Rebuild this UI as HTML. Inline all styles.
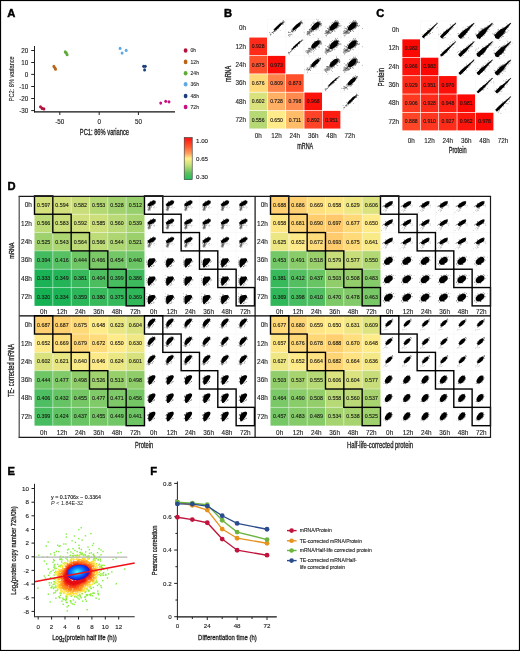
<!DOCTYPE html><html><head><meta charset="utf-8"><style>html,body{margin:0;padding:0;background:#fff;width:520px;height:651px;overflow:hidden}svg{display:block;will-change:transform;opacity:0.999;font-family:"Liberation Sans",sans-serif}.ti{stroke:#222;stroke-width:0.3px}.pl{stroke:#000;stroke-width:0.45px}.tk{stroke:#222;stroke-width:0.12px}</style></head><body><svg width="520" height="651" viewBox="0 0 520 651" font-family="'Liberation Sans', sans-serif">
<defs><g id="dTL0"><ellipse cx="5.00" cy="12.60" rx="1.10" ry="2.80" transform="rotate(18 5.00 12.60)" fill="#000" opacity="0.45"/><g fill="#000" opacity="0.5"><circle cx="4.16" cy="11.75" r="0.40"/><circle cx="6.05" cy="13.22" r="0.40"/><circle cx="4.93" cy="11.53" r="0.40"/><circle cx="3.12" cy="13.32" r="0.40"/><circle cx="7.12" cy="11.24" r="0.40"/><circle cx="4.26" cy="13.30" r="0.40"/><circle cx="3.47" cy="14.12" r="0.40"/><circle cx="5.47" cy="12.43" r="0.40"/><circle cx="5.87" cy="14.53" r="0.40"/><circle cx="6.91" cy="11.63" r="0.40"/><circle cx="4.76" cy="12.72" r="0.40"/><circle cx="5.06" cy="12.31" r="0.40"/><circle cx="3.81" cy="13.03" r="0.40"/><circle cx="4.78" cy="13.53" r="0.40"/><circle cx="3.51" cy="11.41" r="0.40"/><circle cx="5.11" cy="11.43" r="0.40"/></g><g fill="#000" opacity="0.4"><circle cx="8.77" cy="11.64" r="0.35"/><circle cx="10.17" cy="11.21" r="0.35"/><circle cx="11.66" cy="11.54" r="0.35"/><circle cx="10.17" cy="12.58" r="0.35"/><circle cx="9.91" cy="10.74" r="0.35"/><circle cx="8.85" cy="11.18" r="0.35"/></g><ellipse cx="7.20" cy="7.60" rx="4.40" ry="2.00" transform="rotate(-28 7.20 7.60)" fill="#000" opacity="1"/><g fill="#000" opacity="0.8"><circle cx="8.00" cy="9.68" r="0.40"/><circle cx="9.09" cy="4.30" r="0.40"/><circle cx="9.62" cy="8.42" r="0.40"/><circle cx="8.89" cy="9.17" r="0.40"/><circle cx="5.68" cy="5.82" r="0.40"/><circle cx="9.28" cy="9.06" r="0.40"/><circle cx="6.97" cy="10.58" r="0.40"/><circle cx="3.07" cy="8.16" r="0.40"/><circle cx="11.22" cy="5.67" r="0.40"/><circle cx="9.40" cy="4.63" r="0.40"/><circle cx="7.81" cy="4.92" r="0.40"/><circle cx="5.80" cy="5.37" r="0.40"/><circle cx="10.72" cy="4.99" r="0.40"/><circle cx="8.93" cy="4.60" r="0.40"/><circle cx="3.38" cy="9.82" r="0.40"/><circle cx="3.37" cy="10.83" r="0.40"/><circle cx="5.09" cy="10.67" r="0.40"/><circle cx="10.94" cy="7.24" r="0.40"/></g></g><g id="dTL1"><g fill="#000" opacity="0.45"><circle cx="10.16" cy="14.91" r="0.40"/><circle cx="2.39" cy="6.18" r="0.40"/><circle cx="6.19" cy="14.29" r="0.40"/><circle cx="6.06" cy="7.62" r="0.40"/><circle cx="5.01" cy="16.31" r="0.40"/><circle cx="2.36" cy="15.14" r="0.40"/><circle cx="8.07" cy="13.44" r="0.40"/><circle cx="8.80" cy="10.36" r="0.40"/><circle cx="6.15" cy="17.41" r="0.40"/><circle cx="5.34" cy="10.74" r="0.40"/><circle cx="2.30" cy="10.60" r="0.40"/><circle cx="8.72" cy="15.75" r="0.40"/><circle cx="8.45" cy="13.90" r="0.40"/><circle cx="8.26" cy="13.01" r="0.40"/></g><path d="M3.3 10 C3.5 8.5 5.6 7.6 8 7.4 C10.2 7.2 11.3 8 10.9 9.4 C10.4 11.2 8.5 13 6.9 14.4 C6 15.4 5.2 16.7 4.3 16.6 C3.5 16.4 3.1 13 3.3 10 Z" fill="#000"/><g fill="#000" opacity="0.8"><circle cx="11.42" cy="10.13" r="0.40"/><circle cx="8.82" cy="14.61" r="0.40"/><circle cx="11.76" cy="10.76" r="0.40"/><circle cx="4.88" cy="7.45" r="0.40"/><circle cx="9.36" cy="7.74" r="0.40"/><circle cx="4.50" cy="14.60" r="0.40"/><circle cx="5.54" cy="7.25" r="0.40"/><circle cx="7.20" cy="15.60" r="0.40"/><circle cx="9.56" cy="7.52" r="0.40"/><circle cx="7.39" cy="15.86" r="0.40"/><circle cx="10.53" cy="9.19" r="0.40"/><circle cx="2.73" cy="12.31" r="0.40"/><circle cx="2.52" cy="13.44" r="0.40"/><circle cx="3.83" cy="14.56" r="0.40"/><circle cx="2.30" cy="9.19" r="0.40"/><circle cx="3.00" cy="13.64" r="0.40"/><circle cx="9.66" cy="7.67" r="0.40"/><circle cx="10.38" cy="9.84" r="0.40"/><circle cx="10.80" cy="11.70" r="0.40"/><circle cx="10.55" cy="9.58" r="0.40"/><circle cx="5.11" cy="7.39" r="0.40"/><circle cx="2.14" cy="11.34" r="0.40"/></g></g><g id="dBL0"><ellipse cx="4.60" cy="11.00" rx="1.30" ry="2.20" transform="rotate(15 4.60 11.00)" fill="#000" opacity="0.35"/><g fill="#000" opacity="0.45"><circle cx="3.48" cy="10.76" r="0.40"/><circle cx="3.90" cy="10.50" r="0.40"/><circle cx="3.52" cy="10.30" r="0.40"/><circle cx="2.83" cy="11.47" r="0.40"/><circle cx="4.86" cy="11.96" r="0.40"/><circle cx="4.10" cy="11.07" r="0.40"/><circle cx="5.98" cy="10.96" r="0.40"/><circle cx="8.24" cy="11.15" r="0.40"/><circle cx="1.88" cy="11.67" r="0.40"/><circle cx="6.80" cy="11.33" r="0.40"/><circle cx="4.71" cy="12.21" r="0.40"/><circle cx="5.53" cy="10.53" r="0.40"/></g><path d="M3.6 7.4 C4 5.4 6.8 3.4 9.2 3 C10.8 2.8 11.2 3.8 10.4 5.4 C9.4 7.2 7.6 8.8 6.2 10 C5.4 10.7 4.6 11.2 4.1 10.8 C3.5 10.2 3.4 8.6 3.6 7.4 Z" fill="#000"/><g fill="#000" opacity="0.8"><circle cx="3.21" cy="9.24" r="0.40"/><circle cx="8.24" cy="10.26" r="0.40"/><circle cx="5.55" cy="4.19" r="0.40"/><circle cx="11.30" cy="5.71" r="0.40"/><circle cx="11.04" cy="3.91" r="0.40"/><circle cx="8.95" cy="9.03" r="0.40"/><circle cx="3.48" cy="9.52" r="0.40"/><circle cx="10.06" cy="2.53" r="0.40"/><circle cx="5.37" cy="10.06" r="0.40"/><circle cx="6.63" cy="3.77" r="0.40"/><circle cx="8.15" cy="2.84" r="0.40"/><circle cx="2.75" cy="8.66" r="0.40"/><circle cx="9.62" cy="3.41" r="0.40"/><circle cx="8.39" cy="2.65" r="0.40"/></g></g><g id="dBL1"><g fill="#000" opacity="0.45"><circle cx="7.08" cy="14.48" r="0.40"/><circle cx="4.79" cy="12.49" r="0.40"/><circle cx="2.80" cy="11.20" r="0.40"/><circle cx="2.96" cy="11.36" r="0.40"/><circle cx="5.43" cy="12.98" r="0.40"/><circle cx="4.84" cy="8.85" r="0.40"/><circle cx="3.68" cy="6.93" r="0.40"/><circle cx="9.44" cy="6.34" r="0.40"/><circle cx="5.77" cy="12.91" r="0.40"/><circle cx="5.30" cy="7.61" r="0.40"/></g><path d="M4 7.8 C4.4 5.8 7.2 4.4 9.6 4.5 C11.1 4.6 11.4 5.8 10.6 7.4 C9.6 9.6 8 11.4 6.8 12.9 C6 13.9 5 14.4 4.4 13.8 C3.6 12.8 3.6 9.8 4 7.8 Z" fill="#000"/><g fill="#000" opacity="0.8"><circle cx="5.56" cy="5.26" r="0.40"/><circle cx="3.07" cy="8.30" r="0.40"/><circle cx="4.08" cy="11.07" r="0.40"/><circle cx="9.35" cy="11.50" r="0.40"/><circle cx="6.95" cy="12.22" r="0.40"/><circle cx="6.75" cy="12.58" r="0.40"/><circle cx="10.15" cy="10.97" r="0.40"/><circle cx="3.62" cy="6.94" r="0.40"/><circle cx="8.36" cy="12.30" r="0.40"/><circle cx="3.60" cy="7.62" r="0.40"/><circle cx="4.38" cy="10.97" r="0.40"/><circle cx="3.41" cy="10.86" r="0.40"/><circle cx="10.21" cy="10.77" r="0.40"/><circle cx="3.74" cy="11.25" r="0.40"/><circle cx="5.07" cy="5.33" r="0.40"/><circle cx="9.49" cy="4.66" r="0.40"/><circle cx="8.22" cy="4.82" r="0.40"/><circle cx="3.65" cy="7.56" r="0.40"/></g></g><g id="dTR0"><g fill="#000" opacity="0.4"><circle cx="6.44" cy="12.24" r="0.40"/><circle cx="5.09" cy="10.15" r="0.40"/><circle cx="4.69" cy="15.87" r="0.40"/><circle cx="6.98" cy="11.78" r="0.40"/><circle cx="4.09" cy="13.17" r="0.40"/><circle cx="1.28" cy="16.29" r="0.40"/><circle cx="5.71" cy="14.45" r="0.40"/><circle cx="6.15" cy="13.06" r="0.40"/><circle cx="5.09" cy="14.95" r="0.40"/><circle cx="5.79" cy="12.81" r="0.40"/><circle cx="3.16" cy="14.59" r="0.40"/><circle cx="5.32" cy="11.85" r="0.40"/><circle cx="6.28" cy="14.62" r="0.40"/><circle cx="5.37" cy="13.76" r="0.40"/></g><g fill="#000" opacity="0.35"><circle cx="13.38" cy="10.85" r="0.35"/><circle cx="11.84" cy="9.11" r="0.35"/><circle cx="12.98" cy="11.19" r="0.35"/><circle cx="13.03" cy="8.90" r="0.35"/><circle cx="11.87" cy="9.78" r="0.35"/><circle cx="13.56" cy="9.82" r="0.35"/></g><ellipse cx="8.10" cy="8.60" rx="4.70" ry="2.00" transform="rotate(-32 8.10 8.60)" fill="#000" opacity="1"/><g fill="#000" opacity="0.8"><circle cx="11.76" cy="5.68" r="0.40"/><circle cx="12.20" cy="6.02" r="0.40"/><circle cx="11.16" cy="9.26" r="0.40"/><circle cx="6.47" cy="11.91" r="0.40"/><circle cx="10.61" cy="5.44" r="0.40"/><circle cx="7.05" cy="12.36" r="0.40"/><circle cx="3.31" cy="9.85" r="0.40"/><circle cx="11.50" cy="5.27" r="0.40"/><circle cx="5.31" cy="7.26" r="0.40"/><circle cx="3.72" cy="9.94" r="0.40"/><circle cx="7.54" cy="11.42" r="0.40"/><circle cx="2.82" cy="10.35" r="0.40"/><circle cx="11.61" cy="5.45" r="0.40"/><circle cx="2.18" cy="10.91" r="0.40"/><circle cx="5.58" cy="7.70" r="0.40"/><circle cx="11.98" cy="5.49" r="0.40"/></g></g><g id="dTR1"><g fill="#000" opacity="0.4"><circle cx="15.38" cy="6.23" r="0.40"/><circle cx="9.11" cy="9.11" r="0.40"/><circle cx="5.01" cy="8.05" r="0.40"/><circle cx="6.24" cy="9.66" r="0.40"/><circle cx="9.31" cy="13.44" r="0.40"/><circle cx="8.68" cy="13.68" r="0.40"/><circle cx="9.42" cy="10.22" r="0.40"/><circle cx="7.12" cy="6.56" r="0.40"/><circle cx="2.48" cy="9.56" r="0.40"/><circle cx="7.26" cy="10.91" r="0.40"/><circle cx="8.94" cy="5.56" r="0.40"/><circle cx="5.41" cy="6.03" r="0.40"/><circle cx="11.17" cy="9.41" r="0.40"/><circle cx="8.20" cy="6.75" r="0.40"/><circle cx="3.51" cy="7.81" r="0.40"/><circle cx="7.43" cy="11.32" r="0.40"/></g><ellipse cx="7.90" cy="10.00" rx="4.80" ry="3.10" transform="rotate(-38 7.90 10.00)" fill="#000" opacity="1"/><g fill="#000" opacity="0.8"><circle cx="4.99" cy="8.22" r="0.40"/><circle cx="12.02" cy="6.73" r="0.40"/><circle cx="11.11" cy="11.32" r="0.40"/><circle cx="6.06" cy="7.24" r="0.40"/><circle cx="11.94" cy="10.29" r="0.40"/><circle cx="5.96" cy="6.52" r="0.40"/><circle cx="4.05" cy="14.93" r="0.40"/><circle cx="13.63" cy="9.18" r="0.40"/><circle cx="2.81" cy="13.44" r="0.40"/><circle cx="4.78" cy="13.89" r="0.40"/><circle cx="8.46" cy="13.53" r="0.40"/><circle cx="6.21" cy="7.31" r="0.40"/><circle cx="8.45" cy="6.01" r="0.40"/><circle cx="8.47" cy="13.75" r="0.40"/><circle cx="2.69" cy="12.78" r="0.40"/><circle cx="11.10" cy="5.20" r="0.40"/><circle cx="8.13" cy="13.61" r="0.40"/><circle cx="12.27" cy="8.93" r="0.40"/><circle cx="3.97" cy="9.34" r="0.40"/><circle cx="12.75" cy="5.95" r="0.40"/></g></g><g id="dBR0"><g fill="#000" opacity="0.4"><circle cx="3.36" cy="14.52" r="0.40"/><circle cx="5.38" cy="11.91" r="0.40"/><circle cx="5.98" cy="11.37" r="0.40"/><circle cx="7.39" cy="13.38" r="0.40"/><circle cx="4.97" cy="13.62" r="0.40"/><circle cx="3.82" cy="13.33" r="0.40"/><circle cx="6.08" cy="13.89" r="0.40"/><circle cx="5.59" cy="11.35" r="0.40"/><circle cx="5.39" cy="10.98" r="0.40"/><circle cx="5.29" cy="11.92" r="0.40"/></g><ellipse cx="8.30" cy="7.60" rx="4.20" ry="1.80" transform="rotate(-45 8.30 7.60)" fill="#000" opacity="1"/><g fill="#000" opacity="0.8"><circle cx="6.93" cy="6.33" r="0.40"/><circle cx="4.79" cy="9.43" r="0.40"/><circle cx="11.69" cy="5.14" r="0.40"/><circle cx="12.46" cy="4.30" r="0.40"/><circle cx="5.32" cy="7.66" r="0.40"/><circle cx="10.79" cy="4.38" r="0.40"/><circle cx="11.99" cy="3.64" r="0.40"/><circle cx="7.63" cy="5.33" r="0.40"/><circle cx="12.12" cy="3.14" r="0.40"/><circle cx="10.20" cy="8.40" r="0.40"/><circle cx="12.10" cy="6.17" r="0.40"/><circle cx="11.32" cy="3.76" r="0.40"/></g></g><g id="dBR1"><g fill="#000" opacity="0.4"><circle cx="3.15" cy="12.53" r="0.40"/><circle cx="6.79" cy="11.31" r="0.40"/><circle cx="9.50" cy="10.68" r="0.40"/><circle cx="6.20" cy="14.20" r="0.40"/><circle cx="5.73" cy="11.45" r="0.40"/><circle cx="6.82" cy="10.27" r="0.40"/><circle cx="10.23" cy="10.46" r="0.40"/><circle cx="5.23" cy="12.86" r="0.40"/><circle cx="5.76" cy="9.42" r="0.40"/><circle cx="4.21" cy="10.99" r="0.40"/></g><ellipse cx="7.90" cy="8.90" rx="4.40" ry="2.60" transform="rotate(-52 7.90 8.90)" fill="#000" opacity="1"/><g fill="#000" opacity="0.8"><circle cx="11.85" cy="7.05" r="0.40"/><circle cx="11.46" cy="8.81" r="0.40"/><circle cx="11.85" cy="7.54" r="0.40"/><circle cx="10.62" cy="9.70" r="0.40"/><circle cx="7.04" cy="12.80" r="0.40"/><circle cx="11.06" cy="9.07" r="0.40"/><circle cx="10.94" cy="5.75" r="0.40"/><circle cx="10.60" cy="5.01" r="0.40"/><circle cx="8.79" cy="12.01" r="0.40"/><circle cx="8.98" cy="5.11" r="0.40"/><circle cx="4.84" cy="12.63" r="0.40"/><circle cx="10.00" cy="11.44" r="0.40"/><circle cx="10.33" cy="10.16" r="0.40"/><circle cx="11.02" cy="5.29" r="0.40"/><circle cx="6.07" cy="6.66" r="0.40"/><circle cx="4.65" cy="12.47" r="0.40"/></g></g><g id="th1"><g fill="#000" opacity="0.75"><circle cx="13.2" cy="4.9" r="0.42"/><circle cx="8.0" cy="10.3" r="0.42"/><circle cx="15.6" cy="3.5" r="0.42"/><circle cx="15.9" cy="2.9" r="0.42"/><circle cx="3.7" cy="15.8" r="0.42"/><circle cx="5.2" cy="14.3" r="0.42"/><circle cx="4.5" cy="14.8" r="0.42"/><circle cx="8.5" cy="11.8" r="0.42"/><circle cx="10.6" cy="7.3" r="0.42"/><circle cx="9.5" cy="10.0" r="0.42"/><circle cx="10.1" cy="9.9" r="0.42"/><circle cx="11.4" cy="8.7" r="0.42"/><circle cx="15.4" cy="3.6" r="0.42"/><circle cx="12.8" cy="5.3" r="0.42"/><circle cx="10.1" cy="7.8" r="0.42"/><circle cx="15.6" cy="4.5" r="0.42"/><circle cx="6.7" cy="12.5" r="0.42"/><circle cx="13.6" cy="6.0" r="0.42"/><circle cx="11.7" cy="8.8" r="0.42"/><circle cx="9.7" cy="8.9" r="0.42"/><circle cx="9.6" cy="10.0" r="0.42"/><circle cx="9.6" cy="9.7" r="0.42"/><circle cx="6.1" cy="13.1" r="0.42"/><circle cx="7.4" cy="11.0" r="0.42"/><circle cx="7.2" cy="11.9" r="0.42"/><circle cx="13.2" cy="6.5" r="0.42"/><circle cx="16.7" cy="2.9" r="0.42"/><circle cx="13.7" cy="6.5" r="0.42"/><circle cx="7.5" cy="10.8" r="0.42"/><circle cx="2.6" cy="15.2" r="0.42"/><circle cx="9.2" cy="9.4" r="0.42"/><circle cx="14.1" cy="4.3" r="0.42"/><circle cx="6.1" cy="11.5" r="0.42"/><circle cx="13.3" cy="6.1" r="0.42"/><circle cx="14.1" cy="5.2" r="0.42"/><circle cx="3.2" cy="15.1" r="0.42"/><circle cx="10.4" cy="8.3" r="0.42"/><circle cx="11.3" cy="8.0" r="0.42"/><circle cx="14.5" cy="5.0" r="0.42"/><circle cx="13.2" cy="5.6" r="0.42"/><circle cx="14.4" cy="4.7" r="0.42"/><circle cx="15.2" cy="4.2" r="0.42"/><circle cx="16.6" cy="2.8" r="0.42"/><circle cx="11.3" cy="9.3" r="0.42"/><circle cx="6.3" cy="12.8" r="0.42"/><circle cx="5.2" cy="14.3" r="0.42"/><circle cx="13.6" cy="6.6" r="0.42"/><circle cx="9.2" cy="8.7" r="0.42"/><circle cx="3.1" cy="15.0" r="0.42"/><circle cx="3.9" cy="15.1" r="0.42"/><circle cx="11.8" cy="8.5" r="0.42"/><circle cx="8.2" cy="9.9" r="0.42"/><circle cx="10.0" cy="8.6" r="0.42"/><circle cx="7.2" cy="11.6" r="0.42"/><circle cx="10.1" cy="9.0" r="0.42"/><circle cx="6.6" cy="11.1" r="0.42"/><circle cx="10.7" cy="7.8" r="0.42"/><circle cx="7.7" cy="11.0" r="0.42"/><circle cx="11.1" cy="7.9" r="0.42"/><circle cx="8.0" cy="10.4" r="0.42"/><circle cx="10.5" cy="8.5" r="0.42"/><circle cx="9.3" cy="10.2" r="0.42"/><circle cx="8.3" cy="9.3" r="0.42"/><circle cx="12.0" cy="6.8" r="0.42"/><circle cx="7.0" cy="12.0" r="0.42"/><circle cx="11.2" cy="7.8" r="0.42"/><circle cx="13.8" cy="4.2" r="0.42"/><circle cx="13.1" cy="6.5" r="0.42"/><circle cx="9.8" cy="8.3" r="0.42"/><circle cx="11.1" cy="8.0" r="0.42"/><circle cx="15.9" cy="3.5" r="0.42"/><circle cx="10.8" cy="7.1" r="0.42"/><circle cx="15.5" cy="4.4" r="0.42"/><circle cx="7.4" cy="11.6" r="0.42"/><circle cx="3.1" cy="16.5" r="0.42"/><circle cx="14.6" cy="4.4" r="0.42"/><circle cx="5.8" cy="13.4" r="0.42"/><circle cx="17.2" cy="2.9" r="0.42"/><circle cx="8.6" cy="10.5" r="0.42"/><circle cx="12.3" cy="6.7" r="0.42"/><circle cx="3.5" cy="17.1" r=".35"/><circle cx="5.5" cy="12.1" r=".35"/><circle cx="12.9" cy="5.4" r=".35"/><circle cx="7.8" cy="9.0" r=".35"/></g><ellipse cx="10.40" cy="8.20" rx="6.20" ry="0.75" transform="rotate(-43.798166935547876 10.40 8.20)" fill="#000" opacity="1"/></g><g id="th2"><g fill="#000" opacity="0.75"><circle cx="6.3" cy="12.8" r="0.42"/><circle cx="13.3" cy="5.5" r="0.42"/><circle cx="3.7" cy="15.2" r="0.42"/><circle cx="15.2" cy="5.1" r="0.42"/><circle cx="2.4" cy="13.4" r="0.42"/><circle cx="12.7" cy="5.7" r="0.42"/><circle cx="11.5" cy="6.9" r="0.42"/><circle cx="12.1" cy="6.2" r="0.42"/><circle cx="15.3" cy="4.3" r="0.42"/><circle cx="7.1" cy="12.5" r="0.42"/><circle cx="13.0" cy="6.6" r="0.42"/><circle cx="14.0" cy="4.5" r="0.42"/><circle cx="10.2" cy="8.2" r="0.42"/><circle cx="13.7" cy="5.7" r="0.42"/><circle cx="2.9" cy="15.6" r="0.42"/><circle cx="7.7" cy="12.6" r="0.42"/><circle cx="12.8" cy="5.8" r="0.42"/><circle cx="9.6" cy="8.9" r="0.42"/><circle cx="6.2" cy="14.4" r="0.42"/><circle cx="12.2" cy="5.3" r="0.42"/><circle cx="13.0" cy="5.5" r="0.42"/><circle cx="14.4" cy="5.0" r="0.42"/><circle cx="14.4" cy="4.1" r="0.42"/><circle cx="15.0" cy="5.1" r="0.42"/><circle cx="11.6" cy="7.5" r="0.42"/><circle cx="15.4" cy="4.2" r="0.42"/><circle cx="7.6" cy="11.6" r="0.42"/><circle cx="13.6" cy="5.4" r="0.42"/><circle cx="12.2" cy="5.1" r="0.42"/><circle cx="11.8" cy="7.9" r="0.42"/><circle cx="11.3" cy="7.5" r="0.42"/><circle cx="10.7" cy="9.9" r="0.42"/><circle cx="7.5" cy="12.6" r="0.42"/><circle cx="14.8" cy="4.8" r="0.42"/><circle cx="5.2" cy="13.6" r="0.42"/><circle cx="12.7" cy="6.8" r="0.42"/><circle cx="14.2" cy="5.0" r="0.42"/><circle cx="14.4" cy="5.6" r="0.42"/><circle cx="12.4" cy="6.4" r="0.42"/><circle cx="16.1" cy="5.1" r="0.42"/><circle cx="12.8" cy="6.2" r="0.42"/><circle cx="15.6" cy="3.5" r="0.42"/><circle cx="6.1" cy="10.4" r="0.42"/><circle cx="16.7" cy="2.6" r="0.42"/><circle cx="9.0" cy="9.7" r="0.42"/><circle cx="7.8" cy="11.1" r="0.42"/><circle cx="15.3" cy="4.2" r="0.42"/><circle cx="13.2" cy="4.0" r="0.42"/><circle cx="11.5" cy="9.0" r="0.42"/><circle cx="5.9" cy="13.2" r="0.42"/><circle cx="15.4" cy="3.1" r="0.42"/><circle cx="5.5" cy="13.5" r="0.42"/><circle cx="15.5" cy="3.5" r="0.42"/><circle cx="12.5" cy="5.7" r="0.42"/><circle cx="16.0" cy="1.8" r="0.42"/><circle cx="13.9" cy="4.9" r="0.42"/><circle cx="13.9" cy="5.1" r="0.42"/><circle cx="9.9" cy="8.2" r="0.42"/><circle cx="9.5" cy="10.2" r="0.42"/><circle cx="8.4" cy="10.4" r="0.42"/><circle cx="10.8" cy="8.4" r="0.42"/><circle cx="4.6" cy="13.5" r="0.42"/><circle cx="12.0" cy="7.0" r="0.42"/><circle cx="9.5" cy="9.6" r="0.42"/><circle cx="7.8" cy="10.9" r="0.42"/><circle cx="15.9" cy="3.2" r="0.42"/><circle cx="7.4" cy="11.4" r="0.42"/><circle cx="9.5" cy="11.4" r="0.42"/><circle cx="9.3" cy="10.2" r="0.42"/><circle cx="12.9" cy="5.1" r="0.42"/><circle cx="12.2" cy="7.5" r="0.42"/><circle cx="8.5" cy="10.8" r="0.42"/><circle cx="9.1" cy="9.3" r="0.42"/><circle cx="9.4" cy="9.9" r="0.42"/><circle cx="15.6" cy="4.8" r="0.42"/><circle cx="8.7" cy="8.3" r="0.42"/><circle cx="8.5" cy="9.6" r="0.42"/><circle cx="11.0" cy="9.2" r="0.42"/><circle cx="16.4" cy="3.4" r="0.42"/><circle cx="8.7" cy="11.0" r="0.42"/><circle cx="10.2" cy="8.7" r="0.42"/><circle cx="3.6" cy="15.5" r="0.42"/><circle cx="15.2" cy="3.4" r="0.42"/><circle cx="15.2" cy="3.7" r="0.42"/><circle cx="15.3" cy="4.6" r="0.42"/><circle cx="15.7" cy="3.3" r="0.42"/><circle cx="16.2" cy="3.2" r="0.42"/><circle cx="9.8" cy="8.3" r="0.42"/><circle cx="15.7" cy="2.5" r="0.42"/><circle cx="9.2" cy="8.3" r="0.42"/><circle cx="7.5" cy="9.8" r="0.42"/><circle cx="9.4" cy="10.1" r="0.42"/><circle cx="12.7" cy="5.3" r="0.42"/><circle cx="17.4" cy="3.3" r="0.42"/><circle cx="5.9" cy="12.4" r="0.42"/><circle cx="14.7" cy="3.2" r="0.42"/><circle cx="11.2" cy="6.9" r="0.42"/><circle cx="10.6" cy="8.1" r="0.42"/><circle cx="11.7" cy="5.8" r="0.42"/><circle cx="7.7" cy="10.8" r="0.42"/><circle cx="15.7" cy="1.9" r=".35"/><circle cx="3.5" cy="14.9" r=".35"/><circle cx="5.1" cy="13.8" r=".35"/><circle cx="3.0" cy="16.8" r=".35"/><circle cx="9.6" cy="8.5" r=".35"/><circle cx="12.9" cy="11.4" r=".35"/></g><ellipse cx="10.80" cy="7.80" rx="5.60" ry="1.15" transform="rotate(-43.798166935547876 10.80 7.80)" fill="#000" opacity="1"/></g><g id="th3"><g fill="#000" opacity="0.75"><circle cx="8.9" cy="8.9" r="0.42"/><circle cx="15.5" cy="1.9" r="0.42"/><circle cx="9.1" cy="9.1" r="0.42"/><circle cx="14.9" cy="4.5" r="0.42"/><circle cx="6.9" cy="10.3" r="0.42"/><circle cx="15.4" cy="3.6" r="0.42"/><circle cx="5.8" cy="12.7" r="0.42"/><circle cx="11.5" cy="7.0" r="0.42"/><circle cx="7.1" cy="12.4" r="0.42"/><circle cx="5.2" cy="15.2" r="0.42"/><circle cx="13.2" cy="7.0" r="0.42"/><circle cx="8.3" cy="12.4" r="0.42"/><circle cx="3.7" cy="17.3" r="0.42"/><circle cx="8.9" cy="8.5" r="0.42"/><circle cx="14.3" cy="3.3" r="0.42"/><circle cx="11.2" cy="8.8" r="0.42"/><circle cx="13.8" cy="6.1" r="0.42"/><circle cx="8.5" cy="8.6" r="0.42"/><circle cx="6.5" cy="9.4" r="0.42"/><circle cx="13.4" cy="5.5" r="0.42"/><circle cx="5.8" cy="12.7" r="0.42"/><circle cx="12.8" cy="6.3" r="0.42"/><circle cx="13.8" cy="5.0" r="0.42"/><circle cx="11.8" cy="9.0" r="0.42"/><circle cx="11.2" cy="7.3" r="0.42"/><circle cx="9.9" cy="8.1" r="0.42"/><circle cx="12.0" cy="7.6" r="0.42"/><circle cx="16.9" cy="4.9" r="0.42"/><circle cx="10.0" cy="8.9" r="0.42"/><circle cx="13.1" cy="7.3" r="0.42"/><circle cx="10.3" cy="8.2" r="0.42"/><circle cx="11.9" cy="5.8" r="0.42"/><circle cx="12.8" cy="5.8" r="0.42"/><circle cx="12.1" cy="6.8" r="0.42"/><circle cx="11.9" cy="7.4" r="0.42"/><circle cx="14.6" cy="5.3" r="0.42"/><circle cx="15.2" cy="3.1" r="0.42"/><circle cx="11.2" cy="8.5" r="0.42"/><circle cx="6.6" cy="11.7" r="0.42"/><circle cx="7.2" cy="13.5" r="0.42"/><circle cx="12.3" cy="6.5" r="0.42"/><circle cx="16.1" cy="3.3" r="0.42"/><circle cx="9.0" cy="9.5" r="0.42"/><circle cx="13.5" cy="5.2" r="0.42"/><circle cx="13.0" cy="5.0" r="0.42"/><circle cx="13.4" cy="3.9" r="0.42"/><circle cx="14.0" cy="3.7" r="0.42"/><circle cx="14.7" cy="5.3" r="0.42"/><circle cx="16.1" cy="3.2" r="0.42"/><circle cx="15.5" cy="3.9" r="0.42"/><circle cx="9.0" cy="9.4" r="0.42"/><circle cx="12.5" cy="5.2" r="0.42"/><circle cx="15.1" cy="3.8" r="0.42"/><circle cx="13.9" cy="4.5" r="0.42"/><circle cx="10.5" cy="9.6" r="0.42"/><circle cx="11.5" cy="8.0" r="0.42"/><circle cx="7.6" cy="11.1" r="0.42"/><circle cx="13.7" cy="6.4" r="0.42"/><circle cx="11.2" cy="5.9" r="0.42"/><circle cx="9.7" cy="11.7" r="0.42"/><circle cx="14.0" cy="4.6" r="0.42"/><circle cx="13.6" cy="7.5" r="0.42"/><circle cx="6.0" cy="11.7" r="0.42"/><circle cx="7.1" cy="12.5" r="0.42"/><circle cx="13.1" cy="5.0" r="0.42"/><circle cx="10.6" cy="8.0" r="0.42"/><circle cx="14.4" cy="6.8" r="0.42"/><circle cx="9.8" cy="9.5" r="0.42"/><circle cx="6.2" cy="12.3" r="0.42"/><circle cx="15.1" cy="3.5" r="0.42"/><circle cx="14.9" cy="4.0" r="0.42"/><circle cx="11.1" cy="8.8" r="0.42"/><circle cx="10.4" cy="10.8" r="0.42"/><circle cx="15.5" cy="3.9" r="0.42"/><circle cx="13.2" cy="7.1" r="0.42"/><circle cx="7.3" cy="10.8" r="0.42"/><circle cx="12.1" cy="7.8" r="0.42"/><circle cx="9.1" cy="10.3" r="0.42"/><circle cx="2.9" cy="13.1" r="0.42"/><circle cx="3.6" cy="13.8" r="0.42"/><circle cx="5.5" cy="11.0" r="0.42"/><circle cx="6.9" cy="12.5" r="0.42"/><circle cx="14.3" cy="3.9" r="0.42"/><circle cx="15.4" cy="4.1" r="0.42"/><circle cx="14.8" cy="2.5" r="0.42"/><circle cx="11.6" cy="8.4" r="0.42"/><circle cx="7.8" cy="10.2" r="0.42"/><circle cx="7.7" cy="11.2" r="0.42"/><circle cx="7.9" cy="10.0" r="0.42"/><circle cx="10.2" cy="7.7" r="0.42"/><circle cx="9.9" cy="11.4" r="0.42"/><circle cx="4.9" cy="13.7" r="0.42"/><circle cx="8.7" cy="8.6" r="0.42"/><circle cx="3.5" cy="15.8" r="0.42"/><circle cx="2.9" cy="16.1" r="0.42"/><circle cx="16.3" cy="4.1" r="0.42"/><circle cx="14.1" cy="4.4" r="0.42"/><circle cx="12.3" cy="8.4" r="0.42"/><circle cx="4.7" cy="16.1" r="0.42"/><circle cx="6.4" cy="11.9" r="0.42"/><circle cx="9.2" cy="10.0" r="0.42"/><circle cx="10.1" cy="9.7" r="0.42"/><circle cx="14.8" cy="3.0" r="0.42"/><circle cx="15.4" cy="5.0" r="0.42"/><circle cx="8.5" cy="8.4" r="0.42"/><circle cx="10.5" cy="9.7" r="0.42"/><circle cx="14.0" cy="5.3" r="0.42"/><circle cx="6.0" cy="15.2" r="0.42"/><circle cx="11.6" cy="7.5" r="0.42"/><circle cx="13.8" cy="5.9" r="0.42"/><circle cx="6.4" cy="13.0" r="0.42"/><circle cx="16.1" cy="2.3" r="0.42"/><circle cx="9.8" cy="11.9" r="0.42"/><circle cx="12.5" cy="6.2" r="0.42"/><circle cx="10.0" cy="9.6" r="0.42"/><circle cx="7.5" cy="11.3" r="0.42"/><circle cx="12.9" cy="7.1" r="0.42"/><circle cx="2.9" cy="13.8" r="0.42"/><circle cx="11.3" cy="8.0" r="0.42"/><circle cx="16.8" cy="3.7" r="0.42"/><circle cx="4.0" cy="16.1" r=".35"/><circle cx="7.4" cy="11.7" r=".35"/><circle cx="6.4" cy="16.0" r=".35"/><circle cx="12.9" cy="5.3" r=".35"/><circle cx="12.1" cy="6.7" r=".35"/><circle cx="2.6" cy="16.5" r=".35"/><circle cx="3.3" cy="13.3" r=".35"/><circle cx="14.3" cy="7.1" r=".35"/></g><ellipse cx="11.00" cy="7.60" rx="5.40" ry="1.55" transform="rotate(-43.798166935547876 11.00 7.60)" fill="#000" opacity="1"/></g><g id="th4"><g fill="#000" opacity="0.75"><circle cx="15.2" cy="6.1" r="0.42"/><circle cx="7.9" cy="10.8" r="0.42"/><circle cx="5.7" cy="13.7" r="0.42"/><circle cx="16.4" cy="3.1" r="0.42"/><circle cx="14.1" cy="5.0" r="0.42"/><circle cx="13.2" cy="6.3" r="0.42"/><circle cx="11.7" cy="8.3" r="0.42"/><circle cx="13.3" cy="4.0" r="0.42"/><circle cx="14.6" cy="4.8" r="0.42"/><circle cx="15.7" cy="3.1" r="0.42"/><circle cx="14.0" cy="3.6" r="0.42"/><circle cx="13.7" cy="7.7" r="0.42"/><circle cx="15.3" cy="4.8" r="0.42"/><circle cx="11.1" cy="6.1" r="0.42"/><circle cx="7.3" cy="10.8" r="0.42"/><circle cx="10.9" cy="11.9" r="0.42"/><circle cx="11.8" cy="6.8" r="0.42"/><circle cx="16.3" cy="4.2" r="0.42"/><circle cx="6.6" cy="15.1" r="0.42"/><circle cx="13.7" cy="7.0" r="0.42"/><circle cx="8.1" cy="10.5" r="0.42"/><circle cx="11.3" cy="9.2" r="0.42"/><circle cx="11.9" cy="3.9" r="0.42"/><circle cx="5.0" cy="13.8" r="0.42"/><circle cx="10.9" cy="8.3" r="0.42"/><circle cx="7.7" cy="12.0" r="0.42"/><circle cx="7.1" cy="10.8" r="0.42"/><circle cx="9.9" cy="10.9" r="0.42"/><circle cx="13.6" cy="6.2" r="0.42"/><circle cx="9.1" cy="10.8" r="0.42"/><circle cx="5.9" cy="14.2" r="0.42"/><circle cx="13.0" cy="4.9" r="0.42"/><circle cx="14.3" cy="5.9" r="0.42"/><circle cx="4.3" cy="14.6" r="0.42"/><circle cx="14.2" cy="5.9" r="0.42"/><circle cx="9.6" cy="8.3" r="0.42"/><circle cx="14.0" cy="5.9" r="0.42"/><circle cx="14.1" cy="4.7" r="0.42"/><circle cx="9.0" cy="10.4" r="0.42"/><circle cx="4.1" cy="14.5" r="0.42"/><circle cx="13.4" cy="7.0" r="0.42"/><circle cx="3.0" cy="14.3" r="0.42"/><circle cx="11.2" cy="5.7" r="0.42"/><circle cx="9.7" cy="10.1" r="0.42"/><circle cx="13.0" cy="2.9" r="0.42"/><circle cx="10.8" cy="7.6" r="0.42"/><circle cx="16.1" cy="3.0" r="0.42"/><circle cx="16.4" cy="2.5" r="0.42"/><circle cx="9.0" cy="9.7" r="0.42"/><circle cx="9.5" cy="9.8" r="0.42"/><circle cx="11.2" cy="6.9" r="0.42"/><circle cx="9.3" cy="12.0" r="0.42"/><circle cx="13.1" cy="6.6" r="0.42"/><circle cx="15.9" cy="3.3" r="0.42"/><circle cx="8.2" cy="9.2" r="0.42"/><circle cx="7.5" cy="11.1" r="0.42"/><circle cx="13.9" cy="6.1" r="0.42"/><circle cx="11.9" cy="7.1" r="0.42"/><circle cx="12.4" cy="5.6" r="0.42"/><circle cx="12.7" cy="5.1" r="0.42"/><circle cx="14.1" cy="3.0" r="0.42"/><circle cx="9.2" cy="11.1" r="0.42"/><circle cx="10.3" cy="8.7" r="0.42"/><circle cx="11.8" cy="7.0" r="0.42"/><circle cx="10.8" cy="10.6" r="0.42"/><circle cx="14.1" cy="6.8" r="0.42"/><circle cx="15.2" cy="4.7" r="0.42"/><circle cx="16.0" cy="3.4" r="0.42"/><circle cx="12.1" cy="10.5" r="0.42"/><circle cx="3.8" cy="13.1" r="0.42"/><circle cx="2.2" cy="14.3" r="0.42"/><circle cx="13.5" cy="6.7" r="0.42"/><circle cx="9.9" cy="9.0" r="0.42"/><circle cx="5.6" cy="13.6" r="0.42"/><circle cx="6.0" cy="10.7" r="0.42"/><circle cx="12.8" cy="7.8" r="0.42"/><circle cx="11.2" cy="7.9" r="0.42"/><circle cx="14.1" cy="5.5" r="0.42"/><circle cx="8.9" cy="9.8" r="0.42"/><circle cx="7.1" cy="12.9" r="0.42"/><circle cx="11.3" cy="10.4" r="0.42"/><circle cx="9.8" cy="8.7" r="0.42"/><circle cx="11.7" cy="6.5" r="0.42"/><circle cx="3.7" cy="12.5" r="0.42"/><circle cx="10.4" cy="7.9" r="0.42"/><circle cx="4.3" cy="13.8" r="0.42"/><circle cx="13.1" cy="7.6" r="0.42"/><circle cx="9.6" cy="8.1" r="0.42"/><circle cx="13.1" cy="5.5" r="0.42"/><circle cx="6.8" cy="9.7" r="0.42"/><circle cx="13.1" cy="6.0" r="0.42"/><circle cx="7.9" cy="8.6" r="0.42"/><circle cx="8.5" cy="9.7" r="0.42"/><circle cx="14.3" cy="4.9" r="0.42"/><circle cx="12.9" cy="7.2" r="0.42"/><circle cx="11.2" cy="8.7" r="0.42"/><circle cx="11.6" cy="7.2" r="0.42"/><circle cx="12.1" cy="7.5" r="0.42"/><circle cx="13.4" cy="6.5" r="0.42"/><circle cx="9.4" cy="8.5" r="0.42"/><circle cx="14.3" cy="5.9" r="0.42"/><circle cx="10.2" cy="9.1" r="0.42"/><circle cx="13.6" cy="5.4" r="0.42"/><circle cx="12.8" cy="6.2" r="0.42"/><circle cx="8.6" cy="10.2" r="0.42"/><circle cx="16.3" cy="3.0" r="0.42"/><circle cx="6.4" cy="10.9" r="0.42"/><circle cx="11.0" cy="6.5" r="0.42"/><circle cx="10.3" cy="11.1" r="0.42"/><circle cx="6.5" cy="9.3" r="0.42"/><circle cx="11.3" cy="5.5" r="0.42"/><circle cx="9.1" cy="10.5" r="0.42"/><circle cx="12.1" cy="6.9" r="0.42"/><circle cx="12.3" cy="7.1" r="0.42"/><circle cx="9.3" cy="8.8" r="0.42"/><circle cx="12.7" cy="5.1" r="0.42"/><circle cx="4.5" cy="14.0" r="0.42"/><circle cx="5.2" cy="13.4" r="0.42"/><circle cx="15.8" cy="4.9" r="0.42"/><circle cx="9.6" cy="9.3" r="0.42"/><circle cx="10.4" cy="8.4" r="0.42"/><circle cx="16.6" cy="2.7" r="0.42"/><circle cx="7.5" cy="11.2" r="0.42"/><circle cx="13.7" cy="5.8" r="0.42"/><circle cx="3.0" cy="12.5" r="0.42"/><circle cx="8.7" cy="10.8" r="0.42"/><circle cx="15.4" cy="3.4" r="0.42"/><circle cx="14.6" cy="1.9" r="0.42"/><circle cx="9.1" cy="11.3" r="0.42"/><circle cx="10.3" cy="9.0" r="0.42"/><circle cx="11.1" cy="9.3" r="0.42"/><circle cx="11.9" cy="7.9" r="0.42"/><circle cx="9.5" cy="12.3" r="0.42"/><circle cx="13.5" cy="4.1" r="0.42"/><circle cx="6.5" cy="12.0" r="0.42"/><circle cx="9.7" cy="10.1" r="0.42"/><circle cx="13.5" cy="5.0" r="0.42"/><circle cx="3.1" cy="14.2" r="0.42"/><circle cx="5.9" cy="13.2" r="0.42"/><circle cx="10.2" cy="8.8" r="0.42"/><circle cx="5.0" cy="12.1" r=".35"/><circle cx="15.6" cy="4.0" r=".35"/><circle cx="5.3" cy="13.1" r=".35"/><circle cx="6.4" cy="14.9" r=".35"/><circle cx="3.6" cy="15.4" r=".35"/><circle cx="6.0" cy="11.5" r=".35"/><circle cx="0.9" cy="14.3" r=".35"/><circle cx="15.0" cy="3.0" r=".35"/><circle cx="3.4" cy="16.8" r=".35"/><circle cx="7.2" cy="11.1" r=".35"/></g><ellipse cx="11.20" cy="7.40" rx="5.20" ry="1.95" transform="rotate(-43.798166935547876 11.20 7.40)" fill="#000" opacity="1"/></g><g id="th5"><g fill="#000" opacity="0.75"><circle cx="14.9" cy="4.4" r="0.42"/><circle cx="11.9" cy="7.2" r="0.42"/><circle cx="10.3" cy="8.5" r="0.42"/><circle cx="15.7" cy="2.3" r="0.42"/><circle cx="15.6" cy="4.2" r="0.42"/><circle cx="2.6" cy="11.3" r="0.42"/><circle cx="8.7" cy="12.1" r="0.42"/><circle cx="11.9" cy="5.1" r="0.42"/><circle cx="16.3" cy="4.8" r="0.42"/><circle cx="13.1" cy="6.1" r="0.42"/><circle cx="14.7" cy="6.1" r="0.42"/><circle cx="3.5" cy="13.4" r="0.42"/><circle cx="15.3" cy="7.7" r="0.42"/><circle cx="7.4" cy="12.8" r="0.42"/><circle cx="10.9" cy="6.8" r="0.42"/><circle cx="15.0" cy="2.6" r="0.42"/><circle cx="15.3" cy="6.0" r="0.42"/><circle cx="14.6" cy="5.8" r="0.42"/><circle cx="16.7" cy="3.8" r="0.42"/><circle cx="7.9" cy="8.6" r="0.42"/><circle cx="12.4" cy="7.7" r="0.42"/><circle cx="7.5" cy="10.6" r="0.42"/><circle cx="17.0" cy="4.0" r="0.42"/><circle cx="15.5" cy="3.6" r="0.42"/><circle cx="12.4" cy="6.9" r="0.42"/><circle cx="13.2" cy="7.6" r="0.42"/><circle cx="14.5" cy="3.5" r="0.42"/><circle cx="10.3" cy="6.5" r="0.42"/><circle cx="10.5" cy="7.0" r="0.42"/><circle cx="15.0" cy="3.5" r="0.42"/><circle cx="10.7" cy="6.9" r="0.42"/><circle cx="13.9" cy="5.1" r="0.42"/><circle cx="6.0" cy="13.1" r="0.42"/><circle cx="10.4" cy="5.3" r="0.42"/><circle cx="14.0" cy="2.8" r="0.42"/><circle cx="13.5" cy="5.3" r="0.42"/><circle cx="3.6" cy="12.1" r="0.42"/><circle cx="12.0" cy="7.0" r="0.42"/><circle cx="10.3" cy="8.7" r="0.42"/><circle cx="9.9" cy="6.7" r="0.42"/><circle cx="8.5" cy="14.4" r="0.42"/><circle cx="5.6" cy="12.8" r="0.42"/><circle cx="11.8" cy="8.7" r="0.42"/><circle cx="12.5" cy="4.3" r="0.42"/><circle cx="4.5" cy="14.7" r="0.42"/><circle cx="10.3" cy="8.7" r="0.42"/><circle cx="13.9" cy="3.3" r="0.42"/><circle cx="16.0" cy="3.7" r="0.42"/><circle cx="12.1" cy="5.3" r="0.42"/><circle cx="7.1" cy="9.2" r="0.42"/><circle cx="12.0" cy="5.3" r="0.42"/><circle cx="12.7" cy="8.2" r="0.42"/><circle cx="14.3" cy="3.9" r="0.42"/><circle cx="15.9" cy="5.6" r="0.42"/><circle cx="13.9" cy="5.2" r="0.42"/><circle cx="5.3" cy="10.2" r="0.42"/><circle cx="11.4" cy="9.1" r="0.42"/><circle cx="12.0" cy="5.5" r="0.42"/><circle cx="4.6" cy="9.4" r="0.42"/><circle cx="11.3" cy="9.0" r="0.42"/><circle cx="8.6" cy="11.3" r="0.42"/><circle cx="10.3" cy="7.8" r="0.42"/><circle cx="8.0" cy="15.1" r="0.42"/><circle cx="13.4" cy="4.4" r="0.42"/><circle cx="11.1" cy="9.0" r="0.42"/><circle cx="13.9" cy="4.8" r="0.42"/><circle cx="15.3" cy="5.8" r="0.42"/><circle cx="10.5" cy="10.2" r="0.42"/><circle cx="16.5" cy="3.3" r="0.42"/><circle cx="11.7" cy="8.0" r="0.42"/><circle cx="15.1" cy="2.6" r="0.42"/><circle cx="14.3" cy="5.1" r="0.42"/><circle cx="11.6" cy="5.4" r="0.42"/><circle cx="7.9" cy="10.8" r="0.42"/><circle cx="14.6" cy="2.3" r="0.42"/><circle cx="2.8" cy="12.9" r="0.42"/><circle cx="6.4" cy="9.1" r="0.42"/><circle cx="8.7" cy="9.2" r="0.42"/><circle cx="15.2" cy="4.7" r="0.42"/><circle cx="14.2" cy="9.6" r="0.42"/><circle cx="14.5" cy="3.7" r="0.42"/><circle cx="8.5" cy="7.9" r="0.42"/><circle cx="16.0" cy="5.1" r="0.42"/><circle cx="4.4" cy="13.3" r="0.42"/><circle cx="8.2" cy="8.8" r="0.42"/><circle cx="14.5" cy="5.2" r="0.42"/><circle cx="15.4" cy="6.8" r="0.42"/><circle cx="16.3" cy="3.6" r="0.42"/><circle cx="7.0" cy="14.0" r="0.42"/><circle cx="11.1" cy="7.0" r="0.42"/><circle cx="13.0" cy="5.9" r="0.42"/><circle cx="11.1" cy="7.9" r="0.42"/><circle cx="13.8" cy="5.2" r="0.42"/><circle cx="9.1" cy="10.8" r="0.42"/><circle cx="3.9" cy="13.8" r="0.42"/><circle cx="7.8" cy="12.7" r="0.42"/><circle cx="14.9" cy="4.4" r="0.42"/><circle cx="12.6" cy="6.2" r="0.42"/><circle cx="11.4" cy="7.5" r="0.42"/><circle cx="16.5" cy="4.2" r="0.42"/><circle cx="10.5" cy="8.8" r="0.42"/><circle cx="9.7" cy="8.4" r="0.42"/><circle cx="15.2" cy="5.3" r="0.42"/><circle cx="7.3" cy="7.5" r="0.42"/><circle cx="6.7" cy="11.1" r="0.42"/><circle cx="5.3" cy="14.4" r="0.42"/><circle cx="8.5" cy="11.0" r="0.42"/><circle cx="16.6" cy="4.7" r="0.42"/><circle cx="13.6" cy="4.6" r="0.42"/><circle cx="7.7" cy="8.8" r="0.42"/><circle cx="15.5" cy="6.6" r="0.42"/><circle cx="11.6" cy="6.8" r="0.42"/><circle cx="9.5" cy="8.2" r="0.42"/><circle cx="11.9" cy="8.4" r="0.42"/><circle cx="14.6" cy="5.8" r="0.42"/><circle cx="12.3" cy="6.9" r="0.42"/><circle cx="11.5" cy="9.1" r="0.42"/><circle cx="15.2" cy="3.1" r="0.42"/><circle cx="11.6" cy="7.1" r="0.42"/><circle cx="14.2" cy="3.1" r="0.42"/><circle cx="13.3" cy="4.8" r="0.42"/><circle cx="11.0" cy="6.1" r="0.42"/><circle cx="12.3" cy="8.3" r="0.42"/><circle cx="8.9" cy="8.1" r="0.42"/><circle cx="4.2" cy="13.3" r="0.42"/><circle cx="9.1" cy="9.1" r="0.42"/><circle cx="8.5" cy="10.0" r="0.42"/><circle cx="10.4" cy="5.3" r="0.42"/><circle cx="9.2" cy="9.8" r="0.42"/><circle cx="9.1" cy="10.1" r="0.42"/><circle cx="4.8" cy="17.1" r="0.42"/><circle cx="9.1" cy="7.6" r="0.42"/><circle cx="13.9" cy="4.9" r="0.42"/><circle cx="8.9" cy="6.5" r="0.42"/><circle cx="13.8" cy="5.0" r="0.42"/><circle cx="12.1" cy="6.7" r="0.42"/><circle cx="12.8" cy="7.2" r="0.42"/><circle cx="9.5" cy="10.4" r="0.42"/><circle cx="12.9" cy="7.0" r="0.42"/><circle cx="10.3" cy="10.3" r="0.42"/><circle cx="7.7" cy="10.3" r="0.42"/><circle cx="10.4" cy="7.2" r="0.42"/><circle cx="6.8" cy="9.5" r="0.42"/><circle cx="12.0" cy="7.9" r="0.42"/><circle cx="13.5" cy="4.2" r="0.42"/><circle cx="11.0" cy="8.9" r="0.42"/><circle cx="9.5" cy="5.7" r="0.42"/><circle cx="15.2" cy="4.2" r="0.42"/><circle cx="15.1" cy="1.2" r="0.42"/><circle cx="17.0" cy="5.9" r="0.42"/><circle cx="11.8" cy="6.8" r="0.42"/><circle cx="7.0" cy="12.0" r="0.42"/><circle cx="8.6" cy="11.1" r="0.42"/><circle cx="14.1" cy="4.2" r="0.42"/><circle cx="10.3" cy="12.7" r="0.42"/><circle cx="6.4" cy="12.0" r="0.42"/><circle cx="14.2" cy="7.4" r="0.42"/><circle cx="8.6" cy="10.3" r="0.42"/><circle cx="11.6" cy="8.3" r="0.42"/><circle cx="16.6" cy="4.6" r="0.42"/><circle cx="9.0" cy="10.7" r=".35"/><circle cx="14.0" cy="2.6" r=".35"/><circle cx="5.3" cy="8.8" r=".35"/><circle cx="4.2" cy="10.5" r=".35"/><circle cx="3.9" cy="15.1" r=".35"/><circle cx="4.9" cy="13.3" r=".35"/><circle cx="5.0" cy="15.0" r=".35"/><circle cx="17.9" cy="6.2" r=".35"/><circle cx="2.7" cy="14.9" r=".35"/><circle cx="7.1" cy="11.7" r=".35"/><circle cx="4.7" cy="15.9" r=".35"/><circle cx="5.3" cy="11.0" r=".35"/></g><ellipse cx="11.30" cy="7.30" rx="5.20" ry="2.25" transform="rotate(-43.798166935547876 11.30 7.30)" fill="#000" opacity="1"/></g><g id="blobA"><g fill="#000" opacity="0.75"><circle cx="14.0" cy="5.9" r="0.42"/><circle cx="12.9" cy="9.4" r="0.42"/><circle cx="7.8" cy="12.8" r="0.42"/><circle cx="15.4" cy="6.9" r="0.42"/><circle cx="14.0" cy="9.6" r="0.42"/><circle cx="13.1" cy="6.2" r="0.42"/><circle cx="7.4" cy="12.9" r="0.42"/><circle cx="10.2" cy="9.0" r="0.42"/><circle cx="12.1" cy="10.2" r="0.42"/><circle cx="8.1" cy="10.0" r="0.42"/><circle cx="17.5" cy="4.7" r="0.42"/><circle cx="10.9" cy="10.0" r="0.42"/><circle cx="13.9" cy="3.1" r="0.42"/><circle cx="10.3" cy="8.5" r="0.42"/><circle cx="15.6" cy="2.7" r="0.42"/><circle cx="8.8" cy="7.5" r="0.42"/><circle cx="16.0" cy="3.1" r="0.42"/><circle cx="14.3" cy="8.9" r="0.42"/><circle cx="9.2" cy="7.3" r="0.42"/><circle cx="12.8" cy="8.7" r="0.42"/><circle cx="17.7" cy="5.3" r="0.42"/><circle cx="9.0" cy="8.9" r="0.42"/><circle cx="14.8" cy="4.4" r="0.42"/><circle cx="6.2" cy="16.5" r="0.42"/><circle cx="12.5" cy="9.3" r="0.42"/><circle cx="16.8" cy="6.5" r="0.42"/><circle cx="12.5" cy="8.2" r="0.42"/><circle cx="11.1" cy="8.3" r="0.42"/><circle cx="13.9" cy="6.1" r="0.42"/><circle cx="11.2" cy="7.4" r="0.42"/><circle cx="6.2" cy="9.3" r="0.42"/><circle cx="13.6" cy="5.4" r="0.42"/><circle cx="14.2" cy="7.9" r="0.42"/><circle cx="15.8" cy="4.5" r="0.42"/><circle cx="11.9" cy="5.9" r="0.42"/><circle cx="10.5" cy="9.7" r="0.42"/><circle cx="13.4" cy="7.9" r="0.42"/><circle cx="5.3" cy="11.1" r="0.42"/><circle cx="9.4" cy="10.0" r="0.42"/><circle cx="14.1" cy="3.8" r="0.42"/><circle cx="9.9" cy="8.1" r="0.42"/><circle cx="4.5" cy="12.7" r="0.42"/><circle cx="11.8" cy="8.8" r="0.42"/><circle cx="17.7" cy="6.9" r="0.42"/><circle cx="13.5" cy="7.6" r="0.42"/><circle cx="7.7" cy="11.9" r="0.42"/><circle cx="17.0" cy="4.8" r="0.42"/><circle cx="16.4" cy="5.9" r="0.42"/><circle cx="11.7" cy="5.2" r="0.42"/><circle cx="15.5" cy="4.7" r="0.42"/><circle cx="9.8" cy="12.3" r="0.42"/><circle cx="10.9" cy="8.9" r="0.42"/><circle cx="8.1" cy="8.3" r="0.42"/><circle cx="10.4" cy="7.9" r="0.42"/><circle cx="14.0" cy="6.5" r="0.42"/><circle cx="13.9" cy="10.3" r="0.42"/><circle cx="10.0" cy="8.0" r="0.42"/><circle cx="4.3" cy="14.2" r="0.42"/><circle cx="9.7" cy="9.6" r="0.42"/><circle cx="14.0" cy="3.2" r="0.42"/><circle cx="14.6" cy="5.1" r="0.42"/><circle cx="7.1" cy="13.7" r="0.42"/><circle cx="12.1" cy="5.5" r="0.42"/><circle cx="11.7" cy="9.1" r="0.42"/><circle cx="13.6" cy="5.0" r="0.42"/><circle cx="16.1" cy="2.9" r="0.42"/><circle cx="16.7" cy="4.7" r="0.42"/><circle cx="11.1" cy="8.2" r="0.42"/><circle cx="13.8" cy="8.6" r="0.42"/><circle cx="8.4" cy="8.1" r="0.42"/><circle cx="13.5" cy="6.2" r="0.42"/><circle cx="13.7" cy="7.7" r="0.42"/><circle cx="16.1" cy="5.6" r="0.42"/><circle cx="15.3" cy="5.3" r="0.42"/><circle cx="5.8" cy="10.5" r="0.42"/><circle cx="9.1" cy="7.9" r="0.42"/><circle cx="12.4" cy="7.9" r="0.42"/><circle cx="10.4" cy="7.7" r="0.42"/><circle cx="9.6" cy="8.9" r="0.42"/><circle cx="12.9" cy="7.2" r="0.42"/><circle cx="13.7" cy="2.1" r="0.42"/><circle cx="9.9" cy="7.5" r="0.42"/><circle cx="12.3" cy="8.1" r="0.42"/><circle cx="13.7" cy="5.7" r="0.42"/><circle cx="5.8" cy="10.3" r="0.42"/><circle cx="16.7" cy="5.6" r="0.42"/><circle cx="7.8" cy="11.4" r="0.42"/><circle cx="15.5" cy="4.6" r="0.42"/><circle cx="7.3" cy="5.5" r="0.42"/><circle cx="12.0" cy="11.9" r="0.42"/><circle cx="9.5" cy="11.9" r="0.42"/><circle cx="15.6" cy="5.6" r="0.42"/><circle cx="12.4" cy="7.4" r="0.42"/><circle cx="14.5" cy="7.3" r="0.42"/><circle cx="16.0" cy="3.7" r="0.42"/><circle cx="10.8" cy="8.0" r="0.42"/><circle cx="9.9" cy="5.0" r="0.42"/><circle cx="10.1" cy="9.5" r="0.42"/><circle cx="7.2" cy="9.7" r="0.42"/><circle cx="15.7" cy="5.5" r="0.42"/><circle cx="15.3" cy="4.4" r="0.42"/><circle cx="14.0" cy="7.7" r="0.42"/><circle cx="5.5" cy="16.1" r="0.42"/><circle cx="13.5" cy="6.2" r="0.42"/><circle cx="14.0" cy="4.6" r="0.42"/><circle cx="12.6" cy="6.5" r="0.42"/><circle cx="10.6" cy="7.2" r="0.42"/><circle cx="11.8" cy="7.9" r="0.42"/><circle cx="9.9" cy="3.1" r="0.42"/><circle cx="16.6" cy="4.4" r="0.42"/><circle cx="12.3" cy="5.9" r="0.42"/><circle cx="15.0" cy="5.3" r="0.42"/><circle cx="10.9" cy="7.4" r="0.42"/><circle cx="14.7" cy="7.1" r="0.42"/><circle cx="11.1" cy="8.9" r="0.42"/><circle cx="3.2" cy="14.7" r="0.42"/><circle cx="10.6" cy="9.1" r="0.42"/><circle cx="15.4" cy="3.6" r="0.42"/><circle cx="13.8" cy="5.1" r="0.42"/><circle cx="12.4" cy="6.3" r="0.42"/><circle cx="12.1" cy="4.6" r="0.42"/><circle cx="10.9" cy="5.6" r="0.42"/><circle cx="14.2" cy="8.0" r="0.42"/><circle cx="9.1" cy="9.4" r="0.42"/><circle cx="12.5" cy="4.4" r="0.42"/><circle cx="11.8" cy="10.4" r="0.42"/><circle cx="14.2" cy="5.7" r="0.42"/><circle cx="14.2" cy="3.9" r="0.42"/><circle cx="9.9" cy="11.0" r="0.42"/><circle cx="15.4" cy="4.4" r="0.42"/><circle cx="9.5" cy="10.9" r="0.42"/><circle cx="9.2" cy="8.6" r="0.42"/><circle cx="7.0" cy="6.9" r="0.42"/><circle cx="10.8" cy="10.7" r="0.42"/><circle cx="16.4" cy="5.3" r="0.42"/><circle cx="9.5" cy="9.6" r="0.42"/><circle cx="14.8" cy="5.3" r="0.42"/><circle cx="12.1" cy="8.2" r="0.42"/><circle cx="12.8" cy="10.6" r="0.42"/><circle cx="14.3" cy="8.9" r="0.42"/><circle cx="5.4" cy="12.4" r="0.42"/><circle cx="12.2" cy="8.7" r="0.42"/><circle cx="9.1" cy="9.3" r="0.42"/><circle cx="8.4" cy="10.3" r="0.42"/><circle cx="14.0" cy="8.0" r="0.42"/><circle cx="3.6" cy="12.5" r="0.42"/><circle cx="11.8" cy="8.0" r="0.42"/><circle cx="16.0" cy="7.9" r="0.42"/><circle cx="15.7" cy="3.9" r="0.42"/><circle cx="12.2" cy="4.5" r="0.42"/><circle cx="10.5" cy="8.6" r="0.42"/><circle cx="11.4" cy="6.2" r="0.42"/><circle cx="10.3" cy="9.6" r="0.42"/><circle cx="14.3" cy="3.7" r="0.42"/><circle cx="8.9" cy="4.1" r="0.42"/><circle cx="8.7" cy="9.9" r="0.42"/><circle cx="14.7" cy="6.3" r="0.42"/><circle cx="9.7" cy="10.2" r="0.42"/><circle cx="12.0" cy="7.3" r="0.42"/><circle cx="9.2" cy="10.2" r="0.42"/><circle cx="13.9" cy="2.5" r="0.42"/><circle cx="9.8" cy="9.0" r="0.42"/><circle cx="12.2" cy="5.6" r="0.42"/><circle cx="14.8" cy="2.3" r="0.42"/><circle cx="15.7" cy="5.2" r="0.42"/><circle cx="7.6" cy="9.8" r="0.42"/><circle cx="14.4" cy="3.6" r="0.42"/><circle cx="12.5" cy="4.5" r="0.42"/><circle cx="12.3" cy="4.2" r="0.42"/><circle cx="11.0" cy="8.7" r="0.42"/><circle cx="10.9" cy="8.8" r=".35"/><circle cx="11.7" cy="8.1" r=".35"/><circle cx="13.7" cy="6.9" r=".35"/><circle cx="15.1" cy="11.7" r=".35"/><circle cx="10.1" cy="4.3" r=".35"/><circle cx="4.3" cy="15.0" r=".35"/><circle cx="11.2" cy="4.2" r=".35"/><circle cx="3.3" cy="12.8" r=".35"/><circle cx="12.8" cy="0.3" r=".35"/><circle cx="3.9" cy="16.7" r=".35"/><circle cx="5.4" cy="14.0" r=".35"/><circle cx="9.1" cy="15.6" r=".35"/><circle cx="14.6" cy="1.1" r=".35"/><circle cx="0.1" cy="13.4" r=".35"/></g><ellipse cx="11.40" cy="7.40" rx="5.20" ry="2.40" transform="rotate(-43.339717631017194 11.40 7.40)" fill="#000" opacity="1"/><g fill="#000" opacity="0.5"><circle cx="4.0" cy="12.4" r="0.45"/><circle cx="4.1" cy="15.2" r="0.45"/><circle cx="4.9" cy="13.8" r="0.45"/><circle cx="5.4" cy="15.0" r="0.45"/><circle cx="7.0" cy="9.9" r="0.45"/><circle cx="4.3" cy="14.0" r="0.45"/><circle cx="6.5" cy="12.7" r="0.45"/><circle cx="6.5" cy="12.9" r="0.45"/><circle cx="6.3" cy="11.1" r="0.45"/><circle cx="3.9" cy="13.8" r="0.45"/><circle cx="5.4" cy="13.7" r="0.45"/><circle cx="5.9" cy="13.7" r="0.45"/><circle cx="8.3" cy="11.3" r="0.45"/><circle cx="3.5" cy="15.2" r="0.45"/><circle cx="3.3" cy="13.4" r="0.45"/><circle cx="2.4" cy="15.3" r="0.45"/><circle cx="5.7" cy="14.2" r="0.45"/><circle cx="3.2" cy="13.6" r="0.45"/><circle cx="4.2" cy="13.7" r="0.45"/><circle cx="5.2" cy="14.5" r="0.45"/><circle cx="8.5" cy="12.4" r="0.45"/><circle cx="8.3" cy="10.0" r="0.45"/><circle cx="6.4" cy="12.2" r="0.45"/><circle cx="7.6" cy="12.7" r="0.45"/><circle cx="6.8" cy="12.5" r="0.45"/><circle cx="6.4" cy="11.0" r="0.45"/><circle cx="5.5" cy="13.8" r="0.45"/><circle cx="3.3" cy="15.2" r="0.45"/><circle cx="8.7" cy="10.7" r="0.45"/><circle cx="3.2" cy="14.6" r="0.45"/><circle cx="5.8" cy="14.4" r="0.45"/><circle cx="3.4" cy="15.7" r="0.45"/><circle cx="6.6" cy="12.6" r="0.45"/><circle cx="6.8" cy="10.5" r="0.45"/><circle cx="4.0" cy="15.3" r="0.45"/><circle cx="4.5" cy="14.8" r="0.45"/><circle cx="5.1" cy="15.4" r="0.45"/><circle cx="6.9" cy="12.8" r="0.45"/><circle cx="6.1" cy="11.8" r="0.45"/><circle cx="5.2" cy="10.7" r="0.45"/><circle cx="5.3" cy="13.6" r="0.45"/><circle cx="6.4" cy="10.3" r="0.45"/><circle cx="7.3" cy="10.1" r="0.45"/><circle cx="7.1" cy="11.8" r="0.45"/><circle cx="7.3" cy="11.1" r="0.45"/><circle cx="5.9" cy="11.9" r="0.45"/><circle cx="4.5" cy="13.7" r="0.45"/><circle cx="5.6" cy="13.2" r="0.45"/><circle cx="5.5" cy="13.6" r="0.45"/><circle cx="6.4" cy="11.7" r="0.45"/><circle cx="6.1" cy="12.1" r="0.45"/><circle cx="6.3" cy="14.5" r="0.45"/><circle cx="4.0" cy="14.1" r="0.45"/><circle cx="4.9" cy="12.7" r="0.45"/><circle cx="5.8" cy="14.0" r="0.45"/></g></g><g id="blobB"><g fill="#000" opacity="0.75"><circle cx="15.0" cy="4.3" r="0.42"/><circle cx="15.2" cy="4.1" r="0.42"/><circle cx="8.9" cy="13.7" r="0.42"/><circle cx="12.0" cy="3.6" r="0.42"/><circle cx="15.1" cy="3.1" r="0.42"/><circle cx="6.6" cy="12.3" r="0.42"/><circle cx="10.8" cy="7.3" r="0.42"/><circle cx="13.7" cy="6.4" r="0.42"/><circle cx="11.5" cy="7.8" r="0.42"/><circle cx="3.5" cy="11.3" r="0.42"/><circle cx="10.0" cy="9.5" r="0.42"/><circle cx="13.1" cy="1.5" r="0.42"/><circle cx="9.2" cy="9.9" r="0.42"/><circle cx="13.3" cy="3.1" r="0.42"/><circle cx="5.6" cy="12.9" r="0.42"/><circle cx="15.6" cy="5.5" r="0.42"/><circle cx="6.4" cy="13.9" r="0.42"/><circle cx="14.3" cy="8.2" r="0.42"/><circle cx="13.6" cy="5.3" r="0.42"/><circle cx="13.9" cy="7.1" r="0.42"/><circle cx="9.8" cy="8.0" r="0.42"/><circle cx="14.4" cy="3.0" r="0.42"/><circle cx="10.9" cy="9.4" r="0.42"/><circle cx="11.0" cy="6.6" r="0.42"/><circle cx="16.5" cy="4.3" r="0.42"/><circle cx="6.7" cy="8.5" r="0.42"/><circle cx="6.2" cy="13.2" r="0.42"/><circle cx="12.1" cy="11.7" r="0.42"/><circle cx="9.4" cy="10.1" r="0.42"/><circle cx="11.5" cy="7.0" r="0.42"/><circle cx="14.5" cy="7.2" r="0.42"/><circle cx="10.5" cy="8.8" r="0.42"/><circle cx="8.9" cy="9.9" r="0.42"/><circle cx="15.6" cy="7.5" r="0.42"/><circle cx="12.0" cy="4.3" r="0.42"/><circle cx="16.6" cy="6.0" r="0.42"/><circle cx="14.1" cy="5.9" r="0.42"/><circle cx="10.9" cy="7.1" r="0.42"/><circle cx="12.6" cy="12.6" r="0.42"/><circle cx="7.4" cy="10.6" r="0.42"/><circle cx="8.7" cy="4.2" r="0.42"/><circle cx="14.6" cy="9.2" r="0.42"/><circle cx="5.5" cy="9.3" r="0.42"/><circle cx="7.5" cy="13.7" r="0.42"/><circle cx="15.9" cy="3.0" r="0.42"/><circle cx="13.3" cy="6.0" r="0.42"/><circle cx="10.6" cy="9.6" r="0.42"/><circle cx="5.2" cy="13.5" r="0.42"/><circle cx="11.1" cy="6.1" r="0.42"/><circle cx="11.9" cy="6.4" r="0.42"/><circle cx="14.9" cy="1.5" r="0.42"/><circle cx="6.1" cy="12.6" r="0.42"/><circle cx="11.9" cy="2.9" r="0.42"/><circle cx="11.1" cy="10.1" r="0.42"/><circle cx="12.3" cy="3.2" r="0.42"/><circle cx="11.0" cy="4.1" r="0.42"/><circle cx="11.7" cy="9.7" r="0.42"/><circle cx="13.2" cy="8.0" r="0.42"/><circle cx="13.9" cy="5.3" r="0.42"/><circle cx="11.1" cy="5.6" r="0.42"/><circle cx="8.9" cy="11.8" r="0.42"/><circle cx="14.8" cy="8.6" r="0.42"/><circle cx="13.7" cy="2.7" r="0.42"/><circle cx="15.5" cy="6.8" r="0.42"/><circle cx="11.6" cy="5.7" r="0.42"/><circle cx="9.4" cy="6.8" r="0.42"/><circle cx="9.6" cy="12.4" r="0.42"/><circle cx="16.3" cy="4.3" r="0.42"/><circle cx="14.2" cy="3.3" r="0.42"/><circle cx="12.1" cy="5.2" r="0.42"/><circle cx="12.1" cy="4.9" r="0.42"/><circle cx="9.7" cy="6.8" r="0.42"/><circle cx="17.8" cy="7.3" r="0.42"/><circle cx="13.9" cy="7.4" r="0.42"/><circle cx="12.3" cy="4.7" r="0.42"/><circle cx="14.4" cy="2.1" r="0.42"/><circle cx="18.4" cy="6.3" r="0.42"/><circle cx="13.9" cy="5.5" r="0.42"/><circle cx="12.8" cy="9.7" r="0.42"/><circle cx="14.5" cy="5.1" r="0.42"/><circle cx="16.0" cy="7.9" r="0.42"/><circle cx="10.7" cy="9.9" r="0.42"/><circle cx="10.1" cy="11.2" r="0.42"/><circle cx="12.4" cy="6.2" r="0.42"/><circle cx="14.9" cy="7.8" r="0.42"/><circle cx="7.0" cy="7.5" r="0.42"/><circle cx="11.6" cy="7.6" r="0.42"/><circle cx="4.2" cy="12.1" r="0.42"/><circle cx="13.3" cy="4.0" r="0.42"/><circle cx="15.3" cy="3.1" r="0.42"/><circle cx="13.9" cy="6.8" r="0.42"/><circle cx="15.7" cy="4.3" r="0.42"/><circle cx="13.1" cy="6.0" r="0.42"/><circle cx="9.8" cy="11.6" r="0.42"/><circle cx="9.5" cy="8.7" r="0.42"/><circle cx="10.5" cy="9.9" r="0.42"/><circle cx="7.6" cy="14.2" r="0.42"/><circle cx="16.5" cy="4.9" r="0.42"/><circle cx="11.9" cy="4.6" r="0.42"/><circle cx="10.0" cy="6.4" r="0.42"/><circle cx="16.0" cy="3.4" r="0.42"/><circle cx="14.1" cy="8.3" r="0.42"/><circle cx="13.1" cy="4.1" r="0.42"/><circle cx="11.0" cy="7.5" r="0.42"/><circle cx="14.2" cy="7.6" r="0.42"/><circle cx="7.5" cy="13.4" r="0.42"/><circle cx="6.1" cy="9.5" r="0.42"/><circle cx="7.8" cy="14.5" r="0.42"/><circle cx="17.1" cy="7.1" r="0.42"/><circle cx="15.1" cy="8.0" r="0.42"/><circle cx="11.8" cy="9.4" r="0.42"/><circle cx="13.1" cy="1.9" r="0.42"/><circle cx="16.5" cy="6.8" r="0.42"/><circle cx="18.8" cy="7.0" r="0.42"/><circle cx="16.5" cy="6.6" r="0.42"/><circle cx="12.8" cy="6.3" r="0.42"/><circle cx="16.1" cy="3.9" r="0.42"/><circle cx="3.9" cy="13.2" r="0.42"/><circle cx="10.8" cy="7.7" r="0.42"/><circle cx="8.5" cy="14.2" r="0.42"/><circle cx="13.2" cy="6.9" r="0.42"/><circle cx="10.2" cy="12.5" r="0.42"/><circle cx="6.8" cy="7.9" r="0.42"/><circle cx="7.6" cy="12.7" r="0.42"/><circle cx="8.2" cy="11.1" r="0.42"/><circle cx="14.5" cy="4.5" r="0.42"/><circle cx="14.4" cy="8.7" r="0.42"/><circle cx="14.3" cy="4.1" r="0.42"/><circle cx="13.8" cy="6.0" r="0.42"/><circle cx="14.8" cy="5.2" r="0.42"/><circle cx="13.5" cy="6.6" r="0.42"/><circle cx="15.4" cy="6.8" r="0.42"/><circle cx="11.3" cy="5.6" r="0.42"/><circle cx="11.6" cy="7.3" r="0.42"/><circle cx="13.5" cy="9.2" r="0.42"/><circle cx="6.7" cy="12.0" r="0.42"/><circle cx="8.8" cy="11.2" r="0.42"/><circle cx="12.6" cy="4.1" r="0.42"/><circle cx="9.9" cy="12.7" r="0.42"/><circle cx="11.2" cy="5.1" r="0.42"/><circle cx="14.6" cy="6.6" r="0.42"/><circle cx="10.9" cy="7.8" r="0.42"/><circle cx="15.3" cy="5.8" r="0.42"/><circle cx="13.0" cy="5.6" r="0.42"/><circle cx="16.4" cy="6.0" r="0.42"/><circle cx="14.4" cy="5.9" r="0.42"/><circle cx="10.0" cy="12.8" r="0.42"/><circle cx="14.6" cy="10.0" r="0.42"/><circle cx="16.4" cy="6.4" r="0.42"/><circle cx="10.4" cy="9.4" r="0.42"/><circle cx="14.5" cy="5.1" r="0.42"/><circle cx="10.0" cy="6.9" r="0.42"/><circle cx="10.9" cy="9.4" r="0.42"/><circle cx="8.6" cy="9.1" r="0.42"/><circle cx="4.3" cy="11.6" r="0.42"/><circle cx="13.1" cy="6.2" r="0.42"/><circle cx="9.5" cy="9.5" r="0.42"/><circle cx="10.7" cy="10.5" r="0.42"/><circle cx="12.5" cy="10.4" r="0.42"/><circle cx="11.2" cy="4.8" r="0.42"/><circle cx="9.7" cy="5.7" r="0.42"/><circle cx="10.2" cy="9.2" r="0.42"/><circle cx="16.0" cy="6.5" r="0.42"/><circle cx="9.7" cy="9.5" r="0.42"/><circle cx="5.4" cy="13.3" r="0.42"/><circle cx="16.8" cy="4.5" r="0.42"/><circle cx="14.5" cy="5.1" r="0.42"/><circle cx="14.8" cy="3.6" r="0.42"/><circle cx="11.3" cy="6.6" r="0.42"/><circle cx="14.5" cy="4.2" r="0.42"/><circle cx="11.0" cy="9.0" r="0.42"/><circle cx="9.1" cy="6.6" r="0.42"/><circle cx="8.9" cy="8.6" r="0.42"/><circle cx="13.6" cy="8.9" r="0.42"/><circle cx="8.7" cy="9.1" r="0.42"/><circle cx="7.4" cy="8.6" r="0.42"/><circle cx="10.2" cy="3.4" r="0.42"/><circle cx="14.9" cy="4.7" r="0.42"/><circle cx="15.6" cy="4.2" r="0.42"/><circle cx="9.6" cy="8.2" r="0.42"/><circle cx="12.7" cy="2.9" r="0.42"/><circle cx="10.0" cy="8.7" r="0.42"/><circle cx="14.0" cy="6.1" r="0.42"/><circle cx="13.2" cy="6.5" r="0.42"/><circle cx="11.6" cy="9.1" r="0.42"/><circle cx="11.2" cy="8.9" r="0.42"/><circle cx="14.2" cy="4.6" r="0.42"/><circle cx="7.2" cy="10.8" r="0.42"/><circle cx="11.2" cy="10.9" r="0.42"/><circle cx="14.1" cy="3.5" r="0.42"/><circle cx="3.0" cy="12.3" r=".35"/><circle cx="15.5" cy="6.4" r=".35"/><circle cx="15.7" cy="8.5" r=".35"/><circle cx="4.1" cy="17.2" r=".35"/><circle cx="6.3" cy="10.5" r=".35"/><circle cx="13.8" cy="10.1" r=".35"/><circle cx="21.8" cy="9.6" r=".35"/><circle cx="5.1" cy="9.8" r=".35"/><circle cx="10.6" cy="7.6" r=".35"/><circle cx="6.5" cy="14.8" r=".35"/><circle cx="12.5" cy="8.8" r=".35"/><circle cx="11.5" cy="11.8" r=".35"/><circle cx="7.5" cy="6.6" r=".35"/><circle cx="5.0" cy="13.9" r=".35"/><circle cx="5.1" cy="9.3" r=".35"/><circle cx="3.5" cy="8.1" r=".35"/></g><ellipse cx="11.40" cy="7.50" rx="5.40" ry="2.70" transform="rotate(-43.339717631017194 11.40 7.50)" fill="#000" opacity="1"/><g fill="#000" opacity="0.5"><circle cx="8.8" cy="13.2" r="0.45"/><circle cx="2.4" cy="14.7" r="0.45"/><circle cx="4.3" cy="13.7" r="0.45"/><circle cx="8.4" cy="10.7" r="0.45"/><circle cx="2.7" cy="15.0" r="0.45"/><circle cx="6.2" cy="12.7" r="0.45"/><circle cx="4.1" cy="15.0" r="0.45"/><circle cx="4.6" cy="12.3" r="0.45"/><circle cx="7.4" cy="11.7" r="0.45"/><circle cx="6.2" cy="12.9" r="0.45"/><circle cx="3.3" cy="14.7" r="0.45"/><circle cx="5.3" cy="15.4" r="0.45"/><circle cx="5.8" cy="12.6" r="0.45"/><circle cx="5.1" cy="14.7" r="0.45"/><circle cx="9.4" cy="10.9" r="0.45"/><circle cx="3.1" cy="12.8" r="0.45"/><circle cx="3.6" cy="14.6" r="0.45"/><circle cx="4.0" cy="13.9" r="0.45"/><circle cx="6.7" cy="11.4" r="0.45"/><circle cx="3.0" cy="15.0" r="0.45"/><circle cx="6.6" cy="13.3" r="0.45"/><circle cx="4.6" cy="13.3" r="0.45"/><circle cx="4.8" cy="12.8" r="0.45"/><circle cx="10.4" cy="10.5" r="0.45"/><circle cx="8.8" cy="10.5" r="0.45"/><circle cx="6.9" cy="11.6" r="0.45"/><circle cx="8.3" cy="10.6" r="0.45"/><circle cx="5.1" cy="15.1" r="0.45"/><circle cx="4.1" cy="14.3" r="0.45"/><circle cx="5.4" cy="12.4" r="0.45"/><circle cx="5.3" cy="15.0" r="0.45"/><circle cx="3.3" cy="16.3" r="0.45"/><circle cx="6.3" cy="14.3" r="0.45"/><circle cx="6.3" cy="11.6" r="0.45"/><circle cx="6.6" cy="12.8" r="0.45"/><circle cx="5.2" cy="13.8" r="0.45"/><circle cx="6.7" cy="14.5" r="0.45"/><circle cx="5.4" cy="11.9" r="0.45"/><circle cx="3.7" cy="14.1" r="0.45"/><circle cx="2.9" cy="13.8" r="0.45"/><circle cx="4.3" cy="16.4" r="0.45"/><circle cx="5.8" cy="14.9" r="0.45"/><circle cx="7.1" cy="11.7" r="0.45"/><circle cx="4.6" cy="12.3" r="0.45"/><circle cx="8.9" cy="9.5" r="0.45"/><circle cx="6.6" cy="10.5" r="0.45"/><circle cx="6.1" cy="10.4" r="0.45"/><circle cx="4.2" cy="16.3" r="0.45"/><circle cx="5.4" cy="14.7" r="0.45"/><circle cx="4.2" cy="13.6" r="0.45"/><circle cx="6.6" cy="13.2" r="0.45"/><circle cx="4.9" cy="13.3" r="0.45"/><circle cx="4.4" cy="14.5" r="0.45"/><circle cx="6.2" cy="11.8" r="0.45"/><circle cx="5.7" cy="13.3" r="0.45"/></g></g><g id="blobC"><g fill="#000" opacity="0.75"><circle cx="14.1" cy="7.6" r="0.42"/><circle cx="14.9" cy="3.7" r="0.42"/><circle cx="14.3" cy="5.3" r="0.42"/><circle cx="14.1" cy="6.4" r="0.42"/><circle cx="8.2" cy="9.7" r="0.42"/><circle cx="14.2" cy="5.9" r="0.42"/><circle cx="9.6" cy="11.8" r="0.42"/><circle cx="14.2" cy="6.0" r="0.42"/><circle cx="11.8" cy="5.8" r="0.42"/><circle cx="13.3" cy="4.0" r="0.42"/><circle cx="15.1" cy="6.5" r="0.42"/><circle cx="14.0" cy="7.6" r="0.42"/><circle cx="9.0" cy="10.8" r="0.42"/><circle cx="16.6" cy="6.6" r="0.42"/><circle cx="15.0" cy="4.6" r="0.42"/><circle cx="15.3" cy="6.7" r="0.42"/><circle cx="13.4" cy="8.7" r="0.42"/><circle cx="8.4" cy="9.5" r="0.42"/><circle cx="11.9" cy="9.5" r="0.42"/><circle cx="10.5" cy="6.1" r="0.42"/><circle cx="15.5" cy="5.5" r="0.42"/><circle cx="11.7" cy="8.2" r="0.42"/><circle cx="14.0" cy="9.1" r="0.42"/><circle cx="11.5" cy="9.1" r="0.42"/><circle cx="13.3" cy="6.6" r="0.42"/><circle cx="2.6" cy="13.4" r="0.42"/><circle cx="14.4" cy="4.4" r="0.42"/><circle cx="14.4" cy="7.2" r="0.42"/><circle cx="13.6" cy="4.4" r="0.42"/><circle cx="13.3" cy="4.6" r="0.42"/><circle cx="11.6" cy="5.7" r="0.42"/><circle cx="11.8" cy="9.8" r="0.42"/><circle cx="13.1" cy="8.5" r="0.42"/><circle cx="11.9" cy="4.7" r="0.42"/><circle cx="12.2" cy="6.0" r="0.42"/><circle cx="13.6" cy="7.0" r="0.42"/><circle cx="14.9" cy="6.0" r="0.42"/><circle cx="8.4" cy="7.4" r="0.42"/><circle cx="10.6" cy="4.3" r="0.42"/><circle cx="14.8" cy="4.5" r="0.42"/><circle cx="4.5" cy="11.5" r="0.42"/><circle cx="15.4" cy="4.5" r="0.42"/><circle cx="12.8" cy="5.4" r="0.42"/><circle cx="16.6" cy="4.6" r="0.42"/><circle cx="4.2" cy="10.9" r="0.42"/><circle cx="12.0" cy="6.7" r="0.42"/><circle cx="15.8" cy="5.6" r="0.42"/><circle cx="7.6" cy="13.6" r="0.42"/><circle cx="16.0" cy="4.0" r="0.42"/><circle cx="15.7" cy="3.8" r="0.42"/><circle cx="15.1" cy="4.8" r="0.42"/><circle cx="12.2" cy="6.7" r="0.42"/><circle cx="16.8" cy="4.6" r="0.42"/><circle cx="9.8" cy="11.0" r="0.42"/><circle cx="13.5" cy="5.5" r="0.42"/><circle cx="13.8" cy="3.9" r="0.42"/><circle cx="9.5" cy="8.7" r="0.42"/><circle cx="9.8" cy="10.5" r="0.42"/><circle cx="7.5" cy="9.9" r="0.42"/><circle cx="13.1" cy="5.1" r="0.42"/><circle cx="11.7" cy="8.0" r="0.42"/><circle cx="10.1" cy="8.1" r="0.42"/><circle cx="11.0" cy="4.9" r="0.42"/><circle cx="11.8" cy="4.7" r="0.42"/><circle cx="6.5" cy="11.9" r="0.42"/><circle cx="12.4" cy="7.5" r="0.42"/><circle cx="16.6" cy="5.6" r="0.42"/><circle cx="17.5" cy="6.0" r="0.42"/><circle cx="13.1" cy="7.2" r="0.42"/><circle cx="14.5" cy="3.4" r="0.42"/><circle cx="11.9" cy="6.4" r="0.42"/><circle cx="10.6" cy="11.4" r="0.42"/><circle cx="12.5" cy="5.8" r="0.42"/><circle cx="13.9" cy="3.4" r="0.42"/><circle cx="13.0" cy="7.2" r="0.42"/><circle cx="14.1" cy="7.4" r="0.42"/><circle cx="9.6" cy="12.2" r="0.42"/><circle cx="8.8" cy="8.7" r="0.42"/><circle cx="17.6" cy="5.6" r="0.42"/><circle cx="9.8" cy="7.4" r="0.42"/><circle cx="14.7" cy="5.6" r="0.42"/><circle cx="9.1" cy="7.8" r="0.42"/><circle cx="9.2" cy="14.5" r="0.42"/><circle cx="12.0" cy="9.5" r="0.42"/><circle cx="12.6" cy="7.4" r="0.42"/><circle cx="5.8" cy="14.0" r="0.42"/><circle cx="14.1" cy="1.3" r="0.42"/><circle cx="14.1" cy="2.1" r="0.42"/><circle cx="13.8" cy="7.2" r="0.42"/><circle cx="9.8" cy="9.3" r="0.42"/><circle cx="15.5" cy="4.5" r="0.42"/><circle cx="14.8" cy="3.0" r="0.42"/><circle cx="9.0" cy="9.9" r="0.42"/><circle cx="15.8" cy="6.1" r="0.42"/><circle cx="15.1" cy="7.8" r="0.42"/><circle cx="16.9" cy="7.0" r="0.42"/><circle cx="13.7" cy="5.1" r="0.42"/><circle cx="11.2" cy="10.5" r="0.42"/><circle cx="10.5" cy="8.0" r="0.42"/><circle cx="13.6" cy="6.2" r="0.42"/><circle cx="10.2" cy="13.1" r="0.42"/><circle cx="15.9" cy="4.7" r="0.42"/><circle cx="8.0" cy="9.2" r="0.42"/><circle cx="16.0" cy="3.5" r="0.42"/><circle cx="8.2" cy="12.1" r="0.42"/><circle cx="12.9" cy="5.0" r="0.42"/><circle cx="11.5" cy="5.8" r="0.42"/><circle cx="12.5" cy="7.3" r="0.42"/><circle cx="10.9" cy="5.7" r="0.42"/><circle cx="13.9" cy="3.8" r="0.42"/><circle cx="11.2" cy="11.1" r="0.42"/><circle cx="10.5" cy="7.1" r="0.42"/><circle cx="14.8" cy="3.6" r="0.42"/><circle cx="12.6" cy="6.9" r="0.42"/><circle cx="6.9" cy="12.4" r="0.42"/><circle cx="14.7" cy="9.9" r="0.42"/><circle cx="12.7" cy="5.8" r="0.42"/><circle cx="16.3" cy="4.0" r="0.42"/><circle cx="8.8" cy="9.8" r="0.42"/><circle cx="14.5" cy="4.8" r="0.42"/><circle cx="9.5" cy="11.8" r="0.42"/><circle cx="14.7" cy="6.5" r="0.42"/><circle cx="12.8" cy="8.4" r="0.42"/><circle cx="15.6" cy="3.0" r="0.42"/><circle cx="15.2" cy="3.8" r="0.42"/><circle cx="13.9" cy="4.7" r="0.42"/><circle cx="8.3" cy="7.0" r="0.42"/><circle cx="13.7" cy="6.4" r="0.42"/><circle cx="12.1" cy="6.5" r="0.42"/><circle cx="17.1" cy="6.8" r="0.42"/><circle cx="11.0" cy="8.8" r="0.42"/><circle cx="9.3" cy="9.3" r="0.42"/><circle cx="9.0" cy="5.8" r="0.42"/><circle cx="12.3" cy="8.0" r="0.42"/><circle cx="10.2" cy="7.7" r="0.42"/><circle cx="5.5" cy="11.5" r="0.42"/><circle cx="12.9" cy="7.3" r="0.42"/><circle cx="12.7" cy="6.7" r="0.42"/><circle cx="16.5" cy="4.8" r="0.42"/><circle cx="3.1" cy="14.7" r="0.42"/><circle cx="10.1" cy="6.0" r="0.42"/><circle cx="13.1" cy="4.6" r="0.42"/><circle cx="15.3" cy="5.8" r="0.42"/><circle cx="15.9" cy="5.8" r="0.42"/><circle cx="15.5" cy="9.8" r="0.42"/><circle cx="10.1" cy="10.1" r="0.42"/><circle cx="15.9" cy="4.2" r="0.42"/><circle cx="11.9" cy="12.1" r="0.42"/><circle cx="8.1" cy="8.7" r="0.42"/><circle cx="12.0" cy="6.9" r="0.42"/><circle cx="16.9" cy="3.9" r="0.42"/><circle cx="15.2" cy="6.0" r="0.42"/><circle cx="11.9" cy="4.9" r="0.42"/><circle cx="11.0" cy="9.0" r="0.42"/><circle cx="11.7" cy="4.8" r="0.42"/><circle cx="16.8" cy="5.1" r="0.42"/><circle cx="10.2" cy="7.4" r="0.42"/><circle cx="11.6" cy="10.9" r="0.42"/><circle cx="9.4" cy="9.1" r="0.42"/><circle cx="9.9" cy="11.1" r="0.42"/><circle cx="5.5" cy="18.8" r=".35"/><circle cx="4.5" cy="16.6" r=".35"/><circle cx="4.9" cy="11.1" r=".35"/><circle cx="5.4" cy="10.9" r=".35"/><circle cx="7.5" cy="12.6" r=".35"/><circle cx="6.8" cy="11.2" r=".35"/><circle cx="9.9" cy="15.9" r=".35"/><circle cx="12.2" cy="10.3" r=".35"/><circle cx="8.5" cy="12.9" r=".35"/><circle cx="12.0" cy="6.8" r=".35"/><circle cx="5.8" cy="11.1" r=".35"/><circle cx="9.0" cy="11.4" r=".35"/></g><ellipse cx="11.40" cy="7.30" rx="5.20" ry="2.30" transform="rotate(-43.76359239714386 11.40 7.30)" fill="#000" opacity="1"/><g fill="#000" opacity="0.5"><circle cx="4.8" cy="15.3" r="0.45"/><circle cx="6.9" cy="13.9" r="0.45"/><circle cx="3.7" cy="15.4" r="0.45"/><circle cx="6.9" cy="11.3" r="0.45"/><circle cx="5.3" cy="12.7" r="0.45"/><circle cx="4.6" cy="15.2" r="0.45"/><circle cx="9.5" cy="9.7" r="0.45"/><circle cx="6.8" cy="13.3" r="0.45"/><circle cx="4.5" cy="12.5" r="0.45"/><circle cx="4.4" cy="14.3" r="0.45"/><circle cx="3.7" cy="15.9" r="0.45"/><circle cx="1.8" cy="13.8" r="0.45"/><circle cx="7.0" cy="12.0" r="0.45"/><circle cx="4.7" cy="14.0" r="0.45"/><circle cx="7.3" cy="15.0" r="0.45"/><circle cx="6.2" cy="10.8" r="0.45"/><circle cx="4.5" cy="16.9" r="0.45"/><circle cx="5.6" cy="11.9" r="0.45"/><circle cx="8.7" cy="11.0" r="0.45"/><circle cx="4.5" cy="14.5" r="0.45"/><circle cx="6.0" cy="15.3" r="0.45"/><circle cx="5.4" cy="12.9" r="0.45"/><circle cx="4.4" cy="13.9" r="0.45"/><circle cx="5.6" cy="14.3" r="0.45"/><circle cx="4.8" cy="12.9" r="0.45"/><circle cx="3.5" cy="13.6" r="0.45"/><circle cx="4.5" cy="13.1" r="0.45"/><circle cx="2.3" cy="15.1" r="0.45"/><circle cx="4.9" cy="14.7" r="0.45"/><circle cx="7.0" cy="10.8" r="0.45"/><circle cx="3.4" cy="13.7" r="0.45"/><circle cx="4.7" cy="13.5" r="0.45"/><circle cx="4.6" cy="14.9" r="0.45"/><circle cx="7.4" cy="11.1" r="0.45"/><circle cx="4.5" cy="13.7" r="0.45"/><circle cx="4.9" cy="13.7" r="0.45"/><circle cx="5.3" cy="11.4" r="0.45"/><circle cx="5.2" cy="13.6" r="0.45"/><circle cx="6.3" cy="14.4" r="0.45"/><circle cx="5.6" cy="13.3" r="0.45"/><circle cx="7.7" cy="11.9" r="0.45"/><circle cx="5.0" cy="14.4" r="0.45"/><circle cx="5.5" cy="12.8" r="0.45"/><circle cx="5.2" cy="13.4" r="0.45"/><circle cx="4.9" cy="13.4" r="0.45"/><circle cx="3.4" cy="13.7" r="0.45"/><circle cx="3.6" cy="15.3" r="0.45"/><circle cx="3.2" cy="14.1" r="0.45"/><circle cx="6.0" cy="12.0" r="0.45"/><circle cx="3.8" cy="13.0" r="0.45"/><circle cx="6.5" cy="12.6" r="0.45"/><circle cx="3.2" cy="15.9" r="0.45"/><circle cx="5.9" cy="13.2" r="0.45"/><circle cx="3.5" cy="15.8" r="0.45"/><circle cx="1.8" cy="14.6" r="0.45"/></g></g><g id="c01"><g fill="#000" opacity="0.6"><circle cx="9.9" cy="9.6" r=".42"/><circle cx="9.5" cy="10.9" r=".42"/><circle cx="5.9" cy="12.0" r=".42"/><circle cx="8.1" cy="12.6" r=".42"/><circle cx="12.0" cy="6.6" r=".42"/><circle cx="6.9" cy="10.1" r=".42"/><circle cx="4.0" cy="18.1" r=".42"/><circle cx="3.3" cy="16.2" r=".42"/><circle cx="8.5" cy="7.7" r=".42"/><circle cx="5.1" cy="14.0" r=".42"/><circle cx="3.3" cy="17.0" r=".42"/><circle cx="1.7" cy="14.0" r=".42"/><circle cx="6.2" cy="12.6" r=".42"/><circle cx="11.2" cy="8.5" r=".42"/><circle cx="10.6" cy="9.8" r=".42"/><circle cx="3.0" cy="15.0" r=".42"/><circle cx="9.4" cy="8.1" r=".42"/><circle cx="8.3" cy="10.3" r=".42"/><circle cx="7.1" cy="13.3" r=".42"/><circle cx="6.4" cy="13.9" r=".42"/><circle cx="10.0" cy="10.7" r=".42"/><circle cx="5.7" cy="15.1" r=".42"/><circle cx="12.0" cy="11.9" r=".42"/><circle cx="10.7" cy="10.0" r=".42"/><circle cx="10.2" cy="12.8" r=".42"/><circle cx="3.3" cy="15.3" r=".42"/><circle cx="8.7" cy="12.9" r=".42"/><circle cx="5.3" cy="14.9" r=".42"/><circle cx="13.5" cy="6.4" r=".42"/><circle cx="7.3" cy="15.0" r=".42"/><circle cx="9.7" cy="9.2" r=".42"/><circle cx="4.1" cy="15.2" r=".42"/><circle cx="6.9" cy="10.4" r=".42"/><circle cx="9.0" cy="13.6" r=".42"/><circle cx="7.8" cy="9.8" r=".42"/><circle cx="11.9" cy="8.7" r=".42"/><circle cx="9.7" cy="12.6" r=".42"/><circle cx="13.9" cy="4.5" r=".42"/><circle cx="13.1" cy="7.5" r=".42"/><circle cx="9.5" cy="11.3" r=".42"/><circle cx="16.1" cy="7.4" r=".35"/><circle cx="16.1" cy="1.9" r=".35"/><circle cx="17.1" cy="6.8" r=".35"/><circle cx="4.4" cy="16.2" r=".35"/><circle cx="10.1" cy="5.1" r=".35"/></g><polygon points="3.11,17.54 17.44,2.65 16.96,2.15 1.49,15.86" fill="#000"/><circle cx="2.90" cy="16.13" r="0.70"/><ellipse cx="6.77" cy="12.41" rx="5.00" ry="1.11" transform="rotate(-43.82285511401794 6.77 12.41)" fill="#000" opacity="1"/><g fill="#000" opacity="0.7"><circle cx="10.24" cy="10.37" r="0.40"/><circle cx="3.82" cy="16.60" r="0.40"/><circle cx="6.93" cy="13.81" r="0.40"/><circle cx="8.42" cy="12.43" r="0.40"/><circle cx="8.70" cy="12.13" r="0.40"/><circle cx="9.00" cy="11.83" r="0.40"/><circle cx="9.89" cy="8.70" r="0.40"/><circle cx="5.83" cy="14.75" r="0.40"/><circle cx="11.01" cy="8.21" r="0.40"/><circle cx="4.43" cy="12.99" r="0.40"/><circle cx="3.23" cy="14.25" r="0.40"/><circle cx="7.53" cy="10.12" r="0.40"/></g></g><g id="c02"><g fill="#000" opacity="0.6"><circle cx="6.4" cy="11.3" r=".42"/><circle cx="15.0" cy="3.8" r=".42"/><circle cx="5.3" cy="12.8" r=".42"/><circle cx="4.2" cy="16.0" r=".42"/><circle cx="11.4" cy="9.3" r=".42"/><circle cx="13.3" cy="7.7" r=".42"/><circle cx="5.7" cy="11.6" r=".42"/><circle cx="5.0" cy="15.0" r=".42"/><circle cx="8.3" cy="12.2" r=".42"/><circle cx="7.5" cy="9.4" r=".42"/><circle cx="5.6" cy="11.7" r=".42"/><circle cx="12.4" cy="5.8" r=".42"/><circle cx="6.4" cy="13.2" r=".42"/><circle cx="7.3" cy="13.9" r=".42"/><circle cx="11.2" cy="7.0" r=".42"/><circle cx="13.9" cy="6.1" r=".42"/><circle cx="9.8" cy="10.7" r=".42"/><circle cx="5.2" cy="10.5" r=".42"/><circle cx="4.6" cy="17.6" r=".42"/><circle cx="0.2" cy="13.5" r=".42"/><circle cx="8.4" cy="9.6" r=".42"/><circle cx="14.1" cy="4.3" r=".42"/><circle cx="6.1" cy="17.1" r=".42"/><circle cx="7.7" cy="8.6" r=".42"/><circle cx="3.9" cy="17.5" r=".42"/><circle cx="11.4" cy="7.2" r=".42"/><circle cx="12.8" cy="8.4" r=".42"/><circle cx="5.4" cy="11.5" r=".42"/><circle cx="13.7" cy="6.1" r=".42"/><circle cx="6.8" cy="16.9" r=".42"/><circle cx="12.5" cy="6.0" r=".42"/><circle cx="4.6" cy="16.7" r=".42"/><circle cx="13.6" cy="7.4" r=".42"/><circle cx="9.3" cy="10.7" r=".42"/><circle cx="3.9" cy="13.2" r=".42"/><circle cx="1.6" cy="12.9" r=".42"/><circle cx="13.9" cy="4.6" r=".42"/><circle cx="12.1" cy="5.0" r=".42"/><circle cx="9.3" cy="7.6" r=".42"/><circle cx="3.9" cy="17.7" r=".42"/><circle cx="2.7" cy="13.6" r=".42"/><circle cx="7.9" cy="13.1" r=".42"/><circle cx="9.4" cy="10.8" r=".42"/><circle cx="12.5" cy="5.5" r=".42"/><circle cx="3.0" cy="16.1" r=".42"/><circle cx="9.8" cy="9.1" r=".42"/><circle cx="11.6" cy="8.7" r=".42"/><circle cx="7.7" cy="10.7" r=".42"/><circle cx="4.6" cy="14.6" r=".42"/><circle cx="9.4" cy="12.9" r=".42"/><circle cx="5.1" cy="12.8" r=".42"/><circle cx="16.7" cy="2.1" r=".35"/><circle cx="15.7" cy="3.8" r=".35"/><circle cx="11.5" cy="3.8" r=".35"/><circle cx="16.8" cy="3.5" r=".35"/><circle cx="14.7" cy="6.9" r=".35"/><circle cx="11.4" cy="13.7" r=".35"/></g><polygon points="3.32,17.76 17.44,2.65 16.96,2.15 1.28,15.64" fill="#000"/><circle cx="2.90" cy="16.13" r="0.88"/><ellipse cx="6.77" cy="12.41" rx="5.00" ry="1.40" transform="rotate(-43.82285511401794 6.77 12.41)" fill="#000" opacity="1"/><g fill="#000" opacity="0.7"><circle cx="7.12" cy="14.40" r="0.40"/><circle cx="10.44" cy="10.10" r="0.40"/><circle cx="2.34" cy="16.63" r="0.40"/><circle cx="2.84" cy="15.94" r="0.40"/><circle cx="6.72" cy="10.32" r="0.40"/><circle cx="7.91" cy="9.60" r="0.40"/><circle cx="10.16" cy="11.32" r="0.40"/><circle cx="2.14" cy="16.13" r="0.40"/><circle cx="2.71" cy="16.09" r="0.40"/><circle cx="6.30" cy="10.86" r="0.40"/><circle cx="5.23" cy="11.83" r="0.40"/><circle cx="5.13" cy="11.94" r="0.40"/><circle cx="10.96" cy="8.24" r="0.40"/><circle cx="3.11" cy="16.70" r="0.40"/></g></g><g id="c03"><g fill="#000" opacity="0.6"><circle cx="13.5" cy="5.3" r=".42"/><circle cx="12.3" cy="6.6" r=".42"/><circle cx="9.8" cy="10.4" r=".42"/><circle cx="13.0" cy="8.0" r=".42"/><circle cx="10.0" cy="5.5" r=".42"/><circle cx="11.4" cy="6.0" r=".42"/><circle cx="1.0" cy="13.3" r=".42"/><circle cx="9.8" cy="8.9" r=".42"/><circle cx="5.4" cy="16.6" r=".42"/><circle cx="8.1" cy="12.7" r=".42"/><circle cx="8.5" cy="7.5" r=".42"/><circle cx="8.5" cy="12.1" r=".42"/><circle cx="10.9" cy="6.2" r=".42"/><circle cx="8.0" cy="9.7" r=".42"/><circle cx="5.9" cy="7.2" r=".42"/><circle cx="9.0" cy="8.9" r=".42"/><circle cx="11.1" cy="7.8" r=".42"/><circle cx="2.3" cy="15.8" r=".42"/><circle cx="5.5" cy="12.8" r=".42"/><circle cx="8.8" cy="12.1" r=".42"/><circle cx="4.4" cy="15.0" r=".42"/><circle cx="9.9" cy="9.3" r=".42"/><circle cx="16.0" cy="3.9" r=".42"/><circle cx="12.9" cy="4.7" r=".42"/><circle cx="3.9" cy="12.4" r=".42"/><circle cx="3.5" cy="13.9" r=".42"/><circle cx="13.0" cy="6.0" r=".42"/><circle cx="13.1" cy="5.2" r=".42"/><circle cx="11.5" cy="7.1" r=".42"/><circle cx="12.6" cy="8.7" r=".42"/><circle cx="12.5" cy="9.0" r=".42"/><circle cx="7.7" cy="14.0" r=".42"/><circle cx="7.7" cy="12.9" r=".42"/><circle cx="8.4" cy="11.1" r=".42"/><circle cx="7.9" cy="10.9" r=".42"/><circle cx="2.5" cy="15.8" r=".42"/><circle cx="3.0" cy="17.1" r=".42"/><circle cx="11.8" cy="6.3" r=".42"/><circle cx="7.1" cy="10.9" r=".42"/><circle cx="4.4" cy="11.4" r=".42"/><circle cx="9.8" cy="9.2" r=".42"/><circle cx="15.9" cy="5.9" r=".42"/><circle cx="10.2" cy="9.7" r=".42"/><circle cx="6.0" cy="13.6" r=".42"/><circle cx="6.7" cy="17.1" r=".42"/><circle cx="2.8" cy="16.0" r=".42"/><circle cx="10.2" cy="11.3" r=".42"/><circle cx="10.2" cy="9.5" r=".42"/><circle cx="14.1" cy="6.1" r=".42"/><circle cx="3.7" cy="13.4" r=".42"/><circle cx="6.3" cy="10.8" r=".42"/><circle cx="8.5" cy="12.0" r=".42"/><circle cx="6.3" cy="15.5" r=".42"/><circle cx="11.4" cy="17.2" r=".42"/><circle cx="10.4" cy="6.2" r=".42"/><circle cx="9.1" cy="11.8" r=".42"/><circle cx="7.0" cy="16.6" r=".42"/><circle cx="8.0" cy="11.9" r=".42"/><circle cx="14.6" cy="3.6" r=".42"/><circle cx="1.9" cy="12.9" r=".42"/><circle cx="5.3" cy="17.4" r=".42"/><circle cx="6.4" cy="12.3" r=".42"/><circle cx="4.8" cy="12.3" r=".42"/><circle cx="1.1" cy="12.7" r=".42"/><circle cx="11.4" cy="10.0" r=".42"/><circle cx="12.5" cy="7.5" r=".42"/><circle cx="15.7" cy="3.4" r=".42"/><circle cx="14.7" cy="3.7" r=".42"/><circle cx="12.0" cy="9.5" r=".42"/><circle cx="5.3" cy="13.2" r=".42"/><circle cx="11.6" cy="9.1" r=".42"/><circle cx="6.4" cy="10.6" r=".42"/><circle cx="3.5" cy="12.6" r=".42"/><circle cx="12.5" cy="5.9" r=".42"/><circle cx="6.1" cy="15.4" r=".42"/><circle cx="7.1" cy="11.6" r=".42"/><circle cx="4.1" cy="14.8" r=".42"/><circle cx="7.2" cy="11.5" r=".35"/><circle cx="10.4" cy="10.0" r=".35"/><circle cx="5.1" cy="11.1" r=".35"/><circle cx="7.8" cy="8.4" r=".35"/><circle cx="3.4" cy="14.9" r=".35"/><circle cx="15.1" cy="5.0" r=".35"/><circle cx="6.5" cy="14.6" r=".35"/><circle cx="18.6" cy="4.9" r=".35"/><circle cx="11.8" cy="9.6" r=".35"/><circle cx="5.9" cy="13.7" r=".35"/></g><polygon points="3.81,18.27 17.44,2.65 16.96,2.15 0.79,15.13" fill="#000"/><circle cx="2.90" cy="16.13" r="1.31"/><ellipse cx="6.77" cy="12.41" rx="5.00" ry="2.07" transform="rotate(-43.82285511401794 6.77 12.41)" fill="#000" opacity="1"/><g fill="#000" opacity="0.7"><circle cx="10.20" cy="7.68" r="0.40"/><circle cx="8.57" cy="14.16" r="0.40"/><circle cx="3.23" cy="16.14" r="0.40"/><circle cx="11.49" cy="9.47" r="0.40"/><circle cx="4.31" cy="16.23" r="0.40"/><circle cx="6.91" cy="9.53" r="0.40"/><circle cx="9.44" cy="8.12" r="0.40"/><circle cx="2.18" cy="16.20" r="0.40"/><circle cx="3.63" cy="17.01" r="0.40"/><circle cx="7.67" cy="14.77" r="0.40"/><circle cx="4.79" cy="17.73" r="0.40"/><circle cx="9.51" cy="8.54" r="0.40"/><circle cx="5.67" cy="9.57" r="0.40"/><circle cx="10.51" cy="8.41" r="0.40"/><circle cx="8.61" cy="8.61" r="0.40"/><circle cx="9.03" cy="13.58" r="0.40"/><circle cx="3.37" cy="16.64" r="0.40"/><circle cx="6.22" cy="15.87" r="0.40"/><circle cx="10.50" cy="11.82" r="0.40"/><circle cx="10.57" cy="7.69" r="0.40"/></g></g><g id="c04"><g fill="#000" opacity="0.6"><circle cx="11.4" cy="10.4" r=".42"/><circle cx="8.9" cy="13.1" r=".42"/><circle cx="10.0" cy="7.7" r=".42"/><circle cx="8.9" cy="9.9" r=".42"/><circle cx="15.0" cy="5.8" r=".42"/><circle cx="9.7" cy="8.7" r=".42"/><circle cx="16.6" cy="4.1" r=".42"/><circle cx="4.4" cy="15.5" r=".42"/><circle cx="1.0" cy="13.8" r=".42"/><circle cx="7.0" cy="11.2" r=".42"/><circle cx="13.1" cy="5.9" r=".42"/><circle cx="13.2" cy="6.0" r=".42"/><circle cx="5.6" cy="7.6" r=".42"/><circle cx="15.8" cy="2.5" r=".42"/><circle cx="7.4" cy="13.6" r=".42"/><circle cx="6.1" cy="14.2" r=".42"/><circle cx="13.9" cy="9.2" r=".42"/><circle cx="10.0" cy="11.6" r=".42"/><circle cx="11.6" cy="8.2" r=".42"/><circle cx="8.4" cy="7.6" r=".42"/><circle cx="11.5" cy="6.0" r=".42"/><circle cx="3.2" cy="14.5" r=".42"/><circle cx="17.3" cy="3.9" r=".42"/><circle cx="7.5" cy="15.5" r=".42"/><circle cx="9.1" cy="14.3" r=".42"/><circle cx="8.6" cy="10.0" r=".42"/><circle cx="5.9" cy="13.7" r=".42"/><circle cx="5.0" cy="16.5" r=".42"/><circle cx="11.7" cy="8.0" r=".42"/><circle cx="4.3" cy="15.9" r=".42"/><circle cx="9.5" cy="7.5" r=".42"/><circle cx="7.4" cy="7.9" r=".42"/><circle cx="7.3" cy="9.2" r=".42"/><circle cx="-0.0" cy="13.4" r=".42"/><circle cx="16.1" cy="5.1" r=".42"/><circle cx="11.9" cy="6.6" r=".42"/><circle cx="7.7" cy="12.2" r=".42"/><circle cx="4.8" cy="17.5" r=".42"/><circle cx="15.7" cy="4.3" r=".42"/><circle cx="5.5" cy="13.6" r=".42"/><circle cx="2.8" cy="15.8" r=".42"/><circle cx="10.7" cy="7.2" r=".42"/><circle cx="3.7" cy="14.0" r=".42"/><circle cx="7.5" cy="11.7" r=".42"/><circle cx="7.8" cy="14.8" r=".42"/><circle cx="6.1" cy="11.1" r=".42"/><circle cx="3.6" cy="15.4" r=".42"/><circle cx="3.4" cy="10.8" r=".42"/><circle cx="3.7" cy="14.5" r=".42"/><circle cx="6.1" cy="15.2" r=".42"/><circle cx="8.9" cy="7.9" r=".42"/><circle cx="9.2" cy="6.8" r=".42"/><circle cx="8.2" cy="13.3" r=".42"/><circle cx="2.4" cy="15.8" r=".42"/><circle cx="10.5" cy="9.3" r=".42"/><circle cx="10.2" cy="9.9" r=".42"/><circle cx="17.9" cy="3.8" r=".42"/><circle cx="6.5" cy="7.5" r=".42"/><circle cx="10.6" cy="12.2" r=".42"/><circle cx="9.0" cy="14.9" r=".42"/><circle cx="9.8" cy="9.1" r=".42"/><circle cx="12.4" cy="11.0" r=".42"/><circle cx="4.2" cy="13.0" r=".42"/><circle cx="10.1" cy="11.0" r=".42"/><circle cx="4.3" cy="12.6" r=".42"/><circle cx="10.9" cy="9.9" r=".42"/><circle cx="5.7" cy="8.6" r=".42"/><circle cx="10.0" cy="7.8" r=".42"/><circle cx="7.0" cy="8.5" r=".42"/><circle cx="9.9" cy="6.6" r=".42"/><circle cx="5.7" cy="11.3" r=".42"/><circle cx="3.4" cy="12.1" r=".42"/><circle cx="5.6" cy="15.1" r=".42"/><circle cx="10.2" cy="6.9" r=".42"/><circle cx="13.4" cy="8.8" r=".42"/><circle cx="13.6" cy="5.4" r=".42"/><circle cx="5.9" cy="9.9" r=".42"/><circle cx="4.8" cy="14.6" r=".42"/><circle cx="13.0" cy="7.1" r=".42"/><circle cx="8.4" cy="13.1" r=".42"/><circle cx="6.6" cy="8.9" r=".42"/><circle cx="7.0" cy="11.0" r=".42"/><circle cx="9.6" cy="8.7" r=".42"/><circle cx="12.7" cy="5.8" r=".42"/><circle cx="3.5" cy="10.0" r=".42"/><circle cx="4.0" cy="10.9" r=".42"/><circle cx="14.4" cy="6.4" r=".42"/><circle cx="7.0" cy="10.9" r=".42"/><circle cx="0.6" cy="13.2" r=".42"/><circle cx="8.8" cy="12.8" r=".42"/><circle cx="9.6" cy="7.5" r=".42"/><circle cx="9.6" cy="7.6" r=".42"/><circle cx="10.2" cy="9.4" r=".42"/><circle cx="17.4" cy="5.3" r=".35"/><circle cx="12.9" cy="4.7" r=".35"/><circle cx="12.1" cy="4.7" r=".35"/><circle cx="3.1" cy="13.1" r=".35"/><circle cx="8.9" cy="11.0" r=".35"/><circle cx="15.1" cy="5.7" r=".35"/><circle cx="11.8" cy="9.7" r=".35"/><circle cx="8.1" cy="13.9" r=".35"/><circle cx="1.4" cy="15.7" r=".35"/><circle cx="6.2" cy="12.4" r=".35"/><circle cx="3.8" cy="18.3" r=".35"/><circle cx="14.1" cy="1.2" r=".35"/></g><polygon points="4.11,18.59 17.44,2.65 16.96,2.15 0.49,14.81" fill="#000"/><circle cx="2.90" cy="16.13" r="1.57"/><ellipse cx="6.77" cy="12.41" rx="5.00" ry="2.48" transform="rotate(-43.82285511401794 6.77 12.41)" fill="#000" opacity="1"/><g fill="#000" opacity="0.7"><circle cx="6.95" cy="8.89" r="0.40"/><circle cx="1.75" cy="17.41" r="0.40"/><circle cx="4.76" cy="16.57" r="0.40"/><circle cx="9.84" cy="12.92" r="0.40"/><circle cx="4.32" cy="16.44" r="0.40"/><circle cx="3.91" cy="17.34" r="0.40"/><circle cx="5.20" cy="16.27" r="0.40"/><circle cx="4.02" cy="11.26" r="0.40"/><circle cx="9.11" cy="7.81" r="0.40"/><circle cx="7.01" cy="16.18" r="0.40"/><circle cx="5.27" cy="10.36" r="0.40"/><circle cx="4.22" cy="17.19" r="0.40"/><circle cx="8.02" cy="8.70" r="0.40"/><circle cx="11.04" cy="10.50" r="0.40"/><circle cx="3.61" cy="16.32" r="0.40"/><circle cx="10.07" cy="8.07" r="0.40"/><circle cx="9.61" cy="8.39" r="0.40"/><circle cx="3.00" cy="13.55" r="0.40"/><circle cx="10.23" cy="7.74" r="0.40"/><circle cx="4.47" cy="10.57" r="0.40"/><circle cx="2.16" cy="17.33" r="0.40"/><circle cx="10.75" cy="10.79" r="0.40"/><circle cx="3.66" cy="12.20" r="0.40"/></g></g><g id="c05"><g fill="#000" opacity="0.6"><circle cx="13.5" cy="5.4" r=".42"/><circle cx="11.3" cy="9.2" r=".42"/><circle cx="4.4" cy="8.6" r=".42"/><circle cx="5.3" cy="15.7" r=".42"/><circle cx="9.9" cy="15.8" r=".42"/><circle cx="4.4" cy="8.9" r=".42"/><circle cx="12.1" cy="11.7" r=".42"/><circle cx="4.8" cy="13.0" r=".42"/><circle cx="4.6" cy="13.9" r=".42"/><circle cx="10.5" cy="8.6" r=".42"/><circle cx="12.3" cy="6.4" r=".42"/><circle cx="12.7" cy="7.1" r=".42"/><circle cx="4.2" cy="16.2" r=".42"/><circle cx="8.3" cy="15.4" r=".42"/><circle cx="12.0" cy="7.6" r=".42"/><circle cx="0.0" cy="13.6" r=".42"/><circle cx="13.5" cy="7.0" r=".42"/><circle cx="11.1" cy="11.8" r=".42"/><circle cx="3.5" cy="16.5" r=".42"/><circle cx="12.0" cy="7.1" r=".42"/><circle cx="10.8" cy="8.0" r=".42"/><circle cx="7.4" cy="11.9" r=".42"/><circle cx="3.0" cy="15.9" r=".42"/><circle cx="1.2" cy="13.5" r=".42"/><circle cx="9.6" cy="8.7" r=".42"/><circle cx="15.0" cy="4.3" r=".42"/><circle cx="11.1" cy="7.8" r=".42"/><circle cx="5.5" cy="17.9" r=".42"/><circle cx="6.9" cy="13.2" r=".42"/><circle cx="11.2" cy="11.0" r=".42"/><circle cx="0.8" cy="13.7" r=".42"/><circle cx="7.1" cy="12.5" r=".42"/><circle cx="14.5" cy="7.0" r=".42"/><circle cx="10.6" cy="9.0" r=".42"/><circle cx="4.7" cy="9.5" r=".42"/><circle cx="3.2" cy="13.4" r=".42"/><circle cx="8.4" cy="12.7" r=".42"/><circle cx="8.3" cy="8.5" r=".42"/><circle cx="9.5" cy="7.5" r=".42"/><circle cx="7.8" cy="12.2" r=".42"/><circle cx="9.8" cy="10.3" r=".42"/><circle cx="2.8" cy="13.0" r=".42"/><circle cx="7.6" cy="13.8" r=".42"/><circle cx="10.0" cy="6.6" r=".42"/><circle cx="11.2" cy="8.9" r=".42"/><circle cx="9.5" cy="10.6" r=".42"/><circle cx="13.4" cy="8.8" r=".42"/><circle cx="13.6" cy="3.8" r=".42"/><circle cx="10.9" cy="10.1" r=".42"/><circle cx="11.2" cy="8.4" r=".42"/><circle cx="8.3" cy="9.6" r=".42"/><circle cx="-1.0" cy="13.1" r=".42"/><circle cx="11.3" cy="8.9" r=".42"/><circle cx="11.9" cy="8.9" r=".42"/><circle cx="10.0" cy="10.1" r=".42"/><circle cx="4.5" cy="18.2" r=".42"/><circle cx="14.2" cy="5.3" r=".42"/><circle cx="4.5" cy="16.7" r=".42"/><circle cx="9.3" cy="10.9" r=".42"/><circle cx="4.2" cy="10.7" r=".42"/><circle cx="8.3" cy="11.9" r=".42"/><circle cx="12.2" cy="11.4" r=".42"/><circle cx="11.0" cy="7.9" r=".42"/><circle cx="4.0" cy="11.8" r=".42"/><circle cx="8.3" cy="11.4" r=".42"/><circle cx="7.9" cy="15.0" r=".42"/><circle cx="8.8" cy="7.0" r=".42"/><circle cx="7.6" cy="16.5" r=".42"/><circle cx="5.7" cy="13.7" r=".42"/><circle cx="5.3" cy="12.2" r=".42"/><circle cx="12.4" cy="5.3" r=".42"/><circle cx="6.8" cy="14.4" r=".42"/><circle cx="16.6" cy="2.9" r=".42"/><circle cx="6.9" cy="9.9" r=".42"/><circle cx="10.4" cy="12.9" r=".42"/><circle cx="15.1" cy="10.1" r=".42"/><circle cx="10.2" cy="10.4" r=".42"/><circle cx="9.1" cy="10.9" r=".42"/><circle cx="8.5" cy="15.3" r=".42"/><circle cx="6.4" cy="15.8" r=".42"/><circle cx="16.0" cy="2.8" r=".42"/><circle cx="11.1" cy="10.7" r=".42"/><circle cx="9.7" cy="12.2" r=".42"/><circle cx="5.0" cy="17.5" r=".42"/><circle cx="13.4" cy="11.3" r=".42"/><circle cx="11.3" cy="6.8" r=".42"/><circle cx="4.0" cy="13.2" r=".42"/><circle cx="11.8" cy="10.4" r=".42"/><circle cx="6.1" cy="19.9" r=".42"/><circle cx="13.2" cy="6.6" r=".42"/><circle cx="8.2" cy="11.8" r=".42"/><circle cx="5.6" cy="14.3" r=".42"/><circle cx="6.0" cy="17.2" r=".42"/><circle cx="5.9" cy="15.5" r=".42"/><circle cx="1.6" cy="11.9" r=".42"/><circle cx="9.5" cy="12.4" r=".42"/><circle cx="11.4" cy="11.3" r=".42"/><circle cx="7.2" cy="11.9" r=".42"/><circle cx="5.7" cy="10.9" r=".42"/><circle cx="14.5" cy="6.0" r=".42"/><circle cx="10.5" cy="8.0" r=".42"/><circle cx="8.5" cy="10.7" r=".42"/><circle cx="12.7" cy="6.5" r=".42"/><circle cx="11.5" cy="11.3" r=".42"/><circle cx="6.4" cy="9.6" r=".42"/><circle cx="9.2" cy="15.6" r=".42"/><circle cx="12.7" cy="6.0" r=".35"/><circle cx="2.1" cy="15.8" r=".35"/><circle cx="3.3" cy="16.6" r=".35"/><circle cx="5.5" cy="12.8" r=".35"/><circle cx="15.6" cy="4.2" r=".35"/><circle cx="6.1" cy="17.4" r=".35"/><circle cx="0.6" cy="13.7" r=".35"/><circle cx="3.7" cy="15.8" r=".35"/><circle cx="13.0" cy="3.0" r=".35"/><circle cx="6.1" cy="11.1" r=".35"/><circle cx="0.9" cy="12.8" r=".35"/><circle cx="8.2" cy="11.4" r=".35"/><circle cx="7.1" cy="11.2" r=".35"/><circle cx="2.8" cy="15.5" r=".35"/></g><polygon points="4.35,18.83 17.44,2.65 16.96,2.15 0.25,14.57" fill="#000"/><circle cx="2.90" cy="16.13" r="1.77"/><ellipse cx="6.77" cy="12.41" rx="5.00" ry="2.81" transform="rotate(-43.82285511401794 6.77 12.41)" fill="#000" opacity="1"/><g fill="#000" opacity="0.7"><circle cx="2.99" cy="16.55" r="0.40"/><circle cx="3.15" cy="11.39" r="0.40"/><circle cx="8.60" cy="8.41" r="0.40"/><circle cx="9.61" cy="13.92" r="0.40"/><circle cx="2.81" cy="17.69" r="0.40"/><circle cx="3.65" cy="10.41" r="0.40"/><circle cx="3.37" cy="16.50" r="0.40"/><circle cx="2.30" cy="14.12" r="0.40"/><circle cx="9.30" cy="8.01" r="0.40"/><circle cx="6.29" cy="16.65" r="0.40"/><circle cx="2.74" cy="13.80" r="0.40"/><circle cx="3.20" cy="12.12" r="0.40"/><circle cx="7.46" cy="16.26" r="0.40"/><circle cx="1.39" cy="15.06" r="0.40"/><circle cx="8.87" cy="8.32" r="0.40"/><circle cx="8.94" cy="14.45" r="0.40"/><circle cx="3.16" cy="12.50" r="0.40"/><circle cx="6.59" cy="9.07" r="0.40"/><circle cx="2.34" cy="12.89" r="0.40"/><circle cx="10.50" cy="12.55" r="0.40"/><circle cx="2.07" cy="15.52" r="0.40"/><circle cx="10.00" cy="7.63" r="0.40"/><circle cx="9.49" cy="13.69" r="0.40"/><circle cx="8.25" cy="7.61" r="0.40"/><circle cx="10.88" cy="12.51" r="0.40"/><circle cx="10.83" cy="12.37" r="0.40"/></g></g><g id="c12"><g fill="#000" opacity="0.6"><circle cx="8.4" cy="13.1" r=".42"/><circle cx="4.1" cy="13.2" r=".42"/><circle cx="11.4" cy="8.8" r=".42"/><circle cx="6.8" cy="11.9" r=".42"/><circle cx="5.2" cy="15.9" r=".42"/><circle cx="2.4" cy="15.2" r=".42"/><circle cx="1.8" cy="16.0" r=".42"/><circle cx="7.5" cy="11.5" r=".42"/><circle cx="5.4" cy="14.6" r=".42"/><circle cx="15.3" cy="5.3" r=".42"/><circle cx="8.7" cy="8.8" r=".42"/><circle cx="14.2" cy="5.4" r=".42"/><circle cx="10.9" cy="6.4" r=".42"/><circle cx="7.0" cy="12.1" r=".42"/><circle cx="3.5" cy="15.9" r=".42"/><circle cx="8.3" cy="12.4" r=".42"/><circle cx="5.4" cy="13.0" r=".42"/><circle cx="10.9" cy="7.4" r=".42"/><circle cx="14.3" cy="3.9" r=".42"/><circle cx="11.3" cy="7.7" r=".42"/><circle cx="12.9" cy="5.2" r=".42"/><circle cx="10.3" cy="10.0" r=".42"/><circle cx="14.5" cy="4.7" r=".42"/><circle cx="12.3" cy="5.8" r=".42"/><circle cx="4.1" cy="14.6" r=".42"/><circle cx="9.3" cy="8.7" r=".42"/><circle cx="6.9" cy="12.5" r=".42"/><circle cx="3.4" cy="14.8" r=".42"/><circle cx="14.4" cy="8.3" r=".42"/><circle cx="2.8" cy="15.7" r=".42"/><circle cx="2.9" cy="16.8" r=".42"/><circle cx="4.8" cy="16.0" r=".42"/><circle cx="10.7" cy="9.1" r=".42"/><circle cx="2.8" cy="16.5" r=".42"/><circle cx="6.1" cy="13.4" r=".42"/><circle cx="5.5" cy="11.0" r=".42"/><circle cx="14.0" cy="4.4" r=".42"/><circle cx="5.0" cy="12.9" r=".42"/><circle cx="15.8" cy="1.8" r=".42"/><circle cx="7.0" cy="14.6" r=".42"/><circle cx="14.2" cy="2.6" r=".35"/><circle cx="10.7" cy="11.4" r=".35"/><circle cx="11.5" cy="3.3" r=".35"/><circle cx="2.7" cy="12.6" r=".35"/><circle cx="10.1" cy="5.5" r=".35"/></g><polygon points="3.10,17.53 17.44,2.65 16.96,2.15 1.50,15.87" fill="#000"/><circle cx="2.90" cy="16.13" r="0.69"/><ellipse cx="6.77" cy="12.41" rx="5.00" ry="1.09" transform="rotate(-43.82285511401794 6.77 12.41)" fill="#000" opacity="1"/><g fill="#000" opacity="0.7"><circle cx="10.05" cy="8.50" r="0.40"/><circle cx="2.04" cy="16.48" r="0.40"/><circle cx="10.87" cy="8.23" r="0.40"/><circle cx="10.52" cy="9.58" r="0.40"/><circle cx="2.29" cy="17.72" r="0.40"/><circle cx="7.54" cy="13.37" r="0.40"/><circle cx="7.46" cy="10.26" r="0.40"/><circle cx="3.61" cy="16.48" r="0.40"/><circle cx="7.56" cy="13.57" r="0.40"/><circle cx="4.23" cy="13.32" r="0.40"/><circle cx="5.46" cy="14.97" r="0.40"/><circle cx="9.65" cy="8.92" r="0.40"/></g></g><g id="c13"><g fill="#000" opacity="0.6"><circle cx="4.8" cy="18.1" r=".42"/><circle cx="4.9" cy="11.2" r=".42"/><circle cx="8.0" cy="11.1" r=".42"/><circle cx="4.6" cy="13.8" r=".42"/><circle cx="13.6" cy="5.7" r=".42"/><circle cx="4.1" cy="16.6" r=".42"/><circle cx="7.7" cy="12.3" r=".42"/><circle cx="14.6" cy="5.2" r=".42"/><circle cx="15.0" cy="7.2" r=".42"/><circle cx="14.5" cy="7.1" r=".42"/><circle cx="10.7" cy="6.8" r=".42"/><circle cx="9.1" cy="13.1" r=".42"/><circle cx="12.3" cy="7.0" r=".42"/><circle cx="4.6" cy="14.0" r=".42"/><circle cx="9.0" cy="12.0" r=".42"/><circle cx="5.1" cy="13.3" r=".42"/><circle cx="6.9" cy="10.5" r=".42"/><circle cx="11.3" cy="8.1" r=".42"/><circle cx="4.5" cy="12.5" r=".42"/><circle cx="5.1" cy="14.7" r=".42"/><circle cx="2.3" cy="15.8" r=".42"/><circle cx="6.1" cy="16.2" r=".42"/><circle cx="13.1" cy="4.1" r=".42"/><circle cx="11.8" cy="9.3" r=".42"/><circle cx="14.1" cy="6.6" r=".42"/><circle cx="6.8" cy="13.7" r=".42"/><circle cx="9.0" cy="11.3" r=".42"/><circle cx="10.0" cy="11.3" r=".42"/><circle cx="4.5" cy="16.4" r=".42"/><circle cx="3.5" cy="16.7" r=".42"/><circle cx="11.8" cy="9.6" r=".42"/><circle cx="12.0" cy="9.0" r=".42"/><circle cx="2.9" cy="13.8" r=".42"/><circle cx="9.2" cy="10.9" r=".42"/><circle cx="11.9" cy="5.4" r=".42"/><circle cx="11.6" cy="12.0" r=".42"/><circle cx="9.0" cy="8.1" r=".42"/><circle cx="9.8" cy="9.4" r=".42"/><circle cx="17.1" cy="2.8" r=".42"/><circle cx="6.1" cy="16.6" r=".42"/><circle cx="11.8" cy="11.6" r=".42"/><circle cx="1.5" cy="12.4" r=".42"/><circle cx="2.1" cy="16.3" r=".42"/><circle cx="15.7" cy="2.2" r=".42"/><circle cx="13.9" cy="8.0" r=".42"/><circle cx="15.5" cy="4.9" r=".42"/><circle cx="3.3" cy="11.6" r=".42"/><circle cx="7.1" cy="10.4" r=".42"/><circle cx="4.1" cy="13.2" r=".42"/><circle cx="9.3" cy="7.4" r=".42"/><circle cx="3.2" cy="12.3" r=".42"/><circle cx="15.4" cy="4.5" r=".42"/><circle cx="15.0" cy="5.6" r=".42"/><circle cx="12.8" cy="7.1" r=".42"/><circle cx="13.5" cy="6.8" r=".42"/><circle cx="13.0" cy="6.7" r=".42"/><circle cx="7.1" cy="12.6" r=".42"/><circle cx="4.9" cy="16.8" r=".42"/><circle cx="11.1" cy="6.4" r=".42"/><circle cx="3.1" cy="16.3" r=".42"/><circle cx="8.7" cy="12.0" r=".42"/><circle cx="8.1" cy="9.9" r=".42"/><circle cx="7.8" cy="12.9" r=".35"/><circle cx="0.5" cy="13.7" r=".35"/><circle cx="11.3" cy="7.8" r=".35"/><circle cx="14.7" cy="5.5" r=".35"/><circle cx="9.4" cy="12.5" r=".35"/><circle cx="7.2" cy="12.5" r=".35"/><circle cx="7.0" cy="14.0" r=".35"/><circle cx="15.3" cy="7.3" r=".35"/></g><polygon points="3.52,17.97 17.44,2.65 16.96,2.15 1.08,15.43" fill="#000"/><circle cx="2.90" cy="16.13" r="1.05"/><ellipse cx="6.77" cy="12.41" rx="5.00" ry="1.67" transform="rotate(-43.82285511401794 6.77 12.41)" fill="#000" opacity="1"/><g fill="#000" opacity="0.7"><circle cx="2.45" cy="16.30" r="0.40"/><circle cx="2.18" cy="14.36" r="0.40"/><circle cx="2.83" cy="14.86" r="0.40"/><circle cx="6.61" cy="10.27" r="0.40"/><circle cx="8.52" cy="13.02" r="0.40"/><circle cx="5.16" cy="11.28" r="0.40"/><circle cx="9.84" cy="8.59" r="0.40"/><circle cx="10.60" cy="10.66" r="0.40"/><circle cx="7.09" cy="14.45" r="0.40"/><circle cx="2.34" cy="16.51" r="0.40"/><circle cx="10.56" cy="10.45" r="0.40"/><circle cx="3.79" cy="12.27" r="0.40"/><circle cx="10.88" cy="9.93" r="0.40"/><circle cx="4.56" cy="16.29" r="0.40"/><circle cx="6.92" cy="9.93" r="0.40"/><circle cx="4.51" cy="16.40" r="0.40"/></g></g><g id="c14"><g fill="#000" opacity="0.6"><circle cx="4.1" cy="13.8" r=".42"/><circle cx="3.4" cy="14.4" r=".42"/><circle cx="7.1" cy="12.2" r=".42"/><circle cx="-0.1" cy="11.1" r=".42"/><circle cx="3.2" cy="14.6" r=".42"/><circle cx="6.9" cy="14.2" r=".42"/><circle cx="9.6" cy="10.9" r=".42"/><circle cx="12.6" cy="8.0" r=".42"/><circle cx="10.3" cy="9.1" r=".42"/><circle cx="7.1" cy="9.9" r=".42"/><circle cx="12.8" cy="8.3" r=".42"/><circle cx="10.6" cy="8.9" r=".42"/><circle cx="16.4" cy="6.8" r=".42"/><circle cx="13.1" cy="6.4" r=".42"/><circle cx="6.3" cy="13.9" r=".42"/><circle cx="16.3" cy="5.6" r=".42"/><circle cx="13.0" cy="4.5" r=".42"/><circle cx="8.0" cy="9.0" r=".42"/><circle cx="13.6" cy="5.9" r=".42"/><circle cx="6.5" cy="12.7" r=".42"/><circle cx="11.1" cy="8.1" r=".42"/><circle cx="3.2" cy="9.0" r=".42"/><circle cx="4.2" cy="15.0" r=".42"/><circle cx="2.0" cy="12.7" r=".42"/><circle cx="14.0" cy="4.7" r=".42"/><circle cx="7.8" cy="14.2" r=".42"/><circle cx="6.2" cy="13.3" r=".42"/><circle cx="15.3" cy="6.8" r=".42"/><circle cx="14.6" cy="6.6" r=".42"/><circle cx="11.9" cy="7.6" r=".42"/><circle cx="6.5" cy="14.6" r=".42"/><circle cx="12.2" cy="6.8" r=".42"/><circle cx="11.0" cy="7.7" r=".42"/><circle cx="3.6" cy="14.1" r=".42"/><circle cx="4.3" cy="16.0" r=".42"/><circle cx="10.2" cy="8.7" r=".42"/><circle cx="16.5" cy="2.2" r=".42"/><circle cx="7.4" cy="9.6" r=".42"/><circle cx="15.4" cy="3.1" r=".42"/><circle cx="9.6" cy="6.8" r=".42"/><circle cx="10.1" cy="9.7" r=".42"/><circle cx="10.0" cy="10.6" r=".42"/><circle cx="4.6" cy="17.5" r=".42"/><circle cx="5.0" cy="13.6" r=".42"/><circle cx="7.4" cy="15.5" r=".42"/><circle cx="16.8" cy="4.8" r=".42"/><circle cx="10.3" cy="9.3" r=".42"/><circle cx="9.3" cy="13.6" r=".42"/><circle cx="8.4" cy="15.3" r=".42"/><circle cx="7.4" cy="13.7" r=".42"/><circle cx="6.7" cy="12.5" r=".42"/><circle cx="9.5" cy="8.8" r=".42"/><circle cx="3.0" cy="12.3" r=".42"/><circle cx="10.5" cy="10.4" r=".42"/><circle cx="11.2" cy="8.9" r=".42"/><circle cx="7.4" cy="10.7" r=".42"/><circle cx="11.2" cy="6.2" r=".42"/><circle cx="2.6" cy="13.8" r=".42"/><circle cx="3.8" cy="14.5" r=".42"/><circle cx="5.7" cy="13.0" r=".42"/><circle cx="2.4" cy="15.9" r=".42"/><circle cx="5.8" cy="13.1" r=".42"/><circle cx="2.5" cy="16.2" r=".42"/><circle cx="4.1" cy="16.6" r=".42"/><circle cx="12.8" cy="6.2" r=".42"/><circle cx="8.7" cy="12.5" r=".42"/><circle cx="8.3" cy="10.6" r=".42"/><circle cx="1.5" cy="10.0" r=".42"/><circle cx="2.6" cy="14.3" r=".42"/><circle cx="4.8" cy="11.6" r=".42"/><circle cx="5.8" cy="11.1" r=".42"/><circle cx="5.9" cy="13.6" r=".42"/><circle cx="12.6" cy="6.3" r=".42"/><circle cx="10.8" cy="7.2" r=".42"/><circle cx="7.3" cy="14.5" r=".42"/><circle cx="11.5" cy="8.1" r=".42"/><circle cx="10.2" cy="7.7" r=".42"/><circle cx="9.1" cy="11.8" r=".42"/><circle cx="6.2" cy="15.5" r=".35"/><circle cx="13.8" cy="4.9" r=".35"/><circle cx="16.1" cy="3.5" r=".35"/><circle cx="8.1" cy="15.1" r=".35"/><circle cx="2.0" cy="13.8" r=".35"/><circle cx="7.1" cy="7.7" r=".35"/><circle cx="14.2" cy="4.5" r=".35"/><circle cx="12.4" cy="8.6" r=".35"/><circle cx="4.2" cy="15.4" r=".35"/><circle cx="17.7" cy="2.9" r=".35"/></g><polygon points="3.82,18.28 17.44,2.65 16.96,2.15 0.78,15.12" fill="#000"/><circle cx="2.90" cy="16.13" r="1.32"/><ellipse cx="6.77" cy="12.41" rx="5.00" ry="2.09" transform="rotate(-43.82285511401794 6.77 12.41)" fill="#000" opacity="1"/><g fill="#000" opacity="0.7"><circle cx="11.20" cy="9.90" r="0.40"/><circle cx="9.35" cy="8.32" r="0.40"/><circle cx="1.56" cy="14.70" r="0.40"/><circle cx="7.41" cy="14.78" r="0.40"/><circle cx="7.91" cy="8.40" r="0.40"/><circle cx="10.44" cy="8.25" r="0.40"/><circle cx="6.65" cy="9.12" r="0.40"/><circle cx="11.31" cy="8.58" r="0.40"/><circle cx="3.64" cy="16.90" r="0.40"/><circle cx="3.07" cy="17.04" r="0.40"/><circle cx="8.88" cy="13.57" r="0.40"/><circle cx="11.00" cy="10.57" r="0.40"/><circle cx="9.91" cy="8.14" r="0.40"/><circle cx="10.08" cy="12.33" r="0.40"/><circle cx="6.46" cy="15.53" r="0.40"/><circle cx="6.16" cy="15.62" r="0.40"/><circle cx="5.40" cy="15.95" r="0.40"/><circle cx="11.89" cy="7.72" r="0.40"/><circle cx="10.27" cy="11.27" r="0.40"/><circle cx="8.05" cy="14.12" r="0.40"/></g></g><g id="c15"><g fill="#000" opacity="0.6"><circle cx="9.1" cy="7.4" r=".42"/><circle cx="5.9" cy="13.6" r=".42"/><circle cx="8.9" cy="9.7" r=".42"/><circle cx="7.5" cy="8.8" r=".42"/><circle cx="8.2" cy="12.9" r=".42"/><circle cx="14.3" cy="7.9" r=".42"/><circle cx="10.6" cy="6.2" r=".42"/><circle cx="5.2" cy="13.0" r=".42"/><circle cx="9.3" cy="10.4" r=".42"/><circle cx="10.7" cy="9.3" r=".42"/><circle cx="7.8" cy="8.5" r=".42"/><circle cx="5.2" cy="13.7" r=".42"/><circle cx="9.4" cy="13.1" r=".42"/><circle cx="14.3" cy="6.7" r=".42"/><circle cx="12.8" cy="7.3" r=".42"/><circle cx="8.6" cy="8.1" r=".42"/><circle cx="15.2" cy="5.6" r=".42"/><circle cx="11.2" cy="5.0" r=".42"/><circle cx="5.1" cy="18.1" r=".42"/><circle cx="13.8" cy="6.8" r=".42"/><circle cx="6.7" cy="10.9" r=".42"/><circle cx="14.2" cy="6.8" r=".42"/><circle cx="6.1" cy="17.3" r=".42"/><circle cx="3.9" cy="13.5" r=".42"/><circle cx="7.2" cy="13.7" r=".42"/><circle cx="0.3" cy="14.0" r=".42"/><circle cx="14.0" cy="4.0" r=".42"/><circle cx="4.8" cy="12.1" r=".42"/><circle cx="8.7" cy="11.0" r=".42"/><circle cx="4.9" cy="14.2" r=".42"/><circle cx="8.4" cy="14.4" r=".42"/><circle cx="11.7" cy="7.6" r=".42"/><circle cx="9.8" cy="10.4" r=".42"/><circle cx="5.8" cy="7.4" r=".42"/><circle cx="11.9" cy="6.9" r=".42"/><circle cx="12.2" cy="7.0" r=".42"/><circle cx="10.6" cy="7.4" r=".42"/><circle cx="7.1" cy="10.1" r=".42"/><circle cx="15.1" cy="6.0" r=".42"/><circle cx="3.8" cy="12.8" r=".42"/><circle cx="5.0" cy="17.0" r=".42"/><circle cx="11.5" cy="11.3" r=".42"/><circle cx="6.6" cy="11.4" r=".42"/><circle cx="5.6" cy="13.2" r=".42"/><circle cx="2.6" cy="12.3" r=".42"/><circle cx="9.5" cy="6.6" r=".42"/><circle cx="8.8" cy="7.7" r=".42"/><circle cx="13.5" cy="2.6" r=".42"/><circle cx="3.5" cy="11.1" r=".42"/><circle cx="5.2" cy="13.8" r=".42"/><circle cx="9.6" cy="7.8" r=".42"/><circle cx="7.7" cy="12.5" r=".42"/><circle cx="5.8" cy="19.3" r=".42"/><circle cx="1.3" cy="14.9" r=".42"/><circle cx="9.6" cy="10.1" r=".42"/><circle cx="9.8" cy="13.3" r=".42"/><circle cx="6.6" cy="14.9" r=".42"/><circle cx="6.9" cy="8.1" r=".42"/><circle cx="5.9" cy="15.7" r=".42"/><circle cx="10.4" cy="14.2" r=".42"/><circle cx="5.1" cy="14.6" r=".42"/><circle cx="4.6" cy="8.6" r=".42"/><circle cx="10.8" cy="6.3" r=".42"/><circle cx="9.1" cy="7.8" r=".42"/><circle cx="9.5" cy="11.3" r=".42"/><circle cx="4.0" cy="13.2" r=".42"/><circle cx="5.7" cy="12.2" r=".42"/><circle cx="9.2" cy="13.7" r=".42"/><circle cx="16.4" cy="5.2" r=".42"/><circle cx="7.4" cy="14.0" r=".42"/><circle cx="9.3" cy="6.5" r=".42"/><circle cx="5.1" cy="12.6" r=".42"/><circle cx="10.1" cy="14.1" r=".42"/><circle cx="9.1" cy="12.4" r=".42"/><circle cx="0.7" cy="13.9" r=".42"/><circle cx="12.1" cy="10.7" r=".42"/><circle cx="8.2" cy="7.5" r=".42"/><circle cx="6.9" cy="11.3" r=".42"/><circle cx="8.0" cy="15.1" r=".42"/><circle cx="7.4" cy="15.0" r=".42"/><circle cx="3.4" cy="13.9" r=".42"/><circle cx="6.1" cy="9.7" r=".42"/><circle cx="12.3" cy="8.8" r=".42"/><circle cx="7.2" cy="9.6" r=".42"/><circle cx="9.4" cy="7.4" r=".42"/><circle cx="9.0" cy="8.7" r=".42"/><circle cx="8.7" cy="12.9" r=".42"/><circle cx="0.4" cy="11.3" r=".42"/><circle cx="10.5" cy="7.6" r=".42"/><circle cx="7.0" cy="15.2" r=".42"/><circle cx="6.5" cy="12.0" r=".42"/><circle cx="10.3" cy="16.7" r=".35"/><circle cx="18.4" cy="4.0" r=".35"/><circle cx="9.4" cy="13.7" r=".35"/><circle cx="13.3" cy="1.5" r=".35"/><circle cx="15.5" cy="5.0" r=".35"/><circle cx="9.9" cy="8.6" r=".35"/><circle cx="12.3" cy="7.9" r=".35"/><circle cx="14.1" cy="4.7" r=".35"/><circle cx="2.2" cy="8.2" r=".35"/><circle cx="15.2" cy="2.5" r=".35"/><circle cx="9.6" cy="12.6" r=".35"/><circle cx="2.4" cy="14.3" r=".35"/></g><polygon points="4.06,18.53 17.44,2.65 16.96,2.15 0.54,14.87" fill="#000"/><circle cx="2.90" cy="16.13" r="1.52"/><ellipse cx="6.77" cy="12.41" rx="5.00" ry="2.41" transform="rotate(-43.82285511401794 6.77 12.41)" fill="#000" opacity="1"/><g fill="#000" opacity="0.7"><circle cx="2.60" cy="16.17" r="0.40"/><circle cx="9.55" cy="8.20" r="0.40"/><circle cx="4.63" cy="11.11" r="0.40"/><circle cx="7.27" cy="8.49" r="0.40"/><circle cx="4.60" cy="10.93" r="0.40"/><circle cx="3.72" cy="16.42" r="0.40"/><circle cx="10.54" cy="8.08" r="0.40"/><circle cx="2.84" cy="13.62" r="0.40"/><circle cx="10.86" cy="11.47" r="0.40"/><circle cx="2.63" cy="17.15" r="0.40"/><circle cx="4.76" cy="16.98" r="0.40"/><circle cx="3.72" cy="16.37" r="0.40"/><circle cx="11.42" cy="9.88" r="0.40"/><circle cx="7.79" cy="15.09" r="0.40"/><circle cx="9.78" cy="7.92" r="0.40"/><circle cx="7.98" cy="8.29" r="0.40"/><circle cx="4.41" cy="17.25" r="0.40"/><circle cx="5.16" cy="16.29" r="0.40"/><circle cx="3.03" cy="17.14" r="0.40"/><circle cx="10.69" cy="8.94" r="0.40"/><circle cx="7.70" cy="8.49" r="0.40"/><circle cx="3.07" cy="16.31" r="0.40"/></g></g><g id="c23"><g fill="#000" opacity="0.6"><circle cx="7.5" cy="12.3" r=".42"/><circle cx="6.8" cy="11.5" r=".42"/><circle cx="11.7" cy="8.2" r=".42"/><circle cx="11.8" cy="7.2" r=".42"/><circle cx="5.0" cy="12.1" r=".42"/><circle cx="6.6" cy="15.6" r=".42"/><circle cx="4.0" cy="13.9" r=".42"/><circle cx="9.7" cy="7.6" r=".42"/><circle cx="4.3" cy="14.1" r=".42"/><circle cx="11.9" cy="6.7" r=".42"/><circle cx="12.5" cy="6.7" r=".42"/><circle cx="6.5" cy="12.4" r=".42"/><circle cx="11.1" cy="10.0" r=".42"/><circle cx="5.9" cy="13.2" r=".42"/><circle cx="7.4" cy="13.4" r=".42"/><circle cx="12.8" cy="7.2" r=".42"/><circle cx="3.8" cy="15.0" r=".42"/><circle cx="13.8" cy="7.2" r=".42"/><circle cx="6.2" cy="13.0" r=".42"/><circle cx="13.0" cy="7.0" r=".42"/><circle cx="6.0" cy="12.6" r=".42"/><circle cx="5.5" cy="14.1" r=".42"/><circle cx="10.0" cy="9.4" r=".42"/><circle cx="8.5" cy="10.4" r=".42"/><circle cx="9.4" cy="9.2" r=".42"/><circle cx="10.9" cy="9.6" r=".42"/><circle cx="8.4" cy="12.2" r=".42"/><circle cx="6.9" cy="13.1" r=".42"/><circle cx="4.3" cy="12.8" r=".42"/><circle cx="9.4" cy="10.0" r=".42"/><circle cx="9.7" cy="13.0" r=".42"/><circle cx="8.2" cy="12.2" r=".42"/><circle cx="15.1" cy="5.6" r=".42"/><circle cx="12.3" cy="7.6" r=".42"/><circle cx="11.8" cy="8.2" r=".42"/><circle cx="5.9" cy="11.7" r=".42"/><circle cx="8.1" cy="9.9" r=".42"/><circle cx="16.1" cy="3.1" r=".42"/><circle cx="16.7" cy="4.3" r=".42"/><circle cx="12.4" cy="9.4" r=".42"/><circle cx="5.5" cy="11.8" r=".42"/><circle cx="10.2" cy="8.0" r=".42"/><circle cx="12.6" cy="5.7" r=".42"/><circle cx="10.2" cy="8.7" r=".42"/><circle cx="12.2" cy="7.3" r=".42"/><circle cx="9.2" cy="8.3" r=".42"/><circle cx="15.5" cy="3.8" r=".42"/><circle cx="9.6" cy="6.6" r=".42"/><circle cx="12.0" cy="7.6" r=".42"/><circle cx="13.2" cy="8.3" r=".35"/><circle cx="7.4" cy="9.0" r=".35"/><circle cx="16.4" cy="2.0" r=".35"/><circle cx="10.5" cy="10.4" r=".35"/><circle cx="13.4" cy="6.5" r=".35"/><circle cx="17.1" cy="4.9" r=".35"/></g><polygon points="3.27,17.71 17.44,2.65 16.96,2.15 1.33,15.69" fill="#000"/><circle cx="2.90" cy="16.13" r="0.84"/><ellipse cx="6.77" cy="12.41" rx="5.00" ry="1.33" transform="rotate(-43.82285511401794 6.77 12.41)" fill="#000" opacity="1"/><g fill="#000" opacity="0.7"><circle cx="2.92" cy="15.87" r="0.40"/><circle cx="7.01" cy="9.91" r="0.40"/><circle cx="3.48" cy="13.90" r="0.40"/><circle cx="5.63" cy="15.10" r="0.40"/><circle cx="10.61" cy="8.42" r="0.40"/><circle cx="3.76" cy="13.39" r="0.40"/><circle cx="10.54" cy="10.04" r="0.40"/><circle cx="9.00" cy="12.48" r="0.40"/><circle cx="4.59" cy="16.47" r="0.40"/><circle cx="4.53" cy="16.20" r="0.40"/><circle cx="11.01" cy="8.71" r="0.40"/><circle cx="5.22" cy="15.96" r="0.40"/><circle cx="5.05" cy="11.91" r="0.40"/></g></g><g id="c24"><g fill="#000" opacity="0.6"><circle cx="6.1" cy="14.4" r=".42"/><circle cx="3.1" cy="16.3" r=".42"/><circle cx="7.2" cy="13.4" r=".42"/><circle cx="10.3" cy="7.8" r=".42"/><circle cx="8.3" cy="11.3" r=".42"/><circle cx="6.2" cy="10.1" r=".42"/><circle cx="9.0" cy="9.9" r=".42"/><circle cx="13.3" cy="3.4" r=".42"/><circle cx="4.0" cy="14.1" r=".42"/><circle cx="6.4" cy="10.5" r=".42"/><circle cx="12.9" cy="7.9" r=".42"/><circle cx="3.8" cy="15.5" r=".42"/><circle cx="12.9" cy="5.9" r=".42"/><circle cx="8.7" cy="11.2" r=".42"/><circle cx="12.9" cy="7.7" r=".42"/><circle cx="12.6" cy="5.5" r=".42"/><circle cx="4.1" cy="14.8" r=".42"/><circle cx="11.7" cy="9.6" r=".42"/><circle cx="5.3" cy="13.3" r=".42"/><circle cx="5.8" cy="14.2" r=".42"/><circle cx="10.7" cy="9.2" r=".42"/><circle cx="8.1" cy="8.3" r=".42"/><circle cx="5.0" cy="16.3" r=".42"/><circle cx="10.0" cy="9.3" r=".42"/><circle cx="12.5" cy="6.5" r=".42"/><circle cx="6.8" cy="12.8" r=".42"/><circle cx="10.5" cy="8.4" r=".42"/><circle cx="11.0" cy="7.7" r=".42"/><circle cx="3.9" cy="16.5" r=".42"/><circle cx="5.4" cy="14.4" r=".42"/><circle cx="14.1" cy="3.8" r=".42"/><circle cx="8.8" cy="10.8" r=".42"/><circle cx="7.3" cy="14.3" r=".42"/><circle cx="12.2" cy="8.0" r=".42"/><circle cx="9.8" cy="14.1" r=".42"/><circle cx="10.5" cy="12.1" r=".42"/><circle cx="9.7" cy="10.0" r=".42"/><circle cx="7.6" cy="12.6" r=".42"/><circle cx="6.2" cy="14.1" r=".42"/><circle cx="11.5" cy="9.1" r=".42"/><circle cx="4.3" cy="16.8" r=".42"/><circle cx="9.6" cy="10.2" r=".42"/><circle cx="11.9" cy="5.8" r=".42"/><circle cx="2.5" cy="16.6" r=".42"/><circle cx="2.5" cy="11.3" r=".42"/><circle cx="15.2" cy="5.1" r=".42"/><circle cx="0.6" cy="13.3" r=".42"/><circle cx="9.7" cy="7.7" r=".42"/><circle cx="12.3" cy="5.7" r=".42"/><circle cx="6.9" cy="13.9" r=".42"/><circle cx="4.3" cy="15.1" r=".42"/><circle cx="14.2" cy="8.6" r=".42"/><circle cx="7.9" cy="10.5" r=".42"/><circle cx="11.5" cy="6.6" r=".42"/><circle cx="11.6" cy="7.9" r=".42"/><circle cx="13.4" cy="4.8" r=".42"/><circle cx="4.7" cy="12.5" r=".42"/><circle cx="9.0" cy="9.7" r=".42"/><circle cx="12.6" cy="7.2" r=".42"/><circle cx="6.0" cy="9.6" r=".42"/><circle cx="7.2" cy="14.0" r=".42"/><circle cx="15.9" cy="5.0" r=".42"/><circle cx="12.0" cy="8.5" r=".42"/><circle cx="7.3" cy="10.8" r=".42"/><circle cx="4.1" cy="16.7" r=".35"/><circle cx="7.6" cy="7.7" r=".35"/><circle cx="9.7" cy="5.8" r=".35"/><circle cx="10.0" cy="9.6" r=".35"/><circle cx="7.1" cy="11.5" r=".35"/><circle cx="16.7" cy="3.4" r=".35"/><circle cx="8.6" cy="11.3" r=".35"/><circle cx="6.0" cy="14.0" r=".35"/></g><polygon points="3.56,18.01 17.44,2.65 16.96,2.15 1.04,15.39" fill="#000"/><circle cx="2.90" cy="16.13" r="1.09"/><ellipse cx="6.77" cy="12.41" rx="5.00" ry="1.72" transform="rotate(-43.82285511401794 6.77 12.41)" fill="#000" opacity="1"/><g fill="#000" opacity="0.7"><circle cx="6.42" cy="14.96" r="0.40"/><circle cx="7.13" cy="14.57" r="0.40"/><circle cx="4.47" cy="16.33" r="0.40"/><circle cx="2.74" cy="14.82" r="0.40"/><circle cx="10.86" cy="10.08" r="0.40"/><circle cx="2.04" cy="15.98" r="0.40"/><circle cx="4.57" cy="11.71" r="0.40"/><circle cx="9.18" cy="12.54" r="0.40"/><circle cx="8.73" cy="13.13" r="0.40"/><circle cx="3.59" cy="16.21" r="0.40"/><circle cx="3.02" cy="14.68" r="0.40"/><circle cx="7.21" cy="9.23" r="0.40"/><circle cx="4.74" cy="11.09" r="0.40"/><circle cx="3.11" cy="15.97" r="0.40"/><circle cx="3.67" cy="16.41" r="0.40"/><circle cx="10.76" cy="9.60" r="0.40"/><circle cx="10.59" cy="10.10" r="0.40"/></g></g><g id="c25"><g fill="#000" opacity="0.6"><circle cx="12.1" cy="10.4" r=".42"/><circle cx="3.4" cy="15.8" r=".42"/><circle cx="9.4" cy="11.6" r=".42"/><circle cx="10.1" cy="8.5" r=".42"/><circle cx="14.7" cy="7.4" r=".42"/><circle cx="10.6" cy="10.0" r=".42"/><circle cx="7.8" cy="12.8" r=".42"/><circle cx="6.5" cy="10.5" r=".42"/><circle cx="7.9" cy="10.4" r=".42"/><circle cx="10.3" cy="7.0" r=".42"/><circle cx="6.4" cy="13.8" r=".42"/><circle cx="10.5" cy="10.6" r=".42"/><circle cx="16.3" cy="4.2" r=".42"/><circle cx="9.4" cy="13.5" r=".42"/><circle cx="11.2" cy="11.5" r=".42"/><circle cx="4.8" cy="12.6" r=".42"/><circle cx="15.3" cy="5.9" r=".42"/><circle cx="13.4" cy="5.8" r=".42"/><circle cx="5.6" cy="17.0" r=".42"/><circle cx="11.7" cy="11.4" r=".42"/><circle cx="9.8" cy="9.8" r=".42"/><circle cx="5.3" cy="13.4" r=".42"/><circle cx="1.2" cy="13.3" r=".42"/><circle cx="14.2" cy="4.1" r=".42"/><circle cx="3.1" cy="14.2" r=".42"/><circle cx="14.3" cy="5.7" r=".42"/><circle cx="11.3" cy="7.4" r=".42"/><circle cx="6.6" cy="11.7" r=".42"/><circle cx="4.7" cy="15.0" r=".42"/><circle cx="7.8" cy="14.8" r=".42"/><circle cx="7.2" cy="9.6" r=".42"/><circle cx="8.9" cy="16.3" r=".42"/><circle cx="8.9" cy="9.0" r=".42"/><circle cx="4.3" cy="17.7" r=".42"/><circle cx="9.8" cy="7.5" r=".42"/><circle cx="13.2" cy="9.1" r=".42"/><circle cx="4.1" cy="14.9" r=".42"/><circle cx="6.4" cy="14.5" r=".42"/><circle cx="8.3" cy="12.2" r=".42"/><circle cx="3.1" cy="16.1" r=".42"/><circle cx="4.1" cy="15.6" r=".42"/><circle cx="3.6" cy="15.8" r=".42"/><circle cx="7.4" cy="10.3" r=".42"/><circle cx="9.6" cy="8.7" r=".42"/><circle cx="3.4" cy="15.8" r=".42"/><circle cx="0.6" cy="13.4" r=".42"/><circle cx="8.6" cy="9.9" r=".42"/><circle cx="5.6" cy="17.4" r=".42"/><circle cx="11.3" cy="14.1" r=".42"/><circle cx="4.7" cy="13.3" r=".42"/><circle cx="10.1" cy="9.9" r=".42"/><circle cx="2.8" cy="15.7" r=".42"/><circle cx="4.8" cy="12.3" r=".42"/><circle cx="9.8" cy="12.0" r=".42"/><circle cx="11.1" cy="12.6" r=".42"/><circle cx="15.3" cy="3.6" r=".42"/><circle cx="7.3" cy="12.7" r=".42"/><circle cx="14.9" cy="3.5" r=".42"/><circle cx="12.4" cy="6.3" r=".42"/><circle cx="7.2" cy="10.8" r=".42"/><circle cx="8.2" cy="12.7" r=".42"/><circle cx="16.0" cy="3.0" r=".42"/><circle cx="6.2" cy="13.0" r=".42"/><circle cx="10.6" cy="8.8" r=".42"/><circle cx="9.2" cy="14.3" r=".42"/><circle cx="6.4" cy="7.7" r=".42"/><circle cx="6.2" cy="8.8" r=".42"/><circle cx="7.0" cy="10.4" r=".42"/><circle cx="5.1" cy="14.8" r=".42"/><circle cx="4.8" cy="14.5" r=".42"/><circle cx="4.9" cy="10.2" r=".42"/><circle cx="13.5" cy="5.5" r=".42"/><circle cx="7.7" cy="8.5" r=".42"/><circle cx="4.0" cy="13.9" r=".42"/><circle cx="3.7" cy="11.1" r=".42"/><circle cx="11.8" cy="9.4" r=".42"/><circle cx="5.9" cy="17.5" r=".42"/><circle cx="10.2" cy="11.6" r=".42"/><circle cx="8.1" cy="13.3" r=".42"/><circle cx="10.1" cy="6.8" r=".35"/><circle cx="13.9" cy="3.8" r=".35"/><circle cx="5.3" cy="9.8" r=".35"/><circle cx="8.9" cy="6.9" r=".35"/><circle cx="10.7" cy="5.6" r=".35"/><circle cx="2.3" cy="13.1" r=".35"/><circle cx="16.8" cy="5.6" r=".35"/><circle cx="5.0" cy="13.5" r=".35"/><circle cx="3.1" cy="17.4" r=".35"/><circle cx="5.7" cy="14.2" r=".35"/></g><polygon points="3.83,18.30 17.44,2.65 16.96,2.15 0.77,15.10" fill="#000"/><circle cx="2.90" cy="16.13" r="1.33"/><ellipse cx="6.77" cy="12.41" rx="5.00" ry="2.10" transform="rotate(-43.82285511401794 6.77 12.41)" fill="#000" opacity="1"/><g fill="#000" opacity="0.7"><circle cx="3.71" cy="17.36" r="0.40"/><circle cx="9.22" cy="7.95" r="0.40"/><circle cx="6.89" cy="15.74" r="0.40"/><circle cx="7.60" cy="8.19" r="0.40"/><circle cx="11.09" cy="8.79" r="0.40"/><circle cx="6.47" cy="9.87" r="0.40"/><circle cx="10.25" cy="12.04" r="0.40"/><circle cx="3.86" cy="12.27" r="0.40"/><circle cx="5.55" cy="10.13" r="0.40"/><circle cx="8.68" cy="7.91" r="0.40"/><circle cx="2.03" cy="14.35" r="0.40"/><circle cx="2.93" cy="13.95" r="0.40"/><circle cx="6.26" cy="9.18" r="0.40"/><circle cx="9.20" cy="7.67" r="0.40"/><circle cx="9.51" cy="12.70" r="0.40"/><circle cx="2.21" cy="14.63" r="0.40"/><circle cx="6.50" cy="9.56" r="0.40"/><circle cx="8.85" cy="7.98" r="0.40"/><circle cx="10.49" cy="11.54" r="0.40"/><circle cx="5.55" cy="15.98" r="0.40"/></g></g><g id="c34"><g fill="#000" opacity="0.6"><circle cx="7.7" cy="14.5" r=".42"/><circle cx="4.4" cy="15.2" r=".42"/><circle cx="14.4" cy="3.1" r=".42"/><circle cx="9.4" cy="9.6" r=".42"/><circle cx="15.7" cy="6.3" r=".42"/><circle cx="13.4" cy="4.7" r=".42"/><circle cx="8.7" cy="13.2" r=".42"/><circle cx="14.3" cy="4.6" r=".42"/><circle cx="10.9" cy="9.6" r=".42"/><circle cx="9.3" cy="10.9" r=".42"/><circle cx="8.1" cy="11.8" r=".42"/><circle cx="6.1" cy="14.7" r=".42"/><circle cx="11.8" cy="8.5" r=".42"/><circle cx="3.5" cy="15.0" r=".42"/><circle cx="2.5" cy="16.8" r=".42"/><circle cx="7.7" cy="9.7" r=".42"/><circle cx="2.4" cy="15.8" r=".42"/><circle cx="5.1" cy="15.3" r=".42"/><circle cx="8.1" cy="10.1" r=".42"/><circle cx="8.4" cy="11.3" r=".42"/><circle cx="6.3" cy="14.0" r=".42"/><circle cx="16.8" cy="2.9" r=".42"/><circle cx="13.5" cy="7.4" r=".42"/><circle cx="2.3" cy="16.6" r=".42"/><circle cx="3.8" cy="14.1" r=".42"/><circle cx="3.6" cy="13.7" r=".42"/><circle cx="8.3" cy="10.9" r=".42"/><circle cx="12.2" cy="8.6" r=".42"/><circle cx="1.3" cy="15.4" r=".42"/><circle cx="7.3" cy="12.4" r=".42"/><circle cx="11.7" cy="8.1" r=".42"/><circle cx="14.9" cy="5.1" r=".42"/><circle cx="3.1" cy="15.6" r=".42"/><circle cx="7.9" cy="10.0" r=".42"/><circle cx="16.1" cy="2.5" r=".42"/><circle cx="7.7" cy="13.6" r=".42"/><circle cx="3.0" cy="15.6" r=".42"/><circle cx="10.6" cy="10.1" r=".42"/><circle cx="7.2" cy="12.3" r=".42"/><circle cx="10.1" cy="10.8" r=".42"/><circle cx="7.0" cy="12.1" r=".42"/><circle cx="18.5" cy="7.2" r=".35"/><circle cx="18.4" cy="6.1" r=".35"/><circle cx="12.3" cy="13.0" r=".35"/><circle cx="10.9" cy="6.0" r=".35"/><circle cx="9.5" cy="10.1" r=".35"/></g><polygon points="3.12,17.56 17.44,2.65 16.96,2.15 1.48,15.84" fill="#000"/><circle cx="2.90" cy="16.13" r="0.71"/><ellipse cx="6.77" cy="12.41" rx="5.00" ry="1.13" transform="rotate(-43.82285511401794 6.77 12.41)" fill="#000" opacity="1"/><g fill="#000" opacity="0.7"><circle cx="1.96" cy="16.80" r="0.40"/><circle cx="9.20" cy="11.57" r="0.40"/><circle cx="4.60" cy="12.80" r="0.40"/><circle cx="3.13" cy="15.32" r="0.40"/><circle cx="4.30" cy="13.12" r="0.40"/><circle cx="7.17" cy="13.75" r="0.40"/><circle cx="5.30" cy="15.12" r="0.40"/><circle cx="9.64" cy="11.56" r="0.40"/><circle cx="5.47" cy="11.98" r="0.40"/><circle cx="5.83" cy="11.59" r="0.40"/><circle cx="7.55" cy="13.44" r="0.40"/><circle cx="7.11" cy="13.69" r="0.40"/></g></g><g id="c35"><g fill="#000" opacity="0.6"><circle cx="10.0" cy="9.7" r=".42"/><circle cx="9.4" cy="9.1" r=".42"/><circle cx="9.8" cy="10.8" r=".42"/><circle cx="5.6" cy="12.8" r=".42"/><circle cx="7.7" cy="12.0" r=".42"/><circle cx="11.1" cy="11.7" r=".42"/><circle cx="4.5" cy="14.9" r=".42"/><circle cx="4.9" cy="13.0" r=".42"/><circle cx="8.4" cy="10.5" r=".42"/><circle cx="11.4" cy="5.3" r=".42"/><circle cx="13.5" cy="5.4" r=".42"/><circle cx="4.8" cy="15.2" r=".42"/><circle cx="9.1" cy="12.0" r=".42"/><circle cx="8.4" cy="10.0" r=".42"/><circle cx="7.2" cy="12.0" r=".42"/><circle cx="2.6" cy="13.4" r=".42"/><circle cx="13.3" cy="6.5" r=".42"/><circle cx="12.5" cy="9.2" r=".42"/><circle cx="5.0" cy="14.4" r=".42"/><circle cx="10.0" cy="5.1" r=".42"/><circle cx="7.0" cy="11.4" r=".42"/><circle cx="10.0" cy="11.8" r=".42"/><circle cx="6.1" cy="13.7" r=".42"/><circle cx="3.3" cy="15.2" r=".42"/><circle cx="12.1" cy="7.7" r=".42"/><circle cx="6.5" cy="13.9" r=".42"/><circle cx="6.5" cy="11.2" r=".42"/><circle cx="3.0" cy="15.5" r=".42"/><circle cx="5.8" cy="11.5" r=".42"/><circle cx="9.0" cy="11.3" r=".42"/><circle cx="1.3" cy="15.5" r=".42"/><circle cx="10.1" cy="9.9" r=".42"/><circle cx="13.8" cy="8.4" r=".42"/><circle cx="6.3" cy="11.4" r=".42"/><circle cx="13.7" cy="6.4" r=".42"/><circle cx="2.8" cy="13.1" r=".42"/><circle cx="10.7" cy="10.7" r=".42"/><circle cx="10.1" cy="9.0" r=".42"/><circle cx="14.1" cy="6.3" r=".42"/><circle cx="7.9" cy="10.2" r=".42"/><circle cx="12.2" cy="6.0" r=".42"/><circle cx="5.5" cy="12.9" r=".42"/><circle cx="14.6" cy="3.8" r=".42"/><circle cx="13.5" cy="6.9" r=".42"/><circle cx="9.3" cy="11.4" r=".42"/><circle cx="6.1" cy="18.4" r=".42"/><circle cx="9.3" cy="10.7" r=".42"/><circle cx="6.7" cy="15.2" r=".42"/><circle cx="13.1" cy="7.8" r=".42"/><circle cx="7.5" cy="15.6" r=".42"/><circle cx="12.6" cy="6.0" r=".42"/><circle cx="7.0" cy="10.4" r=".42"/><circle cx="6.9" cy="13.8" r=".42"/><circle cx="4.6" cy="16.8" r=".42"/><circle cx="8.3" cy="15.4" r=".35"/><circle cx="13.1" cy="3.8" r=".35"/><circle cx="12.9" cy="4.0" r=".35"/><circle cx="0.9" cy="14.5" r=".35"/><circle cx="5.5" cy="13.0" r=".35"/><circle cx="7.2" cy="11.4" r=".35"/><circle cx="7.3" cy="9.5" r=".35"/></g><polygon points="3.37,17.82 17.44,2.65 16.96,2.15 1.23,15.58" fill="#000"/><circle cx="2.90" cy="16.13" r="0.93"/><ellipse cx="6.77" cy="12.41" rx="5.00" ry="1.47" transform="rotate(-43.82285511401794 6.77 12.41)" fill="#000" opacity="1"/><g fill="#000" opacity="0.7"><circle cx="2.81" cy="15.11" r="0.40"/><circle cx="2.61" cy="16.62" r="0.40"/><circle cx="5.49" cy="15.44" r="0.40"/><circle cx="10.73" cy="9.93" r="0.40"/><circle cx="10.25" cy="11.47" r="0.40"/><circle cx="2.54" cy="15.93" r="0.40"/><circle cx="10.52" cy="9.31" r="0.40"/><circle cx="6.24" cy="14.95" r="0.40"/><circle cx="5.81" cy="15.44" r="0.40"/><circle cx="7.42" cy="9.72" r="0.40"/><circle cx="7.05" cy="10.09" r="0.40"/><circle cx="9.98" cy="8.56" r="0.40"/><circle cx="11.50" cy="7.95" r="0.40"/><circle cx="8.11" cy="13.40" r="0.40"/><circle cx="5.77" cy="10.81" r="0.40"/></g></g><g id="c45"><g fill="#000" opacity="0.6"><circle cx="4.5" cy="18.5" r=".42"/><circle cx="12.1" cy="6.0" r=".42"/><circle cx="3.4" cy="15.3" r=".42"/><circle cx="5.9" cy="15.1" r=".42"/><circle cx="3.9" cy="13.6" r=".42"/><circle cx="9.4" cy="9.5" r=".42"/><circle cx="9.6" cy="11.3" r=".42"/><circle cx="9.1" cy="8.8" r=".42"/><circle cx="5.2" cy="12.2" r=".42"/><circle cx="9.4" cy="8.0" r=".42"/><circle cx="14.1" cy="9.8" r=".42"/><circle cx="5.7" cy="15.0" r=".42"/><circle cx="12.8" cy="9.4" r=".42"/><circle cx="6.0" cy="13.6" r=".42"/><circle cx="12.9" cy="5.8" r=".42"/><circle cx="10.6" cy="7.9" r=".42"/><circle cx="12.5" cy="6.0" r=".42"/><circle cx="11.2" cy="7.7" r=".42"/><circle cx="4.9" cy="13.4" r=".42"/><circle cx="5.2" cy="17.1" r=".42"/><circle cx="15.7" cy="7.1" r=".42"/><circle cx="8.0" cy="12.6" r=".42"/><circle cx="9.3" cy="10.4" r=".42"/><circle cx="3.9" cy="14.7" r=".42"/><circle cx="11.8" cy="8.7" r=".42"/><circle cx="5.2" cy="16.8" r=".42"/><circle cx="7.8" cy="9.4" r=".42"/><circle cx="10.9" cy="9.0" r=".42"/><circle cx="4.5" cy="13.5" r=".42"/><circle cx="6.3" cy="13.8" r=".42"/><circle cx="7.2" cy="19.4" r=".42"/><circle cx="7.6" cy="12.3" r=".42"/><circle cx="9.3" cy="10.7" r=".42"/><circle cx="5.7" cy="14.7" r=".42"/><circle cx="7.6" cy="12.3" r=".42"/><circle cx="7.4" cy="10.2" r=".42"/><circle cx="16.1" cy="2.9" r=".42"/><circle cx="12.1" cy="9.0" r=".42"/><circle cx="10.1" cy="8.8" r=".42"/><circle cx="10.0" cy="12.7" r=".42"/><circle cx="12.3" cy="7.4" r=".42"/><circle cx="15.5" cy="5.4" r=".42"/><circle cx="9.0" cy="7.6" r=".42"/><circle cx="14.4" cy="9.8" r=".35"/><circle cx="11.6" cy="8.2" r=".35"/><circle cx="11.5" cy="15.2" r=".35"/><circle cx="9.6" cy="9.3" r=".35"/><circle cx="5.8" cy="16.1" r=".35"/></g><polygon points="3.16,17.60 17.44,2.65 16.96,2.15 1.44,15.80" fill="#000"/><circle cx="2.90" cy="16.13" r="0.75"/><ellipse cx="6.77" cy="12.41" rx="5.00" ry="1.18" transform="rotate(-43.82285511401794 6.77 12.41)" fill="#000" opacity="1"/><g fill="#000" opacity="0.7"><circle cx="10.50" cy="8.58" r="0.40"/><circle cx="10.39" cy="8.62" r="0.40"/><circle cx="7.15" cy="10.05" r="0.40"/><circle cx="2.80" cy="14.73" r="0.40"/><circle cx="10.52" cy="9.08" r="0.40"/><circle cx="8.90" cy="8.81" r="0.40"/><circle cx="7.94" cy="13.40" r="0.40"/><circle cx="6.55" cy="14.26" r="0.40"/><circle cx="2.53" cy="15.95" r="0.40"/><circle cx="5.98" cy="11.48" r="0.40"/><circle cx="5.73" cy="15.16" r="0.40"/><circle cx="10.45" cy="7.72" r="0.40"/></g></g></defs>
<rect x="0" y="0" width="520" height="651" fill="#fff"/>
<text x="7.2" y="16.6" font-size="11.2" text-anchor="start" fill="#000" font-weight="bold" class="pl">A</text>
<text x="223.9" y="16.6" font-size="11.2" text-anchor="start" fill="#000" font-weight="bold" class="pl">B</text>
<text x="376.3" y="17" font-size="11.2" text-anchor="start" fill="#000" font-weight="bold" class="pl">C</text>
<text x="7.6" y="190" font-size="11.2" text-anchor="start" fill="#000" font-weight="bold" class="pl">D</text>
<text x="7.4" y="474.6" font-size="11.2" text-anchor="start" fill="#000" font-weight="bold" class="pl">E</text>
<text x="150.3" y="474.6" font-size="11.2" text-anchor="start" fill="#000" font-weight="bold" class="pl">F</text>
<g stroke="#222" stroke-width="1" fill="none">
<line x1="34.5" y1="46" x2="34.5" y2="112.4"/>
<line x1="34" y1="111.85" x2="175" y2="111.85" stroke="#111" stroke-width="1.3"/>
<line x1="31.2" y1="50.5" x2="34.5" y2="50.5"/>
<line x1="31.2" y1="62.5" x2="34.5" y2="62.5"/>
<line x1="31.2" y1="74.4" x2="34.5" y2="74.4"/>
<line x1="31.2" y1="86.5" x2="34.5" y2="86.5"/>
<line x1="31.2" y1="98.5" x2="34.5" y2="98.5"/>
<line x1="31.2" y1="110.6" x2="34.5" y2="110.6"/>
<line x1="59.8" y1="112" x2="59.8" y2="115"/>
<line x1="99.2" y1="112" x2="99.2" y2="115"/>
<line x1="138.4" y1="112" x2="138.4" y2="115"/>
</g>
<text x="28.3" y="52.7" font-size="6.3" text-anchor="end" fill="#222" font-weight="normal" class="tk">20</text>
<text x="28.3" y="64.7" font-size="6.3" text-anchor="end" fill="#222" font-weight="normal" class="tk">10</text>
<text x="28.3" y="76.6" font-size="6.3" text-anchor="end" fill="#222" font-weight="normal" class="tk">0</text>
<text x="28.3" y="88.7" font-size="6.3" text-anchor="end" fill="#222" font-weight="normal" class="tk">-10</text>
<text x="28.3" y="100.7" font-size="6.3" text-anchor="end" fill="#222" font-weight="normal" class="tk">-20</text>
<text x="28.3" y="112.8" font-size="6.3" text-anchor="end" fill="#222" font-weight="normal" class="tk">-30</text>
<text x="59.8" y="123.6" font-size="6.3" text-anchor="middle" fill="#222" font-weight="normal" class="tk">-50</text>
<text x="99.2" y="123.6" font-size="6.3" text-anchor="middle" fill="#222" font-weight="normal" class="tk">0</text>
<text x="138.4" y="123.6" font-size="6.3" text-anchor="middle" fill="#222" font-weight="normal" class="tk">50</text>
<text x="79.8" y="135" font-size="8.5" text-anchor="start" fill="#222" font-weight="normal" textLength="49.2" lengthAdjust="spacingAndGlyphs" class="ti">PC1: 86% variance</text>
<text transform="translate(14.2 78.75) rotate(-90)" x="0" y="0" font-size="7.8" text-anchor="middle" fill="#222" textLength="44.9" lengthAdjust="spacingAndGlyphs" class="tk">PC2: 8% variance</text>
<ellipse cx="40.5" cy="106.8" rx="1.45" ry="1.65" fill="#b5123b"/>
<ellipse cx="42.1" cy="108.4" rx="1.45" ry="1.65" fill="#b5123b"/>
<ellipse cx="43.9" cy="108.9" rx="1.45" ry="1.65" fill="#b5123b"/>
<ellipse cx="53.9" cy="66.5" rx="1.45" ry="1.65" fill="#b8651b"/>
<ellipse cx="55.0" cy="68.1" rx="1.45" ry="1.65" fill="#b8651b"/>
<ellipse cx="55.5" cy="69.2" rx="1.45" ry="1.65" fill="#b8651b"/>
<ellipse cx="65.2" cy="52.0" rx="1.45" ry="1.65" fill="#5faa38"/>
<ellipse cx="66.3" cy="53.0" rx="1.45" ry="1.65" fill="#5faa38"/>
<ellipse cx="67.1" cy="54.7" rx="1.45" ry="1.65" fill="#5faa38"/>
<ellipse cx="120.1" cy="48.4" rx="1.45" ry="1.65" fill="#5ea8e4"/>
<ellipse cx="122.1" cy="53.1" rx="1.45" ry="1.65" fill="#5ea8e4"/>
<ellipse cx="126.2" cy="50.4" rx="1.45" ry="1.65" fill="#5ea8e4"/>
<ellipse cx="143.6" cy="66.3" rx="1.45" ry="1.65" fill="#1d3e7c"/>
<ellipse cx="145.3" cy="66.3" rx="1.45" ry="1.65" fill="#1d3e7c"/>
<ellipse cx="144.6" cy="69.9" rx="1.45" ry="1.65" fill="#1d3e7c"/>
<ellipse cx="160.7" cy="103.1" rx="1.45" ry="1.65" fill="#c8117f"/>
<ellipse cx="165.7" cy="101.3" rx="1.45" ry="1.65" fill="#c8117f"/>
<ellipse cx="169.0" cy="101.8" rx="1.45" ry="1.65" fill="#c8117f"/>
<ellipse cx="185.6" cy="50.5" rx="1.9" ry="2.3" fill="#b5123b"/>
<text x="190.6" y="52.2" font-size="5" text-anchor="start" fill="#333" font-weight="normal" class="tk">0h</text>
<ellipse cx="185.6" cy="61.9" rx="1.9" ry="2.3" fill="#b8651b"/>
<text x="190.6" y="63.6" font-size="5" text-anchor="start" fill="#333" font-weight="normal" class="tk">12h</text>
<ellipse cx="185.6" cy="73.2" rx="1.9" ry="2.3" fill="#5faa38"/>
<text x="190.6" y="74.9" font-size="5" text-anchor="start" fill="#333" font-weight="normal" class="tk">24h</text>
<ellipse cx="185.6" cy="84.3" rx="1.9" ry="2.3" fill="#5ea8e4"/>
<text x="190.6" y="86" font-size="5" text-anchor="start" fill="#333" font-weight="normal" class="tk">36h</text>
<ellipse cx="185.6" cy="96.0" rx="1.9" ry="2.3" fill="#1d3e7c"/>
<text x="190.6" y="97.7" font-size="5" text-anchor="start" fill="#333" font-weight="normal" class="tk">48h</text>
<ellipse cx="185.6" cy="107.0" rx="1.9" ry="2.3" fill="#c8117f"/>
<text x="190.6" y="108.7" font-size="5" text-anchor="start" fill="#333" font-weight="normal" class="tk">72h</text>
<defs><linearGradient id="cbar" x1="0" y1="0" x2="0" y2="1"><stop offset="0" stop-color="#ff1010"/><stop offset="0.22" stop-color="#ff5a30"/><stop offset="0.38" stop-color="#ffa060"/><stop offset="0.5" stop-color="#fff08a"/><stop offset="0.65" stop-color="#c8e07a"/><stop offset="0.85" stop-color="#5cbf5e"/><stop offset="1" stop-color="#1ec25a"/></linearGradient></defs>
<rect x="184.2" y="137.6" width="8" height="42" fill="url(#cbar)" stroke="#333" stroke-width="0.6"/>
<text x="196" y="142.8" font-size="6.2" text-anchor="start" fill="#222" font-weight="normal" class="tk">1.00</text>
<text x="196" y="161" font-size="6.2" text-anchor="start" fill="#222" font-weight="normal" class="tk">0.65</text>
<text x="196" y="178.8" font-size="6.2" text-anchor="start" fill="#222" font-weight="normal" class="tk">0.30</text>
<rect x="267.64" y="19.16" width="17.74" height="17.74" fill="none" stroke="#f5f5f5" stroke-width="0.5"/>
<use href="#th2" transform="translate(267.34 18.86)"/>
<rect x="285.98" y="19.16" width="17.74" height="17.74" fill="none" stroke="#f5f5f5" stroke-width="0.5"/>
<use href="#th3" transform="translate(285.68 18.86)"/>
<rect x="304.32" y="19.16" width="17.74" height="17.74" fill="none" stroke="#f5f5f5" stroke-width="0.5"/>
<use href="#blobA" transform="translate(304.02 18.86)"/>
<rect x="322.66" y="19.16" width="17.74" height="17.74" fill="none" stroke="#f5f5f5" stroke-width="0.5"/>
<use href="#blobB" transform="translate(322.36 18.86)"/>
<rect x="341.00" y="19.16" width="17.74" height="17.74" fill="none" stroke="#f5f5f5" stroke-width="0.5"/>
<use href="#blobB" transform="translate(340.70 18.86)"/>
<rect x="249.35" y="37.55" width="17.64" height="17.64" fill="#ff2b1a"/>
<text x="258.17" y="48.17" font-size="5.1" text-anchor="middle" fill="#1a1010" font-weight="normal" class="tk">0.928</text>
<rect x="285.98" y="37.50" width="17.74" height="17.74" fill="none" stroke="#f5f5f5" stroke-width="0.5"/>
<use href="#th1" transform="translate(285.68 37.20)"/>
<rect x="304.32" y="37.50" width="17.74" height="17.74" fill="none" stroke="#f5f5f5" stroke-width="0.5"/>
<use href="#blobC" transform="translate(304.02 37.20)"/>
<rect x="322.66" y="37.50" width="17.74" height="17.74" fill="none" stroke="#f5f5f5" stroke-width="0.5"/>
<use href="#blobB" transform="translate(322.36 37.20)"/>
<rect x="341.00" y="37.50" width="17.74" height="17.74" fill="none" stroke="#f5f5f5" stroke-width="0.5"/>
<use href="#blobB" transform="translate(340.70 37.20)"/>
<rect x="249.35" y="55.89" width="17.64" height="17.64" fill="#ff4f2b"/>
<text x="258.17" y="66.51" font-size="5.1" text-anchor="middle" fill="#1a1010" font-weight="normal" class="tk">0.875</text>
<rect x="267.69" y="55.89" width="17.64" height="17.64" fill="#fc0e08"/>
<text x="276.51" y="66.51" font-size="5.1" text-anchor="middle" fill="#1a1010" font-weight="normal" class="tk">0.973</text>
<rect x="304.32" y="55.84" width="17.74" height="17.74" fill="none" stroke="#f5f5f5" stroke-width="0.5"/>
<use href="#th4" transform="translate(304.02 55.54)"/>
<rect x="322.66" y="55.84" width="17.74" height="17.74" fill="none" stroke="#f5f5f5" stroke-width="0.5"/>
<use href="#blobC" transform="translate(322.36 55.54)"/>
<rect x="341.00" y="55.84" width="17.74" height="17.74" fill="none" stroke="#f5f5f5" stroke-width="0.5"/>
<use href="#blobB" transform="translate(340.70 55.54)"/>
<rect x="249.35" y="74.23" width="17.64" height="17.64" fill="#ffd978"/>
<text x="258.17" y="84.85" font-size="5.1" text-anchor="middle" fill="#1a1010" font-weight="normal" class="tk">0.676</text>
<rect x="267.69" y="74.23" width="17.64" height="17.64" fill="#ff824a"/>
<text x="276.51" y="84.85" font-size="5.1" text-anchor="middle" fill="#1a1010" font-weight="normal" class="tk">0.809</text>
<rect x="286.03" y="74.23" width="17.64" height="17.64" fill="#ff502c"/>
<text x="294.85" y="84.85" font-size="5.1" text-anchor="middle" fill="#1a1010" font-weight="normal" class="tk">0.873</text>
<rect x="322.66" y="74.18" width="17.74" height="17.74" fill="none" stroke="#f5f5f5" stroke-width="0.5"/>
<use href="#th1" transform="translate(322.36 73.88)"/>
<rect x="341.00" y="74.18" width="17.74" height="17.74" fill="none" stroke="#f5f5f5" stroke-width="0.5"/>
<use href="#th4" transform="translate(340.70 73.88)"/>
<rect x="249.35" y="92.57" width="17.64" height="17.64" fill="#d9e27d"/>
<text x="258.17" y="103.19" font-size="5.1" text-anchor="middle" fill="#1a1010" font-weight="normal" class="tk">0.602</text>
<rect x="267.69" y="92.57" width="17.64" height="17.64" fill="#ffb064"/>
<text x="276.51" y="103.19" font-size="5.1" text-anchor="middle" fill="#1a1010" font-weight="normal" class="tk">0.728</text>
<rect x="286.03" y="92.57" width="17.64" height="17.64" fill="#ff8a4f"/>
<text x="294.85" y="103.19" font-size="5.1" text-anchor="middle" fill="#1a1010" font-weight="normal" class="tk">0.798</text>
<rect x="304.37" y="92.57" width="17.64" height="17.64" fill="#fd120a"/>
<text x="313.19" y="103.19" font-size="5.1" text-anchor="middle" fill="#1a1010" font-weight="normal" class="tk">0.968</text>
<rect x="341.00" y="92.52" width="17.74" height="17.74" fill="none" stroke="#f5f5f5" stroke-width="0.5"/>
<use href="#th2" transform="translate(340.70 92.22)"/>
<rect x="249.35" y="110.91" width="17.64" height="17.64" fill="#b6d975"/>
<text x="258.17" y="121.53" font-size="5.1" text-anchor="middle" fill="#1a1010" font-weight="normal" class="tk">0.556</text>
<rect x="267.69" y="110.91" width="17.64" height="17.64" fill="#ffeb8a"/>
<text x="276.51" y="121.53" font-size="5.1" text-anchor="middle" fill="#1a1010" font-weight="normal" class="tk">0.650</text>
<rect x="286.03" y="110.91" width="17.64" height="17.64" fill="#ffbd69"/>
<text x="294.85" y="121.53" font-size="5.1" text-anchor="middle" fill="#1a1010" font-weight="normal" class="tk">0.711</text>
<rect x="304.37" y="110.91" width="17.64" height="17.64" fill="#ff4326"/>
<text x="313.19" y="121.53" font-size="5.1" text-anchor="middle" fill="#1a1010" font-weight="normal" class="tk">0.892</text>
<rect x="322.71" y="110.91" width="17.64" height="17.64" fill="#fe1d11"/>
<text x="331.53" y="121.53" font-size="5.1" text-anchor="middle" fill="#1a1010" font-weight="normal" class="tk">0.951</text>
<text x="245.9" y="30.23" font-size="6.3" text-anchor="end" fill="#222" font-weight="normal" class="tk">0h</text>
<text x="258.17" y="137.9" font-size="6.3" text-anchor="middle" fill="#222" font-weight="normal" class="tk">0h</text>
<text x="245.9" y="48.57" font-size="6.3" text-anchor="end" fill="#222" font-weight="normal" class="tk">12h</text>
<text x="276.51" y="137.9" font-size="6.3" text-anchor="middle" fill="#222" font-weight="normal" class="tk">12h</text>
<text x="245.9" y="66.91" font-size="6.3" text-anchor="end" fill="#222" font-weight="normal" class="tk">24h</text>
<text x="294.85" y="137.9" font-size="6.3" text-anchor="middle" fill="#222" font-weight="normal" class="tk">24h</text>
<text x="245.9" y="85.25" font-size="6.3" text-anchor="end" fill="#222" font-weight="normal" class="tk">36h</text>
<text x="313.19" y="137.9" font-size="6.3" text-anchor="middle" fill="#222" font-weight="normal" class="tk">36h</text>
<text x="245.9" y="103.59" font-size="6.3" text-anchor="end" fill="#222" font-weight="normal" class="tk">48h</text>
<text x="331.53" y="137.9" font-size="6.3" text-anchor="middle" fill="#222" font-weight="normal" class="tk">48h</text>
<text x="245.9" y="121.93" font-size="6.3" text-anchor="end" fill="#222" font-weight="normal" class="tk">72h</text>
<text x="349.87" y="137.9" font-size="6.3" text-anchor="middle" fill="#222" font-weight="normal" class="tk">72h</text>
<text x="297.2" y="148.9" font-size="8.7" text-anchor="start" fill="#222" font-weight="normal" textLength="16" lengthAdjust="spacingAndGlyphs" class="ti">mRNA</text>
<text transform="translate(230.5 73.85) rotate(-90)" x="0" y="0" font-size="8.8" text-anchor="middle" fill="#222" textLength="16.1" lengthAdjust="spacingAndGlyphs" class="ti">mRNA</text>
<rect x="420.65" y="20.95" width="17.75" height="17.75" fill="none" stroke="#f5f5f5" stroke-width="0.5"/>
<use href="#c01" transform="translate(420.35 20.65)"/>
<rect x="439.00" y="20.95" width="17.75" height="17.75" fill="none" stroke="#f5f5f5" stroke-width="0.5"/>
<use href="#c02" transform="translate(438.70 20.65)"/>
<rect x="457.35" y="20.95" width="17.75" height="17.75" fill="none" stroke="#f5f5f5" stroke-width="0.5"/>
<use href="#c03" transform="translate(457.05 20.65)"/>
<rect x="475.70" y="20.95" width="17.75" height="17.75" fill="none" stroke="#f5f5f5" stroke-width="0.5"/>
<use href="#c04" transform="translate(475.40 20.65)"/>
<rect x="494.05" y="20.95" width="17.75" height="17.75" fill="none" stroke="#f5f5f5" stroke-width="0.5"/>
<use href="#c05" transform="translate(493.75 20.65)"/>
<rect x="402.35" y="39.35" width="17.65" height="17.65" fill="#fc0904"/>
<text x="411.18" y="49.97" font-size="5.1" text-anchor="middle" fill="#1a1010" font-weight="normal" class="tk">0.982</text>
<rect x="439.00" y="39.30" width="17.75" height="17.75" fill="none" stroke="#f5f5f5" stroke-width="0.5"/>
<use href="#c12" transform="translate(438.70 39.00)"/>
<rect x="457.35" y="39.30" width="17.75" height="17.75" fill="none" stroke="#f5f5f5" stroke-width="0.5"/>
<use href="#c13" transform="translate(457.05 39.00)"/>
<rect x="475.70" y="39.30" width="17.75" height="17.75" fill="none" stroke="#f5f5f5" stroke-width="0.5"/>
<use href="#c14" transform="translate(475.40 39.00)"/>
<rect x="494.05" y="39.30" width="17.75" height="17.75" fill="none" stroke="#f5f5f5" stroke-width="0.5"/>
<use href="#c15" transform="translate(493.75 39.00)"/>
<rect x="402.35" y="57.70" width="17.65" height="17.65" fill="#fd130b"/>
<text x="411.18" y="68.33" font-size="5.1" text-anchor="middle" fill="#1a1010" font-weight="normal" class="tk">0.966</text>
<rect x="420.70" y="57.70" width="17.65" height="17.65" fill="#fc0804"/>
<text x="429.53" y="68.33" font-size="5.1" text-anchor="middle" fill="#1a1010" font-weight="normal" class="tk">0.983</text>
<rect x="457.35" y="57.65" width="17.75" height="17.75" fill="none" stroke="#f5f5f5" stroke-width="0.5"/>
<use href="#c23" transform="translate(457.05 57.35)"/>
<rect x="475.70" y="57.65" width="17.75" height="17.75" fill="none" stroke="#f5f5f5" stroke-width="0.5"/>
<use href="#c24" transform="translate(475.40 57.35)"/>
<rect x="494.05" y="57.65" width="17.75" height="17.75" fill="none" stroke="#f5f5f5" stroke-width="0.5"/>
<use href="#c25" transform="translate(493.75 57.35)"/>
<rect x="402.35" y="76.05" width="17.65" height="17.65" fill="#ff2b19"/>
<text x="411.18" y="86.67" font-size="5.1" text-anchor="middle" fill="#1a1010" font-weight="normal" class="tk">0.929</text>
<rect x="420.70" y="76.05" width="17.65" height="17.65" fill="#fe1d11"/>
<text x="429.53" y="86.67" font-size="5.1" text-anchor="middle" fill="#1a1010" font-weight="normal" class="tk">0.951</text>
<rect x="439.05" y="76.05" width="17.65" height="17.65" fill="#fd1009"/>
<text x="447.88" y="86.67" font-size="5.1" text-anchor="middle" fill="#1a1010" font-weight="normal" class="tk">0.970</text>
<rect x="475.70" y="76.00" width="17.75" height="17.75" fill="none" stroke="#f5f5f5" stroke-width="0.5"/>
<use href="#c34" transform="translate(475.40 75.70)"/>
<rect x="494.05" y="76.00" width="17.75" height="17.75" fill="none" stroke="#f5f5f5" stroke-width="0.5"/>
<use href="#c35" transform="translate(493.75 75.70)"/>
<rect x="402.35" y="94.40" width="17.65" height="17.65" fill="#ff3a21"/>
<text x="411.18" y="105.03" font-size="5.1" text-anchor="middle" fill="#1a1010" font-weight="normal" class="tk">0.906</text>
<rect x="420.70" y="94.40" width="17.65" height="17.65" fill="#ff2b1a"/>
<text x="429.53" y="105.03" font-size="5.1" text-anchor="middle" fill="#1a1010" font-weight="normal" class="tk">0.928</text>
<rect x="439.05" y="94.40" width="17.65" height="17.65" fill="#fe1e12"/>
<text x="447.88" y="105.03" font-size="5.1" text-anchor="middle" fill="#1a1010" font-weight="normal" class="tk">0.948</text>
<rect x="457.40" y="94.40" width="17.65" height="17.65" fill="#fc0a05"/>
<text x="466.23" y="105.03" font-size="5.1" text-anchor="middle" fill="#1a1010" font-weight="normal" class="tk">0.981</text>
<rect x="494.05" y="94.35" width="17.75" height="17.75" fill="none" stroke="#f5f5f5" stroke-width="0.5"/>
<use href="#c45" transform="translate(493.75 94.05)"/>
<rect x="402.35" y="112.75" width="17.65" height="17.65" fill="#ff4627"/>
<text x="411.18" y="123.38" font-size="5.1" text-anchor="middle" fill="#1a1010" font-weight="normal" class="tk">0.888</text>
<rect x="420.70" y="112.75" width="17.65" height="17.65" fill="#ff3720"/>
<text x="429.53" y="123.38" font-size="5.1" text-anchor="middle" fill="#1a1010" font-weight="normal" class="tk">0.910</text>
<rect x="439.05" y="112.75" width="17.65" height="17.65" fill="#ff2c1a"/>
<text x="447.88" y="123.38" font-size="5.1" text-anchor="middle" fill="#1a1010" font-weight="normal" class="tk">0.927</text>
<rect x="457.40" y="112.75" width="17.65" height="17.65" fill="#fd160c"/>
<text x="466.23" y="123.38" font-size="5.1" text-anchor="middle" fill="#1a1010" font-weight="normal" class="tk">0.962</text>
<rect x="475.75" y="112.75" width="17.65" height="17.65" fill="#fc0b06"/>
<text x="484.57" y="123.38" font-size="5.1" text-anchor="middle" fill="#1a1010" font-weight="normal" class="tk">0.978</text>
<text x="399" y="32.02" font-size="6.3" text-anchor="end" fill="#222" font-weight="normal" class="tk">0h</text>
<text x="411.18" y="142.5" font-size="6.3" text-anchor="middle" fill="#222" font-weight="normal" class="tk">0h</text>
<text x="399" y="50.38" font-size="6.3" text-anchor="end" fill="#222" font-weight="normal" class="tk">12h</text>
<text x="429.53" y="142.5" font-size="6.3" text-anchor="middle" fill="#222" font-weight="normal" class="tk">12h</text>
<text x="399" y="68.73" font-size="6.3" text-anchor="end" fill="#222" font-weight="normal" class="tk">24h</text>
<text x="447.88" y="142.5" font-size="6.3" text-anchor="middle" fill="#222" font-weight="normal" class="tk">24h</text>
<text x="399" y="87.08" font-size="6.3" text-anchor="end" fill="#222" font-weight="normal" class="tk">36h</text>
<text x="466.23" y="142.5" font-size="6.3" text-anchor="middle" fill="#222" font-weight="normal" class="tk">36h</text>
<text x="399" y="105.43" font-size="6.3" text-anchor="end" fill="#222" font-weight="normal" class="tk">48h</text>
<text x="484.57" y="142.5" font-size="6.3" text-anchor="middle" fill="#222" font-weight="normal" class="tk">48h</text>
<text x="399" y="123.78" font-size="6.3" text-anchor="end" fill="#222" font-weight="normal" class="tk">72h</text>
<text x="502.93" y="142.5" font-size="6.3" text-anchor="middle" fill="#222" font-weight="normal" class="tk">72h</text>
<text x="448.7" y="152.9" font-size="8.7" text-anchor="start" fill="#222" font-weight="normal" textLength="18" lengthAdjust="spacingAndGlyphs" class="ti">Protein</text>
<text transform="translate(384 77.1) rotate(-90)" x="0" y="0" font-size="9" text-anchor="middle" fill="#222" textLength="18.2" lengthAdjust="spacingAndGlyphs" class="ti">Protein</text>
<rect x="34.50" y="195.90" width="18.33" height="18.33" fill="#d5e17c"/>
<rect x="52.83" y="195.90" width="18.33" height="18.33" fill="#d2e17c"/>
<rect x="71.16" y="195.90" width="18.33" height="18.33" fill="#c9de7a"/>
<rect x="89.49" y="195.90" width="18.33" height="18.33" fill="#b4d874"/>
<rect x="107.82" y="195.90" width="18.33" height="18.33" fill="#a1d26e"/>
<rect x="126.15" y="195.90" width="18.33" height="18.33" fill="#96cf6b"/>
<rect x="34.50" y="214.23" width="18.33" height="18.33" fill="#bddb77"/>
<rect x="52.83" y="214.23" width="18.33" height="18.33" fill="#cadf7a"/>
<rect x="71.16" y="214.23" width="18.33" height="18.33" fill="#d1e07c"/>
<rect x="89.49" y="214.23" width="18.33" height="18.33" fill="#ccdf7a"/>
<rect x="107.82" y="214.23" width="18.33" height="18.33" fill="#b9da76"/>
<rect x="126.15" y="214.23" width="18.33" height="18.33" fill="#a9d571"/>
<rect x="34.50" y="232.56" width="18.33" height="18.33" fill="#9fd16d"/>
<rect x="52.83" y="232.56" width="18.33" height="18.33" fill="#acd672"/>
<rect x="71.16" y="232.56" width="18.33" height="18.33" fill="#bcdb77"/>
<rect x="89.49" y="232.56" width="18.33" height="18.33" fill="#bddb77"/>
<rect x="107.82" y="232.56" width="18.33" height="18.33" fill="#add672"/>
<rect x="126.15" y="232.56" width="18.33" height="18.33" fill="#9cd06c"/>
<rect x="34.50" y="250.89" width="18.33" height="18.33" fill="#43bc5f"/>
<rect x="52.83" y="250.89" width="18.33" height="18.33" fill="#56c062"/>
<rect x="71.16" y="250.89" width="18.33" height="18.33" fill="#6ec665"/>
<rect x="89.49" y="250.89" width="18.33" height="18.33" fill="#7bc867"/>
<rect x="107.82" y="250.89" width="18.33" height="18.33" fill="#74c766"/>
<rect x="126.15" y="250.89" width="18.33" height="18.33" fill="#6cc564"/>
<rect x="34.50" y="269.22" width="18.33" height="18.33" fill="#19b255"/>
<rect x="52.83" y="269.22" width="18.33" height="18.33" fill="#23b457"/>
<rect x="71.16" y="269.22" width="18.33" height="18.33" fill="#38b95c"/>
<rect x="89.49" y="269.22" width="18.33" height="18.33" fill="#4cbe60"/>
<rect x="107.82" y="269.22" width="18.33" height="18.33" fill="#47bd60"/>
<rect x="126.15" y="269.22" width="18.33" height="18.33" fill="#3cba5d"/>
<rect x="34.50" y="287.55" width="18.33" height="18.33" fill="#15b153"/>
<rect x="52.83" y="287.55" width="18.33" height="18.33" fill="#1ab255"/>
<rect x="71.16" y="287.55" width="18.33" height="18.33" fill="#2ab659"/>
<rect x="89.49" y="287.55" width="18.33" height="18.33" fill="#37b95c"/>
<rect x="107.82" y="287.55" width="18.33" height="18.33" fill="#34b85b"/>
<rect x="126.15" y="287.55" width="18.33" height="18.33" fill="#30b75a"/>
<g stroke="#ffffff" stroke-opacity="0.55" stroke-width="0.7"><line x1="52.83" y1="195.90" x2="52.83" y2="305.88"/><line x1="34.50" y1="214.23" x2="144.48" y2="214.23"/><line x1="71.16" y1="195.90" x2="71.16" y2="305.88"/><line x1="34.50" y1="232.56" x2="144.48" y2="232.56"/><line x1="89.49" y1="195.90" x2="89.49" y2="305.88"/><line x1="34.50" y1="250.89" x2="144.48" y2="250.89"/><line x1="107.82" y1="195.90" x2="107.82" y2="305.88"/><line x1="34.50" y1="269.22" x2="144.48" y2="269.22"/><line x1="126.15" y1="195.90" x2="126.15" y2="305.88"/><line x1="34.50" y1="287.55" x2="144.48" y2="287.55"/></g>
<text x="43.66" y="206.97" font-size="5.3" text-anchor="middle" fill="#1a1a10" font-weight="normal" class="tk">0.597</text>
<text x="61.99" y="206.97" font-size="5.3" text-anchor="middle" fill="#1a1a10" font-weight="normal" class="tk">0.594</text>
<text x="80.32" y="206.97" font-size="5.3" text-anchor="middle" fill="#1a1a10" font-weight="normal" class="tk">0.582</text>
<text x="98.66" y="206.97" font-size="5.3" text-anchor="middle" fill="#1a1a10" font-weight="normal" class="tk">0.553</text>
<text x="116.98" y="206.97" font-size="5.3" text-anchor="middle" fill="#1a1a10" font-weight="normal" class="tk">0.528</text>
<text x="135.31" y="206.97" font-size="5.3" text-anchor="middle" fill="#1a1a10" font-weight="normal" class="tk">0.512</text>
<text x="43.66" y="225.3" font-size="5.3" text-anchor="middle" fill="#1a1a10" font-weight="normal" class="tk">0.566</text>
<text x="61.99" y="225.3" font-size="5.3" text-anchor="middle" fill="#1a1a10" font-weight="normal" class="tk">0.583</text>
<text x="80.32" y="225.3" font-size="5.3" text-anchor="middle" fill="#1a1a10" font-weight="normal" class="tk">0.592</text>
<text x="98.66" y="225.3" font-size="5.3" text-anchor="middle" fill="#1a1a10" font-weight="normal" class="tk">0.585</text>
<text x="116.98" y="225.3" font-size="5.3" text-anchor="middle" fill="#1a1a10" font-weight="normal" class="tk">0.560</text>
<text x="135.31" y="225.3" font-size="5.3" text-anchor="middle" fill="#1a1a10" font-weight="normal" class="tk">0.539</text>
<text x="43.66" y="243.62" font-size="5.3" text-anchor="middle" fill="#1a1a10" font-weight="normal" class="tk">0.525</text>
<text x="61.99" y="243.62" font-size="5.3" text-anchor="middle" fill="#1a1a10" font-weight="normal" class="tk">0.543</text>
<text x="80.32" y="243.62" font-size="5.3" text-anchor="middle" fill="#1a1a10" font-weight="normal" class="tk">0.564</text>
<text x="98.66" y="243.62" font-size="5.3" text-anchor="middle" fill="#1a1a10" font-weight="normal" class="tk">0.566</text>
<text x="116.98" y="243.62" font-size="5.3" text-anchor="middle" fill="#1a1a10" font-weight="normal" class="tk">0.544</text>
<text x="135.31" y="243.62" font-size="5.3" text-anchor="middle" fill="#1a1a10" font-weight="normal" class="tk">0.521</text>
<text x="43.66" y="261.95" font-size="5.3" text-anchor="middle" fill="#1a1a10" font-weight="normal" class="tk">0.394</text>
<text x="61.99" y="261.95" font-size="5.3" text-anchor="middle" fill="#1a1a10" font-weight="normal" class="tk">0.416</text>
<text x="80.32" y="261.95" font-size="5.3" text-anchor="middle" fill="#1a1a10" font-weight="normal" class="tk">0.444</text>
<text x="98.66" y="261.95" font-size="5.3" text-anchor="middle" fill="#1a1a10" font-weight="normal" class="tk">0.466</text>
<text x="116.98" y="261.95" font-size="5.3" text-anchor="middle" fill="#1a1a10" font-weight="normal" class="tk">0.454</text>
<text x="135.31" y="261.95" font-size="5.3" text-anchor="middle" fill="#1a1a10" font-weight="normal" class="tk">0.440</text>
<text x="43.66" y="280.29" font-size="5.3" text-anchor="middle" fill="#1a1a10" font-weight="normal" class="tk">0.333</text>
<text x="61.99" y="280.29" font-size="5.3" text-anchor="middle" fill="#1a1a10" font-weight="normal" class="tk">0.349</text>
<text x="80.32" y="280.29" font-size="5.3" text-anchor="middle" fill="#1a1a10" font-weight="normal" class="tk">0.381</text>
<text x="98.66" y="280.29" font-size="5.3" text-anchor="middle" fill="#1a1a10" font-weight="normal" class="tk">0.404</text>
<text x="116.98" y="280.29" font-size="5.3" text-anchor="middle" fill="#1a1a10" font-weight="normal" class="tk">0.399</text>
<text x="135.31" y="280.29" font-size="5.3" text-anchor="middle" fill="#1a1a10" font-weight="normal" class="tk">0.386</text>
<text x="43.66" y="298.62" font-size="5.3" text-anchor="middle" fill="#1a1a10" font-weight="normal" class="tk">0.320</text>
<text x="61.99" y="298.62" font-size="5.3" text-anchor="middle" fill="#1a1a10" font-weight="normal" class="tk">0.334</text>
<text x="80.32" y="298.62" font-size="5.3" text-anchor="middle" fill="#1a1a10" font-weight="normal" class="tk">0.359</text>
<text x="98.66" y="298.62" font-size="5.3" text-anchor="middle" fill="#1a1a10" font-weight="normal" class="tk">0.380</text>
<text x="116.98" y="298.62" font-size="5.3" text-anchor="middle" fill="#1a1a10" font-weight="normal" class="tk">0.375</text>
<text x="135.31" y="298.62" font-size="5.3" text-anchor="middle" fill="#1a1a10" font-weight="normal" class="tk">0.369</text>
<g stroke="#f2f2f2" stroke-width="0.5"><line x1="162.81" y1="195.90" x2="162.81" y2="305.88"/><line x1="144.48" y1="214.23" x2="254.46" y2="214.23"/><line x1="181.14" y1="195.90" x2="181.14" y2="305.88"/><line x1="144.48" y1="232.56" x2="254.46" y2="232.56"/><line x1="199.47" y1="195.90" x2="199.47" y2="305.88"/><line x1="144.48" y1="250.89" x2="254.46" y2="250.89"/><line x1="217.80" y1="195.90" x2="217.80" y2="305.88"/><line x1="144.48" y1="269.22" x2="254.46" y2="269.22"/><line x1="236.13" y1="195.90" x2="236.13" y2="305.88"/><line x1="144.48" y1="287.55" x2="254.46" y2="287.55"/></g>
<use href="#dTL0" transform="translate(144.48 195.90)"/>
<use href="#dTL0" transform="translate(162.81 195.90)"/>
<use href="#dTL0" transform="translate(181.14 195.90)"/>
<use href="#dTL0" transform="translate(199.47 195.90)"/>
<use href="#dTL0" transform="translate(217.80 195.90)"/>
<use href="#dTL0" transform="translate(236.13 195.90)"/>
<use href="#dTL0" transform="translate(144.48 214.23)"/>
<use href="#dTL0" transform="translate(162.81 214.23)"/>
<use href="#dTL0" transform="translate(181.14 214.23)"/>
<use href="#dTL0" transform="translate(199.47 214.23)"/>
<use href="#dTL0" transform="translate(217.80 214.23)"/>
<use href="#dTL0" transform="translate(236.13 214.23)"/>
<use href="#dTL0" transform="translate(144.48 232.56)"/>
<use href="#dTL0" transform="translate(162.81 232.56)"/>
<use href="#dTL0" transform="translate(181.14 232.56)"/>
<use href="#dTL0" transform="translate(199.47 232.56)"/>
<use href="#dTL0" transform="translate(217.80 232.56)"/>
<use href="#dTL0" transform="translate(236.13 232.56)"/>
<use href="#dTL1" transform="translate(144.48 250.89)"/>
<use href="#dTL1" transform="translate(162.81 250.89)"/>
<use href="#dTL1" transform="translate(181.14 250.89)"/>
<use href="#dTL1" transform="translate(199.47 250.89)"/>
<use href="#dTL1" transform="translate(217.80 250.89)"/>
<use href="#dTL1" transform="translate(236.13 250.89)"/>
<use href="#dTL1" transform="translate(144.48 269.22)"/>
<use href="#dTL1" transform="translate(162.81 269.22)"/>
<use href="#dTL1" transform="translate(181.14 269.22)"/>
<use href="#dTL1" transform="translate(199.47 269.22)"/>
<use href="#dTL1" transform="translate(217.80 269.22)"/>
<use href="#dTL1" transform="translate(236.13 269.22)"/>
<use href="#dTL1" transform="translate(144.48 287.55)"/>
<use href="#dTL1" transform="translate(162.81 287.55)"/>
<use href="#dTL1" transform="translate(181.14 287.55)"/>
<use href="#dTL1" transform="translate(199.47 287.55)"/>
<use href="#dTL1" transform="translate(217.80 287.55)"/>
<use href="#dTL1" transform="translate(236.13 287.55)"/>
<g fill="none" stroke="#000" stroke-width="1.4"><rect x="34.50" y="195.90" width="18.33" height="18.33"/><rect x="52.83" y="214.23" width="18.33" height="18.33"/><rect x="71.16" y="232.56" width="18.33" height="18.33"/><rect x="89.49" y="250.89" width="18.33" height="18.33"/><rect x="107.82" y="269.22" width="18.33" height="18.33"/><rect x="126.15" y="287.55" width="18.33" height="18.33"/><rect x="144.48" y="195.90" width="18.33" height="18.33"/><rect x="162.81" y="214.23" width="18.33" height="18.33"/><rect x="181.14" y="232.56" width="18.33" height="18.33"/><rect x="199.47" y="250.89" width="18.33" height="18.33"/><rect x="217.80" y="269.22" width="18.33" height="18.33"/><rect x="236.13" y="287.55" width="18.33" height="18.33"/></g>
<text x="31.9" y="207.37" font-size="6.5" text-anchor="end" fill="#222" font-weight="normal" class="tk">0h</text>
<text x="43.66" y="313.6" font-size="6.4" text-anchor="middle" fill="#222" font-weight="normal" class="tk">0h</text>
<text x="153.64" y="313.6" font-size="6.4" text-anchor="middle" fill="#222" font-weight="normal" class="tk">0h</text>
<text x="31.9" y="225.7" font-size="6.5" text-anchor="end" fill="#222" font-weight="normal" class="tk">12h</text>
<text x="61.99" y="313.6" font-size="6.4" text-anchor="middle" fill="#222" font-weight="normal" class="tk">12h</text>
<text x="171.97" y="313.6" font-size="6.4" text-anchor="middle" fill="#222" font-weight="normal" class="tk">12h</text>
<text x="31.9" y="244.03" font-size="6.5" text-anchor="end" fill="#222" font-weight="normal" class="tk">24h</text>
<text x="80.32" y="313.6" font-size="6.4" text-anchor="middle" fill="#222" font-weight="normal" class="tk">24h</text>
<text x="190.3" y="313.6" font-size="6.4" text-anchor="middle" fill="#222" font-weight="normal" class="tk">24h</text>
<text x="31.9" y="262.36" font-size="6.5" text-anchor="end" fill="#222" font-weight="normal" class="tk">36h</text>
<text x="98.66" y="313.6" font-size="6.4" text-anchor="middle" fill="#222" font-weight="normal" class="tk">36h</text>
<text x="208.63" y="313.6" font-size="6.4" text-anchor="middle" fill="#222" font-weight="normal" class="tk">36h</text>
<text x="31.9" y="280.69" font-size="6.5" text-anchor="end" fill="#222" font-weight="normal" class="tk">48h</text>
<text x="116.98" y="313.6" font-size="6.4" text-anchor="middle" fill="#222" font-weight="normal" class="tk">48h</text>
<text x="226.96" y="313.6" font-size="6.4" text-anchor="middle" fill="#222" font-weight="normal" class="tk">48h</text>
<text x="31.9" y="299.02" font-size="6.5" text-anchor="end" fill="#222" font-weight="normal" class="tk">72h</text>
<text x="135.31" y="313.6" font-size="6.4" text-anchor="middle" fill="#222" font-weight="normal" class="tk">72h</text>
<text x="245.29" y="313.6" font-size="6.4" text-anchor="middle" fill="#222" font-weight="normal" class="tk">72h</text>
<rect x="270.50" y="195.90" width="18.33" height="18.33" fill="#ffcf70"/>
<rect x="288.83" y="195.90" width="18.33" height="18.33" fill="#ffd071"/>
<rect x="307.16" y="195.90" width="18.33" height="18.33" fill="#ffdf7e"/>
<rect x="325.49" y="195.90" width="18.33" height="18.33" fill="#ffe685"/>
<rect x="343.82" y="195.90" width="18.33" height="18.33" fill="#efe884"/>
<rect x="362.15" y="195.90" width="18.33" height="18.33" fill="#dce37e"/>
<rect x="270.50" y="214.23" width="18.33" height="18.33" fill="#ffe685"/>
<rect x="288.83" y="214.23" width="18.33" height="18.33" fill="#ffd575"/>
<rect x="307.16" y="214.23" width="18.33" height="18.33" fill="#ffcd6e"/>
<rect x="325.49" y="214.23" width="18.33" height="18.33" fill="#ffc86c"/>
<rect x="343.82" y="214.23" width="18.33" height="18.33" fill="#ffd878"/>
<rect x="362.15" y="214.23" width="18.33" height="18.33" fill="#ffeb8a"/>
<rect x="270.50" y="232.56" width="18.33" height="18.33" fill="#ece783"/>
<rect x="288.83" y="232.56" width="18.33" height="18.33" fill="#ffea89"/>
<rect x="307.16" y="232.56" width="18.33" height="18.33" fill="#ffdc7b"/>
<rect x="325.49" y="232.56" width="18.33" height="18.33" fill="#ffcb6d"/>
<rect x="343.82" y="232.56" width="18.33" height="18.33" fill="#ffda79"/>
<rect x="362.15" y="232.56" width="18.33" height="18.33" fill="#f8ea87"/>
<rect x="270.50" y="250.89" width="18.33" height="18.33" fill="#73c766"/>
<rect x="288.83" y="250.89" width="18.33" height="18.33" fill="#8acc6a"/>
<rect x="307.16" y="250.89" width="18.33" height="18.33" fill="#9ad06c"/>
<rect x="325.49" y="250.89" width="18.33" height="18.33" fill="#c7de79"/>
<rect x="343.82" y="250.89" width="18.33" height="18.33" fill="#c6dd79"/>
<rect x="362.15" y="250.89" width="18.33" height="18.33" fill="#b2d874"/>
<rect x="270.50" y="269.22" width="18.33" height="18.33" fill="#38b95c"/>
<rect x="288.83" y="269.22" width="18.33" height="18.33" fill="#53bf61"/>
<rect x="307.16" y="269.22" width="18.33" height="18.33" fill="#69c464"/>
<rect x="325.49" y="269.22" width="18.33" height="18.33" fill="#91ce6b"/>
<rect x="343.82" y="269.22" width="18.33" height="18.33" fill="#94ce6b"/>
<rect x="362.15" y="269.22" width="18.33" height="18.33" fill="#85cb69"/>
<rect x="270.50" y="287.55" width="18.33" height="18.33" fill="#30b75a"/>
<rect x="288.83" y="287.55" width="18.33" height="18.33" fill="#46bd60"/>
<rect x="307.16" y="287.55" width="18.33" height="18.33" fill="#51bf61"/>
<rect x="325.49" y="287.55" width="18.33" height="18.33" fill="#7dc968"/>
<rect x="343.82" y="287.55" width="18.33" height="18.33" fill="#82ca69"/>
<rect x="362.15" y="287.55" width="18.33" height="18.33" fill="#79c867"/>
<g stroke="#ffffff" stroke-opacity="0.55" stroke-width="0.7"><line x1="288.83" y1="195.90" x2="288.83" y2="305.88"/><line x1="270.50" y1="214.23" x2="380.48" y2="214.23"/><line x1="307.16" y1="195.90" x2="307.16" y2="305.88"/><line x1="270.50" y1="232.56" x2="380.48" y2="232.56"/><line x1="325.49" y1="195.90" x2="325.49" y2="305.88"/><line x1="270.50" y1="250.89" x2="380.48" y2="250.89"/><line x1="343.82" y1="195.90" x2="343.82" y2="305.88"/><line x1="270.50" y1="269.22" x2="380.48" y2="269.22"/><line x1="362.15" y1="195.90" x2="362.15" y2="305.88"/><line x1="270.50" y1="287.55" x2="380.48" y2="287.55"/></g>
<text x="279.67" y="206.97" font-size="5.3" text-anchor="middle" fill="#1a1a10" font-weight="normal" class="tk">0.688</text>
<text x="298" y="206.97" font-size="5.3" text-anchor="middle" fill="#1a1a10" font-weight="normal" class="tk">0.686</text>
<text x="316.32" y="206.97" font-size="5.3" text-anchor="middle" fill="#1a1a10" font-weight="normal" class="tk">0.669</text>
<text x="334.66" y="206.97" font-size="5.3" text-anchor="middle" fill="#1a1a10" font-weight="normal" class="tk">0.658</text>
<text x="352.99" y="206.97" font-size="5.3" text-anchor="middle" fill="#1a1a10" font-weight="normal" class="tk">0.629</text>
<text x="371.31" y="206.97" font-size="5.3" text-anchor="middle" fill="#1a1a10" font-weight="normal" class="tk">0.606</text>
<text x="279.67" y="225.3" font-size="5.3" text-anchor="middle" fill="#1a1a10" font-weight="normal" class="tk">0.658</text>
<text x="298" y="225.3" font-size="5.3" text-anchor="middle" fill="#1a1a10" font-weight="normal" class="tk">0.681</text>
<text x="316.32" y="225.3" font-size="5.3" text-anchor="middle" fill="#1a1a10" font-weight="normal" class="tk">0.690</text>
<text x="334.66" y="225.3" font-size="5.3" text-anchor="middle" fill="#1a1a10" font-weight="normal" class="tk">0.697</text>
<text x="352.99" y="225.3" font-size="5.3" text-anchor="middle" fill="#1a1a10" font-weight="normal" class="tk">0.677</text>
<text x="371.31" y="225.3" font-size="5.3" text-anchor="middle" fill="#1a1a10" font-weight="normal" class="tk">0.650</text>
<text x="279.67" y="243.62" font-size="5.3" text-anchor="middle" fill="#1a1a10" font-weight="normal" class="tk">0.625</text>
<text x="298" y="243.62" font-size="5.3" text-anchor="middle" fill="#1a1a10" font-weight="normal" class="tk">0.652</text>
<text x="316.32" y="243.62" font-size="5.3" text-anchor="middle" fill="#1a1a10" font-weight="normal" class="tk">0.672</text>
<text x="334.66" y="243.62" font-size="5.3" text-anchor="middle" fill="#1a1a10" font-weight="normal" class="tk">0.693</text>
<text x="352.99" y="243.62" font-size="5.3" text-anchor="middle" fill="#1a1a10" font-weight="normal" class="tk">0.675</text>
<text x="371.31" y="243.62" font-size="5.3" text-anchor="middle" fill="#1a1a10" font-weight="normal" class="tk">0.641</text>
<text x="279.67" y="261.95" font-size="5.3" text-anchor="middle" fill="#1a1a10" font-weight="normal" class="tk">0.453</text>
<text x="298" y="261.95" font-size="5.3" text-anchor="middle" fill="#1a1a10" font-weight="normal" class="tk">0.491</text>
<text x="316.32" y="261.95" font-size="5.3" text-anchor="middle" fill="#1a1a10" font-weight="normal" class="tk">0.518</text>
<text x="334.66" y="261.95" font-size="5.3" text-anchor="middle" fill="#1a1a10" font-weight="normal" class="tk">0.579</text>
<text x="352.99" y="261.95" font-size="5.3" text-anchor="middle" fill="#1a1a10" font-weight="normal" class="tk">0.577</text>
<text x="371.31" y="261.95" font-size="5.3" text-anchor="middle" fill="#1a1a10" font-weight="normal" class="tk">0.550</text>
<text x="279.67" y="280.29" font-size="5.3" text-anchor="middle" fill="#1a1a10" font-weight="normal" class="tk">0.381</text>
<text x="298" y="280.29" font-size="5.3" text-anchor="middle" fill="#1a1a10" font-weight="normal" class="tk">0.412</text>
<text x="316.32" y="280.29" font-size="5.3" text-anchor="middle" fill="#1a1a10" font-weight="normal" class="tk">0.437</text>
<text x="334.66" y="280.29" font-size="5.3" text-anchor="middle" fill="#1a1a10" font-weight="normal" class="tk">0.503</text>
<text x="352.99" y="280.29" font-size="5.3" text-anchor="middle" fill="#1a1a10" font-weight="normal" class="tk">0.508</text>
<text x="371.31" y="280.29" font-size="5.3" text-anchor="middle" fill="#1a1a10" font-weight="normal" class="tk">0.483</text>
<text x="279.67" y="298.62" font-size="5.3" text-anchor="middle" fill="#1a1a10" font-weight="normal" class="tk">0.369</text>
<text x="298" y="298.62" font-size="5.3" text-anchor="middle" fill="#1a1a10" font-weight="normal" class="tk">0.398</text>
<text x="316.32" y="298.62" font-size="5.3" text-anchor="middle" fill="#1a1a10" font-weight="normal" class="tk">0.410</text>
<text x="334.66" y="298.62" font-size="5.3" text-anchor="middle" fill="#1a1a10" font-weight="normal" class="tk">0.470</text>
<text x="352.99" y="298.62" font-size="5.3" text-anchor="middle" fill="#1a1a10" font-weight="normal" class="tk">0.478</text>
<text x="371.31" y="298.62" font-size="5.3" text-anchor="middle" fill="#1a1a10" font-weight="normal" class="tk">0.463</text>
<g stroke="#f2f2f2" stroke-width="0.5"><line x1="398.81" y1="195.90" x2="398.81" y2="305.88"/><line x1="380.48" y1="214.23" x2="490.46" y2="214.23"/><line x1="417.14" y1="195.90" x2="417.14" y2="305.88"/><line x1="380.48" y1="232.56" x2="490.46" y2="232.56"/><line x1="435.47" y1="195.90" x2="435.47" y2="305.88"/><line x1="380.48" y1="250.89" x2="490.46" y2="250.89"/><line x1="453.80" y1="195.90" x2="453.80" y2="305.88"/><line x1="380.48" y1="269.22" x2="490.46" y2="269.22"/><line x1="472.13" y1="195.90" x2="472.13" y2="305.88"/><line x1="380.48" y1="287.55" x2="490.46" y2="287.55"/></g>
<use href="#dTR0" transform="translate(380.48 195.90)"/>
<use href="#dTR0" transform="translate(398.81 195.90)"/>
<use href="#dTR0" transform="translate(417.14 195.90)"/>
<use href="#dTR0" transform="translate(435.47 195.90)"/>
<use href="#dTR0" transform="translate(453.80 195.90)"/>
<use href="#dTR0" transform="translate(472.13 195.90)"/>
<use href="#dTR0" transform="translate(380.48 214.23)"/>
<use href="#dTR0" transform="translate(398.81 214.23)"/>
<use href="#dTR0" transform="translate(417.14 214.23)"/>
<use href="#dTR0" transform="translate(435.47 214.23)"/>
<use href="#dTR0" transform="translate(453.80 214.23)"/>
<use href="#dTR0" transform="translate(472.13 214.23)"/>
<use href="#dTR0" transform="translate(380.48 232.56)"/>
<use href="#dTR0" transform="translate(398.81 232.56)"/>
<use href="#dTR0" transform="translate(417.14 232.56)"/>
<use href="#dTR0" transform="translate(435.47 232.56)"/>
<use href="#dTR0" transform="translate(453.80 232.56)"/>
<use href="#dTR0" transform="translate(472.13 232.56)"/>
<use href="#dTR1" transform="translate(380.48 250.89)"/>
<use href="#dTR1" transform="translate(398.81 250.89)"/>
<use href="#dTR1" transform="translate(417.14 250.89)"/>
<use href="#dTR1" transform="translate(435.47 250.89)"/>
<use href="#dTR1" transform="translate(453.80 250.89)"/>
<use href="#dTR1" transform="translate(472.13 250.89)"/>
<use href="#dTR1" transform="translate(380.48 269.22)"/>
<use href="#dTR1" transform="translate(398.81 269.22)"/>
<use href="#dTR1" transform="translate(417.14 269.22)"/>
<use href="#dTR1" transform="translate(435.47 269.22)"/>
<use href="#dTR1" transform="translate(453.80 269.22)"/>
<use href="#dTR1" transform="translate(472.13 269.22)"/>
<use href="#dTR1" transform="translate(380.48 287.55)"/>
<use href="#dTR1" transform="translate(398.81 287.55)"/>
<use href="#dTR1" transform="translate(417.14 287.55)"/>
<use href="#dTR1" transform="translate(435.47 287.55)"/>
<use href="#dTR1" transform="translate(453.80 287.55)"/>
<use href="#dTR1" transform="translate(472.13 287.55)"/>
<g fill="none" stroke="#000" stroke-width="1.4"><rect x="270.50" y="195.90" width="18.33" height="18.33"/><rect x="288.83" y="214.23" width="18.33" height="18.33"/><rect x="307.16" y="232.56" width="18.33" height="18.33"/><rect x="325.49" y="250.89" width="18.33" height="18.33"/><rect x="343.82" y="269.22" width="18.33" height="18.33"/><rect x="362.15" y="287.55" width="18.33" height="18.33"/><rect x="380.48" y="195.90" width="18.33" height="18.33"/><rect x="398.81" y="214.23" width="18.33" height="18.33"/><rect x="417.14" y="232.56" width="18.33" height="18.33"/><rect x="435.47" y="250.89" width="18.33" height="18.33"/><rect x="453.80" y="269.22" width="18.33" height="18.33"/><rect x="472.13" y="287.55" width="18.33" height="18.33"/></g>
<text x="267.9" y="207.37" font-size="6.5" text-anchor="end" fill="#222" font-weight="normal" class="tk">0h</text>
<text x="279.67" y="313.6" font-size="6.4" text-anchor="middle" fill="#222" font-weight="normal" class="tk">0h</text>
<text x="389.65" y="313.6" font-size="6.4" text-anchor="middle" fill="#222" font-weight="normal" class="tk">0h</text>
<text x="267.9" y="225.7" font-size="6.5" text-anchor="end" fill="#222" font-weight="normal" class="tk">12h</text>
<text x="298" y="313.6" font-size="6.4" text-anchor="middle" fill="#222" font-weight="normal" class="tk">12h</text>
<text x="407.98" y="313.6" font-size="6.4" text-anchor="middle" fill="#222" font-weight="normal" class="tk">12h</text>
<text x="267.9" y="244.03" font-size="6.5" text-anchor="end" fill="#222" font-weight="normal" class="tk">24h</text>
<text x="316.32" y="313.6" font-size="6.4" text-anchor="middle" fill="#222" font-weight="normal" class="tk">24h</text>
<text x="426.31" y="313.6" font-size="6.4" text-anchor="middle" fill="#222" font-weight="normal" class="tk">24h</text>
<text x="267.9" y="262.36" font-size="6.5" text-anchor="end" fill="#222" font-weight="normal" class="tk">36h</text>
<text x="334.66" y="313.6" font-size="6.4" text-anchor="middle" fill="#222" font-weight="normal" class="tk">36h</text>
<text x="444.64" y="313.6" font-size="6.4" text-anchor="middle" fill="#222" font-weight="normal" class="tk">36h</text>
<text x="267.9" y="280.69" font-size="6.5" text-anchor="end" fill="#222" font-weight="normal" class="tk">48h</text>
<text x="352.99" y="313.6" font-size="6.4" text-anchor="middle" fill="#222" font-weight="normal" class="tk">48h</text>
<text x="462.97" y="313.6" font-size="6.4" text-anchor="middle" fill="#222" font-weight="normal" class="tk">48h</text>
<text x="267.9" y="299.02" font-size="6.5" text-anchor="end" fill="#222" font-weight="normal" class="tk">72h</text>
<text x="371.31" y="313.6" font-size="6.4" text-anchor="middle" fill="#222" font-weight="normal" class="tk">72h</text>
<text x="481.3" y="313.6" font-size="6.4" text-anchor="middle" fill="#222" font-weight="normal" class="tk">72h</text>
<rect x="34.50" y="315.70" width="18.33" height="18.33" fill="#ffd070"/>
<rect x="52.83" y="315.70" width="18.33" height="18.33" fill="#ffd070"/>
<rect x="71.16" y="315.70" width="18.33" height="18.33" fill="#ffda79"/>
<rect x="89.49" y="315.70" width="18.33" height="18.33" fill="#feeb89"/>
<rect x="107.82" y="315.70" width="18.33" height="18.33" fill="#eae782"/>
<rect x="126.15" y="315.70" width="18.33" height="18.33" fill="#dae37e"/>
<rect x="34.50" y="334.03" width="18.33" height="18.33" fill="#ffea89"/>
<rect x="52.83" y="334.03" width="18.33" height="18.33" fill="#ffdf7e"/>
<rect x="71.16" y="334.03" width="18.33" height="18.33" fill="#ffd676"/>
<rect x="89.49" y="334.03" width="18.33" height="18.33" fill="#ffdc7b"/>
<rect x="107.82" y="334.03" width="18.33" height="18.33" fill="#ffeb8a"/>
<rect x="126.15" y="334.03" width="18.33" height="18.33" fill="#f0e884"/>
<rect x="34.50" y="352.36" width="18.33" height="18.33" fill="#d9e27d"/>
<rect x="52.83" y="352.36" width="18.33" height="18.33" fill="#e8e682"/>
<rect x="71.16" y="352.36" width="18.33" height="18.33" fill="#f8ea87"/>
<rect x="89.49" y="352.36" width="18.33" height="18.33" fill="#fcea89"/>
<rect x="107.82" y="352.36" width="18.33" height="18.33" fill="#ebe783"/>
<rect x="126.15" y="352.36" width="18.33" height="18.33" fill="#d8e27d"/>
<rect x="34.50" y="370.69" width="18.33" height="18.33" fill="#6ec665"/>
<rect x="52.83" y="370.69" width="18.33" height="18.33" fill="#81ca69"/>
<rect x="71.16" y="370.69" width="18.33" height="18.33" fill="#8ecd6a"/>
<rect x="89.49" y="370.69" width="18.33" height="18.33" fill="#a0d26e"/>
<rect x="107.82" y="370.69" width="18.33" height="18.33" fill="#97cf6b"/>
<rect x="126.15" y="370.69" width="18.33" height="18.33" fill="#8ecd6a"/>
<rect x="34.50" y="389.02" width="18.33" height="18.33" fill="#4dbe61"/>
<rect x="52.83" y="389.02" width="18.33" height="18.33" fill="#65c363"/>
<rect x="71.16" y="389.02" width="18.33" height="18.33" fill="#75c766"/>
<rect x="89.49" y="389.02" width="18.33" height="18.33" fill="#81ca69"/>
<rect x="107.82" y="389.02" width="18.33" height="18.33" fill="#7ec968"/>
<rect x="126.15" y="389.02" width="18.33" height="18.33" fill="#75c766"/>
<rect x="34.50" y="407.35" width="18.33" height="18.33" fill="#47bd60"/>
<rect x="52.83" y="407.35" width="18.33" height="18.33" fill="#5ec262"/>
<rect x="71.16" y="407.35" width="18.33" height="18.33" fill="#69c464"/>
<rect x="89.49" y="407.35" width="18.33" height="18.33" fill="#75c766"/>
<rect x="107.82" y="407.35" width="18.33" height="18.33" fill="#71c665"/>
<rect x="126.15" y="407.35" width="18.33" height="18.33" fill="#6dc564"/>
<g stroke="#ffffff" stroke-opacity="0.55" stroke-width="0.7"><line x1="52.83" y1="315.70" x2="52.83" y2="425.68"/><line x1="34.50" y1="334.03" x2="144.48" y2="334.03"/><line x1="71.16" y1="315.70" x2="71.16" y2="425.68"/><line x1="34.50" y1="352.36" x2="144.48" y2="352.36"/><line x1="89.49" y1="315.70" x2="89.49" y2="425.68"/><line x1="34.50" y1="370.69" x2="144.48" y2="370.69"/><line x1="107.82" y1="315.70" x2="107.82" y2="425.68"/><line x1="34.50" y1="389.02" x2="144.48" y2="389.02"/><line x1="126.15" y1="315.70" x2="126.15" y2="425.68"/><line x1="34.50" y1="407.35" x2="144.48" y2="407.35"/></g>
<text x="43.66" y="326.76" font-size="5.3" text-anchor="middle" fill="#1a1a10" font-weight="normal" class="tk">0.687</text>
<text x="61.99" y="326.76" font-size="5.3" text-anchor="middle" fill="#1a1a10" font-weight="normal" class="tk">0.687</text>
<text x="80.32" y="326.76" font-size="5.3" text-anchor="middle" fill="#1a1a10" font-weight="normal" class="tk">0.675</text>
<text x="98.66" y="326.76" font-size="5.3" text-anchor="middle" fill="#1a1a10" font-weight="normal" class="tk">0.648</text>
<text x="116.98" y="326.76" font-size="5.3" text-anchor="middle" fill="#1a1a10" font-weight="normal" class="tk">0.623</text>
<text x="135.31" y="326.76" font-size="5.3" text-anchor="middle" fill="#1a1a10" font-weight="normal" class="tk">0.604</text>
<text x="43.66" y="345.09" font-size="5.3" text-anchor="middle" fill="#1a1a10" font-weight="normal" class="tk">0.652</text>
<text x="61.99" y="345.09" font-size="5.3" text-anchor="middle" fill="#1a1a10" font-weight="normal" class="tk">0.669</text>
<text x="80.32" y="345.09" font-size="5.3" text-anchor="middle" fill="#1a1a10" font-weight="normal" class="tk">0.679</text>
<text x="98.66" y="345.09" font-size="5.3" text-anchor="middle" fill="#1a1a10" font-weight="normal" class="tk">0.672</text>
<text x="116.98" y="345.09" font-size="5.3" text-anchor="middle" fill="#1a1a10" font-weight="normal" class="tk">0.650</text>
<text x="135.31" y="345.09" font-size="5.3" text-anchor="middle" fill="#1a1a10" font-weight="normal" class="tk">0.630</text>
<text x="43.66" y="363.43" font-size="5.3" text-anchor="middle" fill="#1a1a10" font-weight="normal" class="tk">0.602</text>
<text x="61.99" y="363.43" font-size="5.3" text-anchor="middle" fill="#1a1a10" font-weight="normal" class="tk">0.621</text>
<text x="80.32" y="363.43" font-size="5.3" text-anchor="middle" fill="#1a1a10" font-weight="normal" class="tk">0.640</text>
<text x="98.66" y="363.43" font-size="5.3" text-anchor="middle" fill="#1a1a10" font-weight="normal" class="tk">0.646</text>
<text x="116.98" y="363.43" font-size="5.3" text-anchor="middle" fill="#1a1a10" font-weight="normal" class="tk">0.624</text>
<text x="135.31" y="363.43" font-size="5.3" text-anchor="middle" fill="#1a1a10" font-weight="normal" class="tk">0.601</text>
<text x="43.66" y="381.75" font-size="5.3" text-anchor="middle" fill="#1a1a10" font-weight="normal" class="tk">0.444</text>
<text x="61.99" y="381.75" font-size="5.3" text-anchor="middle" fill="#1a1a10" font-weight="normal" class="tk">0.477</text>
<text x="80.32" y="381.75" font-size="5.3" text-anchor="middle" fill="#1a1a10" font-weight="normal" class="tk">0.498</text>
<text x="98.66" y="381.75" font-size="5.3" text-anchor="middle" fill="#1a1a10" font-weight="normal" class="tk">0.526</text>
<text x="116.98" y="381.75" font-size="5.3" text-anchor="middle" fill="#1a1a10" font-weight="normal" class="tk">0.513</text>
<text x="135.31" y="381.75" font-size="5.3" text-anchor="middle" fill="#1a1a10" font-weight="normal" class="tk">0.498</text>
<text x="43.66" y="400.08" font-size="5.3" text-anchor="middle" fill="#1a1a10" font-weight="normal" class="tk">0.406</text>
<text x="61.99" y="400.08" font-size="5.3" text-anchor="middle" fill="#1a1a10" font-weight="normal" class="tk">0.432</text>
<text x="80.32" y="400.08" font-size="5.3" text-anchor="middle" fill="#1a1a10" font-weight="normal" class="tk">0.455</text>
<text x="98.66" y="400.08" font-size="5.3" text-anchor="middle" fill="#1a1a10" font-weight="normal" class="tk">0.477</text>
<text x="116.98" y="400.08" font-size="5.3" text-anchor="middle" fill="#1a1a10" font-weight="normal" class="tk">0.471</text>
<text x="135.31" y="400.08" font-size="5.3" text-anchor="middle" fill="#1a1a10" font-weight="normal" class="tk">0.456</text>
<text x="43.66" y="418.41" font-size="5.3" text-anchor="middle" fill="#1a1a10" font-weight="normal" class="tk">0.399</text>
<text x="61.99" y="418.41" font-size="5.3" text-anchor="middle" fill="#1a1a10" font-weight="normal" class="tk">0.424</text>
<text x="80.32" y="418.41" font-size="5.3" text-anchor="middle" fill="#1a1a10" font-weight="normal" class="tk">0.437</text>
<text x="98.66" y="418.41" font-size="5.3" text-anchor="middle" fill="#1a1a10" font-weight="normal" class="tk">0.455</text>
<text x="116.98" y="418.41" font-size="5.3" text-anchor="middle" fill="#1a1a10" font-weight="normal" class="tk">0.449</text>
<text x="135.31" y="418.41" font-size="5.3" text-anchor="middle" fill="#1a1a10" font-weight="normal" class="tk">0.441</text>
<g stroke="#f2f2f2" stroke-width="0.5"><line x1="162.81" y1="315.70" x2="162.81" y2="425.68"/><line x1="144.48" y1="334.03" x2="254.46" y2="334.03"/><line x1="181.14" y1="315.70" x2="181.14" y2="425.68"/><line x1="144.48" y1="352.36" x2="254.46" y2="352.36"/><line x1="199.47" y1="315.70" x2="199.47" y2="425.68"/><line x1="144.48" y1="370.69" x2="254.46" y2="370.69"/><line x1="217.80" y1="315.70" x2="217.80" y2="425.68"/><line x1="144.48" y1="389.02" x2="254.46" y2="389.02"/><line x1="236.13" y1="315.70" x2="236.13" y2="425.68"/><line x1="144.48" y1="407.35" x2="254.46" y2="407.35"/></g>
<use href="#dBL0" transform="translate(144.48 315.70)"/>
<use href="#dBL0" transform="translate(162.81 315.70)"/>
<use href="#dBL0" transform="translate(181.14 315.70)"/>
<use href="#dBL0" transform="translate(199.47 315.70)"/>
<use href="#dBL0" transform="translate(217.80 315.70)"/>
<use href="#dBL0" transform="translate(236.13 315.70)"/>
<use href="#dBL0" transform="translate(144.48 334.03)"/>
<use href="#dBL0" transform="translate(162.81 334.03)"/>
<use href="#dBL0" transform="translate(181.14 334.03)"/>
<use href="#dBL0" transform="translate(199.47 334.03)"/>
<use href="#dBL0" transform="translate(217.80 334.03)"/>
<use href="#dBL0" transform="translate(236.13 334.03)"/>
<use href="#dBL0" transform="translate(144.48 352.36)"/>
<use href="#dBL0" transform="translate(162.81 352.36)"/>
<use href="#dBL0" transform="translate(181.14 352.36)"/>
<use href="#dBL0" transform="translate(199.47 352.36)"/>
<use href="#dBL0" transform="translate(217.80 352.36)"/>
<use href="#dBL0" transform="translate(236.13 352.36)"/>
<use href="#dBL1" transform="translate(144.48 370.69)"/>
<use href="#dBL1" transform="translate(162.81 370.69)"/>
<use href="#dBL1" transform="translate(181.14 370.69)"/>
<use href="#dBL1" transform="translate(199.47 370.69)"/>
<use href="#dBL1" transform="translate(217.80 370.69)"/>
<use href="#dBL1" transform="translate(236.13 370.69)"/>
<use href="#dBL1" transform="translate(144.48 389.02)"/>
<use href="#dBL1" transform="translate(162.81 389.02)"/>
<use href="#dBL1" transform="translate(181.14 389.02)"/>
<use href="#dBL1" transform="translate(199.47 389.02)"/>
<use href="#dBL1" transform="translate(217.80 389.02)"/>
<use href="#dBL1" transform="translate(236.13 389.02)"/>
<use href="#dBL1" transform="translate(144.48 407.35)"/>
<use href="#dBL1" transform="translate(162.81 407.35)"/>
<use href="#dBL1" transform="translate(181.14 407.35)"/>
<use href="#dBL1" transform="translate(199.47 407.35)"/>
<use href="#dBL1" transform="translate(217.80 407.35)"/>
<use href="#dBL1" transform="translate(236.13 407.35)"/>
<g fill="none" stroke="#000" stroke-width="1.4"><rect x="34.50" y="315.70" width="18.33" height="18.33"/><rect x="52.83" y="334.03" width="18.33" height="18.33"/><rect x="71.16" y="352.36" width="18.33" height="18.33"/><rect x="89.49" y="370.69" width="18.33" height="18.33"/><rect x="107.82" y="389.02" width="18.33" height="18.33"/><rect x="126.15" y="407.35" width="18.33" height="18.33"/><rect x="144.48" y="315.70" width="18.33" height="18.33"/><rect x="162.81" y="334.03" width="18.33" height="18.33"/><rect x="181.14" y="352.36" width="18.33" height="18.33"/><rect x="199.47" y="370.69" width="18.33" height="18.33"/><rect x="217.80" y="389.02" width="18.33" height="18.33"/><rect x="236.13" y="407.35" width="18.33" height="18.33"/></g>
<text x="31.9" y="327.17" font-size="6.5" text-anchor="end" fill="#222" font-weight="normal" class="tk">0h</text>
<text x="43.66" y="434.6" font-size="6.4" text-anchor="middle" fill="#222" font-weight="normal" class="tk">0h</text>
<text x="153.64" y="434.6" font-size="6.4" text-anchor="middle" fill="#222" font-weight="normal" class="tk">0h</text>
<text x="31.9" y="345.5" font-size="6.5" text-anchor="end" fill="#222" font-weight="normal" class="tk">12h</text>
<text x="61.99" y="434.6" font-size="6.4" text-anchor="middle" fill="#222" font-weight="normal" class="tk">12h</text>
<text x="171.97" y="434.6" font-size="6.4" text-anchor="middle" fill="#222" font-weight="normal" class="tk">12h</text>
<text x="31.9" y="363.83" font-size="6.5" text-anchor="end" fill="#222" font-weight="normal" class="tk">24h</text>
<text x="80.32" y="434.6" font-size="6.4" text-anchor="middle" fill="#222" font-weight="normal" class="tk">24h</text>
<text x="190.3" y="434.6" font-size="6.4" text-anchor="middle" fill="#222" font-weight="normal" class="tk">24h</text>
<text x="31.9" y="382.16" font-size="6.5" text-anchor="end" fill="#222" font-weight="normal" class="tk">36h</text>
<text x="98.66" y="434.6" font-size="6.4" text-anchor="middle" fill="#222" font-weight="normal" class="tk">36h</text>
<text x="208.63" y="434.6" font-size="6.4" text-anchor="middle" fill="#222" font-weight="normal" class="tk">36h</text>
<text x="31.9" y="400.49" font-size="6.5" text-anchor="end" fill="#222" font-weight="normal" class="tk">48h</text>
<text x="116.98" y="434.6" font-size="6.4" text-anchor="middle" fill="#222" font-weight="normal" class="tk">48h</text>
<text x="226.96" y="434.6" font-size="6.4" text-anchor="middle" fill="#222" font-weight="normal" class="tk">48h</text>
<text x="31.9" y="418.81" font-size="6.5" text-anchor="end" fill="#222" font-weight="normal" class="tk">72h</text>
<text x="135.31" y="434.6" font-size="6.4" text-anchor="middle" fill="#222" font-weight="normal" class="tk">72h</text>
<text x="245.29" y="434.6" font-size="6.4" text-anchor="middle" fill="#222" font-weight="normal" class="tk">72h</text>
<rect x="270.50" y="315.70" width="18.33" height="18.33" fill="#ffd878"/>
<rect x="288.83" y="315.70" width="18.33" height="18.33" fill="#ffd575"/>
<rect x="307.16" y="315.70" width="18.33" height="18.33" fill="#ffe584"/>
<rect x="325.49" y="315.70" width="18.33" height="18.33" fill="#ffeb8a"/>
<rect x="343.82" y="315.70" width="18.33" height="18.33" fill="#f1e884"/>
<rect x="362.15" y="315.70" width="18.33" height="18.33" fill="#dee47f"/>
<rect x="270.50" y="334.03" width="18.33" height="18.33" fill="#ffe685"/>
<rect x="288.83" y="334.03" width="18.33" height="18.33" fill="#ffd978"/>
<rect x="307.16" y="334.03" width="18.33" height="18.33" fill="#ffd777"/>
<rect x="325.49" y="334.03" width="18.33" height="18.33" fill="#ffcf70"/>
<rect x="343.82" y="334.03" width="18.33" height="18.33" fill="#ffde7d"/>
<rect x="362.15" y="334.03" width="18.33" height="18.33" fill="#feeb89"/>
<rect x="270.50" y="352.36" width="18.33" height="18.33" fill="#eee783"/>
<rect x="288.83" y="352.36" width="18.33" height="18.33" fill="#ffea89"/>
<rect x="307.16" y="352.36" width="18.33" height="18.33" fill="#ffe281"/>
<rect x="325.49" y="352.36" width="18.33" height="18.33" fill="#ffd474"/>
<rect x="343.82" y="352.36" width="18.33" height="18.33" fill="#ffe281"/>
<rect x="362.15" y="352.36" width="18.33" height="18.33" fill="#f4e986"/>
<rect x="270.50" y="370.69" width="18.33" height="18.33" fill="#91ce6b"/>
<rect x="288.83" y="370.69" width="18.33" height="18.33" fill="#a8d470"/>
<rect x="307.16" y="370.69" width="18.33" height="18.33" fill="#b5d975"/>
<rect x="325.49" y="370.69" width="18.33" height="18.33" fill="#dce37e"/>
<rect x="343.82" y="370.69" width="18.33" height="18.33" fill="#dae37e"/>
<rect x="362.15" y="370.69" width="18.33" height="18.33" fill="#c6dd79"/>
<rect x="270.50" y="389.02" width="18.33" height="18.33" fill="#7ac867"/>
<rect x="288.83" y="389.02" width="18.33" height="18.33" fill="#89cc6a"/>
<rect x="307.16" y="389.02" width="18.33" height="18.33" fill="#94ce6b"/>
<rect x="325.49" y="389.02" width="18.33" height="18.33" fill="#b8da76"/>
<rect x="343.82" y="389.02" width="18.33" height="18.33" fill="#b9da76"/>
<rect x="362.15" y="389.02" width="18.33" height="18.33" fill="#a8d470"/>
<rect x="270.50" y="407.35" width="18.33" height="18.33" fill="#76c766"/>
<rect x="288.83" y="407.35" width="18.33" height="18.33" fill="#85cb69"/>
<rect x="307.16" y="407.35" width="18.33" height="18.33" fill="#88cc6a"/>
<rect x="325.49" y="407.35" width="18.33" height="18.33" fill="#a6d470"/>
<rect x="343.82" y="407.35" width="18.33" height="18.33" fill="#a8d470"/>
<rect x="362.15" y="407.35" width="18.33" height="18.33" fill="#9fd16d"/>
<g stroke="#ffffff" stroke-opacity="0.55" stroke-width="0.7"><line x1="288.83" y1="315.70" x2="288.83" y2="425.68"/><line x1="270.50" y1="334.03" x2="380.48" y2="334.03"/><line x1="307.16" y1="315.70" x2="307.16" y2="425.68"/><line x1="270.50" y1="352.36" x2="380.48" y2="352.36"/><line x1="325.49" y1="315.70" x2="325.49" y2="425.68"/><line x1="270.50" y1="370.69" x2="380.48" y2="370.69"/><line x1="343.82" y1="315.70" x2="343.82" y2="425.68"/><line x1="270.50" y1="389.02" x2="380.48" y2="389.02"/><line x1="362.15" y1="315.70" x2="362.15" y2="425.68"/><line x1="270.50" y1="407.35" x2="380.48" y2="407.35"/></g>
<text x="279.67" y="326.76" font-size="5.3" text-anchor="middle" fill="#1a1a10" font-weight="normal" class="tk">0.677</text>
<text x="298" y="326.76" font-size="5.3" text-anchor="middle" fill="#1a1a10" font-weight="normal" class="tk">0.680</text>
<text x="316.32" y="326.76" font-size="5.3" text-anchor="middle" fill="#1a1a10" font-weight="normal" class="tk">0.659</text>
<text x="334.66" y="326.76" font-size="5.3" text-anchor="middle" fill="#1a1a10" font-weight="normal" class="tk">0.650</text>
<text x="352.99" y="326.76" font-size="5.3" text-anchor="middle" fill="#1a1a10" font-weight="normal" class="tk">0.631</text>
<text x="371.31" y="326.76" font-size="5.3" text-anchor="middle" fill="#1a1a10" font-weight="normal" class="tk">0.609</text>
<text x="279.67" y="345.09" font-size="5.3" text-anchor="middle" fill="#1a1a10" font-weight="normal" class="tk">0.657</text>
<text x="298" y="345.09" font-size="5.3" text-anchor="middle" fill="#1a1a10" font-weight="normal" class="tk">0.676</text>
<text x="316.32" y="345.09" font-size="5.3" text-anchor="middle" fill="#1a1a10" font-weight="normal" class="tk">0.678</text>
<text x="334.66" y="345.09" font-size="5.3" text-anchor="middle" fill="#1a1a10" font-weight="normal" class="tk">0.688</text>
<text x="352.99" y="345.09" font-size="5.3" text-anchor="middle" fill="#1a1a10" font-weight="normal" class="tk">0.670</text>
<text x="371.31" y="345.09" font-size="5.3" text-anchor="middle" fill="#1a1a10" font-weight="normal" class="tk">0.648</text>
<text x="279.67" y="363.43" font-size="5.3" text-anchor="middle" fill="#1a1a10" font-weight="normal" class="tk">0.627</text>
<text x="298" y="363.43" font-size="5.3" text-anchor="middle" fill="#1a1a10" font-weight="normal" class="tk">0.652</text>
<text x="316.32" y="363.43" font-size="5.3" text-anchor="middle" fill="#1a1a10" font-weight="normal" class="tk">0.664</text>
<text x="334.66" y="363.43" font-size="5.3" text-anchor="middle" fill="#1a1a10" font-weight="normal" class="tk">0.682</text>
<text x="352.99" y="363.43" font-size="5.3" text-anchor="middle" fill="#1a1a10" font-weight="normal" class="tk">0.664</text>
<text x="371.31" y="363.43" font-size="5.3" text-anchor="middle" fill="#1a1a10" font-weight="normal" class="tk">0.636</text>
<text x="279.67" y="381.75" font-size="5.3" text-anchor="middle" fill="#1a1a10" font-weight="normal" class="tk">0.503</text>
<text x="298" y="381.75" font-size="5.3" text-anchor="middle" fill="#1a1a10" font-weight="normal" class="tk">0.537</text>
<text x="316.32" y="381.75" font-size="5.3" text-anchor="middle" fill="#1a1a10" font-weight="normal" class="tk">0.555</text>
<text x="334.66" y="381.75" font-size="5.3" text-anchor="middle" fill="#1a1a10" font-weight="normal" class="tk">0.606</text>
<text x="352.99" y="381.75" font-size="5.3" text-anchor="middle" fill="#1a1a10" font-weight="normal" class="tk">0.604</text>
<text x="371.31" y="381.75" font-size="5.3" text-anchor="middle" fill="#1a1a10" font-weight="normal" class="tk">0.577</text>
<text x="279.67" y="400.08" font-size="5.3" text-anchor="middle" fill="#1a1a10" font-weight="normal" class="tk">0.464</text>
<text x="298" y="400.08" font-size="5.3" text-anchor="middle" fill="#1a1a10" font-weight="normal" class="tk">0.490</text>
<text x="316.32" y="400.08" font-size="5.3" text-anchor="middle" fill="#1a1a10" font-weight="normal" class="tk">0.508</text>
<text x="334.66" y="400.08" font-size="5.3" text-anchor="middle" fill="#1a1a10" font-weight="normal" class="tk">0.558</text>
<text x="352.99" y="400.08" font-size="5.3" text-anchor="middle" fill="#1a1a10" font-weight="normal" class="tk">0.560</text>
<text x="371.31" y="400.08" font-size="5.3" text-anchor="middle" fill="#1a1a10" font-weight="normal" class="tk">0.537</text>
<text x="279.67" y="418.41" font-size="5.3" text-anchor="middle" fill="#1a1a10" font-weight="normal" class="tk">0.457</text>
<text x="298" y="418.41" font-size="5.3" text-anchor="middle" fill="#1a1a10" font-weight="normal" class="tk">0.483</text>
<text x="316.32" y="418.41" font-size="5.3" text-anchor="middle" fill="#1a1a10" font-weight="normal" class="tk">0.489</text>
<text x="334.66" y="418.41" font-size="5.3" text-anchor="middle" fill="#1a1a10" font-weight="normal" class="tk">0.534</text>
<text x="352.99" y="418.41" font-size="5.3" text-anchor="middle" fill="#1a1a10" font-weight="normal" class="tk">0.538</text>
<text x="371.31" y="418.41" font-size="5.3" text-anchor="middle" fill="#1a1a10" font-weight="normal" class="tk">0.525</text>
<g stroke="#f2f2f2" stroke-width="0.5"><line x1="398.81" y1="315.70" x2="398.81" y2="425.68"/><line x1="380.48" y1="334.03" x2="490.46" y2="334.03"/><line x1="417.14" y1="315.70" x2="417.14" y2="425.68"/><line x1="380.48" y1="352.36" x2="490.46" y2="352.36"/><line x1="435.47" y1="315.70" x2="435.47" y2="425.68"/><line x1="380.48" y1="370.69" x2="490.46" y2="370.69"/><line x1="453.80" y1="315.70" x2="453.80" y2="425.68"/><line x1="380.48" y1="389.02" x2="490.46" y2="389.02"/><line x1="472.13" y1="315.70" x2="472.13" y2="425.68"/><line x1="380.48" y1="407.35" x2="490.46" y2="407.35"/></g>
<use href="#dBR0" transform="translate(380.48 315.70)"/>
<use href="#dBR0" transform="translate(398.81 315.70)"/>
<use href="#dBR0" transform="translate(417.14 315.70)"/>
<use href="#dBR0" transform="translate(435.47 315.70)"/>
<use href="#dBR0" transform="translate(453.80 315.70)"/>
<use href="#dBR0" transform="translate(472.13 315.70)"/>
<use href="#dBR0" transform="translate(380.48 334.03)"/>
<use href="#dBR0" transform="translate(398.81 334.03)"/>
<use href="#dBR0" transform="translate(417.14 334.03)"/>
<use href="#dBR0" transform="translate(435.47 334.03)"/>
<use href="#dBR0" transform="translate(453.80 334.03)"/>
<use href="#dBR0" transform="translate(472.13 334.03)"/>
<use href="#dBR0" transform="translate(380.48 352.36)"/>
<use href="#dBR0" transform="translate(398.81 352.36)"/>
<use href="#dBR0" transform="translate(417.14 352.36)"/>
<use href="#dBR0" transform="translate(435.47 352.36)"/>
<use href="#dBR0" transform="translate(453.80 352.36)"/>
<use href="#dBR0" transform="translate(472.13 352.36)"/>
<use href="#dBR1" transform="translate(380.48 370.69)"/>
<use href="#dBR1" transform="translate(398.81 370.69)"/>
<use href="#dBR1" transform="translate(417.14 370.69)"/>
<use href="#dBR1" transform="translate(435.47 370.69)"/>
<use href="#dBR1" transform="translate(453.80 370.69)"/>
<use href="#dBR1" transform="translate(472.13 370.69)"/>
<use href="#dBR1" transform="translate(380.48 389.02)"/>
<use href="#dBR1" transform="translate(398.81 389.02)"/>
<use href="#dBR1" transform="translate(417.14 389.02)"/>
<use href="#dBR1" transform="translate(435.47 389.02)"/>
<use href="#dBR1" transform="translate(453.80 389.02)"/>
<use href="#dBR1" transform="translate(472.13 389.02)"/>
<use href="#dBR1" transform="translate(380.48 407.35)"/>
<use href="#dBR1" transform="translate(398.81 407.35)"/>
<use href="#dBR1" transform="translate(417.14 407.35)"/>
<use href="#dBR1" transform="translate(435.47 407.35)"/>
<use href="#dBR1" transform="translate(453.80 407.35)"/>
<use href="#dBR1" transform="translate(472.13 407.35)"/>
<g fill="none" stroke="#000" stroke-width="1.4"><rect x="270.50" y="315.70" width="18.33" height="18.33"/><rect x="288.83" y="334.03" width="18.33" height="18.33"/><rect x="307.16" y="352.36" width="18.33" height="18.33"/><rect x="325.49" y="370.69" width="18.33" height="18.33"/><rect x="343.82" y="389.02" width="18.33" height="18.33"/><rect x="362.15" y="407.35" width="18.33" height="18.33"/><rect x="380.48" y="315.70" width="18.33" height="18.33"/><rect x="398.81" y="334.03" width="18.33" height="18.33"/><rect x="417.14" y="352.36" width="18.33" height="18.33"/><rect x="435.47" y="370.69" width="18.33" height="18.33"/><rect x="453.80" y="389.02" width="18.33" height="18.33"/><rect x="472.13" y="407.35" width="18.33" height="18.33"/></g>
<text x="267.9" y="327.17" font-size="6.5" text-anchor="end" fill="#222" font-weight="normal" class="tk">0h</text>
<text x="279.67" y="434.6" font-size="6.4" text-anchor="middle" fill="#222" font-weight="normal" class="tk">0h</text>
<text x="389.65" y="434.6" font-size="6.4" text-anchor="middle" fill="#222" font-weight="normal" class="tk">0h</text>
<text x="267.9" y="345.5" font-size="6.5" text-anchor="end" fill="#222" font-weight="normal" class="tk">12h</text>
<text x="298" y="434.6" font-size="6.4" text-anchor="middle" fill="#222" font-weight="normal" class="tk">12h</text>
<text x="407.98" y="434.6" font-size="6.4" text-anchor="middle" fill="#222" font-weight="normal" class="tk">12h</text>
<text x="267.9" y="363.83" font-size="6.5" text-anchor="end" fill="#222" font-weight="normal" class="tk">24h</text>
<text x="316.32" y="434.6" font-size="6.4" text-anchor="middle" fill="#222" font-weight="normal" class="tk">24h</text>
<text x="426.31" y="434.6" font-size="6.4" text-anchor="middle" fill="#222" font-weight="normal" class="tk">24h</text>
<text x="267.9" y="382.16" font-size="6.5" text-anchor="end" fill="#222" font-weight="normal" class="tk">36h</text>
<text x="334.66" y="434.6" font-size="6.4" text-anchor="middle" fill="#222" font-weight="normal" class="tk">36h</text>
<text x="444.64" y="434.6" font-size="6.4" text-anchor="middle" fill="#222" font-weight="normal" class="tk">36h</text>
<text x="267.9" y="400.49" font-size="6.5" text-anchor="end" fill="#222" font-weight="normal" class="tk">48h</text>
<text x="352.99" y="434.6" font-size="6.4" text-anchor="middle" fill="#222" font-weight="normal" class="tk">48h</text>
<text x="462.97" y="434.6" font-size="6.4" text-anchor="middle" fill="#222" font-weight="normal" class="tk">48h</text>
<text x="267.9" y="418.81" font-size="6.5" text-anchor="end" fill="#222" font-weight="normal" class="tk">72h</text>
<text x="371.31" y="434.6" font-size="6.4" text-anchor="middle" fill="#222" font-weight="normal" class="tk">72h</text>
<text x="481.3" y="434.6" font-size="6.4" text-anchor="middle" fill="#222" font-weight="normal" class="tk">72h</text>
<g fill="none" stroke="#1a1a1a" stroke-width="1.2">
<line x1="18.6" y1="196.3" x2="491.1" y2="196.3"/>
<line x1="490.5" y1="196.3" x2="490.5" y2="437.4"/>
<line x1="18.6" y1="437.4" x2="491.1" y2="437.4"/>
<line x1="19" y1="315.8" x2="490.5" y2="315.8" stroke="#000" stroke-width="1.3"/>
<line x1="255.1" y1="196.3" x2="255.1" y2="437.4" stroke="#111"/>
<line x1="19.2" y1="196.3" x2="19.2" y2="437.4" stroke="#484848"/>
</g>
<text transform="translate(14.3 250.6) rotate(-90)" x="0" y="0" font-size="6.6" text-anchor="middle" fill="#222" textLength="16.1" lengthAdjust="spacingAndGlyphs" class="ti">mRNA</text>
<text transform="translate(14.4 370.5) rotate(-90)" x="0" y="0" font-size="8.4" text-anchor="middle" fill="#222" textLength="52.9" lengthAdjust="spacingAndGlyphs" class="ti">TE- corrected mRNA</text>
<text x="135" y="448" font-size="8.7" text-anchor="start" fill="#222" font-weight="normal" textLength="18.1" lengthAdjust="spacingAndGlyphs" class="ti">Protein</text>
<text x="346.9" y="447.6" font-size="8.3" text-anchor="start" fill="#222" font-weight="normal" textLength="66.2" lengthAdjust="spacingAndGlyphs" class="ti">Half-life-corrected protein</text>
<defs><radialGradient id="bluegrad" cx="0.46" cy="0.45" r="0.54"><stop offset="0" stop-color="#48faff"/><stop offset="0.22" stop-color="#22c8ff"/><stop offset="0.5" stop-color="#0a78ff"/><stop offset="0.8" stop-color="#0838f0"/><stop offset="0.95" stop-color="#2a14c0"/><stop offset="1" stop-color="#6010a0"/></radialGradient></defs>
<ellipse cx="78.2" cy="572.6" rx="12.4" ry="8.5" fill="#e41418"/>
<g fill="#7eee3b"><rect x="123.9" y="568.4" width="1.4" height="1.4"/><rect x="37.2" y="587.5" width="1.4" height="1.4"/><rect x="115.6" y="583.1" width="1.4" height="1.4"/><rect x="90.2" y="532.9" width="1.4" height="1.4"/><rect x="86.4" y="609.0" width="1.4" height="1.4"/><rect x="49.5" y="601.3" width="1.4" height="1.4"/></g>
<g fill="#7fee3b"><rect x="47.6" y="593.5" width="1.4" height="1.4"/><rect x="98.3" y="548.0" width="1.4" height="1.4"/><rect x="81.4" y="539.4" width="1.4" height="1.4"/><rect x="74.7" y="541.7" width="1.4" height="1.4"/><rect x="42.3" y="556.5" width="1.4" height="1.4"/><rect x="78.1" y="537.9" width="1.4" height="1.4"/><rect x="115.5" y="557.3" width="1.4" height="1.4"/><rect x="112.5" y="558.8" width="1.4" height="1.4"/><rect x="45.6" y="545.3" width="1.4" height="1.4"/><rect x="47.5" y="541.4" width="1.4" height="1.4"/><rect x="66.5" y="610.2" width="1.4" height="1.4"/><rect x="46.7" y="556.2" width="1.4" height="1.4"/><rect x="111.1" y="571.2" width="1.4" height="1.4"/><rect x="98.4" y="598.4" width="1.4" height="1.4"/><rect x="45.9" y="563.2" width="1.4" height="1.4"/><rect x="102.1" y="580.0" width="1.4" height="1.4"/></g>
<g fill="#80ee3b"><rect x="43.7" y="560.4" width="1.4" height="1.4"/><rect x="50.0" y="553.4" width="1.4" height="1.4"/><rect x="47.7" y="568.4" width="1.4" height="1.4"/><rect x="88.7" y="548.9" width="1.4" height="1.4"/><rect x="95.4" y="597.5" width="1.4" height="1.4"/><rect x="43.6" y="575.3" width="1.4" height="1.4"/><rect x="100.3" y="554.1" width="1.4" height="1.4"/><rect x="55.2" y="597.5" width="1.4" height="1.4"/><rect x="106.8" y="569.1" width="1.4" height="1.4"/><rect x="100.7" y="586.8" width="1.4" height="1.4"/><rect x="96.8" y="552.0" width="1.4" height="1.4"/><rect x="57.0" y="544.6" width="1.4" height="1.4"/><rect x="85.6" y="600.5" width="1.4" height="1.4"/></g>
<g fill="#81ee3b"><rect x="72.3" y="548.0" width="1.4" height="1.4"/><rect x="58.1" y="550.9" width="1.4" height="1.4"/><rect x="106.8" y="577.3" width="1.4" height="1.4"/><rect x="82.0" y="600.5" width="1.4" height="1.4"/><rect x="62.5" y="603.6" width="1.4" height="1.4"/><rect x="59.4" y="545.1" width="1.4" height="1.4"/><rect x="53.9" y="554.3" width="1.4" height="1.4"/><rect x="78.3" y="544.6" width="1.4" height="1.4"/><rect x="53.0" y="592.3" width="1.4" height="1.4"/><rect x="46.2" y="578.8" width="1.4" height="1.4"/><rect x="44.6" y="577.3" width="1.4" height="1.4"/><rect x="107.7" y="573.2" width="1.4" height="1.4"/><rect x="52.9" y="558.9" width="1.4" height="1.4"/><rect x="58.5" y="545.7" width="1.4" height="1.4"/><rect x="97.1" y="590.4" width="1.4" height="1.4"/><rect x="53.6" y="552.0" width="1.4" height="1.4"/></g>
<g fill="#82ee3a"><rect x="55.7" y="550.7" width="1.4" height="1.4"/><rect x="66.8" y="552.1" width="1.4" height="1.4"/><rect x="66.4" y="606.2" width="1.4" height="1.4"/><rect x="66.9" y="549.3" width="1.4" height="1.4"/><rect x="73.5" y="603.8" width="1.4" height="1.4"/><rect x="47.9" y="574.6" width="1.4" height="1.4"/><rect x="97.6" y="594.0" width="1.4" height="1.4"/><rect x="49.2" y="572.3" width="1.4" height="1.4"/><rect x="74.7" y="601.4" width="1.4" height="1.4"/><rect x="97.4" y="592.6" width="1.4" height="1.4"/><rect x="67.9" y="548.5" width="1.4" height="1.4"/><rect x="100.2" y="585.0" width="1.4" height="1.4"/><rect x="53.5" y="560.0" width="1.4" height="1.4"/><rect x="61.2" y="600.5" width="1.4" height="1.4"/><rect x="74.2" y="549.8" width="1.4" height="1.4"/><rect x="48.5" y="582.1" width="1.4" height="1.4"/><rect x="67.6" y="605.0" width="1.4" height="1.4"/></g>
<g fill="#83ee3a"><rect x="70.2" y="551.3" width="1.4" height="1.4"/><rect x="85.0" y="551.2" width="1.4" height="1.4"/><rect x="49.8" y="576.9" width="1.4" height="1.4"/><rect x="78.6" y="547.3" width="1.4" height="1.4"/><rect x="52.4" y="561.7" width="1.4" height="1.4"/><rect x="84.8" y="598.7" width="1.4" height="1.4"/><rect x="98.6" y="556.2" width="1.4" height="1.4"/></g>
<g fill="#84ee3a"><rect x="90.6" y="552.2" width="1.4" height="1.4"/><rect x="80.7" y="548.8" width="1.4" height="1.4"/><rect x="78.6" y="547.8" width="1.4" height="1.4"/><rect x="78.4" y="598.4" width="1.4" height="1.4"/><rect x="48.9" y="584.5" width="1.4" height="1.4"/><rect x="50.4" y="570.7" width="1.4" height="1.4"/><rect x="71.9" y="603.2" width="1.4" height="1.4"/><rect x="103.4" y="564.7" width="1.4" height="1.4"/></g>
<g fill="#85ee3a"><rect x="62.3" y="556.2" width="1.4" height="1.4"/><rect x="99.6" y="558.5" width="1.4" height="1.4"/><rect x="99.8" y="560.3" width="1.4" height="1.4"/><rect x="93.4" y="592.4" width="1.4" height="1.4"/><rect x="96.8" y="584.8" width="1.4" height="1.4"/><rect x="54.4" y="592.0" width="1.4" height="1.4"/><rect x="59.8" y="555.7" width="1.4" height="1.4"/><rect x="59.6" y="555.9" width="1.4" height="1.4"/><rect x="50.3" y="587.1" width="1.4" height="1.4"/><rect x="98.3" y="583.4" width="1.4" height="1.4"/><rect x="70.5" y="602.2" width="1.4" height="1.4"/><rect x="105.1" y="574.5" width="1.4" height="1.4"/></g>
<g fill="#86ee3a"><rect x="88.8" y="552.7" width="1.4" height="1.4"/><rect x="58.3" y="596.1" width="1.4" height="1.4"/><rect x="59.1" y="596.8" width="1.4" height="1.4"/><rect x="58.9" y="597.0" width="1.4" height="1.4"/><rect x="59.2" y="558.7" width="1.4" height="1.4"/><rect x="84.2" y="596.5" width="1.4" height="1.4"/><rect x="54.2" y="563.7" width="1.4" height="1.4"/><rect x="76.5" y="551.0" width="1.4" height="1.4"/><rect x="104.9" y="573.7" width="1.4" height="1.4"/><rect x="70.1" y="600.6" width="1.4" height="1.4"/><rect x="72.7" y="599.3" width="1.4" height="1.4"/><rect x="66.5" y="601.9" width="1.4" height="1.4"/><rect x="65.6" y="601.5" width="1.4" height="1.4"/><rect x="56.9" y="563.6" width="1.4" height="1.4"/><rect x="69.7" y="600.0" width="1.4" height="1.4"/><rect x="92.9" y="592.7" width="1.4" height="1.4"/><rect x="91.9" y="595.1" width="1.4" height="1.4"/></g>
<g fill="#87ee39"><rect x="50.6" y="582.2" width="1.4" height="1.4"/><rect x="65.0" y="557.1" width="1.4" height="1.4"/><rect x="53.2" y="566.6" width="1.4" height="1.4"/><rect x="92.7" y="586.7" width="1.4" height="1.4"/><rect x="77.2" y="597.4" width="1.4" height="1.4"/><rect x="53.5" y="564.5" width="1.4" height="1.4"/><rect x="80.5" y="597.1" width="1.4" height="1.4"/><rect x="51.1" y="586.7" width="1.4" height="1.4"/><rect x="102.9" y="574.7" width="1.4" height="1.4"/><rect x="65.4" y="556.9" width="1.4" height="1.4"/></g>
<g fill="#88ee39"><rect x="59.5" y="558.7" width="1.4" height="1.4"/><rect x="72.3" y="552.7" width="1.4" height="1.4"/><rect x="69.6" y="554.6" width="1.4" height="1.4"/><rect x="84.8" y="595.7" width="1.4" height="1.4"/><rect x="54.1" y="566.2" width="1.4" height="1.4"/><rect x="60.5" y="558.1" width="1.4" height="1.4"/><rect x="92.1" y="592.5" width="1.4" height="1.4"/><rect x="51.2" y="585.6" width="1.4" height="1.4"/><rect x="101.3" y="574.3" width="1.4" height="1.4"/><rect x="61.2" y="559.1" width="1.4" height="1.4"/><rect x="97.6" y="558.7" width="1.4" height="1.4"/></g>
<g fill="#89ee39"><rect x="92.5" y="554.0" width="1.4" height="1.4"/><rect x="92.9" y="553.4" width="1.4" height="1.4"/><rect x="66.7" y="556.3" width="1.4" height="1.4"/><rect x="60.9" y="561.3" width="1.4" height="1.4"/><rect x="102.9" y="571.9" width="1.4" height="1.4"/><rect x="97.4" y="559.4" width="1.4" height="1.4"/><rect x="52.5" y="569.5" width="1.4" height="1.4"/><rect x="90.0" y="594.9" width="1.4" height="1.4"/><rect x="62.5" y="598.8" width="1.4" height="1.4"/><rect x="102.4" y="572.9" width="1.4" height="1.4"/></g>
<g fill="#8aee39"><rect x="103.0" y="568.5" width="1.4" height="1.4"/><rect x="54.2" y="567.9" width="1.4" height="1.4"/><rect x="62.3" y="597.5" width="1.4" height="1.4"/><rect x="52.7" y="587.9" width="1.4" height="1.4"/><rect x="59.8" y="594.5" width="1.4" height="1.4"/><rect x="55.0" y="590.2" width="1.4" height="1.4"/></g>
<g fill="#8bee39"><rect x="65.0" y="599.6" width="1.4" height="1.4"/><rect x="86.3" y="594.8" width="1.4" height="1.4"/><rect x="90.2" y="593.7" width="1.4" height="1.4"/><rect x="90.0" y="593.2" width="1.4" height="1.4"/><rect x="90.4" y="587.9" width="1.4" height="1.4"/><rect x="90.3" y="587.4" width="1.4" height="1.4"/><rect x="96.5" y="581.5" width="1.4" height="1.4"/><rect x="99.8" y="574.9" width="1.4" height="1.4"/><rect x="79.1" y="551.8" width="1.4" height="1.4"/><rect x="93.2" y="555.0" width="1.4" height="1.4"/></g>
<g fill="#8cee38"><rect x="64.1" y="598.8" width="1.4" height="1.4"/><rect x="79.6" y="596.0" width="1.4" height="1.4"/><rect x="79.9" y="551.8" width="1.4" height="1.4"/><rect x="101.8" y="564.6" width="1.4" height="1.4"/><rect x="88.8" y="594.1" width="1.4" height="1.4"/><rect x="71.9" y="555.2" width="1.4" height="1.4"/><rect x="85.8" y="594.1" width="1.4" height="1.4"/></g>
<g fill="#8dee38"><rect x="87.0" y="594.1" width="1.4" height="1.4"/><rect x="86.6" y="594.3" width="1.4" height="1.4"/><rect x="95.6" y="557.7" width="1.4" height="1.4"/><rect x="65.7" y="598.8" width="1.4" height="1.4"/><rect x="88.2" y="555.2" width="1.4" height="1.4"/><rect x="88.2" y="590.5" width="1.4" height="1.4"/></g>
<g fill="#8eee38"><rect x="81.6" y="552.5" width="1.4" height="1.4"/><rect x="93.5" y="555.4" width="1.4" height="1.4"/><rect x="52.5" y="583.7" width="1.4" height="1.4"/><rect x="84.3" y="553.8" width="1.4" height="1.4"/><rect x="73.2" y="554.6" width="1.4" height="1.4"/><rect x="59.3" y="592.4" width="1.4" height="1.4"/><rect x="58.1" y="565.6" width="1.4" height="1.4"/><rect x="94.9" y="556.8" width="1.4" height="1.4"/><rect x="69.8" y="556.7" width="1.4" height="1.4"/><rect x="52.7" y="578.2" width="1.4" height="1.4"/></g>
<g fill="#8fee38"><rect x="80.4" y="553.2" width="1.4" height="1.4"/><rect x="88.1" y="589.6" width="1.4" height="1.4"/><rect x="101.9" y="567.7" width="1.4" height="1.4"/><rect x="100.5" y="564.8" width="1.4" height="1.4"/><rect x="55.5" y="567.7" width="1.4" height="1.4"/></g>
<g fill="#90ee38"><rect x="98.9" y="563.5" width="1.4" height="1.4"/><rect x="90.8" y="556.5" width="1.4" height="1.4"/><rect x="79.4" y="594.9" width="1.4" height="1.4"/><rect x="82.6" y="554.2" width="1.4" height="1.4"/><rect x="66.4" y="558.6" width="1.4" height="1.4"/><rect x="65.8" y="597.6" width="1.4" height="1.4"/><rect x="65.6" y="597.6" width="1.4" height="1.4"/><rect x="53.3" y="586.6" width="1.4" height="1.4"/><rect x="54.0" y="571.9" width="1.4" height="1.4"/></g>
<g fill="#91ee37"><rect x="94.0" y="556.7" width="1.4" height="1.4"/><rect x="93.9" y="557.0" width="1.4" height="1.4"/><rect x="76.0" y="596.3" width="1.4" height="1.4"/><rect x="100.5" y="569.3" width="1.4" height="1.4"/><rect x="81.4" y="553.9" width="1.4" height="1.4"/><rect x="84.5" y="554.6" width="1.4" height="1.4"/><rect x="53.5" y="574.4" width="1.4" height="1.4"/><rect x="56.4" y="589.9" width="1.4" height="1.4"/></g>
<g fill="#92ee37"><rect x="72.5" y="555.9" width="1.4" height="1.4"/><rect x="100.1" y="573.1" width="1.4" height="1.4"/><rect x="59.9" y="565.1" width="1.4" height="1.4"/><rect x="80.5" y="553.4" width="1.4" height="1.4"/><rect x="59.3" y="565.6" width="1.4" height="1.4"/></g>
<g fill="#93ee37"><rect x="53.9" y="583.3" width="1.4" height="1.4"/><rect x="100.7" y="566.0" width="1.4" height="1.4"/><rect x="84.6" y="591.7" width="1.4" height="1.4"/><rect x="98.4" y="573.9" width="1.4" height="1.4"/><rect x="88.3" y="556.5" width="1.4" height="1.4"/><rect x="77.4" y="594.9" width="1.4" height="1.4"/><rect x="74.7" y="554.9" width="1.4" height="1.4"/></g>
<g fill="#94ee37"><rect x="93.3" y="557.8" width="1.4" height="1.4"/><rect x="73.9" y="596.1" width="1.4" height="1.4"/><rect x="74.1" y="595.8" width="1.4" height="1.4"/><rect x="95.6" y="580.3" width="1.4" height="1.4"/><rect x="101.3" y="567.3" width="1.4" height="1.4"/><rect x="101.2" y="566.9" width="1.4" height="1.4"/><rect x="86.3" y="555.8" width="1.4" height="1.4"/><rect x="86.8" y="555.6" width="1.4" height="1.4"/></g>
<g fill="#95ee37"><rect x="54.4" y="586.9" width="1.4" height="1.4"/><rect x="55.0" y="586.3" width="1.4" height="1.4"/><rect x="94.5" y="559.4" width="1.4" height="1.4"/><rect x="54.1" y="577.7" width="1.4" height="1.4"/><rect x="53.5" y="578.0" width="1.4" height="1.4"/><rect x="53.6" y="581.0" width="1.4" height="1.4"/><rect x="53.4" y="581.0" width="1.4" height="1.4"/><rect x="70.6" y="595.4" width="1.4" height="1.4"/><rect x="70.7" y="595.5" width="1.4" height="1.4"/><rect x="81.7" y="592.9" width="1.4" height="1.4"/></g>
<g fill="#97ee36"><rect x="55.1" y="570.6" width="1.4" height="1.4"/><rect x="100.2" y="569.5" width="1.4" height="1.4"/></g>
<g fill="#99ee36"><rect x="54.1" y="578.4" width="1.4" height="1.4"/></g>
<g fill="#9cee36"><rect x="76.3" y="554.7" width="1.4" height="1.4"/><rect x="75.9" y="555.0" width="1.4" height="1.4"/><rect x="86.4" y="589.0" width="1.4" height="1.4"/></g>
<g fill="#9eee36"><rect x="67.1" y="560.2" width="1.4" height="1.4"/></g>
<g fill="#a2ee36"><rect x="60.4" y="592.5" width="1.4" height="1.4"/></g>
<g fill="#a3ee36"><rect x="57.1" y="589.0" width="1.4" height="1.4"/></g>
<g fill="#a4ee36"><rect x="88.9" y="586.4" width="1.4" height="1.4"/></g>
<g fill="#a5ee36"><rect x="87.3" y="556.9" width="1.4" height="1.4"/></g>
<g fill="#a9ee36"><rect x="66.1" y="595.9" width="1.4" height="1.4"/><rect x="66.1" y="596.2" width="1.4" height="1.4"/><rect x="65.5" y="595.4" width="1.4" height="1.4"/><rect x="65.4" y="595.8" width="1.4" height="1.4"/></g>
<g fill="#aaee36"><rect x="93.5" y="582.8" width="1.4" height="1.4"/></g>
<g fill="#adee35"><rect x="85.2" y="590.6" width="1.4" height="1.4"/><rect x="60.4" y="564.4" width="1.4" height="1.4"/></g>
<g fill="#aeee35"><rect x="88.5" y="558.1" width="1.4" height="1.4"/><rect x="55.1" y="585.2" width="1.4" height="1.4"/><rect x="89.5" y="585.4" width="1.4" height="1.4"/><rect x="78.8" y="593.4" width="1.4" height="1.4"/><rect x="79.0" y="594.1" width="1.4" height="1.4"/><rect x="93.0" y="558.4" width="1.4" height="1.4"/><rect x="92.6" y="559.3" width="1.4" height="1.4"/></g>
<g fill="#afee35"><rect x="95.3" y="582.0" width="1.4" height="1.4"/><rect x="94.4" y="581.5" width="1.4" height="1.4"/></g>
<g fill="#b1ee35"><rect x="71.0" y="558.2" width="1.4" height="1.4"/></g>
<g fill="#b2ee35"><rect x="60.2" y="591.4" width="1.4" height="1.4"/></g>
<g fill="#b4ee35"><rect x="98.1" y="564.4" width="1.4" height="1.4"/><rect x="76.6" y="554.5" width="1.4" height="1.4"/><rect x="76.8" y="554.8" width="1.4" height="1.4"/><rect x="99.4" y="566.3" width="1.4" height="1.4"/><rect x="99.5" y="566.4" width="1.4" height="1.4"/><rect x="78.9" y="554.3" width="1.4" height="1.4"/><rect x="78.4" y="555.2" width="1.4" height="1.4"/></g>
<g fill="#bbee35"><rect x="62.5" y="562.8" width="1.2" height="1.2"/></g>
<g fill="#bcee35"><rect x="77.4" y="554.7" width="1.2" height="1.2"/></g>
<g fill="#bdee35"><rect x="64.3" y="562.1" width="1.2" height="1.2"/><rect x="63.6" y="562.3" width="1.2" height="1.2"/></g>
<g fill="#bfee35"><rect x="83.2" y="555.5" width="1.2" height="1.2"/></g>
<g fill="#c1ee34"><rect x="99.0" y="566.1" width="1.2" height="1.2"/></g>
<g fill="#c2ee34"><rect x="96.0" y="562.9" width="1.2" height="1.2"/></g>
<g fill="#c4ee34"><rect x="81.0" y="593.0" width="1.2" height="1.2"/><rect x="74.7" y="595.4" width="1.2" height="1.2"/></g>
<g fill="#c7ee34"><rect x="98.7" y="571.7" width="1.2" height="1.2"/><rect x="98.8" y="571.6" width="1.2" height="1.2"/><rect x="93.5" y="559.5" width="1.2" height="1.2"/></g>
<g fill="#c9ee34"><rect x="91.8" y="583.7" width="1.2" height="1.2"/></g>
<g fill="#ccef34"><rect x="54.9" y="573.5" width="1.2" height="1.2"/></g>
<g fill="#d1ef34"><rect x="86.9" y="556.9" width="1.2" height="1.2"/><rect x="56.0" y="586.7" width="1.2" height="1.2"/></g>
<g fill="#d2ef34"><rect x="86.5" y="587.9" width="1.2" height="1.2"/></g>
<g fill="#d4ef34"><rect x="54.8" y="581.8" width="1.2" height="1.2"/><rect x="54.5" y="582.0" width="1.2" height="1.2"/></g>
<g fill="#d8ef33"><rect x="99.2" y="571.0" width="1.2" height="1.2"/></g>
<g fill="#d9ef33"><rect x="95.8" y="579.4" width="1.2" height="1.2"/></g>
<g fill="#e1ef33"><rect x="99.0" y="566.9" width="1.2" height="1.2"/></g>
<g fill="#e2ef33"><rect x="66.1" y="594.6" width="1.2" height="1.2"/></g>
<g fill="#e4ef33"><rect x="76.8" y="594.2" width="1.2" height="1.2"/></g>
<g fill="#e9ef33"><rect x="83.9" y="591.2" width="1.2" height="1.2"/><rect x="97.1" y="574.7" width="1.2" height="1.2"/></g>
<g fill="#eaef32"><rect x="56.7" y="588.1" width="1.2" height="1.2"/></g>
<g fill="#ebef32"><rect x="98.6" y="567.8" width="1.2" height="1.2"/></g>
<g fill="#eeef32"><rect x="88.5" y="586.2" width="1.2" height="1.2"/><rect x="55.2" y="576.8" width="1.2" height="1.2"/></g>
<g fill="#f0ef32"><rect x="74.8" y="556.7" width="1.2" height="1.2"/><rect x="70.2" y="558.8" width="1.2" height="1.2"/><rect x="55.2" y="579.5" width="1.2" height="1.2"/></g>
<g fill="#f1ef32"><rect x="96.5" y="565.2" width="1.2" height="1.2"/></g>
<g fill="#f3ef32"><rect x="78.9" y="555.8" width="1.2" height="1.2"/></g>
<g fill="#f4ef32"><rect x="92.5" y="583.1" width="1.2" height="1.2"/></g>
<g fill="#f5ef32"><rect x="63.2" y="592.8" width="1.2" height="1.2"/><rect x="63.2" y="593.1" width="1.2" height="1.2"/><rect x="67.2" y="595.3" width="1.2" height="1.2"/></g>
<g fill="#fcef32"><rect x="90.0" y="584.7" width="1.2" height="1.2"/><rect x="60.1" y="590.6" width="1.2" height="1.2"/><rect x="60.3" y="591.1" width="1.2" height="1.2"/></g>
<g fill="#fdef32"><rect x="77.8" y="556.4" width="1.2" height="1.2"/><rect x="60.0" y="566.6" width="1.2" height="1.2"/></g>
<g fill="#ffef31"><rect x="56.2" y="571.0" width="1.2" height="1.2"/><rect x="72.6" y="557.8" width="1.2" height="1.2"/><rect x="95.7" y="564.3" width="1.2" height="1.2"/><rect x="75.6" y="594.3" width="1.2" height="1.2"/><rect x="71.9" y="595.1" width="1.2" height="1.2"/><rect x="71.6" y="594.6" width="1.2" height="1.2"/><rect x="62.0" y="564.7" width="1.2" height="1.2"/></g>
<g fill="#ffee31"><rect x="85.1" y="556.8" width="1.2" height="1.2"/><rect x="91.3" y="583.6" width="1.2" height="1.2"/><rect x="86.0" y="588.0" width="1.2" height="1.2"/></g>
<g fill="#ffed31"><rect x="64.9" y="561.6" width="1.2" height="1.2"/><rect x="65.0" y="562.1" width="1.2" height="1.2"/><rect x="55.5" y="583.3" width="1.2" height="1.2"/><rect x="86.4" y="587.2" width="1.2" height="1.2"/><rect x="58.3" y="569.0" width="1.2" height="1.2"/><rect x="57.8" y="568.7" width="1.2" height="1.2"/><rect x="75.8" y="556.9" width="1.2" height="1.2"/><rect x="76.1" y="557.2" width="1.2" height="1.2"/></g>
<g fill="#ffec31"><rect x="97.6" y="572.3" width="1.2" height="1.2"/><rect x="55.7" y="582.3" width="1.2" height="1.2"/><rect x="65.9" y="593.6" width="1.2" height="1.2"/><rect x="84.5" y="588.5" width="1.2" height="1.2"/><rect x="87.0" y="557.8" width="1.2" height="1.2"/></g>
<g fill="#ffeb31"><rect x="95.9" y="576.6" width="1.2" height="1.2"/><rect x="55.7" y="572.3" width="1.2" height="1.2"/><rect x="56.1" y="571.7" width="1.2" height="1.2"/></g>
<g fill="#ffea30"><rect x="83.8" y="589.8" width="1.2" height="1.2"/></g>
<g fill="#ffe930"><rect x="93.0" y="560.7" width="1.2" height="1.2"/><rect x="93.1" y="560.4" width="1.2" height="1.2"/><rect x="67.2" y="594.1" width="1.2" height="1.2"/><rect x="65.1" y="592.6" width="1.2" height="1.2"/><rect x="87.9" y="558.6" width="1.2" height="1.2"/><rect x="61.0" y="590.4" width="1.2" height="1.2"/><rect x="78.5" y="556.6" width="1.2" height="1.2"/></g>
<g fill="#ffe830"><rect x="94.3" y="561.5" width="1.2" height="1.2"/><rect x="55.6" y="579.6" width="1.2" height="1.2"/><rect x="62.8" y="591.9" width="1.2" height="1.2"/><rect x="62.7" y="592.2" width="1.2" height="1.2"/><rect x="63.1" y="591.8" width="1.2" height="1.2"/><rect x="63.3" y="591.8" width="1.2" height="1.2"/></g>
<g fill="#ffe730"><rect x="67.8" y="593.8" width="1.2" height="1.2"/><rect x="56.0" y="573.6" width="1.2" height="1.2"/><rect x="89.7" y="584.2" width="1.2" height="1.2"/><rect x="96.6" y="572.7" width="1.2" height="1.2"/></g>
<g fill="#ffe630"><rect x="68.7" y="594.3" width="1.2" height="1.2"/><rect x="85.3" y="587.4" width="1.2" height="1.2"/><rect x="62.0" y="566.3" width="1.2" height="1.2"/><rect x="61.9" y="565.7" width="1.2" height="1.2"/><rect x="61.9" y="565.7" width="1.2" height="1.2"/><rect x="97.2" y="567.3" width="1.2" height="1.2"/><rect x="96.8" y="567.0" width="1.2" height="1.2"/><rect x="57.3" y="585.1" width="1.2" height="1.2"/><rect x="73.2" y="593.5" width="1.2" height="1.2"/><rect x="92.0" y="560.8" width="1.2" height="1.2"/></g>
<g fill="#ffe52f"><rect x="72.4" y="558.6" width="1.2" height="1.2"/><rect x="95.3" y="563.9" width="1.2" height="1.2"/><rect x="58.4" y="569.0" width="1.2" height="1.2"/><rect x="57.1" y="582.9" width="1.2" height="1.2"/><rect x="69.5" y="593.9" width="1.2" height="1.2"/><rect x="56.4" y="577.6" width="1.2" height="1.2"/><rect x="56.9" y="570.7" width="1.2" height="1.2"/><rect x="86.9" y="585.6" width="1.2" height="1.2"/><rect x="76.0" y="592.8" width="1.2" height="1.2"/><rect x="55.9" y="577.3" width="1.2" height="1.2"/></g>
<g fill="#ffe42f"><rect x="63.7" y="591.4" width="1.2" height="1.2"/><rect x="70.7" y="593.9" width="1.2" height="1.2"/><rect x="79.4" y="591.7" width="1.2" height="1.2"/><rect x="81.5" y="590.6" width="1.2" height="1.2"/></g>
<g fill="#ffe32f"><rect x="84.5" y="558.3" width="1.2" height="1.2"/><rect x="62.0" y="590.7" width="1.2" height="1.2"/><rect x="70.2" y="559.6" width="1.2" height="1.2"/><rect x="69.6" y="559.6" width="1.2" height="1.2"/><rect x="90.8" y="561.0" width="1.2" height="1.2"/></g>
<g fill="#ffe22f"><rect x="58.1" y="587.1" width="1.2" height="1.2"/><rect x="58.1" y="587.1" width="1.2" height="1.2"/><rect x="96.2" y="565.7" width="1.2" height="1.2"/><rect x="56.7" y="580.9" width="1.2" height="1.2"/><rect x="96.9" y="571.5" width="1.2" height="1.2"/><rect x="96.8" y="571.9" width="1.2" height="1.2"/><rect x="87.6" y="585.2" width="1.2" height="1.2"/><rect x="83.0" y="590.2" width="1.2" height="1.2"/><rect x="82.5" y="590.2" width="1.2" height="1.2"/></g>
<g fill="#ffe12f"><rect x="75.0" y="593.2" width="1.2" height="1.2"/><rect x="94.3" y="563.2" width="1.2" height="1.2"/><rect x="93.5" y="562.4" width="1.2" height="1.2"/><rect x="86.6" y="558.6" width="1.2" height="1.2"/><rect x="63.7" y="563.7" width="1.2" height="1.2"/><rect x="83.7" y="557.5" width="1.2" height="1.2"/></g>
<g fill="#ffe02e"><rect x="92.6" y="561.7" width="1.2" height="1.2"/><rect x="96.4" y="573.9" width="1.2" height="1.2"/><rect x="67.0" y="593.3" width="1.2" height="1.2"/><rect x="60.8" y="589.6" width="1.2" height="1.2"/><rect x="61.1" y="589.8" width="1.2" height="1.2"/><rect x="64.9" y="563.0" width="1.2" height="1.2"/><rect x="82.8" y="558.1" width="1.2" height="1.2"/><rect x="83.1" y="557.9" width="1.2" height="1.2"/></g>
<g fill="#ffdf2e"><rect x="96.8" y="569.1" width="1.2" height="1.2"/><rect x="96.6" y="568.9" width="1.2" height="1.2"/><rect x="60.1" y="589.3" width="1.2" height="1.2"/><rect x="59.4" y="588.4" width="1.2" height="1.2"/><rect x="76.5" y="557.6" width="1.2" height="1.2"/><rect x="82.0" y="557.8" width="1.2" height="1.2"/><rect x="82.2" y="558.1" width="1.2" height="1.2"/><rect x="94.6" y="578.0" width="1.2" height="1.2"/><rect x="95.3" y="578.0" width="1.2" height="1.2"/><rect x="95.0" y="577.4" width="1.2" height="1.2"/></g>
<g fill="#ffde2e"><rect x="73.8" y="592.9" width="1.2" height="1.2"/><rect x="57.6" y="586.0" width="1.2" height="1.2"/><rect x="57.9" y="586.3" width="1.2" height="1.2"/></g>
<g fill="#ffdd2e"><rect x="68.1" y="592.6" width="1.2" height="1.2"/><rect x="84.2" y="587.5" width="1.2" height="1.2"/><rect x="83.9" y="587.6" width="1.2" height="1.2"/></g>
<g fill="#ffdc2e"><rect x="73.7" y="558.7" width="1.2" height="1.2"/><rect x="80.5" y="590.5" width="1.2" height="1.2"/></g>
<g fill="#ffdb2d"><rect x="61.9" y="566.6" width="1.2" height="1.2"/><rect x="58.2" y="582.3" width="1.2" height="1.2"/><rect x="57.4" y="585.3" width="1.2" height="1.2"/><rect x="95.7" y="573.1" width="1.2" height="1.2"/><rect x="58.0" y="584.4" width="1.2" height="1.2"/><rect x="57.4" y="584.2" width="1.2" height="1.2"/><rect x="57.4" y="573.0" width="1.2" height="1.2"/><rect x="69.2" y="561.1" width="1.2" height="1.2"/><rect x="69.2" y="593.3" width="1.2" height="1.2"/><rect x="67.0" y="562.4" width="1.2" height="1.2"/></g>
<g fill="#ffda2d"><rect x="72.9" y="593.3" width="1.2" height="1.2"/><rect x="72.6" y="593.2" width="1.2" height="1.2"/><rect x="94.5" y="577.1" width="1.2" height="1.2"/><rect x="70.7" y="559.8" width="1.2" height="1.2"/><rect x="57.8" y="570.9" width="1.2" height="1.2"/><rect x="76.9" y="591.6" width="1.2" height="1.2"/><rect x="77.3" y="592.1" width="1.2" height="1.2"/><rect x="59.0" y="569.9" width="1.2" height="1.2"/><rect x="86.8" y="584.7" width="1.2" height="1.2"/></g>
<g fill="#ffd92d"><rect x="82.4" y="588.9" width="1.2" height="1.2"/><rect x="83.2" y="588.7" width="1.2" height="1.2"/><rect x="57.8" y="581.1" width="1.2" height="1.2"/><rect x="58.0" y="581.2" width="1.2" height="1.2"/><rect x="69.6" y="592.8" width="1.2" height="1.2"/><rect x="69.5" y="593.2" width="1.2" height="1.2"/><rect x="71.6" y="592.4" width="1.2" height="1.2"/><rect x="71.6" y="592.6" width="1.2" height="1.2"/><rect x="72.2" y="592.6" width="1.2" height="1.2"/><rect x="92.7" y="580.4" width="1.2" height="1.2"/><rect x="92.9" y="580.5" width="1.2" height="1.2"/><rect x="93.1" y="581.2" width="1.2" height="1.2"/></g>
<g fill="#ffd82d"><rect x="59.1" y="586.8" width="1.2" height="1.2"/><rect x="82.2" y="590.2" width="1.2" height="1.2"/></g>
<g fill="#ffd72d"><rect x="94.5" y="565.8" width="1.2" height="1.2"/><rect x="95.2" y="575.7" width="1.2" height="1.2"/><rect x="95.3" y="575.5" width="1.2" height="1.2"/><rect x="95.9" y="568.3" width="1.2" height="1.2"/><rect x="92.7" y="563.1" width="1.2" height="1.2"/><rect x="93.3" y="563.4" width="1.2" height="1.2"/></g>
<g fill="#ffd62c"><rect x="56.6" y="574.7" width="1.2" height="1.2"/><rect x="57.1" y="575.3" width="1.2" height="1.2"/><rect x="88.2" y="583.5" width="1.2" height="1.2"/><rect x="96.1" y="572.2" width="1.2" height="1.2"/></g>
<g fill="#ffd52c"><rect x="59.6" y="587.7" width="1.2" height="1.2"/><rect x="67.3" y="591.7" width="1.2" height="1.2"/><rect x="66.9" y="591.8" width="1.2" height="1.2"/><rect x="64.5" y="590.7" width="1.2" height="1.2"/></g>
<g fill="#ffd32c"><rect x="85.1" y="585.7" width="1.2" height="1.2"/><rect x="90.6" y="561.8" width="1.2" height="1.2"/><rect x="91.2" y="561.9" width="1.2" height="1.2"/><rect x="75.2" y="591.7" width="1.2" height="1.2"/></g>
<g fill="#ffd22c"><rect x="88.7" y="583.2" width="1.2" height="1.2"/><rect x="89.0" y="583.3" width="1.2" height="1.2"/><rect x="88.6" y="582.6" width="1.2" height="1.2"/><rect x="63.3" y="589.4" width="1.2" height="1.2"/><rect x="93.5" y="578.8" width="1.2" height="1.2"/></g>
<g fill="#ffd12b"><rect x="96.3" y="569.2" width="1.2" height="1.2"/><rect x="95.7" y="568.5" width="1.2" height="1.2"/><rect x="75.6" y="558.8" width="1.2" height="1.2"/><rect x="58.3" y="572.2" width="1.2" height="1.2"/><rect x="57.7" y="571.6" width="1.2" height="1.2"/><rect x="96.4" y="570.5" width="1.2" height="1.2"/><rect x="95.7" y="570.8" width="1.2" height="1.2"/><rect x="96.1" y="571.1" width="1.2" height="1.2"/><rect x="65.8" y="562.6" width="1.2" height="1.2"/></g>
<g fill="#ffd02b"><rect x="59.4" y="585.4" width="1.2" height="1.2"/><rect x="93.7" y="564.6" width="1.2" height="1.2"/><rect x="84.1" y="559.0" width="1.2" height="1.2"/><rect x="83.7" y="559.1" width="1.2" height="1.2"/></g>
<g fill="#ffcf2b"><rect x="95.0" y="573.9" width="1.2" height="1.2"/></g>
<g fill="#ffce2b"><rect x="85.9" y="584.5" width="1.2" height="1.2"/><rect x="95.2" y="567.0" width="1.2" height="1.2"/><rect x="94.5" y="567.2" width="1.2" height="1.2"/><rect x="60.4" y="568.9" width="1.2" height="1.2"/></g>
<g fill="#ffcd2b"><rect x="59.3" y="585.1" width="1.2" height="1.2"/><rect x="58.8" y="585.3" width="1.2" height="1.2"/></g>
<g fill="#ffcc2a"><rect x="58.6" y="570.7" width="1.2" height="1.2"/><rect x="59.3" y="570.8" width="1.2" height="1.2"/><rect x="59.0" y="570.4" width="1.2" height="1.2"/><rect x="59.0" y="583.9" width="1.2" height="1.2"/><rect x="65.7" y="591.0" width="1.2" height="1.2"/><rect x="62.1" y="567.6" width="1.2" height="1.2"/><rect x="62.2" y="568.2" width="1.2" height="1.2"/><rect x="79.3" y="590.5" width="1.2" height="1.2"/><rect x="57.5" y="579.1" width="1.2" height="1.2"/><rect x="58.3" y="579.3" width="1.2" height="1.2"/><rect x="58.3" y="578.5" width="1.2" height="1.2"/><rect x="57.6" y="578.4" width="1.2" height="1.2"/><rect x="57.7" y="579.1" width="1.2" height="1.2"/></g>
<g fill="#ffcb2a"><rect x="59.2" y="580.8" width="1.2" height="1.2"/><rect x="92.1" y="580.6" width="1.2" height="1.2"/><rect x="92.1" y="581.0" width="1.2" height="1.2"/><rect x="92.2" y="581.3" width="1.2" height="1.2"/><rect x="89.8" y="562.0" width="1.2" height="1.2"/><rect x="87.8" y="561.2" width="1.2" height="1.2"/></g>
<g fill="#ffca2a"><rect x="81.3" y="589.5" width="1.2" height="1.2"/><rect x="81.3" y="558.7" width="1.2" height="1.2"/><rect x="80.4" y="559.1" width="1.2" height="1.2"/><rect x="92.3" y="563.1" width="1.2" height="1.2"/><rect x="57.7" y="573.3" width="1.2" height="1.2"/><rect x="57.6" y="573.2" width="1.2" height="1.2"/><rect x="92.6" y="563.7" width="1.2" height="1.2"/></g>
<g fill="#ffc92a"><rect x="93.3" y="580.1" width="1.2" height="1.2"/><rect x="92.5" y="580.2" width="1.2" height="1.2"/><rect x="59.9" y="586.8" width="1.2" height="1.2"/></g>
<g fill="#ffc82a"><rect x="79.5" y="559.0" width="1.2" height="1.2"/><rect x="78.2" y="559.1" width="1.2" height="1.2"/><rect x="78.2" y="558.7" width="1.2" height="1.2"/><rect x="77.6" y="558.8" width="1.2" height="1.2"/><rect x="87.4" y="584.2" width="1.2" height="1.2"/></g>
<g fill="#ffc729"><rect x="79.2" y="559.2" width="1.2" height="1.2"/><rect x="79.2" y="558.8" width="1.2" height="1.2"/><rect x="69.9" y="592.3" width="1.2" height="1.2"/><rect x="61.3" y="587.9" width="1.2" height="1.2"/><rect x="86.1" y="560.0" width="1.2" height="1.2"/><rect x="70.9" y="591.7" width="1.2" height="1.2"/><rect x="72.8" y="559.7" width="1.2" height="1.2"/></g>
<g fill="#ffc529"><rect x="93.5" y="565.8" width="1.2" height="1.2"/></g>
<g fill="#ffc429"><rect x="58.0" y="574.2" width="1.2" height="1.2"/><rect x="57.7" y="577.5" width="1.2" height="1.2"/><rect x="57.4" y="577.8" width="1.2" height="1.2"/></g>
<g fill="#ffc329"><rect x="66.6" y="590.7" width="1.2" height="1.2"/><rect x="76.9" y="591.1" width="1.2" height="1.2"/></g>
<g fill="#ffc028"><rect x="93.9" y="577.1" width="1.2" height="1.2"/><rect x="58.7" y="571.7" width="1.2" height="1.2"/><rect x="58.3" y="575.3" width="1.2" height="1.2"/><rect x="57.5" y="574.5" width="1.2" height="1.2"/><rect x="59.5" y="586.2" width="1.2" height="1.2"/></g>
<g fill="#ffbf28"><rect x="63.2" y="588.8" width="1.2" height="1.2"/><rect x="57.5" y="576.5" width="1.2" height="1.2"/><rect x="58.4" y="576.6" width="1.2" height="1.2"/><rect x="84.8" y="584.6" width="1.2" height="1.2"/></g>
<g fill="#ffbe28"><rect x="57.6" y="575.5" width="1.2" height="1.2"/><rect x="58.3" y="575.5" width="1.2" height="1.2"/><rect x="88.8" y="581.8" width="1.2" height="1.2"/><rect x="71.3" y="560.8" width="1.2" height="1.2"/><rect x="94.6" y="569.3" width="1.2" height="1.2"/></g>
<g fill="#ffbd27"><rect x="84.7" y="559.6" width="1.2" height="1.2"/><rect x="91.3" y="562.9" width="1.2" height="1.2"/><rect x="91.0" y="563.3" width="1.2" height="1.2"/><rect x="80.2" y="590.0" width="1.2" height="1.2"/><rect x="80.4" y="590.2" width="1.2" height="1.2"/><rect x="80.0" y="590.0" width="1.2" height="1.2"/><rect x="67.2" y="563.0" width="1.2" height="1.2"/><rect x="60.0" y="570.9" width="1.2" height="1.2"/><rect x="59.8" y="570.8" width="1.2" height="1.2"/><rect x="60.0" y="570.5" width="1.2" height="1.2"/></g>
<g fill="#ffbc27"><rect x="92.6" y="564.5" width="1.2" height="1.2"/><rect x="75.3" y="590.9" width="1.2" height="1.2"/><rect x="75.0" y="590.6" width="1.2" height="1.2"/><rect x="86.8" y="561.3" width="1.2" height="1.2"/><rect x="86.6" y="560.8" width="1.2" height="1.2"/><rect x="59.5" y="582.0" width="1.2" height="1.2"/><rect x="60.4" y="582.2" width="1.2" height="1.2"/></g>
<g fill="#ffbb27"><rect x="60.9" y="569.7" width="1.2" height="1.2"/><rect x="95.1" y="570.3" width="1.2" height="1.2"/><rect x="95.3" y="570.0" width="1.2" height="1.2"/><rect x="94.6" y="569.9" width="1.2" height="1.2"/><rect x="59.9" y="584.9" width="1.2" height="1.2"/><rect x="68.1" y="591.0" width="1.2" height="1.2"/></g>
<g fill="#ffba27"><rect x="59.8" y="584.1" width="1.2" height="1.2"/><rect x="60.2" y="583.6" width="1.2" height="1.2"/></g>
<g fill="#ffb927"><rect x="81.4" y="589.2" width="1.2" height="1.2"/><rect x="93.7" y="574.7" width="1.2" height="1.2"/><rect x="61.5" y="569.1" width="1.2" height="1.2"/></g>
<g fill="#ffb826"><rect x="62.1" y="587.6" width="1.2" height="1.2"/><rect x="61.7" y="588.0" width="1.2" height="1.2"/><rect x="60.7" y="587.2" width="1.2" height="1.2"/><rect x="61.1" y="587.0" width="1.2" height="1.2"/><rect x="61.0" y="586.8" width="1.2" height="1.2"/><rect x="65.8" y="589.7" width="1.2" height="1.2"/><rect x="60.1" y="580.7" width="1.2" height="1.2"/><rect x="59.5" y="581.2" width="1.2" height="1.2"/></g>
<g fill="#ffb726"><rect x="64.8" y="565.3" width="1.2" height="1.2"/><rect x="64.5" y="565.4" width="1.2" height="1.2"/><rect x="58.8" y="572.8" width="1.2" height="1.2"/></g>
<g fill="#ffb626"><rect x="92.3" y="579.7" width="1.2" height="1.2"/><rect x="92.4" y="579.5" width="1.2" height="1.2"/><rect x="92.2" y="580.0" width="1.2" height="1.2"/><rect x="63.6" y="588.4" width="1.2" height="1.2"/><rect x="63.7" y="589.1" width="1.2" height="1.2"/><rect x="93.7" y="573.6" width="1.2" height="1.2"/></g>
<g fill="#ffb526"><rect x="73.3" y="591.1" width="1.2" height="1.2"/></g>
<g fill="#ffb325"><rect x="83.3" y="560.3" width="1.2" height="1.2"/><rect x="82.8" y="559.4" width="1.2" height="1.2"/><rect x="63.0" y="567.9" width="1.2" height="1.2"/><rect x="78.7" y="589.7" width="1.2" height="1.2"/><rect x="78.5" y="589.9" width="1.2" height="1.2"/></g>
<g fill="#ffb225"><rect x="71.6" y="591.2" width="1.2" height="1.2"/><rect x="72.3" y="591.3" width="1.2" height="1.2"/><rect x="72.4" y="591.3" width="1.2" height="1.2"/><rect x="86.6" y="583.1" width="1.2" height="1.2"/><rect x="87.0" y="583.1" width="1.2" height="1.2"/><rect x="89.9" y="580.6" width="1.2" height="1.2"/><rect x="89.6" y="581.3" width="1.2" height="1.2"/><rect x="89.5" y="581.1" width="1.2" height="1.2"/></g>
<g fill="#ffb125"><rect x="70.3" y="590.5" width="1.2" height="1.2"/><rect x="88.3" y="562.2" width="1.2" height="1.2"/><rect x="88.1" y="561.9" width="1.2" height="1.2"/><rect x="90.3" y="562.8" width="1.2" height="1.2"/><rect x="93.5" y="573.3" width="1.2" height="1.2"/></g>
<g fill="#ffb025"><rect x="83.1" y="586.0" width="1.2" height="1.2"/><rect x="83.1" y="585.9" width="1.2" height="1.2"/><rect x="82.3" y="560.3" width="1.2" height="1.2"/><rect x="81.8" y="560.1" width="1.2" height="1.2"/><rect x="59.1" y="573.6" width="1.2" height="1.2"/><rect x="58.7" y="574.2" width="1.2" height="1.2"/></g>
<g fill="#ffaf25"><rect x="93.7" y="568.2" width="1.2" height="1.2"/><rect x="94.1" y="568.3" width="1.2" height="1.2"/><rect x="94.3" y="568.1" width="1.2" height="1.2"/><rect x="92.8" y="565.5" width="1.2" height="1.2"/><rect x="92.7" y="565.5" width="1.2" height="1.2"/><rect x="87.8" y="581.8" width="1.2" height="1.2"/><rect x="60.4" y="572.2" width="1.2" height="1.2"/></g>
<g fill="#ffae24"><rect x="59.0" y="578.3" width="1.2" height="1.2"/><rect x="58.5" y="578.1" width="1.2" height="1.2"/><rect x="85.4" y="560.7" width="1.2" height="1.2"/><rect x="86.0" y="560.5" width="1.2" height="1.2"/><rect x="86.2" y="560.4" width="1.2" height="1.2"/><rect x="85.8" y="561.4" width="1.2" height="1.2"/><rect x="85.7" y="561.0" width="1.2" height="1.2"/><rect x="81.2" y="560.0" width="1.2" height="1.2"/><rect x="80.6" y="560.0" width="1.2" height="1.2"/><rect x="81.8" y="587.3" width="1.2" height="1.2"/><rect x="82.1" y="586.8" width="1.2" height="1.2"/><rect x="82.1" y="587.0" width="1.2" height="1.2"/></g>
<g fill="#ffad24"><rect x="67.0" y="589.4" width="1.2" height="1.2"/><rect x="67.4" y="589.6" width="1.2" height="1.2"/><rect x="83.4" y="585.2" width="1.2" height="1.2"/><rect x="93.0" y="577.5" width="1.2" height="1.2"/><rect x="93.3" y="577.7" width="1.2" height="1.2"/></g>
<g fill="#ffac24"><rect x="64.8" y="589.2" width="1.2" height="1.2"/><rect x="70.0" y="561.6" width="1.2" height="1.2"/><rect x="77.2" y="560.4" width="1.2" height="1.2"/><rect x="76.6" y="560.2" width="1.2" height="1.2"/></g>
<g fill="#ffab24"><rect x="77.6" y="590.4" width="1.2" height="1.2"/><rect x="77.8" y="589.4" width="1.2" height="1.2"/><rect x="63.4" y="587.4" width="1.2" height="1.2"/><rect x="62.8" y="588.3" width="1.2" height="1.2"/></g>
<g fill="#ffaa24"><rect x="94.0" y="571.9" width="1.2" height="1.2"/><rect x="93.9" y="571.7" width="1.2" height="1.2"/><rect x="59.0" y="574.9" width="1.2" height="1.2"/></g>
<g fill="#ffa923"><rect x="81.1" y="587.9" width="1.2" height="1.2"/><rect x="78.1" y="560.0" width="1.2" height="1.2"/><rect x="77.7" y="559.7" width="1.2" height="1.2"/><rect x="79.9" y="589.2" width="1.2" height="1.2"/><rect x="80.3" y="589.1" width="1.2" height="1.2"/><rect x="80.2" y="588.5" width="1.2" height="1.2"/><rect x="80.2" y="588.5" width="1.2" height="1.2"/></g>
<g fill="#ffa823"><rect x="59.3" y="576.4" width="1.2" height="1.2"/><rect x="61.8" y="586.7" width="1.2" height="1.2"/></g>
<g fill="#ffa723"><rect x="76.7" y="590.1" width="1.2" height="1.2"/><rect x="93.5" y="568.6" width="1.2" height="1.2"/><rect x="94.2" y="569.0" width="1.2" height="1.2"/><rect x="60.8" y="584.7" width="1.2" height="1.2"/><rect x="60.8" y="584.7" width="1.2" height="1.2"/></g>
<g fill="#ffa623"><rect x="58.4" y="575.4" width="1.2" height="1.2"/><rect x="58.9" y="576.2" width="1.2" height="1.2"/><rect x="90.6" y="564.3" width="1.2" height="1.2"/><rect x="91.9" y="564.8" width="1.2" height="1.2"/><rect x="91.7" y="565.4" width="1.2" height="1.2"/><rect x="91.8" y="565.2" width="1.2" height="1.2"/><rect x="89.1" y="581.0" width="1.2" height="1.2"/><rect x="89.4" y="580.7" width="1.2" height="1.2"/></g>
<g fill="#ffa523"><rect x="90.7" y="579.7" width="1.2" height="1.2"/><rect x="90.5" y="580.2" width="1.2" height="1.2"/><rect x="91.4" y="579.9" width="1.2" height="1.2"/><rect x="94.2" y="570.6" width="1.2" height="1.2"/><rect x="94.3" y="571.0" width="1.2" height="1.2"/><rect x="93.5" y="570.9" width="1.2" height="1.2"/></g>
<g fill="#ffa422"><rect x="84.7" y="584.4" width="1.2" height="1.2"/><rect x="60.7" y="584.2" width="1.2" height="1.2"/><rect x="60.9" y="583.5" width="1.2" height="1.2"/><rect x="60.6" y="582.8" width="1.2" height="1.2"/><rect x="60.6" y="582.6" width="1.2" height="1.2"/><rect x="62.1" y="570.2" width="1.2" height="1.2"/><rect x="62.1" y="569.5" width="1.2" height="1.2"/><rect x="59.9" y="573.1" width="1.2" height="1.2"/><rect x="75.9" y="589.9" width="1.2" height="1.2"/><rect x="68.2" y="589.6" width="1.2" height="1.2"/><rect x="68.0" y="589.9" width="1.2" height="1.2"/><rect x="68.0" y="589.7" width="1.2" height="1.2"/><rect x="67.9" y="589.6" width="1.2" height="1.2"/><rect x="84.5" y="561.3" width="1.2" height="1.2"/><rect x="84.5" y="560.7" width="1.2" height="1.2"/><rect x="84.6" y="561.0" width="1.2" height="1.2"/></g>
<g fill="#ffa322"><rect x="94.3" y="569.5" width="1.2" height="1.2"/><rect x="93.6" y="570.2" width="1.2" height="1.2"/><rect x="88.7" y="562.6" width="1.2" height="1.2"/><rect x="88.9" y="562.6" width="1.2" height="1.2"/><rect x="93.0" y="576.6" width="1.2" height="1.2"/><rect x="92.8" y="577.3" width="1.2" height="1.2"/><rect x="92.6" y="576.5" width="1.2" height="1.2"/><rect x="92.9" y="576.6" width="1.2" height="1.2"/><rect x="91.9" y="579.3" width="1.2" height="1.2"/><rect x="91.9" y="578.6" width="1.2" height="1.2"/><rect x="65.6" y="588.8" width="1.2" height="1.2"/><rect x="92.6" y="567.0" width="1.2" height="1.2"/></g>
<g fill="#ffa222"><rect x="87.2" y="561.4" width="1.2" height="1.2"/></g>
<g fill="#ffa122"><rect x="63.8" y="588.4" width="1.2" height="1.2"/><rect x="60.8" y="581.0" width="1.2" height="1.2"/></g>
<g fill="#ffa022"><rect x="74.4" y="589.9" width="1.2" height="1.2"/><rect x="74.0" y="589.7" width="1.2" height="1.2"/><rect x="73.6" y="590.3" width="1.2" height="1.2"/><rect x="65.2" y="566.1" width="1.2" height="1.2"/></g>
<g fill="#ff9f22"><rect x="85.8" y="583.2" width="1.2" height="1.2"/><rect x="85.8" y="582.8" width="1.2" height="1.2"/><rect x="85.5" y="583.3" width="1.2" height="1.2"/><rect x="63.3" y="569.3" width="1.2" height="1.2"/><rect x="72.7" y="590.3" width="1.2" height="1.2"/><rect x="73.3" y="590.0" width="1.2" height="1.2"/><rect x="73.3" y="589.8" width="1.2" height="1.2"/><rect x="73.2" y="590.3" width="1.2" height="1.2"/><rect x="72.8" y="589.8" width="1.2" height="1.2"/><rect x="82.0" y="586.2" width="1.2" height="1.2"/><rect x="82.4" y="585.6" width="1.2" height="1.2"/><rect x="68.7" y="590.2" width="1.2" height="1.2"/><rect x="69.3" y="590.4" width="1.2" height="1.2"/><rect x="69.4" y="589.8" width="1.2" height="1.2"/><rect x="92.5" y="576.1" width="1.2" height="1.2"/><rect x="92.7" y="575.7" width="1.2" height="1.2"/><rect x="93.0" y="576.2" width="1.2" height="1.2"/></g>
<g fill="#ff9e22"><rect x="84.1" y="560.7" width="1.2" height="1.2"/><rect x="78.8" y="588.6" width="1.2" height="1.2"/><rect x="78.9" y="589.3" width="1.2" height="1.2"/><rect x="78.7" y="589.4" width="1.2" height="1.2"/><rect x="79.0" y="589.2" width="1.2" height="1.2"/><rect x="79.3" y="589.1" width="1.2" height="1.2"/><rect x="59.8" y="574.2" width="1.2" height="1.2"/><rect x="87.1" y="581.6" width="1.2" height="1.2"/><rect x="62.0" y="585.6" width="1.2" height="1.2"/><rect x="61.4" y="585.5" width="1.2" height="1.2"/></g>
<g fill="#ff9d22"><rect x="70.6" y="561.4" width="1.2" height="1.2"/><rect x="70.4" y="562.0" width="1.2" height="1.2"/><rect x="71.3" y="562.1" width="1.2" height="1.2"/><rect x="71.6" y="590.2" width="1.2" height="1.2"/><rect x="61.3" y="571.7" width="1.2" height="1.2"/><rect x="61.1" y="571.4" width="1.2" height="1.2"/><rect x="80.7" y="587.3" width="1.2" height="1.2"/></g>
<g fill="#ff9c22"><rect x="66.9" y="563.6" width="1.2" height="1.2"/><rect x="66.6" y="563.5" width="1.2" height="1.2"/><rect x="66.9" y="563.5" width="1.2" height="1.2"/><rect x="93.2" y="575.2" width="1.2" height="1.2"/><rect x="70.2" y="590.3" width="1.2" height="1.2"/><rect x="69.5" y="589.7" width="1.2" height="1.2"/><rect x="71.0" y="589.7" width="1.2" height="1.2"/><rect x="62.5" y="586.6" width="1.2" height="1.2"/><rect x="63.0" y="587.2" width="1.2" height="1.2"/></g>
<g fill="#ff9b22"><rect x="59.7" y="578.3" width="1.2" height="1.2"/><rect x="82.5" y="560.7" width="1.2" height="1.2"/><rect x="83.2" y="560.9" width="1.2" height="1.2"/><rect x="87.4" y="581.0" width="1.2" height="1.2"/><rect x="87.6" y="581.2" width="1.2" height="1.2"/><rect x="73.5" y="560.8" width="1.2" height="1.2"/><rect x="74.1" y="561.3" width="1.2" height="1.2"/></g>
<g fill="#ff9a21"><rect x="68.8" y="562.8" width="1.2" height="1.2"/><rect x="92.9" y="574.2" width="1.2" height="1.2"/><rect x="92.5" y="574.1" width="1.2" height="1.2"/><rect x="92.5" y="573.7" width="1.2" height="1.2"/><rect x="66.2" y="565.4" width="1.2" height="1.2"/><rect x="92.4" y="565.4" width="1.2" height="1.2"/><rect x="60.9" y="579.4" width="1.2" height="1.2"/><rect x="61.1" y="580.0" width="1.2" height="1.2"/><rect x="89.8" y="563.8" width="1.2" height="1.2"/><rect x="92.5" y="567.8" width="1.2" height="1.2"/><rect x="93.1" y="567.5" width="1.2" height="1.2"/><rect x="65.2" y="587.7" width="1.2" height="1.2"/><rect x="64.7" y="588.3" width="1.2" height="1.2"/></g>
<g fill="#ff9821"><rect x="88.4" y="563.1" width="1.2" height="1.2"/><rect x="86.0" y="561.8" width="1.2" height="1.2"/><rect x="86.1" y="561.9" width="1.2" height="1.2"/><rect x="92.4" y="573.1" width="1.2" height="1.2"/><rect x="64.1" y="568.2" width="1.2" height="1.2"/><rect x="64.3" y="568.3" width="1.2" height="1.2"/></g>
<g fill="#ff9721"><rect x="61.6" y="584.7" width="1.2" height="1.2"/><rect x="61.6" y="584.5" width="1.2" height="1.2"/><rect x="77.6" y="588.8" width="1.2" height="1.2"/><rect x="78.0" y="589.3" width="1.2" height="1.2"/><rect x="62.0" y="571.0" width="1.2" height="1.2"/><rect x="61.7" y="571.4" width="1.2" height="1.2"/></g>
<g fill="#ff9621"><rect x="84.0" y="583.6" width="1.2" height="1.2"/><rect x="90.8" y="564.6" width="1.2" height="1.2"/><rect x="90.8" y="564.9" width="1.2" height="1.2"/><rect x="59.8" y="577.2" width="1.2" height="1.2"/><rect x="60.2" y="576.9" width="1.2" height="1.2"/><rect x="59.7" y="576.5" width="1.2" height="1.2"/><rect x="81.4" y="560.5" width="1.2" height="1.2"/><rect x="80.9" y="560.9" width="1.2" height="1.2"/></g>
<g fill="#ff9521"><rect x="59.6" y="575.6" width="1.2" height="1.2"/><rect x="59.5" y="576.1" width="1.2" height="1.2"/><rect x="60.1" y="575.7" width="1.2" height="1.2"/><rect x="60.1" y="575.4" width="1.2" height="1.2"/><rect x="75.0" y="561.3" width="1.2" height="1.2"/></g>
<g fill="#ff9421"><rect x="60.8" y="572.8" width="1.2" height="1.2"/><rect x="60.6" y="573.0" width="1.2" height="1.2"/><rect x="90.8" y="579.3" width="1.2" height="1.2"/><rect x="61.9" y="583.5" width="1.2" height="1.2"/><rect x="93.2" y="572.2" width="1.2" height="1.2"/></g>
<g fill="#ff9321"><rect x="68.3" y="589.0" width="1.2" height="1.2"/><rect x="65.8" y="587.4" width="1.2" height="1.2"/><rect x="66.4" y="587.8" width="1.2" height="1.2"/><rect x="66.0" y="588.0" width="1.2" height="1.2"/><rect x="80.0" y="561.2" width="1.2" height="1.2"/></g>
<g fill="#ff9221"><rect x="64.3" y="586.7" width="1.2" height="1.2"/><rect x="64.3" y="586.8" width="1.2" height="1.2"/><rect x="77.1" y="588.9" width="1.2" height="1.2"/><rect x="61.5" y="582.5" width="1.2" height="1.2"/><rect x="61.5" y="583.1" width="1.2" height="1.2"/><rect x="62.2" y="583.0" width="1.2" height="1.2"/></g>
<g fill="#ff9121"><rect x="71.8" y="562.2" width="1.2" height="1.2"/><rect x="71.9" y="562.2" width="1.2" height="1.2"/><rect x="62.6" y="586.1" width="1.2" height="1.2"/><rect x="62.8" y="586.1" width="1.2" height="1.2"/></g>
<g fill="#ff9020"><rect x="92.7" y="570.5" width="1.2" height="1.2"/><rect x="93.4" y="570.4" width="1.2" height="1.2"/><rect x="93.0" y="571.0" width="1.2" height="1.2"/><rect x="80.5" y="585.4" width="1.2" height="1.2"/><rect x="80.6" y="586.4" width="1.2" height="1.2"/><rect x="78.4" y="561.0" width="1.2" height="1.2"/><rect x="78.9" y="560.7" width="1.2" height="1.2"/><rect x="92.5" y="569.4" width="1.2" height="1.2"/><rect x="79.2" y="587.7" width="1.2" height="1.2"/><rect x="62.6" y="570.1" width="1.2" height="1.2"/><rect x="84.4" y="562.3" width="1.2" height="1.2"/></g>
<g fill="#ff8f20"><rect x="62.2" y="581.5" width="1.2" height="1.2"/><rect x="61.9" y="582.1" width="1.2" height="1.2"/><rect x="75.9" y="588.5" width="1.2" height="1.2"/><rect x="75.6" y="589.3" width="1.2" height="1.2"/><rect x="75.9" y="588.9" width="1.2" height="1.2"/><rect x="76.2" y="588.8" width="1.2" height="1.2"/><rect x="79.8" y="587.4" width="1.2" height="1.2"/><rect x="80.2" y="587.1" width="1.2" height="1.2"/><rect x="81.8" y="585.2" width="1.2" height="1.2"/><rect x="81.9" y="584.9" width="1.2" height="1.2"/><rect x="82.0" y="584.6" width="1.2" height="1.2"/><rect x="82.1" y="585.3" width="1.2" height="1.2"/><rect x="84.5" y="582.8" width="1.2" height="1.2"/><rect x="85.3" y="583.4" width="1.2" height="1.2"/><rect x="76.9" y="561.4" width="1.2" height="1.2"/></g>
<g fill="#ff8e20"><rect x="88.6" y="563.5" width="1.2" height="1.2"/><rect x="89.0" y="563.7" width="1.2" height="1.2"/><rect x="77.7" y="560.8" width="1.2" height="1.2"/><rect x="77.5" y="560.6" width="1.2" height="1.2"/><rect x="69.7" y="562.5" width="1.2" height="1.2"/></g>
<g fill="#ff8d20"><rect x="75.3" y="588.8" width="1.2" height="1.2"/><rect x="75.4" y="588.6" width="1.2" height="1.2"/><rect x="74.5" y="588.5" width="1.2" height="1.2"/><rect x="69.2" y="589.0" width="1.2" height="1.2"/><rect x="68.5" y="589.2" width="1.2" height="1.2"/><rect x="60.5" y="573.7" width="1.2" height="1.2"/></g>
<g fill="#ff8c20"><rect x="74.1" y="589.0" width="1.2" height="1.2"/><rect x="86.1" y="581.7" width="1.2" height="1.2"/></g>
<g fill="#ff8b20"><rect x="72.7" y="588.8" width="1.2" height="1.2"/><rect x="66.9" y="587.5" width="1.2" height="1.2"/><rect x="66.5" y="587.9" width="1.2" height="1.2"/><rect x="61.7" y="580.9" width="1.2" height="1.2"/><rect x="68.1" y="564.3" width="1.2" height="1.2"/><rect x="67.9" y="564.3" width="1.2" height="1.2"/><rect x="67.4" y="563.9" width="1.2" height="1.2"/></g>
<g fill="#ff8a20"><rect x="65.3" y="587.2" width="1.2" height="1.2"/><rect x="64.4" y="586.9" width="1.2" height="1.2"/><rect x="64.9" y="587.4" width="1.2" height="1.2"/><rect x="65.0" y="587.2" width="1.2" height="1.2"/><rect x="65.2" y="586.5" width="1.2" height="1.2"/><rect x="65.3" y="587.0" width="1.2" height="1.2"/><rect x="70.1" y="588.5" width="1.2" height="1.2"/><rect x="69.9" y="588.4" width="1.2" height="1.2"/><rect x="70.4" y="588.5" width="1.2" height="1.2"/><rect x="69.7" y="589.2" width="1.2" height="1.2"/><rect x="69.8" y="589.2" width="1.2" height="1.2"/><rect x="83.9" y="562.0" width="1.2" height="1.2"/><rect x="84.4" y="562.1" width="1.2" height="1.2"/></g>
<g fill="#ff8920"><rect x="71.0" y="589.0" width="1.2" height="1.2"/><rect x="71.0" y="588.4" width="1.2" height="1.2"/><rect x="62.5" y="585.2" width="1.2" height="1.2"/><rect x="62.7" y="584.5" width="1.2" height="1.2"/><rect x="62.4" y="584.4" width="1.2" height="1.2"/><rect x="63.3" y="585.1" width="1.2" height="1.2"/></g>
<g fill="#ff8820"><rect x="60.9" y="578.0" width="1.2" height="1.2"/><rect x="61.1" y="577.6" width="1.2" height="1.2"/><rect x="61.4" y="577.6" width="1.2" height="1.2"/><rect x="60.7" y="577.5" width="1.2" height="1.2"/><rect x="83.3" y="584.0" width="1.2" height="1.2"/></g>
<g fill="#ff8720"><rect x="91.3" y="565.8" width="1.2" height="1.2"/><rect x="91.3" y="565.5" width="1.2" height="1.2"/><rect x="90.7" y="565.7" width="1.2" height="1.2"/><rect x="90.2" y="578.5" width="1.2" height="1.2"/><rect x="89.6" y="578.5" width="1.2" height="1.2"/><rect x="90.1" y="564.5" width="1.2" height="1.2"/><rect x="60.8" y="575.2" width="1.2" height="1.2"/><rect x="61.2" y="575.0" width="1.2" height="1.2"/><rect x="77.6" y="588.0" width="1.2" height="1.2"/><rect x="78.0" y="588.3" width="1.2" height="1.2"/></g>
<g fill="#ff861f"><rect x="91.8" y="575.4" width="1.2" height="1.2"/><rect x="91.7" y="576.1" width="1.2" height="1.2"/><rect x="91.5" y="575.6" width="1.2" height="1.2"/><rect x="73.3" y="561.4" width="1.2" height="1.2"/><rect x="73.0" y="561.8" width="1.2" height="1.2"/><rect x="73.3" y="561.8" width="1.2" height="1.2"/><rect x="73.0" y="561.9" width="1.2" height="1.2"/><rect x="73.0" y="561.5" width="1.2" height="1.2"/><rect x="73.3" y="561.8" width="1.2" height="1.2"/><rect x="63.6" y="586.0" width="1.2" height="1.2"/><rect x="83.0" y="562.2" width="1.2" height="1.2"/><rect x="82.8" y="561.6" width="1.2" height="1.2"/><rect x="82.4" y="561.8" width="1.2" height="1.2"/></g>
<g fill="#ff851f"><rect x="66.0" y="565.7" width="1.2" height="1.2"/><rect x="65.9" y="566.1" width="1.2" height="1.2"/><rect x="66.2" y="566.4" width="1.2" height="1.2"/></g>
<g fill="#ff841f"><rect x="90.7" y="578.4" width="1.2" height="1.2"/><rect x="90.8" y="577.8" width="1.2" height="1.2"/></g>
<g fill="#ff831f"><rect x="66.0" y="587.3" width="1.2" height="1.2"/><rect x="62.3" y="579.5" width="1.2" height="1.2"/><rect x="60.6" y="576.4" width="1.2" height="1.2"/><rect x="61.2" y="577.3" width="1.2" height="1.2"/><rect x="60.6" y="576.5" width="1.2" height="1.2"/><rect x="61.0" y="576.6" width="1.2" height="1.2"/><rect x="60.9" y="576.1" width="1.2" height="1.2"/><rect x="67.7" y="588.2" width="1.2" height="1.2"/><rect x="68.3" y="587.7" width="1.2" height="1.2"/><rect x="67.6" y="587.8" width="1.2" height="1.2"/><rect x="79.3" y="587.4" width="1.2" height="1.2"/><rect x="80.2" y="586.0" width="1.2" height="1.2"/><rect x="92.1" y="574.8" width="1.2" height="1.2"/><rect x="92.1" y="574.6" width="1.2" height="1.2"/></g>
<g fill="#ff821f"><rect x="81.4" y="562.2" width="1.2" height="1.2"/><rect x="81.4" y="561.6" width="1.2" height="1.2"/><rect x="66.7" y="564.4" width="1.2" height="1.2"/><rect x="67.1" y="565.1" width="1.2" height="1.2"/><rect x="87.7" y="564.0" width="1.2" height="1.2"/><rect x="88.4" y="564.3" width="1.2" height="1.2"/><rect x="87.6" y="564.2" width="1.2" height="1.2"/><rect x="85.5" y="563.2" width="1.2" height="1.2"/></g>
<g fill="#ff811f"><rect x="71.1" y="562.6" width="1.2" height="1.2"/><rect x="71.0" y="562.9" width="1.2" height="1.2"/><rect x="81.2" y="585.0" width="1.2" height="1.2"/><rect x="80.9" y="584.7" width="1.2" height="1.2"/><rect x="63.0" y="571.4" width="1.2" height="1.2"/><rect x="63.1" y="570.9" width="1.2" height="1.2"/><rect x="63.3" y="570.6" width="1.2" height="1.2"/><rect x="62.2" y="572.4" width="1.2" height="1.2"/><rect x="61.5" y="572.8" width="1.2" height="1.2"/><rect x="61.6" y="573.2" width="1.2" height="1.2"/></g>
<g fill="#ff801f"><rect x="92.4" y="573.7" width="1.2" height="1.2"/><rect x="76.5" y="587.5" width="1.2" height="1.2"/></g>
<g fill="#ff7f1f"><rect x="81.3" y="561.7" width="1.2" height="1.2"/></g>
<g fill="#ff7e1f"><rect x="84.1" y="582.4" width="1.2" height="1.2"/><rect x="83.8" y="582.8" width="1.2" height="1.2"/></g>
<g fill="#ff7d1f"><rect x="73.7" y="562.1" width="1.2" height="1.2"/><rect x="74.3" y="561.7" width="1.2" height="1.2"/><rect x="73.9" y="562.2" width="1.2" height="1.2"/><rect x="74.4" y="562.3" width="1.2" height="1.2"/><rect x="74.0" y="561.9" width="1.2" height="1.2"/><rect x="62.8" y="582.4" width="1.2" height="1.2"/><rect x="63.1" y="582.5" width="1.2" height="1.2"/><rect x="63.2" y="583.3" width="1.2" height="1.2"/><rect x="89.2" y="579.4" width="1.2" height="1.2"/><rect x="88.5" y="578.9" width="1.2" height="1.2"/><rect x="89.2" y="578.5" width="1.2" height="1.2"/></g>
<g fill="#ff7c1e"><rect x="64.7" y="586.3" width="1.2" height="1.2"/><rect x="65.1" y="586.2" width="1.2" height="1.2"/><rect x="91.5" y="569.1" width="1.2" height="1.2"/><rect x="91.4" y="568.9" width="1.2" height="1.2"/><rect x="91.7" y="568.7" width="1.2" height="1.2"/><rect x="66.8" y="586.6" width="1.2" height="1.2"/><rect x="66.6" y="587.4" width="1.2" height="1.2"/><rect x="66.8" y="587.1" width="1.2" height="1.2"/><rect x="68.5" y="588.0" width="1.2" height="1.2"/><rect x="68.6" y="588.3" width="1.2" height="1.2"/></g>
<g fill="#ff7b1e"><rect x="69.3" y="564.1" width="1.2" height="1.2"/><rect x="75.9" y="587.8" width="1.2" height="1.2"/><rect x="75.4" y="587.5" width="1.2" height="1.2"/><rect x="76.3" y="587.7" width="1.2" height="1.2"/><rect x="76.1" y="587.6" width="1.2" height="1.2"/><rect x="65.1" y="567.6" width="1.2" height="1.2"/><rect x="64.6" y="568.1" width="1.2" height="1.2"/><rect x="80.4" y="561.9" width="1.2" height="1.2"/><rect x="79.8" y="561.9" width="1.2" height="1.2"/><rect x="80.1" y="561.7" width="1.2" height="1.2"/><rect x="79.7" y="561.9" width="1.2" height="1.2"/><rect x="79.7" y="561.6" width="1.2" height="1.2"/><rect x="79.5" y="562.4" width="1.2" height="1.2"/></g>
<g fill="#ff7a1e"><rect x="64.3" y="584.7" width="1.2" height="1.2"/><rect x="64.3" y="585.1" width="1.2" height="1.2"/><rect x="64.2" y="584.6" width="1.2" height="1.2"/><rect x="63.8" y="585.0" width="1.2" height="1.2"/><rect x="64.2" y="584.6" width="1.2" height="1.2"/><rect x="81.9" y="583.7" width="1.2" height="1.2"/><rect x="82.1" y="584.0" width="1.2" height="1.2"/><rect x="61.6" y="578.8" width="1.2" height="1.2"/><rect x="87.1" y="580.2" width="1.2" height="1.2"/><rect x="92.0" y="571.4" width="1.2" height="1.2"/></g>
<g fill="#ff791e"><rect x="90.6" y="566.9" width="1.2" height="1.2"/><rect x="90.4" y="566.9" width="1.2" height="1.2"/><rect x="89.3" y="564.9" width="1.2" height="1.2"/><rect x="88.8" y="565.2" width="1.2" height="1.2"/><rect x="84.8" y="563.4" width="1.2" height="1.2"/></g>
<g fill="#ff781e"><rect x="62.0" y="574.0" width="1.2" height="1.2"/><rect x="62.3" y="573.5" width="1.2" height="1.2"/><rect x="62.0" y="573.6" width="1.2" height="1.2"/><rect x="74.9" y="588.0" width="1.2" height="1.2"/><rect x="86.3" y="580.8" width="1.2" height="1.2"/><rect x="85.4" y="580.5" width="1.2" height="1.2"/><rect x="77.8" y="587.1" width="1.2" height="1.2"/><rect x="78.0" y="586.5" width="1.2" height="1.2"/><rect x="77.9" y="586.7" width="1.2" height="1.2"/></g>
<g fill="#ff771e"><rect x="63.2" y="581.9" width="1.2" height="1.2"/><rect x="92.4" y="569.7" width="1.2" height="1.2"/><rect x="91.5" y="569.6" width="1.2" height="1.2"/><rect x="91.9" y="569.7" width="1.2" height="1.2"/><rect x="92.1" y="570.3" width="1.2" height="1.2"/><rect x="92.1" y="570.3" width="1.2" height="1.2"/><rect x="85.3" y="582.0" width="1.2" height="1.2"/><rect x="84.5" y="581.8" width="1.2" height="1.2"/><rect x="70.0" y="588.2" width="1.2" height="1.2"/><rect x="91.2" y="576.6" width="1.2" height="1.2"/><rect x="90.8" y="576.9" width="1.2" height="1.2"/><rect x="90.7" y="576.5" width="1.2" height="1.2"/><rect x="91.0" y="577.3" width="1.2" height="1.2"/><rect x="75.2" y="562.3" width="1.2" height="1.2"/><rect x="75.4" y="561.5" width="1.2" height="1.2"/><rect x="74.7" y="562.1" width="1.2" height="1.2"/><rect x="75.3" y="561.9" width="1.2" height="1.2"/></g>
<g fill="#ff761e"><rect x="73.5" y="588.1" width="1.2" height="1.2"/><rect x="74.3" y="588.1" width="1.2" height="1.2"/><rect x="78.5" y="562.2" width="1.2" height="1.2"/><rect x="78.8" y="562.4" width="1.2" height="1.2"/><rect x="86.5" y="563.4" width="1.2" height="1.2"/><rect x="86.8" y="563.9" width="1.2" height="1.2"/><rect x="86.4" y="563.5" width="1.2" height="1.2"/><rect x="79.3" y="586.0" width="1.2" height="1.2"/><rect x="73.2" y="588.4" width="1.2" height="1.2"/><rect x="63.9" y="569.5" width="1.2" height="1.2"/><rect x="63.5" y="569.9" width="1.2" height="1.2"/></g>
<g fill="#ff751e"><rect x="71.0" y="588.3" width="1.2" height="1.2"/><rect x="70.5" y="587.9" width="1.2" height="1.2"/><rect x="72.2" y="587.5" width="1.2" height="1.2"/><rect x="72.0" y="562.8" width="1.2" height="1.2"/><rect x="71.9" y="562.9" width="1.2" height="1.2"/><rect x="90.0" y="566.1" width="1.2" height="1.2"/><rect x="90.3" y="565.9" width="1.2" height="1.2"/><rect x="89.7" y="565.8" width="1.2" height="1.2"/><rect x="90.2" y="566.4" width="1.2" height="1.2"/></g>
<g fill="#ff741e"><rect x="90.3" y="578.0" width="1.2" height="1.2"/><rect x="65.9" y="585.6" width="1.2" height="1.2"/><rect x="65.4" y="585.6" width="1.2" height="1.2"/><rect x="80.1" y="584.6" width="1.2" height="1.2"/><rect x="79.7" y="584.8" width="1.2" height="1.2"/><rect x="79.6" y="584.8" width="1.2" height="1.2"/><rect x="80.1" y="584.5" width="1.2" height="1.2"/><rect x="80.4" y="585.2" width="1.2" height="1.2"/></g>
<g fill="#ff731e"><rect x="62.5" y="571.9" width="1.2" height="1.2"/><rect x="63.2" y="571.8" width="1.2" height="1.2"/><rect x="87.6" y="578.5" width="1.2" height="1.2"/><rect x="88.2" y="578.9" width="1.2" height="1.2"/><rect x="87.6" y="579.0" width="1.2" height="1.2"/><rect x="67.4" y="586.5" width="1.2" height="1.2"/><rect x="77.9" y="562.0" width="1.2" height="1.2"/><rect x="77.8" y="561.8" width="1.2" height="1.2"/><rect x="77.7" y="561.7" width="1.2" height="1.2"/></g>
<g fill="#fe721d"><rect x="76.0" y="562.3" width="1.2" height="1.2"/><rect x="76.3" y="561.8" width="1.2" height="1.2"/><rect x="76.3" y="562.0" width="1.2" height="1.2"/><rect x="76.0" y="561.7" width="1.2" height="1.2"/><rect x="75.7" y="561.8" width="1.2" height="1.2"/><rect x="84.2" y="563.3" width="1.2" height="1.2"/><rect x="83.6" y="562.5" width="1.2" height="1.2"/><rect x="61.6" y="577.9" width="1.2" height="1.2"/><rect x="62.3" y="578.0" width="1.2" height="1.2"/><rect x="62.1" y="577.6" width="1.2" height="1.2"/><rect x="61.7" y="577.7" width="1.2" height="1.2"/><rect x="61.7" y="578.4" width="1.2" height="1.2"/></g>
<g fill="#fe711d"><rect x="76.5" y="561.7" width="1.2" height="1.2"/><rect x="77.4" y="561.6" width="1.2" height="1.2"/></g>
<g fill="#fe701d"><rect x="62.9" y="580.7" width="1.2" height="1.2"/><rect x="63.8" y="584.0" width="1.2" height="1.2"/><rect x="64.1" y="584.3" width="1.2" height="1.2"/></g>
<g fill="#fe6f1d"><rect x="65.8" y="566.9" width="1.2" height="1.2"/><rect x="65.7" y="566.4" width="1.2" height="1.2"/><rect x="76.6" y="587.0" width="1.2" height="1.2"/><rect x="77.2" y="586.8" width="1.2" height="1.2"/><rect x="76.7" y="586.5" width="1.2" height="1.2"/></g>
<g fill="#fe6d1d"><rect x="64.7" y="584.7" width="1.2" height="1.2"/><rect x="70.3" y="564.4" width="1.2" height="1.2"/><rect x="69.8" y="563.8" width="1.2" height="1.2"/><rect x="69.9" y="563.8" width="1.2" height="1.2"/><rect x="83.0" y="583.1" width="1.2" height="1.2"/><rect x="82.8" y="583.2" width="1.2" height="1.2"/><rect x="61.8" y="575.8" width="1.2" height="1.2"/><rect x="61.7" y="575.8" width="1.2" height="1.2"/><rect x="82.9" y="562.9" width="1.2" height="1.2"/><rect x="82.7" y="563.0" width="1.2" height="1.2"/><rect x="82.6" y="563.1" width="1.2" height="1.2"/><rect x="82.4" y="562.6" width="1.2" height="1.2"/><rect x="61.4" y="576.6" width="1.2" height="1.2"/></g>
<g fill="#fe6c1d"><rect x="81.1" y="584.0" width="1.2" height="1.2"/><rect x="81.2" y="583.5" width="1.2" height="1.2"/></g>
<g fill="#fe6c1c"><rect x="68.1" y="565.1" width="1.2" height="1.2"/><rect x="67.9" y="564.7" width="1.2" height="1.2"/></g>
<g fill="#fe6b1c"><rect x="90.5" y="567.5" width="1.2" height="1.2"/><rect x="90.4" y="567.7" width="1.2" height="1.2"/><rect x="90.5" y="567.5" width="1.2" height="1.2"/></g>
<g fill="#fd6a1c"><rect x="87.8" y="564.4" width="1.2" height="1.2"/><rect x="88.0" y="564.5" width="1.2" height="1.2"/><rect x="68.9" y="586.8" width="1.2" height="1.2"/><rect x="68.6" y="586.6" width="1.2" height="1.2"/><rect x="69.4" y="587.4" width="1.2" height="1.2"/><rect x="68.9" y="586.9" width="1.2" height="1.2"/></g>
<g fill="#fd691c"><rect x="81.6" y="562.5" width="1.2" height="1.2"/><rect x="82.3" y="562.9" width="1.2" height="1.2"/><rect x="77.8" y="585.6" width="1.2" height="1.2"/><rect x="77.4" y="585.7" width="1.2" height="1.2"/><rect x="77.9" y="586.1" width="1.2" height="1.2"/><rect x="78.3" y="585.4" width="1.2" height="1.2"/><rect x="77.4" y="586.0" width="1.2" height="1.2"/><rect x="73.3" y="562.5" width="1.2" height="1.2"/><rect x="73.0" y="563.1" width="1.2" height="1.2"/><rect x="72.9" y="562.5" width="1.2" height="1.2"/><rect x="73.2" y="562.9" width="1.2" height="1.2"/><rect x="73.3" y="563.1" width="1.2" height="1.2"/></g>
<g fill="#fd681c"><rect x="85.5" y="563.9" width="1.2" height="1.2"/><rect x="86.1" y="564.4" width="1.2" height="1.2"/><rect x="86.2" y="563.6" width="1.2" height="1.2"/><rect x="67.1" y="566.4" width="1.2" height="1.2"/><rect x="67.4" y="566.0" width="1.2" height="1.2"/><rect x="67.3" y="565.6" width="1.2" height="1.2"/></g>
<g fill="#fd671c"><rect x="65.2" y="569.0" width="1.2" height="1.2"/><rect x="65.2" y="569.0" width="1.2" height="1.2"/><rect x="64.8" y="569.4" width="1.2" height="1.2"/><rect x="64.5" y="569.2" width="1.2" height="1.2"/><rect x="63.2" y="580.3" width="1.2" height="1.2"/><rect x="62.6" y="579.9" width="1.2" height="1.2"/><rect x="75.7" y="587.0" width="1.2" height="1.2"/><rect x="76.0" y="587.3" width="1.2" height="1.2"/><rect x="76.2" y="586.6" width="1.2" height="1.2"/><rect x="75.7" y="587.3" width="1.2" height="1.2"/><rect x="63.3" y="573.2" width="1.2" height="1.2"/><rect x="62.7" y="572.6" width="1.2" height="1.2"/><rect x="88.6" y="577.8" width="1.2" height="1.2"/><rect x="88.5" y="578.0" width="1.2" height="1.2"/><rect x="89.4" y="577.6" width="1.2" height="1.2"/></g>
<g fill="#fd661c"><rect x="90.8" y="575.0" width="1.2" height="1.2"/><rect x="91.1" y="574.7" width="1.2" height="1.2"/><rect x="87.2" y="579.3" width="1.2" height="1.2"/><rect x="86.9" y="579.1" width="1.2" height="1.2"/><rect x="87.2" y="578.8" width="1.2" height="1.2"/><rect x="63.5" y="582.6" width="1.2" height="1.2"/><rect x="63.8" y="582.6" width="1.2" height="1.2"/><rect x="81.4" y="562.9" width="1.2" height="1.2"/><rect x="80.7" y="562.7" width="1.2" height="1.2"/></g>
<g fill="#fd651c"><rect x="78.8" y="584.4" width="1.2" height="1.2"/><rect x="79.1" y="584.6" width="1.2" height="1.2"/><rect x="78.8" y="585.1" width="1.2" height="1.2"/></g>
<g fill="#fd651b"><rect x="63.5" y="570.9" width="1.2" height="1.2"/><rect x="63.6" y="570.7" width="1.2" height="1.2"/><rect x="64.0" y="570.5" width="1.2" height="1.2"/></g>
<g fill="#fd641b"><rect x="85.6" y="579.9" width="1.2" height="1.2"/><rect x="86.3" y="579.6" width="1.2" height="1.2"/></g>
<g fill="#fd631b"><rect x="70.3" y="587.1" width="1.2" height="1.2"/><rect x="69.4" y="587.1" width="1.2" height="1.2"/><rect x="69.8" y="586.4" width="1.2" height="1.2"/><rect x="69.7" y="587.0" width="1.2" height="1.2"/><rect x="69.6" y="587.1" width="1.2" height="1.2"/><rect x="70.2" y="587.0" width="1.2" height="1.2"/></g>
<g fill="#fc621b"><rect x="89.0" y="565.6" width="1.2" height="1.2"/><rect x="88.4" y="566.0" width="1.2" height="1.2"/><rect x="88.4" y="565.7" width="1.2" height="1.2"/><rect x="88.7" y="565.5" width="1.2" height="1.2"/><rect x="90.0" y="577.4" width="1.2" height="1.2"/><rect x="89.6" y="577.0" width="1.2" height="1.2"/><rect x="90.4" y="577.4" width="1.2" height="1.2"/><rect x="89.6" y="576.8" width="1.2" height="1.2"/><rect x="90.2" y="576.9" width="1.2" height="1.2"/><rect x="89.8" y="576.9" width="1.2" height="1.2"/><rect x="89.4" y="577.4" width="1.2" height="1.2"/><rect x="89.4" y="566.6" width="1.2" height="1.2"/><rect x="89.9" y="567.3" width="1.2" height="1.2"/><rect x="90.1" y="567.3" width="1.2" height="1.2"/><rect x="89.7" y="566.6" width="1.2" height="1.2"/></g>
<g fill="#fc611b"><rect x="74.5" y="586.9" width="1.2" height="1.2"/><rect x="74.9" y="586.7" width="1.2" height="1.2"/><rect x="66.1" y="585.3" width="1.2" height="1.2"/><rect x="65.5" y="584.7" width="1.2" height="1.2"/><rect x="66.4" y="584.5" width="1.2" height="1.2"/><rect x="90.9" y="573.6" width="1.2" height="1.2"/><rect x="90.6" y="573.6" width="1.2" height="1.2"/><rect x="67.5" y="585.7" width="1.2" height="1.2"/></g>
<g fill="#fc601b"><rect x="79.5" y="562.8" width="1.2" height="1.2"/><rect x="79.6" y="562.8" width="1.2" height="1.2"/><rect x="79.5" y="562.7" width="1.2" height="1.2"/><rect x="70.8" y="564.1" width="1.2" height="1.2"/><rect x="70.5" y="564.2" width="1.2" height="1.2"/><rect x="70.8" y="563.9" width="1.2" height="1.2"/><rect x="83.7" y="582.4" width="1.2" height="1.2"/><rect x="83.6" y="581.6" width="1.2" height="1.2"/><rect x="84.0" y="582.3" width="1.2" height="1.2"/><rect x="83.9" y="582.3" width="1.2" height="1.2"/><rect x="84.1" y="581.7" width="1.2" height="1.2"/><rect x="83.5" y="581.4" width="1.2" height="1.2"/><rect x="83.7" y="581.7" width="1.2" height="1.2"/></g>
<g fill="#fc5f1b"><rect x="91.4" y="569.3" width="1.2" height="1.2"/><rect x="71.1" y="586.8" width="1.2" height="1.2"/><rect x="71.3" y="586.5" width="1.2" height="1.2"/></g>
<g fill="#fc5e1b"><rect x="74.1" y="587.3" width="1.2" height="1.2"/><rect x="73.8" y="587.4" width="1.2" height="1.2"/><rect x="74.2" y="563.1" width="1.2" height="1.2"/></g>
<g fill="#fc5e1a"><rect x="79.8" y="584.3" width="1.2" height="1.2"/><rect x="79.6" y="584.2" width="1.2" height="1.2"/><rect x="79.8" y="583.9" width="1.2" height="1.2"/><rect x="65.0" y="584.2" width="1.2" height="1.2"/></g>
<g fill="#fc5d1a"><rect x="72.1" y="586.7" width="1.2" height="1.2"/><rect x="72.2" y="586.8" width="1.2" height="1.2"/><rect x="71.5" y="586.9" width="1.2" height="1.2"/><rect x="71.4" y="586.5" width="1.2" height="1.2"/><rect x="77.0" y="585.9" width="1.2" height="1.2"/><rect x="76.7" y="586.2" width="1.2" height="1.2"/><rect x="77.1" y="585.8" width="1.2" height="1.2"/><rect x="73.2" y="586.5" width="1.2" height="1.2"/><rect x="72.4" y="587.0" width="1.2" height="1.2"/><rect x="91.1" y="572.5" width="1.2" height="1.2"/><rect x="91.0" y="572.9" width="1.2" height="1.2"/><rect x="84.6" y="580.9" width="1.2" height="1.2"/><rect x="85.3" y="580.6" width="1.2" height="1.2"/><rect x="85.2" y="581.1" width="1.2" height="1.2"/><rect x="87.7" y="577.6" width="1.2" height="1.2"/><rect x="87.6" y="578.0" width="1.2" height="1.2"/><rect x="87.7" y="578.1" width="1.2" height="1.2"/><rect x="88.1" y="578.0" width="1.2" height="1.2"/><rect x="88.2" y="577.6" width="1.2" height="1.2"/><rect x="88.1" y="577.5" width="1.2" height="1.2"/><rect x="87.9" y="578.0" width="1.2" height="1.2"/><rect x="62.9" y="573.9" width="1.2" height="1.2"/><rect x="63.1" y="574.1" width="1.2" height="1.2"/><rect x="63.1" y="573.7" width="1.2" height="1.2"/><rect x="62.7" y="573.7" width="1.2" height="1.2"/><rect x="82.3" y="583.0" width="1.2" height="1.2"/><rect x="81.5" y="583.1" width="1.2" height="1.2"/><rect x="81.5" y="583.0" width="1.2" height="1.2"/><rect x="82.3" y="582.6" width="1.2" height="1.2"/></g>
<g fill="#fc5c1a"><rect x="84.8" y="563.5" width="1.2" height="1.2"/><rect x="85.3" y="563.9" width="1.2" height="1.2"/><rect x="64.1" y="582.0" width="1.2" height="1.2"/></g>
<g fill="#fb5b1a"><rect x="86.5" y="564.5" width="1.2" height="1.2"/><rect x="86.9" y="564.5" width="1.2" height="1.2"/><rect x="86.7" y="565.2" width="1.2" height="1.2"/><rect x="87.2" y="564.5" width="1.2" height="1.2"/></g>
<g fill="#fb5a1a"><rect x="78.5" y="563.2" width="1.2" height="1.2"/><rect x="78.9" y="563.3" width="1.2" height="1.2"/></g>
<g fill="#fb591a"><rect x="90.9" y="571.4" width="1.2" height="1.2"/><rect x="90.9" y="572.1" width="1.2" height="1.2"/><rect x="91.1" y="572.3" width="1.2" height="1.2"/></g>
<g fill="#fb581a"><rect x="66.1" y="567.8" width="1.2" height="1.2"/><rect x="66.3" y="567.8" width="1.2" height="1.2"/><rect x="66.1" y="568.3" width="1.2" height="1.2"/><rect x="66.0" y="568.0" width="1.2" height="1.2"/><rect x="90.8" y="570.3" width="1.2" height="1.2"/><rect x="68.7" y="585.8" width="1.2" height="1.2"/><rect x="68.8" y="585.9" width="1.2" height="1.2"/></g>
<g fill="#fb571a"><rect x="78.3" y="585.1" width="1.2" height="1.2"/><rect x="77.9" y="584.9" width="1.2" height="1.2"/><rect x="68.6" y="565.4" width="1.2" height="1.2"/><rect x="69.1" y="565.4" width="1.2" height="1.2"/><rect x="68.5" y="564.7" width="1.2" height="1.2"/><rect x="68.5" y="565.2" width="1.2" height="1.2"/><rect x="69.1" y="564.8" width="1.2" height="1.2"/><rect x="68.9" y="564.7" width="1.2" height="1.2"/></g>
<g fill="#fb5719"><rect x="66.8" y="584.7" width="1.2" height="1.2"/><rect x="66.8" y="585.3" width="1.2" height="1.2"/><rect x="66.8" y="584.7" width="1.2" height="1.2"/></g>
<g fill="#fb5619"><rect x="90.6" y="570.8" width="1.2" height="1.2"/><rect x="91.3" y="571.1" width="1.2" height="1.2"/><rect x="74.9" y="562.8" width="1.2" height="1.2"/></g>
<g fill="#fb5519"><rect x="62.6" y="575.1" width="1.2" height="1.2"/><rect x="63.0" y="575.2" width="1.2" height="1.2"/><rect x="62.9" y="577.4" width="1.2" height="1.2"/><rect x="63.0" y="577.4" width="1.2" height="1.2"/><rect x="62.7" y="577.5" width="1.2" height="1.2"/><rect x="63.2" y="577.9" width="1.2" height="1.2"/><rect x="64.4" y="571.7" width="1.2" height="1.2"/><rect x="63.6" y="572.4" width="1.2" height="1.2"/><rect x="64.2" y="571.5" width="1.2" height="1.2"/></g>
<g fill="#fb5419"><rect x="89.5" y="575.9" width="1.2" height="1.2"/><rect x="89.7" y="575.5" width="1.2" height="1.2"/><rect x="65.3" y="569.8" width="1.2" height="1.2"/><rect x="64.6" y="569.9" width="1.2" height="1.2"/><rect x="65.0" y="569.8" width="1.2" height="1.2"/><rect x="64.5" y="569.6" width="1.2" height="1.2"/></g>
<g fill="#fb5319"><rect x="83.6" y="563.7" width="1.2" height="1.2"/><rect x="83.7" y="563.9" width="1.2" height="1.2"/><rect x="84.3" y="564.0" width="1.2" height="1.2"/><rect x="76.1" y="585.7" width="1.2" height="1.2"/><rect x="76.1" y="586.1" width="1.2" height="1.2"/><rect x="76.0" y="585.9" width="1.2" height="1.2"/></g>
<g fill="#fa5219"><rect x="89.2" y="577.1" width="1.2" height="1.2"/><rect x="89.4" y="576.7" width="1.2" height="1.2"/><rect x="88.8" y="577.0" width="1.2" height="1.2"/><rect x="89.3" y="577.2" width="1.2" height="1.2"/></g>
<g fill="#fa5119"><rect x="63.5" y="580.7" width="1.2" height="1.2"/><rect x="64.1" y="581.4" width="1.2" height="1.2"/><rect x="63.9" y="580.5" width="1.2" height="1.2"/><rect x="64.3" y="580.9" width="1.2" height="1.2"/><rect x="64.4" y="580.8" width="1.2" height="1.2"/><rect x="63.4" y="581.1" width="1.2" height="1.2"/><rect x="76.1" y="563.0" width="1.2" height="1.2"/><rect x="76.1" y="562.5" width="1.2" height="1.2"/><rect x="75.9" y="562.4" width="1.2" height="1.2"/><rect x="87.2" y="577.8" width="1.2" height="1.2"/><rect x="63.0" y="575.6" width="1.2" height="1.2"/><rect x="63.2" y="576.2" width="1.2" height="1.2"/><rect x="63.1" y="575.6" width="1.2" height="1.2"/><rect x="62.9" y="575.6" width="1.2" height="1.2"/><rect x="63.4" y="575.5" width="1.2" height="1.2"/><rect x="63.0" y="576.0" width="1.2" height="1.2"/><rect x="77.3" y="563.1" width="1.2" height="1.2"/><rect x="76.8" y="563.1" width="1.2" height="1.2"/><rect x="77.1" y="562.5" width="1.2" height="1.2"/><rect x="77.1" y="563.4" width="1.2" height="1.2"/><rect x="77.3" y="563.4" width="1.2" height="1.2"/><rect x="76.7" y="563.2" width="1.2" height="1.2"/></g>
<g fill="#fa5019"><rect x="87.7" y="565.7" width="1.2" height="1.2"/><rect x="87.8" y="565.5" width="1.2" height="1.2"/><rect x="88.3" y="566.4" width="1.2" height="1.2"/><rect x="63.2" y="576.5" width="1.2" height="1.2"/></g>
<g fill="#fa5018"><rect x="85.7" y="578.6" width="1.2" height="1.2"/><rect x="86.1" y="578.6" width="1.2" height="1.2"/><rect x="85.5" y="578.7" width="1.2" height="1.2"/><rect x="78.4" y="583.9" width="1.2" height="1.2"/><rect x="89.8" y="567.6" width="1.2" height="1.2"/><rect x="89.7" y="568.2" width="1.2" height="1.2"/></g>
<g fill="#fa4f18"><rect x="70.3" y="586.3" width="1.2" height="1.2"/><rect x="70.0" y="586.3" width="1.2" height="1.2"/><rect x="70.3" y="586.2" width="1.2" height="1.2"/><rect x="70.1" y="585.6" width="1.2" height="1.2"/><rect x="69.9" y="585.7" width="1.2" height="1.2"/><rect x="69.7" y="585.6" width="1.2" height="1.2"/></g>
<g fill="#fa4e18"><rect x="65.1" y="582.6" width="1.2" height="1.2"/><rect x="64.5" y="582.6" width="1.2" height="1.2"/><rect x="64.5" y="583.2" width="1.2" height="1.2"/><rect x="64.8" y="583.1" width="1.2" height="1.2"/><rect x="64.4" y="582.7" width="1.2" height="1.2"/><rect x="82.5" y="564.2" width="1.2" height="1.2"/><rect x="83.2" y="564.3" width="1.2" height="1.2"/><rect x="65.5" y="583.6" width="1.2" height="1.2"/><rect x="65.8" y="583.9" width="1.2" height="1.2"/><rect x="81.3" y="582.4" width="1.2" height="1.2"/></g>
<g fill="#fa4d18"><rect x="67.1" y="567.0" width="1.2" height="1.2"/><rect x="67.3" y="567.4" width="1.2" height="1.2"/><rect x="66.7" y="566.9" width="1.2" height="1.2"/></g>
<g fill="#fa4c18"><rect x="89.3" y="567.1" width="1.2" height="1.2"/><rect x="89.2" y="567.3" width="1.2" height="1.2"/><rect x="88.5" y="566.5" width="1.2" height="1.2"/><rect x="88.9" y="566.8" width="1.2" height="1.2"/><rect x="88.7" y="567.4" width="1.2" height="1.2"/></g>
<g fill="#fa4b18"><rect x="74.9" y="586.3" width="1.2" height="1.2"/><rect x="67.5" y="566.2" width="1.2" height="1.2"/><rect x="67.6" y="565.6" width="1.2" height="1.2"/><rect x="67.8" y="566.3" width="1.2" height="1.2"/><rect x="68.2" y="565.7" width="1.2" height="1.2"/><rect x="68.0" y="566.1" width="1.2" height="1.2"/><rect x="68.0" y="565.7" width="1.2" height="1.2"/><rect x="67.9" y="566.0" width="1.2" height="1.2"/></g>
<g fill="#f94b18"><rect x="85.4" y="565.2" width="1.2" height="1.2"/><rect x="86.4" y="565.2" width="1.2" height="1.2"/><rect x="86.2" y="565.0" width="1.2" height="1.2"/><rect x="86.0" y="565.4" width="1.2" height="1.2"/><rect x="77.0" y="584.5" width="1.2" height="1.2"/><rect x="76.6" y="585.2" width="1.2" height="1.2"/><rect x="76.5" y="584.6" width="1.2" height="1.2"/></g>
<g fill="#f94a18"><rect x="89.9" y="574.4" width="1.2" height="1.2"/><rect x="90.0" y="574.9" width="1.2" height="1.2"/><rect x="89.8" y="574.5" width="1.2" height="1.2"/><rect x="90.1" y="575.1" width="1.2" height="1.2"/><rect x="71.2" y="585.8" width="1.2" height="1.2"/><rect x="71.4" y="586.0" width="1.2" height="1.2"/></g>
<g fill="#f94918"><rect x="82.6" y="581.9" width="1.2" height="1.2"/></g>
<g fill="#f94817"><rect x="80.4" y="563.9" width="1.2" height="1.2"/><rect x="80.7" y="564.3" width="1.2" height="1.2"/><rect x="81.0" y="563.7" width="1.2" height="1.2"/><rect x="80.8" y="563.4" width="1.2" height="1.2"/><rect x="87.7" y="577.0" width="1.2" height="1.2"/><rect x="87.4" y="577.2" width="1.2" height="1.2"/><rect x="88.0" y="576.7" width="1.2" height="1.2"/></g>
<g fill="#f94717"><rect x="69.8" y="564.9" width="1.2" height="1.2"/><rect x="69.7" y="565.2" width="1.2" height="1.2"/><rect x="69.5" y="564.5" width="1.2" height="1.2"/><rect x="64.3" y="580.4" width="1.2" height="1.2"/><rect x="63.9" y="579.8" width="1.2" height="1.2"/><rect x="64.2" y="580.1" width="1.2" height="1.2"/><rect x="64.0" y="572.9" width="1.2" height="1.2"/><rect x="63.9" y="572.8" width="1.2" height="1.2"/><rect x="64.0" y="573.1" width="1.2" height="1.2"/><rect x="64.0" y="573.2" width="1.2" height="1.2"/><rect x="73.9" y="586.0" width="1.2" height="1.2"/><rect x="73.7" y="585.5" width="1.2" height="1.2"/><rect x="74.2" y="586.2" width="1.2" height="1.2"/><rect x="74.2" y="586.2" width="1.2" height="1.2"/><rect x="74.3" y="585.9" width="1.2" height="1.2"/><rect x="74.1" y="585.5" width="1.2" height="1.2"/><rect x="73.9" y="586.3" width="1.2" height="1.2"/><rect x="74.4" y="586.0" width="1.2" height="1.2"/></g>
<g fill="#f94617"><rect x="72.0" y="585.5" width="1.2" height="1.2"/><rect x="71.5" y="586.1" width="1.2" height="1.2"/></g>
<g fill="#f94517"><rect x="72.8" y="585.9" width="1.2" height="1.2"/><rect x="72.7" y="586.1" width="1.2" height="1.2"/><rect x="72.9" y="586.1" width="1.2" height="1.2"/><rect x="72.7" y="585.5" width="1.2" height="1.2"/><rect x="73.2" y="585.6" width="1.2" height="1.2"/><rect x="73.1" y="586.3" width="1.2" height="1.2"/></g>
<g fill="#f94417"><rect x="85.3" y="579.6" width="1.2" height="1.2"/><rect x="85.3" y="580.2" width="1.2" height="1.2"/><rect x="84.6" y="579.4" width="1.2" height="1.2"/><rect x="84.9" y="579.7" width="1.2" height="1.2"/><rect x="68.8" y="585.3" width="1.2" height="1.2"/><rect x="69.2" y="584.8" width="1.2" height="1.2"/><rect x="68.7" y="584.7" width="1.2" height="1.2"/></g>
<g fill="#f94317"><rect x="79.9" y="564.2" width="1.2" height="1.2"/><rect x="79.9" y="564.3" width="1.2" height="1.2"/></g>
<g fill="#f84216"><rect x="65.6" y="568.7" width="1.2" height="1.2"/><rect x="66.3" y="569.0" width="1.2" height="1.2"/><rect x="65.5" y="568.5" width="1.2" height="1.2"/><rect x="66.3" y="568.5" width="1.2" height="1.2"/><rect x="65.2" y="571.1" width="1.2" height="1.2"/><rect x="65.2" y="570.8" width="1.2" height="1.2"/><rect x="65.1" y="571.2" width="1.2" height="1.2"/><rect x="89.5" y="573.7" width="1.2" height="1.2"/><rect x="89.6" y="573.7" width="1.2" height="1.2"/><rect x="89.7" y="574.1" width="1.2" height="1.2"/><rect x="89.5" y="574.0" width="1.2" height="1.2"/><rect x="89.7" y="574.3" width="1.2" height="1.2"/><rect x="89.6" y="573.5" width="1.2" height="1.2"/></g>
<g fill="#f84116"><rect x="77.7" y="583.5" width="1.2" height="1.2"/><rect x="77.5" y="583.6" width="1.2" height="1.2"/><rect x="77.7" y="583.6" width="1.2" height="1.2"/><rect x="88.9" y="575.6" width="1.2" height="1.2"/><rect x="89.2" y="576.2" width="1.2" height="1.2"/><rect x="88.8" y="576.1" width="1.2" height="1.2"/><rect x="88.8" y="576.1" width="1.2" height="1.2"/><rect x="88.7" y="575.6" width="1.2" height="1.2"/><rect x="89.1" y="576.0" width="1.2" height="1.2"/><rect x="88.7" y="576.3" width="1.2" height="1.2"/><rect x="66.4" y="584.2" width="1.2" height="1.2"/><rect x="66.9" y="584.2" width="1.2" height="1.2"/><rect x="66.7" y="583.5" width="1.2" height="1.2"/><rect x="66.7" y="584.2" width="1.2" height="1.2"/><rect x="66.6" y="583.5" width="1.2" height="1.2"/><rect x="66.8" y="584.4" width="1.2" height="1.2"/></g>
<g fill="#f84016"><rect x="64.7" y="582.3" width="1.2" height="1.2"/><rect x="65.0" y="582.1" width="1.2" height="1.2"/><rect x="64.9" y="581.5" width="1.2" height="1.2"/><rect x="89.7" y="568.6" width="1.2" height="1.2"/><rect x="89.6" y="569.3" width="1.2" height="1.2"/><rect x="90.3" y="568.7" width="1.2" height="1.2"/><rect x="90.0" y="568.4" width="1.2" height="1.2"/><rect x="89.5" y="569.4" width="1.2" height="1.2"/><rect x="89.5" y="568.5" width="1.2" height="1.2"/><rect x="90.3" y="569.4" width="1.2" height="1.2"/><rect x="90.2" y="568.7" width="1.2" height="1.2"/><rect x="89.5" y="568.9" width="1.2" height="1.2"/><rect x="79.7" y="582.9" width="1.2" height="1.2"/></g>
<g fill="#f83f16"><rect x="75.7" y="585.0" width="1.2" height="1.2"/><rect x="76.0" y="584.7" width="1.2" height="1.2"/><rect x="76.4" y="584.6" width="1.2" height="1.2"/><rect x="83.8" y="580.6" width="1.2" height="1.2"/><rect x="83.8" y="580.7" width="1.2" height="1.2"/><rect x="83.7" y="581.0" width="1.2" height="1.2"/></g>
<g fill="#f83e16"><rect x="73.7" y="563.9" width="1.2" height="1.2"/><rect x="74.0" y="563.4" width="1.2" height="1.2"/><rect x="74.3" y="564.2" width="1.2" height="1.2"/><rect x="73.8" y="563.8" width="1.2" height="1.2"/><rect x="73.7" y="564.0" width="1.2" height="1.2"/><rect x="73.7" y="563.5" width="1.2" height="1.2"/></g>
<g fill="#f83d16"><rect x="63.6" y="578.7" width="1.2" height="1.2"/><rect x="64.3" y="578.4" width="1.2" height="1.2"/><rect x="63.9" y="579.3" width="1.2" height="1.2"/><rect x="63.7" y="578.5" width="1.2" height="1.2"/><rect x="63.9" y="578.8" width="1.2" height="1.2"/><rect x="64.0" y="578.5" width="1.2" height="1.2"/><rect x="86.4" y="576.4" width="1.2" height="1.2"/><rect x="87.2" y="576.5" width="1.2" height="1.2"/><rect x="86.9" y="577.1" width="1.2" height="1.2"/><rect x="87.1" y="577.3" width="1.2" height="1.2"/></g>
<g fill="#f83c16"><rect x="78.5" y="564.0" width="1.2" height="1.2"/><rect x="79.2" y="563.7" width="1.2" height="1.2"/><rect x="85.5" y="578.2" width="1.2" height="1.2"/><rect x="63.5" y="573.4" width="1.2" height="1.2"/><rect x="63.5" y="574.3" width="1.2" height="1.2"/><rect x="64.0" y="573.8" width="1.2" height="1.2"/><rect x="64.3" y="573.4" width="1.2" height="1.2"/><rect x="84.8" y="564.7" width="1.2" height="1.2"/><rect x="69.6" y="584.5" width="1.2" height="1.2"/><rect x="69.6" y="585.3" width="1.2" height="1.2"/><rect x="69.8" y="585.1" width="1.2" height="1.2"/><rect x="70.0" y="585.1" width="1.2" height="1.2"/></g>
<g fill="#f73a16"><rect x="66.3" y="582.9" width="1.2" height="1.2"/><rect x="65.5" y="582.6" width="1.2" height="1.2"/><rect x="65.5" y="583.2" width="1.2" height="1.2"/><rect x="65.7" y="583.3" width="1.2" height="1.2"/><rect x="65.9" y="583.1" width="1.2" height="1.2"/><rect x="89.7" y="572.6" width="1.2" height="1.2"/><rect x="90.3" y="572.9" width="1.2" height="1.2"/><rect x="90.1" y="573.3" width="1.2" height="1.2"/><rect x="89.4" y="572.9" width="1.2" height="1.2"/><rect x="89.9" y="573.3" width="1.2" height="1.2"/><rect x="71.2" y="564.6" width="1.2" height="1.2"/><rect x="71.1" y="564.8" width="1.2" height="1.2"/></g>
<g fill="#f63716"><rect x="67.7" y="583.8" width="1.2" height="1.2"/><rect x="68.2" y="584.2" width="1.2" height="1.2"/><rect x="68.3" y="583.9" width="1.2" height="1.2"/><rect x="88.2" y="567.4" width="1.2" height="1.2"/><rect x="88.2" y="567.1" width="1.2" height="1.2"/><rect x="87.5" y="566.6" width="1.2" height="1.2"/></g>
<g fill="#f53616"><rect x="82.2" y="581.6" width="1.2" height="1.2"/><rect x="74.9" y="564.0" width="1.2" height="1.2"/><rect x="74.7" y="563.7" width="1.2" height="1.2"/><rect x="74.7" y="584.8" width="1.2" height="1.2"/><rect x="63.6" y="578.1" width="1.2" height="1.2"/><rect x="64.0" y="577.6" width="1.2" height="1.2"/><rect x="63.9" y="577.6" width="1.2" height="1.2"/><rect x="64.2" y="577.5" width="1.2" height="1.2"/><rect x="64.0" y="577.5" width="1.2" height="1.2"/><rect x="77.7" y="563.6" width="1.2" height="1.2"/><rect x="77.7" y="564.2" width="1.2" height="1.2"/><rect x="77.4" y="564.4" width="1.2" height="1.2"/><rect x="78.2" y="564.2" width="1.2" height="1.2"/><rect x="78.1" y="563.9" width="1.2" height="1.2"/><rect x="78.4" y="563.9" width="1.2" height="1.2"/><rect x="89.1" y="567.9" width="1.2" height="1.2"/><rect x="71.0" y="585.3" width="1.2" height="1.2"/><rect x="70.5" y="585.1" width="1.2" height="1.2"/><rect x="71.4" y="585.2" width="1.2" height="1.2"/><rect x="90.3" y="569.4" width="1.2" height="1.2"/><rect x="90.1" y="569.7" width="1.2" height="1.2"/><rect x="90.2" y="569.6" width="1.2" height="1.2"/><rect x="89.6" y="569.9" width="1.2" height="1.2"/><rect x="90.0" y="570.1" width="1.2" height="1.2"/><rect x="90.2" y="569.7" width="1.2" height="1.2"/></g>
<g fill="#f53516"><rect x="87.7" y="576.1" width="1.2" height="1.2"/><rect x="88.1" y="576.3" width="1.2" height="1.2"/><rect x="87.5" y="576.4" width="1.2" height="1.2"/><rect x="88.2" y="575.5" width="1.2" height="1.2"/><rect x="63.5" y="574.6" width="1.2" height="1.2"/><rect x="66.8" y="568.0" width="1.2" height="1.2"/><rect x="66.8" y="567.7" width="1.2" height="1.2"/><rect x="66.6" y="568.0" width="1.2" height="1.2"/><rect x="90.4" y="571.7" width="1.2" height="1.2"/><rect x="90.1" y="571.4" width="1.2" height="1.2"/><rect x="89.9" y="572.3" width="1.2" height="1.2"/><rect x="68.5" y="565.8" width="1.2" height="1.2"/><rect x="69.3" y="566.3" width="1.2" height="1.2"/><rect x="68.6" y="566.0" width="1.2" height="1.2"/><rect x="69.2" y="566.0" width="1.2" height="1.2"/><rect x="68.6" y="566.3" width="1.2" height="1.2"/></g>
<g fill="#f53416"><rect x="76.6" y="584.2" width="1.2" height="1.2"/><rect x="76.9" y="583.9" width="1.2" height="1.2"/><rect x="77.0" y="583.5" width="1.2" height="1.2"/></g>
<g fill="#f43416"><rect x="64.5" y="580.6" width="1.2" height="1.2"/><rect x="64.9" y="580.9" width="1.2" height="1.2"/><rect x="64.7" y="581.3" width="1.2" height="1.2"/><rect x="65.2" y="581.1" width="1.2" height="1.2"/><rect x="65.2" y="581.0" width="1.2" height="1.2"/><rect x="89.3" y="574.7" width="1.2" height="1.2"/><rect x="88.5" y="575.3" width="1.2" height="1.2"/><rect x="88.8" y="575.2" width="1.2" height="1.2"/><rect x="88.7" y="575.1" width="1.2" height="1.2"/></g>
<g fill="#f43216"><rect x="75.7" y="564.1" width="1.2" height="1.2"/><rect x="76.3" y="564.2" width="1.2" height="1.2"/><rect x="76.0" y="563.8" width="1.2" height="1.2"/><rect x="76.2" y="563.7" width="1.2" height="1.2"/><rect x="90.3" y="571.2" width="1.2" height="1.2"/><rect x="90.0" y="570.7" width="1.2" height="1.2"/><rect x="89.5" y="571.4" width="1.2" height="1.2"/><rect x="90.3" y="571.1" width="1.2" height="1.2"/><rect x="89.5" y="571.0" width="1.2" height="1.2"/><rect x="79.1" y="583.2" width="1.2" height="1.2"/><rect x="64.6" y="571.7" width="1.2" height="1.2"/><rect x="64.5" y="572.2" width="1.2" height="1.2"/><rect x="77.2" y="563.9" width="1.2" height="1.2"/><rect x="76.9" y="564.1" width="1.2" height="1.2"/><rect x="76.8" y="564.3" width="1.2" height="1.2"/><rect x="76.6" y="563.6" width="1.2" height="1.2"/><rect x="77.0" y="563.6" width="1.2" height="1.2"/><rect x="76.9" y="563.5" width="1.2" height="1.2"/><rect x="63.9" y="576.5" width="1.2" height="1.2"/><rect x="63.8" y="577.3" width="1.2" height="1.2"/><rect x="63.9" y="576.5" width="1.2" height="1.2"/><rect x="64.0" y="577.1" width="1.2" height="1.2"/><rect x="63.9" y="577.3" width="1.2" height="1.2"/><rect x="64.3" y="576.0" width="1.2" height="1.2"/><rect x="63.8" y="576.1" width="1.2" height="1.2"/><rect x="72.1" y="585.2" width="1.2" height="1.2"/><rect x="71.9" y="584.7" width="1.2" height="1.2"/></g>
<g fill="#f33116"><rect x="84.0" y="565.3" width="1.2" height="1.2"/><rect x="84.4" y="564.4" width="1.2" height="1.2"/><rect x="84.1" y="564.9" width="1.2" height="1.2"/><rect x="83.5" y="564.5" width="1.2" height="1.2"/><rect x="84.4" y="564.5" width="1.2" height="1.2"/><rect x="84.2" y="564.8" width="1.2" height="1.2"/><rect x="83.9" y="564.4" width="1.2" height="1.2"/><rect x="84.4" y="565.0" width="1.2" height="1.2"/><rect x="73.8" y="585.1" width="1.2" height="1.2"/><rect x="73.6" y="584.6" width="1.2" height="1.2"/><rect x="74.3" y="585.3" width="1.2" height="1.2"/><rect x="73.6" y="585.3" width="1.2" height="1.2"/><rect x="74.0" y="585.0" width="1.2" height="1.2"/><rect x="74.0" y="584.9" width="1.2" height="1.2"/></g>
<g fill="#f33016"><rect x="73.0" y="584.7" width="1.2" height="1.2"/><rect x="72.9" y="584.5" width="1.2" height="1.2"/><rect x="72.4" y="584.5" width="1.2" height="1.2"/><rect x="73.3" y="585.0" width="1.2" height="1.2"/><rect x="71.4" y="565.3" width="1.2" height="1.2"/></g>
<g fill="#f32f16"><rect x="84.4" y="578.9" width="1.2" height="1.2"/><rect x="84.9" y="578.7" width="1.2" height="1.2"/><rect x="84.9" y="579.3" width="1.2" height="1.2"/><rect x="69.4" y="583.6" width="1.2" height="1.2"/><rect x="68.8" y="583.7" width="1.2" height="1.2"/></g>
<g fill="#f22f16"><rect x="68.2" y="566.7" width="1.2" height="1.2"/><rect x="66.1" y="570.2" width="1.2" height="1.2"/><rect x="66.2" y="569.6" width="1.2" height="1.2"/></g>
<g fill="#f12c16"><rect x="86.1" y="565.8" width="1.2" height="1.2"/><rect x="85.5" y="566.1" width="1.2" height="1.2"/><rect x="86.4" y="566.1" width="1.2" height="1.2"/><rect x="86.2" y="565.4" width="1.2" height="1.2"/><rect x="86.0" y="565.8" width="1.2" height="1.2"/><rect x="86.3" y="565.9" width="1.2" height="1.2"/><rect x="66.8" y="583.1" width="1.2" height="1.2"/><rect x="66.8" y="582.9" width="1.2" height="1.2"/><rect x="67.3" y="582.7" width="1.2" height="1.2"/><rect x="67.1" y="583.2" width="1.2" height="1.2"/><rect x="82.8" y="565.1" width="1.2" height="1.2"/><rect x="82.9" y="564.6" width="1.2" height="1.2"/></g>
<g fill="#f02a16"><rect x="66.1" y="581.6" width="1.2" height="1.2"/><rect x="65.5" y="581.6" width="1.2" height="1.2"/><rect x="65.5" y="581.6" width="1.2" height="1.2"/><rect x="65.9" y="582.3" width="1.2" height="1.2"/><rect x="85.8" y="577.0" width="1.2" height="1.2"/></g>
<g fill="#f02916"><rect x="76.3" y="583.7" width="1.2" height="1.2"/><rect x="75.7" y="584.2" width="1.2" height="1.2"/><rect x="82.3" y="564.7" width="1.2" height="1.2"/><rect x="82.0" y="565.4" width="1.2" height="1.2"/><rect x="81.7" y="564.7" width="1.2" height="1.2"/><rect x="81.5" y="564.4" width="1.2" height="1.2"/><rect x="64.6" y="579.9" width="1.2" height="1.2"/><rect x="64.8" y="580.0" width="1.2" height="1.2"/><rect x="64.8" y="579.5" width="1.2" height="1.2"/><rect x="64.5" y="580.0" width="1.2" height="1.2"/><rect x="64.8" y="580.4" width="1.2" height="1.2"/><rect x="87.3" y="575.6" width="1.2" height="1.2"/><rect x="69.9" y="583.6" width="1.2" height="1.2"/><rect x="69.9" y="583.4" width="1.2" height="1.2"/><rect x="69.9" y="584.3" width="1.2" height="1.2"/><rect x="69.9" y="583.9" width="1.2" height="1.2"/><rect x="69.6" y="583.7" width="1.2" height="1.2"/><rect x="70.2" y="583.9" width="1.2" height="1.2"/><rect x="69.5" y="584.2" width="1.2" height="1.2"/></g>
<g fill="#f02816"><rect x="80.5" y="565.2" width="1.2" height="1.2"/><rect x="81.3" y="565.1" width="1.2" height="1.2"/><rect x="80.6" y="564.5" width="1.2" height="1.2"/><rect x="81.0" y="564.5" width="1.2" height="1.2"/><rect x="88.7" y="574.3" width="1.2" height="1.2"/><rect x="89.1" y="573.7" width="1.2" height="1.2"/><rect x="88.8" y="573.4" width="1.2" height="1.2"/><rect x="89.3" y="573.4" width="1.2" height="1.2"/><rect x="88.7" y="574.3" width="1.2" height="1.2"/></g>
<g fill="#ef2716"><rect x="80.7" y="581.4" width="1.2" height="1.2"/><rect x="81.0" y="582.2" width="1.2" height="1.2"/><rect x="80.5" y="581.5" width="1.2" height="1.2"/></g>
<g fill="#ef2616"><rect x="72.5" y="564.5" width="1.2" height="1.2"/><rect x="72.6" y="565.1" width="1.2" height="1.2"/><rect x="72.7" y="564.4" width="1.2" height="1.2"/><rect x="73.3" y="565.3" width="1.2" height="1.2"/></g>
<g fill="#ef2516"><rect x="78.1" y="583.1" width="1.2" height="1.2"/><rect x="78.0" y="582.5" width="1.2" height="1.2"/><rect x="78.3" y="583.2" width="1.2" height="1.2"/><rect x="78.3" y="583.3" width="1.2" height="1.2"/><rect x="78.3" y="583.3" width="1.2" height="1.2"/></g>
<g fill="#ee2516"><rect x="65.2" y="572.9" width="1.2" height="1.2"/><rect x="64.9" y="573.3" width="1.2" height="1.2"/><rect x="64.8" y="573.3" width="1.2" height="1.2"/><rect x="64.5" y="573.1" width="1.2" height="1.2"/><rect x="80.1" y="565.2" width="1.2" height="1.2"/><rect x="80.2" y="565.1" width="1.2" height="1.2"/><rect x="79.8" y="564.7" width="1.2" height="1.2"/><rect x="79.7" y="564.6" width="1.2" height="1.2"/><rect x="80.2" y="564.6" width="1.2" height="1.2"/></g>
<g fill="#ee2416"><rect x="83.2" y="581.2" width="1.2" height="1.2"/><rect x="83.2" y="581.0" width="1.2" height="1.2"/><rect x="70.2" y="566.2" width="1.2" height="1.2"/><rect x="69.8" y="566.3" width="1.2" height="1.2"/><rect x="69.7" y="565.8" width="1.2" height="1.2"/><rect x="69.4" y="565.8" width="1.2" height="1.2"/><rect x="88.1" y="574.8" width="1.2" height="1.2"/><rect x="88.1" y="575.3" width="1.2" height="1.2"/></g>
<g fill="#ee2316"><rect x="89.0" y="569.2" width="1.2" height="1.2"/><rect x="70.6" y="584.4" width="1.2" height="1.2"/><rect x="71.3" y="584.0" width="1.2" height="1.2"/><rect x="86.8" y="566.5" width="1.2" height="1.2"/><rect x="86.8" y="566.7" width="1.2" height="1.2"/><rect x="86.6" y="566.8" width="1.2" height="1.2"/></g>
<g fill="#ed2216"><rect x="83.5" y="579.6" width="1.2" height="1.2"/><rect x="83.4" y="580.2" width="1.2" height="1.2"/><rect x="84.4" y="580.4" width="1.2" height="1.2"/><rect x="84.1" y="579.8" width="1.2" height="1.2"/><rect x="84.2" y="580.4" width="1.2" height="1.2"/><rect x="84.4" y="580.0" width="1.2" height="1.2"/><rect x="67.5" y="582.6" width="1.2" height="1.2"/><rect x="67.4" y="582.6" width="1.2" height="1.2"/><rect x="68.0" y="583.2" width="1.2" height="1.2"/><rect x="67.7" y="583.3" width="1.2" height="1.2"/><rect x="67.7" y="583.1" width="1.2" height="1.2"/><rect x="68.3" y="582.6" width="1.2" height="1.2"/><rect x="67.5" y="583.3" width="1.2" height="1.2"/></g>
<g fill="#ed2116"><rect x="75.0" y="583.9" width="1.2" height="1.2"/><rect x="75.2" y="583.6" width="1.2" height="1.2"/></g>
<g fill="#ec2016"><rect x="64.7" y="579.2" width="1.2" height="1.2"/></g>
<g fill="#ec1f16"><rect x="67.0" y="568.8" width="1.2" height="1.2"/><rect x="66.9" y="568.5" width="1.2" height="1.2"/><rect x="66.9" y="569.2" width="1.2" height="1.2"/><rect x="66.9" y="568.6" width="1.2" height="1.2"/><rect x="87.7" y="567.8" width="1.2" height="1.2"/><rect x="88.0" y="568.2" width="1.2" height="1.2"/><rect x="88.4" y="567.5" width="1.2" height="1.2"/><rect x="87.7" y="568.0" width="1.2" height="1.2"/><rect x="79.2" y="564.8" width="1.2" height="1.2"/><rect x="79.1" y="564.5" width="1.2" height="1.2"/><rect x="78.7" y="565.2" width="1.2" height="1.2"/><rect x="78.4" y="565.0" width="1.2" height="1.2"/><rect x="71.7" y="583.7" width="1.2" height="1.2"/><rect x="72.0" y="584.0" width="1.2" height="1.2"/></g>
<g fill="#ec1e16"><rect x="73.5" y="564.9" width="1.2" height="1.2"/><rect x="74.3" y="565.0" width="1.2" height="1.2"/><rect x="74.4" y="565.4" width="1.2" height="1.2"/><rect x="66.0" y="570.8" width="1.2" height="1.2"/></g>
<g fill="#eb1c16"><rect x="89.2" y="572.9" width="1.2" height="1.2"/><rect x="89.4" y="573.2" width="1.2" height="1.2"/><rect x="89.1" y="573.3" width="1.2" height="1.2"/><rect x="74.0" y="583.6" width="1.2" height="1.2"/><rect x="74.4" y="583.6" width="1.2" height="1.2"/><rect x="73.7" y="584.4" width="1.2" height="1.2"/><rect x="74.0" y="583.6" width="1.2" height="1.2"/><rect x="73.8" y="583.6" width="1.2" height="1.2"/><rect x="74.3" y="583.9" width="1.2" height="1.2"/><rect x="72.8" y="584.1" width="1.2" height="1.2"/><rect x="73.3" y="583.8" width="1.2" height="1.2"/><rect x="73.2" y="584.0" width="1.2" height="1.2"/><rect x="72.5" y="584.2" width="1.2" height="1.2"/></g>
<g fill="#eb1b16"><rect x="85.3" y="566.2" width="1.2" height="1.2"/><rect x="84.6" y="565.6" width="1.2" height="1.2"/><rect x="84.5" y="566.1" width="1.2" height="1.2"/><rect x="85.0" y="565.4" width="1.2" height="1.2"/><rect x="85.2" y="565.8" width="1.2" height="1.2"/><rect x="66.0" y="581.2" width="1.2" height="1.2"/><rect x="65.9" y="580.9" width="1.2" height="1.2"/></g>
<g fill="#ea1a16"><rect x="65.2" y="573.9" width="1.2" height="1.2"/><rect x="65.3" y="574.0" width="1.2" height="1.2"/><rect x="65.4" y="573.6" width="1.2" height="1.2"/><rect x="69.1" y="583.1" width="1.2" height="1.2"/><rect x="69.2" y="583.3" width="1.2" height="1.2"/><rect x="79.9" y="582.2" width="1.2" height="1.2"/><rect x="80.0" y="581.5" width="1.2" height="1.2"/><rect x="80.0" y="581.8" width="1.2" height="1.2"/><rect x="79.8" y="582.4" width="1.2" height="1.2"/></g>
<g fill="#ea1916"><rect x="77.2" y="582.7" width="1.2" height="1.2"/><rect x="76.9" y="582.5" width="1.2" height="1.2"/><rect x="78.2" y="564.7" width="1.2" height="1.2"/><rect x="77.4" y="565.0" width="1.2" height="1.2"/><rect x="67.0" y="582.0" width="1.2" height="1.2"/><rect x="66.4" y="581.9" width="1.2" height="1.2"/><rect x="66.5" y="582.3" width="1.2" height="1.2"/><rect x="66.5" y="581.6" width="1.2" height="1.2"/><rect x="67.0" y="581.6" width="1.2" height="1.2"/><rect x="67.2" y="582.2" width="1.2" height="1.2"/><rect x="67.2" y="582.1" width="1.2" height="1.2"/></g>
<g fill="#e91816"><rect x="65.2" y="577.8" width="1.2" height="1.2"/><rect x="64.5" y="578.0" width="1.2" height="1.2"/><rect x="65.1" y="578.0" width="1.2" height="1.2"/><rect x="65.4" y="577.4" width="1.2" height="1.2"/><rect x="64.6" y="577.5" width="1.2" height="1.2"/><rect x="75.0" y="564.7" width="1.2" height="1.2"/><rect x="75.4" y="564.5" width="1.2" height="1.2"/><rect x="74.6" y="564.6" width="1.2" height="1.2"/></g>
<g fill="#e91616"><rect x="68.4" y="567.0" width="1.2" height="1.2"/><rect x="69.3" y="566.8" width="1.2" height="1.2"/><rect x="68.5" y="567.2" width="1.2" height="1.2"/><rect x="68.8" y="566.9" width="1.2" height="1.2"/><rect x="68.6" y="566.9" width="1.2" height="1.2"/><rect x="71.4" y="566.2" width="1.2" height="1.2"/><rect x="71.1" y="565.4" width="1.2" height="1.2"/><rect x="70.9" y="565.8" width="1.2" height="1.2"/><rect x="70.8" y="566.0" width="1.2" height="1.2"/></g>
<g fill="#e81616"><rect x="89.2" y="569.8" width="1.2" height="1.2"/><rect x="88.7" y="569.7" width="1.2" height="1.2"/><rect x="88.6" y="569.4" width="1.2" height="1.2"/><rect x="89.2" y="569.9" width="1.2" height="1.2"/><rect x="89.1" y="569.8" width="1.2" height="1.2"/><rect x="88.5" y="570.0" width="1.2" height="1.2"/><rect x="68.0" y="567.9" width="1.2" height="1.2"/><rect x="68.1" y="567.7" width="1.2" height="1.2"/><rect x="68.2" y="567.8" width="1.2" height="1.2"/><rect x="67.5" y="567.4" width="1.2" height="1.2"/><rect x="67.4" y="568.0" width="1.2" height="1.2"/></g>
<g fill="#e81516"><rect x="85.6" y="575.8" width="1.2" height="1.2"/><rect x="85.6" y="576.2" width="1.2" height="1.2"/><rect x="77.3" y="565.1" width="1.2" height="1.2"/><rect x="76.5" y="565.4" width="1.2" height="1.2"/><rect x="77.3" y="564.6" width="1.2" height="1.2"/><rect x="77.0" y="564.4" width="1.2" height="1.2"/><rect x="76.8" y="564.6" width="1.2" height="1.2"/><rect x="76.4" y="564.4" width="1.2" height="1.2"/><rect x="75.6" y="564.9" width="1.2" height="1.2"/><rect x="76.0" y="565.0" width="1.2" height="1.2"/></g>
<g fill="#e81416"><rect x="70.3" y="583.4" width="1.2" height="1.2"/><rect x="69.6" y="583.1" width="1.2" height="1.2"/><rect x="70.3" y="583.3" width="1.2" height="1.2"/><rect x="70.3" y="583.0" width="1.2" height="1.2"/><rect x="86.6" y="574.7" width="1.2" height="1.2"/><rect x="86.9" y="575.0" width="1.2" height="1.2"/><rect x="86.6" y="574.6" width="1.2" height="1.2"/><rect x="87.2" y="574.9" width="1.2" height="1.2"/><rect x="87.0" y="575.4" width="1.2" height="1.2"/><rect x="86.7" y="574.9" width="1.2" height="1.2"/><rect x="88.7" y="571.5" width="1.2" height="1.2"/><rect x="88.9" y="571.9" width="1.2" height="1.2"/><rect x="88.8" y="572.2" width="1.2" height="1.2"/><rect x="64.5" y="574.6" width="1.2" height="1.2"/><rect x="64.7" y="575.0" width="1.2" height="1.2"/><rect x="64.7" y="574.7" width="1.2" height="1.2"/><rect x="65.3" y="575.3" width="1.2" height="1.2"/><rect x="64.5" y="574.9" width="1.2" height="1.2"/><rect x="65.4" y="575.0" width="1.2" height="1.2"/></g>
<g fill="#e71316"><rect x="64.5" y="576.8" width="1.2" height="1.2"/><rect x="64.7" y="576.8" width="1.2" height="1.2"/><rect x="64.5" y="576.6" width="1.2" height="1.2"/><rect x="65.3" y="577.0" width="1.2" height="1.2"/></g>
<g fill="#e71216"><rect x="87.9" y="574.4" width="1.2" height="1.2"/><rect x="87.9" y="574.0" width="1.2" height="1.2"/><rect x="87.8" y="574.3" width="1.2" height="1.2"/><rect x="87.9" y="573.8" width="1.2" height="1.2"/><rect x="87.4" y="573.6" width="1.2" height="1.2"/></g>
<g fill="#e71116"><rect x="65.2" y="576.0" width="1.2" height="1.2"/><rect x="64.9" y="575.4" width="1.2" height="1.2"/></g>
<g fill="#e61116"><rect x="89.0" y="570.8" width="1.2" height="1.2"/><rect x="89.2" y="571.4" width="1.2" height="1.2"/><rect x="88.4" y="570.6" width="1.2" height="1.2"/><rect x="89.1" y="570.9" width="1.2" height="1.2"/></g>
<g fill="#e60f16"><rect x="71.3" y="582.8" width="1.2" height="1.2"/><rect x="70.9" y="582.6" width="1.2" height="1.2"/><rect x="70.8" y="582.6" width="1.2" height="1.2"/><rect x="76.2" y="582.7" width="1.2" height="1.2"/><rect x="75.5" y="582.5" width="1.2" height="1.2"/><rect x="76.2" y="582.7" width="1.2" height="1.2"/><rect x="75.5" y="582.9" width="1.2" height="1.2"/><rect x="76.0" y="583.3" width="1.2" height="1.2"/><rect x="76.2" y="582.7" width="1.2" height="1.2"/><rect x="66.4" y="580.2" width="1.2" height="1.2"/><rect x="66.2" y="579.9" width="1.2" height="1.2"/><rect x="65.5" y="579.8" width="1.2" height="1.2"/><rect x="66.2" y="571.6" width="1.2" height="1.2"/><rect x="65.6" y="571.5" width="1.2" height="1.2"/></g>
<g fill="#e50e16"><rect x="86.0" y="566.5" width="1.2" height="1.2"/><rect x="85.5" y="566.5" width="1.2" height="1.2"/><rect x="85.8" y="567.3" width="1.2" height="1.2"/><rect x="83.5" y="565.8" width="1.2" height="1.2"/><rect x="84.2" y="565.4" width="1.2" height="1.2"/><rect x="82.0" y="580.9" width="1.2" height="1.2"/><rect x="81.8" y="580.7" width="1.2" height="1.2"/><rect x="82.0" y="580.7" width="1.2" height="1.2"/><rect x="81.6" y="580.5" width="1.2" height="1.2"/><rect x="79.4" y="582.0" width="1.2" height="1.2"/><rect x="78.5" y="582.2" width="1.2" height="1.2"/><rect x="78.8" y="582.0" width="1.2" height="1.2"/><rect x="67.6" y="581.6" width="1.2" height="1.2"/><rect x="72.2" y="565.4" width="1.2" height="1.2"/><rect x="72.3" y="565.4" width="1.2" height="1.2"/><rect x="72.1" y="565.7" width="1.2" height="1.2"/><rect x="72.2" y="565.9" width="1.2" height="1.2"/><rect x="72.3" y="565.8" width="1.2" height="1.2"/><rect x="72.3" y="566.1" width="1.2" height="1.2"/><rect x="67.1" y="570.4" width="1.2" height="1.2"/><rect x="66.5" y="570.1" width="1.2" height="1.2"/><rect x="66.6" y="570.0" width="1.2" height="1.2"/><rect x="66.8" y="570.0" width="1.2" height="1.2"/><rect x="67.0" y="569.5" width="1.2" height="1.2"/><rect x="71.9" y="583.2" width="1.2" height="1.2"/><rect x="72.2" y="583.4" width="1.2" height="1.2"/><rect x="72.1" y="582.6" width="1.2" height="1.2"/><rect x="71.6" y="582.8" width="1.2" height="1.2"/><rect x="84.6" y="576.8" width="1.2" height="1.2"/><rect x="83.8" y="578.4" width="1.2" height="1.2"/><rect x="83.5" y="578.7" width="1.2" height="1.2"/><rect x="84.4" y="579.3" width="1.2" height="1.2"/><rect x="83.6" y="579.2" width="1.2" height="1.2"/><rect x="83.7" y="578.5" width="1.2" height="1.2"/><rect x="75.4" y="583.3" width="1.2" height="1.2"/><rect x="74.6" y="582.5" width="1.2" height="1.2"/><rect x="74.6" y="582.8" width="1.2" height="1.2"/><rect x="88.0" y="569.3" width="1.2" height="1.2"/><rect x="87.4" y="569.3" width="1.2" height="1.2"/><rect x="88.1" y="568.9" width="1.2" height="1.2"/><rect x="87.2" y="568.0" width="1.2" height="1.2"/><rect x="87.1" y="567.9" width="1.2" height="1.2"/><rect x="66.9" y="580.9" width="1.2" height="1.2"/><rect x="66.7" y="581.0" width="1.2" height="1.2"/><rect x="67.3" y="580.6" width="1.2" height="1.2"/><rect x="66.9" y="581.2" width="1.2" height="1.2"/><rect x="72.8" y="582.6" width="1.2" height="1.2"/><rect x="72.7" y="583.2" width="1.2" height="1.2"/><rect x="72.5" y="583.1" width="1.2" height="1.2"/><rect x="73.1" y="582.8" width="1.2" height="1.2"/><rect x="72.6" y="583.2" width="1.2" height="1.2"/><rect x="73.1" y="583.0" width="1.2" height="1.2"/><rect x="82.5" y="566.1" width="1.2" height="1.2"/><rect x="82.8" y="565.5" width="1.2" height="1.2"/><rect x="82.6" y="566.0" width="1.2" height="1.2"/><rect x="82.9" y="565.6" width="1.2" height="1.2"/><rect x="83.1" y="566.3" width="1.2" height="1.2"/><rect x="82.8" y="566.1" width="1.2" height="1.2"/><rect x="82.5" y="566.0" width="1.2" height="1.2"/><rect x="73.6" y="583.1" width="1.2" height="1.2"/><rect x="73.9" y="583.2" width="1.2" height="1.2"/><rect x="65.9" y="578.5" width="1.2" height="1.2"/><rect x="65.8" y="578.9" width="1.2" height="1.2"/><rect x="65.9" y="579.4" width="1.2" height="1.2"/><rect x="65.8" y="579.1" width="1.2" height="1.2"/><rect x="66.3" y="579.0" width="1.2" height="1.2"/><rect x="66.3" y="579.4" width="1.2" height="1.2"/><rect x="68.7" y="581.5" width="1.2" height="1.2"/><rect x="69.2" y="581.8" width="1.2" height="1.2"/><rect x="68.5" y="581.7" width="1.2" height="1.2"/><rect x="69.3" y="582.2" width="1.2" height="1.2"/><rect x="81.9" y="566.1" width="1.2" height="1.2"/><rect x="82.2" y="566.1" width="1.2" height="1.2"/><rect x="82.0" y="566.1" width="1.2" height="1.2"/><rect x="82.0" y="565.8" width="1.2" height="1.2"/><rect x="69.7" y="566.8" width="1.2" height="1.2"/><rect x="69.6" y="567.0" width="1.2" height="1.2"/><rect x="69.8" y="567.4" width="1.2" height="1.2"/><rect x="80.6" y="565.8" width="1.2" height="1.2"/><rect x="73.1" y="566.1" width="1.2" height="1.2"/><rect x="73.4" y="566.0" width="1.2" height="1.2"/><rect x="73.0" y="565.9" width="1.2" height="1.2"/><rect x="72.9" y="566.3" width="1.2" height="1.2"/><rect x="73.1" y="565.6" width="1.2" height="1.2"/><rect x="72.5" y="566.1" width="1.2" height="1.2"/><rect x="72.5" y="566.2" width="1.2" height="1.2"/><rect x="77.4" y="582.3" width="1.2" height="1.2"/><rect x="77.9" y="581.9" width="1.2" height="1.2"/><rect x="77.5" y="581.5" width="1.2" height="1.2"/><rect x="77.6" y="581.6" width="1.2" height="1.2"/><rect x="77.8" y="582.0" width="1.2" height="1.2"/><rect x="87.5" y="573.3" width="1.2" height="1.2"/><rect x="66.1" y="573.1" width="1.2" height="1.2"/><rect x="65.6" y="573.1" width="1.2" height="1.2"/><rect x="65.9" y="572.5" width="1.2" height="1.2"/><rect x="82.5" y="580.3" width="1.2" height="1.2"/><rect x="83.2" y="579.5" width="1.2" height="1.2"/><rect x="82.6" y="580.0" width="1.2" height="1.2"/><rect x="82.5" y="580.0" width="1.2" height="1.2"/><rect x="82.5" y="579.5" width="1.2" height="1.2"/><rect x="82.9" y="579.5" width="1.2" height="1.2"/><rect x="80.1" y="566.2" width="1.2" height="1.2"/><rect x="69.5" y="581.6" width="1.2" height="1.2"/><rect x="69.8" y="581.7" width="1.2" height="1.2"/><rect x="69.5" y="582.0" width="1.2" height="1.2"/><rect x="70.3" y="582.0" width="1.2" height="1.2"/><rect x="69.6" y="581.6" width="1.2" height="1.2"/><rect x="67.7" y="569.0" width="1.2" height="1.2"/><rect x="67.7" y="569.3" width="1.2" height="1.2"/><rect x="68.2" y="568.6" width="1.2" height="1.2"/><rect x="68.4" y="568.4" width="1.2" height="1.2"/><rect x="67.9" y="569.1" width="1.2" height="1.2"/><rect x="86.3" y="575.3" width="1.2" height="1.2"/><rect x="86.3" y="574.6" width="1.2" height="1.2"/><rect x="85.9" y="574.4" width="1.2" height="1.2"/><rect x="87.4" y="573.8" width="1.2" height="1.2"/><rect x="78.5" y="566.1" width="1.2" height="1.2"/><rect x="78.7" y="565.6" width="1.2" height="1.2"/><rect x="78.5" y="566.0" width="1.2" height="1.2"/><rect x="79.4" y="566.3" width="1.2" height="1.2"/><rect x="73.6" y="565.7" width="1.2" height="1.2"/><rect x="74.3" y="565.7" width="1.2" height="1.2"/><rect x="73.5" y="565.6" width="1.2" height="1.2"/><rect x="73.7" y="566.2" width="1.2" height="1.2"/><rect x="80.8" y="581.2" width="1.2" height="1.2"/><rect x="81.1" y="580.8" width="1.2" height="1.2"/><rect x="80.8" y="580.7" width="1.2" height="1.2"/><rect x="81.2" y="581.1" width="1.2" height="1.2"/><rect x="81.0" y="581.4" width="1.2" height="1.2"/><rect x="81.4" y="581.4" width="1.2" height="1.2"/><rect x="66.2" y="577.5" width="1.2" height="1.2"/><rect x="65.7" y="577.5" width="1.2" height="1.2"/><rect x="66.3" y="578.3" width="1.2" height="1.2"/><rect x="69.1" y="567.7" width="1.2" height="1.2"/><rect x="69.2" y="568.2" width="1.2" height="1.2"/><rect x="69.1" y="567.5" width="1.2" height="1.2"/><rect x="69.0" y="568.2" width="1.2" height="1.2"/><rect x="85.2" y="567.0" width="1.2" height="1.2"/><rect x="85.0" y="566.4" width="1.2" height="1.2"/><rect x="85.1" y="567.0" width="1.2" height="1.2"/><rect x="85.1" y="567.4" width="1.2" height="1.2"/><rect x="84.5" y="566.9" width="1.2" height="1.2"/><rect x="67.3" y="571.4" width="1.2" height="1.2"/><rect x="66.6" y="571.4" width="1.2" height="1.2"/><rect x="67.3" y="571.0" width="1.2" height="1.2"/><rect x="66.8" y="570.5" width="1.2" height="1.2"/><rect x="67.1" y="570.7" width="1.2" height="1.2"/><rect x="67.2" y="570.8" width="1.2" height="1.2"/><rect x="66.8" y="570.8" width="1.2" height="1.2"/><rect x="70.5" y="581.9" width="1.2" height="1.2"/><rect x="70.5" y="581.8" width="1.2" height="1.2"/><rect x="70.8" y="582.1" width="1.2" height="1.2"/><rect x="67.5" y="581.3" width="1.2" height="1.2"/><rect x="68.0" y="580.5" width="1.2" height="1.2"/><rect x="67.8" y="581.2" width="1.2" height="1.2"/><rect x="66.8" y="579.9" width="1.2" height="1.2"/><rect x="66.8" y="579.9" width="1.2" height="1.2"/><rect x="67.4" y="579.9" width="1.2" height="1.2"/><rect x="67.3" y="580.1" width="1.2" height="1.2"/><rect x="66.7" y="579.5" width="1.2" height="1.2"/><rect x="87.8" y="569.7" width="1.2" height="1.2"/><rect x="87.5" y="570.1" width="1.2" height="1.2"/><rect x="88.3" y="570.2" width="1.2" height="1.2"/><rect x="87.6" y="569.6" width="1.2" height="1.2"/><rect x="87.9" y="569.6" width="1.2" height="1.2"/><rect x="78.2" y="565.6" width="1.2" height="1.2"/><rect x="77.4" y="565.9" width="1.2" height="1.2"/><rect x="77.7" y="565.8" width="1.2" height="1.2"/><rect x="77.7" y="565.9" width="1.2" height="1.2"/><rect x="78.1" y="565.4" width="1.2" height="1.2"/><rect x="74.8" y="565.8" width="1.2" height="1.2"/><rect x="74.6" y="565.5" width="1.2" height="1.2"/><rect x="74.8" y="565.8" width="1.2" height="1.2"/><rect x="77.4" y="581.7" width="1.2" height="1.2"/><rect x="77.1" y="581.9" width="1.2" height="1.2"/><rect x="77.0" y="582.3" width="1.2" height="1.2"/><rect x="65.6" y="574.4" width="1.2" height="1.2"/><rect x="66.2" y="573.8" width="1.2" height="1.2"/><rect x="66.4" y="573.7" width="1.2" height="1.2"/><rect x="65.8" y="573.8" width="1.2" height="1.2"/><rect x="65.9" y="573.7" width="1.2" height="1.2"/><rect x="66.4" y="574.4" width="1.2" height="1.2"/><rect x="88.0" y="571.5" width="1.2" height="1.2"/><rect x="88.1" y="571.5" width="1.2" height="1.2"/><rect x="87.8" y="571.5" width="1.2" height="1.2"/><rect x="88.3" y="572.1" width="1.2" height="1.2"/><rect x="87.8" y="572.3" width="1.2" height="1.2"/><rect x="88.3" y="571.5" width="1.2" height="1.2"/><rect x="87.7" y="571.7" width="1.2" height="1.2"/><rect x="76.4" y="566.1" width="1.2" height="1.2"/><rect x="75.8" y="565.7" width="1.2" height="1.2"/><rect x="75.9" y="565.8" width="1.2" height="1.2"/><rect x="75.7" y="565.9" width="1.2" height="1.2"/><rect x="77.2" y="566.4" width="1.2" height="1.2"/><rect x="76.6" y="565.8" width="1.2" height="1.2"/><rect x="77.1" y="565.9" width="1.2" height="1.2"/><rect x="84.9" y="576.4" width="1.2" height="1.2"/><rect x="85.0" y="575.5" width="1.2" height="1.2"/><rect x="66.3" y="576.8" width="1.2" height="1.2"/><rect x="65.5" y="577.1" width="1.2" height="1.2"/><rect x="65.7" y="576.6" width="1.2" height="1.2"/><rect x="66.0" y="577.2" width="1.2" height="1.2"/><rect x="72.0" y="581.7" width="1.2" height="1.2"/><rect x="72.1" y="581.4" width="1.2" height="1.2"/><rect x="71.5" y="582.1" width="1.2" height="1.2"/><rect x="71.9" y="581.6" width="1.2" height="1.2"/><rect x="71.8" y="582.4" width="1.2" height="1.2"/><rect x="72.1" y="582.2" width="1.2" height="1.2"/><rect x="83.8" y="578.2" width="1.2" height="1.2"/><rect x="83.6" y="577.4" width="1.2" height="1.2"/><rect x="84.3" y="578.2" width="1.2" height="1.2"/><rect x="70.7" y="567.4" width="1.2" height="1.2"/><rect x="71.0" y="566.8" width="1.2" height="1.2"/><rect x="71.2" y="567.2" width="1.2" height="1.2"/><rect x="71.2" y="566.5" width="1.2" height="1.2"/><rect x="70.8" y="567.4" width="1.2" height="1.2"/><rect x="71.4" y="566.6" width="1.2" height="1.2"/><rect x="65.6" y="574.5" width="1.2" height="1.2"/><rect x="65.9" y="574.6" width="1.2" height="1.2"/><rect x="66.4" y="574.7" width="1.2" height="1.2"/><rect x="66.0" y="574.4" width="1.2" height="1.2"/><rect x="65.7" y="574.9" width="1.2" height="1.2"/><rect x="66.0" y="574.8" width="1.2" height="1.2"/><rect x="66.0" y="575.1" width="1.2" height="1.2"/><rect x="88.1" y="570.4" width="1.2" height="1.2"/><rect x="88.1" y="570.8" width="1.2" height="1.2"/><rect x="87.5" y="571.0" width="1.2" height="1.2"/><rect x="87.5" y="570.4" width="1.2" height="1.2"/><rect x="66.1" y="576.2" width="1.2" height="1.2"/><rect x="65.7" y="575.7" width="1.2" height="1.2"/><rect x="66.4" y="576.3" width="1.2" height="1.2"/><rect x="65.6" y="575.7" width="1.2" height="1.2"/><rect x="76.2" y="582.2" width="1.2" height="1.2"/><rect x="75.9" y="581.7" width="1.2" height="1.2"/><rect x="75.7" y="581.5" width="1.2" height="1.2"/><rect x="75.7" y="581.5" width="1.2" height="1.2"/><rect x="76.3" y="582.0" width="1.2" height="1.2"/><rect x="73.1" y="581.5" width="1.2" height="1.2"/><rect x="73.1" y="581.8" width="1.2" height="1.2"/><rect x="73.2" y="581.4" width="1.2" height="1.2"/><rect x="73.0" y="582.0" width="1.2" height="1.2"/><rect x="68.4" y="580.9" width="1.2" height="1.2"/><rect x="68.7" y="580.5" width="1.2" height="1.2"/><rect x="68.6" y="581.4" width="1.2" height="1.2"/><rect x="86.4" y="569.2" width="1.2" height="1.2"/><rect x="86.6" y="569.1" width="1.2" height="1.2"/><rect x="87.2" y="569.0" width="1.2" height="1.2"/><rect x="86.7" y="568.4" width="1.2" height="1.2"/><rect x="87.1" y="569.2" width="1.2" height="1.2"/><rect x="86.8" y="568.7" width="1.2" height="1.2"/><rect x="87.2" y="568.7" width="1.2" height="1.2"/><rect x="79.9" y="580.5" width="1.2" height="1.2"/><rect x="80.0" y="581.1" width="1.2" height="1.2"/><rect x="80.3" y="580.6" width="1.2" height="1.2"/><rect x="80.1" y="580.8" width="1.2" height="1.2"/><rect x="74.4" y="582.2" width="1.2" height="1.2"/><rect x="74.1" y="582.2" width="1.2" height="1.2"/><rect x="73.9" y="581.9" width="1.2" height="1.2"/><rect x="74.0" y="582.0" width="1.2" height="1.2"/><rect x="74.1" y="581.5" width="1.2" height="1.2"/><rect x="73.9" y="582.4" width="1.2" height="1.2"/><rect x="74.2" y="581.5" width="1.2" height="1.2"/><rect x="74.9" y="581.5" width="1.2" height="1.2"/><rect x="75.3" y="581.6" width="1.2" height="1.2"/><rect x="74.9" y="581.8" width="1.2" height="1.2"/><rect x="75.1" y="582.3" width="1.2" height="1.2"/><rect x="66.7" y="578.7" width="1.2" height="1.2"/><rect x="67.3" y="578.9" width="1.2" height="1.2"/><rect x="66.8" y="572.3" width="1.2" height="1.2"/><rect x="66.8" y="571.9" width="1.2" height="1.2"/><rect x="67.3" y="571.8" width="1.2" height="1.2"/><rect x="67.2" y="572.3" width="1.2" height="1.2"/><rect x="67.3" y="572.1" width="1.2" height="1.2"/><rect x="66.8" y="572.2" width="1.2" height="1.2"/><rect x="66.7" y="571.8" width="1.2" height="1.2"/><rect x="83.7" y="566.9" width="1.2" height="1.2"/><rect x="83.6" y="566.7" width="1.2" height="1.2"/><rect x="67.9" y="570.2" width="1.2" height="1.2"/><rect x="67.9" y="570.0" width="1.2" height="1.2"/><rect x="67.8" y="570.2" width="1.2" height="1.2"/><rect x="67.7" y="570.0" width="1.2" height="1.2"/><rect x="67.7" y="570.1" width="1.2" height="1.2"/><rect x="68.2" y="570.3" width="1.2" height="1.2"/><rect x="87.3" y="572.4" width="1.2" height="1.2"/><rect x="87.4" y="573.1" width="1.2" height="1.2"/><rect x="86.9" y="572.9" width="1.2" height="1.2"/><rect x="86.9" y="573.1" width="1.2" height="1.2"/><rect x="69.8" y="581.0" width="1.2" height="1.2"/><rect x="69.9" y="581.1" width="1.2" height="1.2"/><rect x="70.2" y="580.8" width="1.2" height="1.2"/><rect x="70.0" y="581.1" width="1.2" height="1.2"/><rect x="69.8" y="581.1" width="1.2" height="1.2"/><rect x="70.0" y="581.1" width="1.2" height="1.2"/><rect x="69.9" y="581.4" width="1.2" height="1.2"/><rect x="70.0" y="581.0" width="1.2" height="1.2"/><rect x="72.1" y="566.6" width="1.2" height="1.2"/><rect x="72.0" y="566.4" width="1.2" height="1.2"/><rect x="72.0" y="567.3" width="1.2" height="1.2"/><rect x="71.9" y="567.4" width="1.2" height="1.2"/><rect x="68.0" y="579.5" width="1.2" height="1.2"/><rect x="67.9" y="580.1" width="1.2" height="1.2"/><rect x="68.2" y="580.0" width="1.2" height="1.2"/><rect x="67.7" y="579.5" width="1.2" height="1.2"/><rect x="67.8" y="580.2" width="1.2" height="1.2"/><rect x="68.3" y="579.9" width="1.2" height="1.2"/><rect x="67.8" y="579.9" width="1.2" height="1.2"/><rect x="67.8" y="579.8" width="1.2" height="1.2"/><rect x="68.1" y="580.3" width="1.2" height="1.2"/><rect x="82.1" y="579.4" width="1.2" height="1.2"/><rect x="82.0" y="580.4" width="1.2" height="1.2"/><rect x="82.2" y="580.0" width="1.2" height="1.2"/><rect x="82.3" y="580.1" width="1.2" height="1.2"/><rect x="82.0" y="580.0" width="1.2" height="1.2"/><rect x="69.6" y="567.4" width="1.2" height="1.2"/><rect x="69.9" y="567.5" width="1.2" height="1.2"/><rect x="70.1" y="568.4" width="1.2" height="1.2"/><rect x="85.8" y="573.4" width="1.2" height="1.2"/><rect x="85.5" y="573.5" width="1.2" height="1.2"/><rect x="86.3" y="573.9" width="1.2" height="1.2"/><rect x="83.1" y="578.6" width="1.2" height="1.2"/><rect x="83.3" y="579.0" width="1.2" height="1.2"/><rect x="82.7" y="578.5" width="1.2" height="1.2"/><rect x="82.7" y="579.1" width="1.2" height="1.2"/><rect x="83.4" y="579.0" width="1.2" height="1.2"/><rect x="83.4" y="579.4" width="1.2" height="1.2"/><rect x="78.4" y="580.8" width="1.2" height="1.2"/><rect x="79.3" y="580.6" width="1.2" height="1.2"/><rect x="78.7" y="580.4" width="1.2" height="1.2"/><rect x="78.6" y="580.8" width="1.2" height="1.2"/><rect x="69.2" y="569.3" width="1.2" height="1.2"/><rect x="68.7" y="568.9" width="1.2" height="1.2"/><rect x="68.6" y="568.4" width="1.2" height="1.2"/><rect x="69.3" y="569.2" width="1.2" height="1.2"/><rect x="70.8" y="580.6" width="1.2" height="1.2"/><rect x="70.6" y="581.0" width="1.2" height="1.2"/><rect x="66.9" y="578.2" width="1.2" height="1.2"/><rect x="67.0" y="578.0" width="1.2" height="1.2"/><rect x="67.0" y="577.9" width="1.2" height="1.2"/><rect x="66.5" y="578.3" width="1.2" height="1.2"/><rect x="67.3" y="578.2" width="1.2" height="1.2"/><rect x="66.6" y="578.0" width="1.2" height="1.2"/><rect x="67.0" y="578.2" width="1.2" height="1.2"/><rect x="83.7" y="577.0" width="1.2" height="1.2"/><rect x="83.6" y="576.7" width="1.2" height="1.2"/><rect x="83.7" y="576.9" width="1.2" height="1.2"/><rect x="83.8" y="576.8" width="1.2" height="1.2"/><rect x="84.2" y="577.1" width="1.2" height="1.2"/><rect x="84.0" y="577.3" width="1.2" height="1.2"/><rect x="82.6" y="567.0" width="1.2" height="1.2"/><rect x="83.0" y="566.6" width="1.2" height="1.2"/><rect x="82.5" y="566.6" width="1.2" height="1.2"/><rect x="82.8" y="566.6" width="1.2" height="1.2"/><rect x="83.0" y="566.5" width="1.2" height="1.2"/><rect x="82.6" y="566.7" width="1.2" height="1.2"/><rect x="82.5" y="567.2" width="1.2" height="1.2"/><rect x="82.7" y="567.0" width="1.2" height="1.2"/><rect x="67.1" y="573.2" width="1.2" height="1.2"/><rect x="67.3" y="573.1" width="1.2" height="1.2"/><rect x="67.3" y="573.4" width="1.2" height="1.2"/><rect x="66.8" y="573.0" width="1.2" height="1.2"/><rect x="66.6" y="573.3" width="1.2" height="1.2"/><rect x="73.0" y="567.2" width="1.2" height="1.2"/><rect x="73.3" y="567.2" width="1.2" height="1.2"/><rect x="73.4" y="566.9" width="1.2" height="1.2"/><rect x="73.1" y="566.7" width="1.2" height="1.2"/><rect x="73.2" y="566.6" width="1.2" height="1.2"/><rect x="73.1" y="566.9" width="1.2" height="1.2"/><rect x="84.9" y="575.3" width="1.2" height="1.2"/><rect x="84.5" y="574.4" width="1.2" height="1.2"/><rect x="84.8" y="575.1" width="1.2" height="1.2"/><rect x="85.0" y="575.4" width="1.2" height="1.2"/><rect x="71.8" y="581.1" width="1.2" height="1.2"/><rect x="72.1" y="580.7" width="1.2" height="1.2"/><rect x="86.4" y="570.4" width="1.2" height="1.2"/><rect x="86.7" y="570.0" width="1.2" height="1.2"/><rect x="86.8" y="569.6" width="1.2" height="1.2"/><rect x="87.0" y="570.1" width="1.2" height="1.2"/><rect x="86.5" y="569.5" width="1.2" height="1.2"/><rect x="87.2" y="569.6" width="1.2" height="1.2"/><rect x="81.7" y="566.4" width="1.2" height="1.2"/><rect x="81.4" y="566.7" width="1.2" height="1.2"/><rect x="82.2" y="567.2" width="1.2" height="1.2"/><rect x="81.7" y="566.8" width="1.2" height="1.2"/><rect x="81.6" y="566.7" width="1.2" height="1.2"/><rect x="78.0" y="581.3" width="1.2" height="1.2"/><rect x="78.1" y="581.0" width="1.2" height="1.2"/><rect x="78.3" y="580.9" width="1.2" height="1.2"/><rect x="85.3" y="567.6" width="1.2" height="1.2"/><rect x="85.0" y="568.3" width="1.2" height="1.2"/><rect x="85.0" y="567.7" width="1.2" height="1.2"/><rect x="84.5" y="567.6" width="1.2" height="1.2"/><rect x="84.5" y="568.3" width="1.2" height="1.2"/><rect x="84.6" y="567.6" width="1.2" height="1.2"/><rect x="85.0" y="567.9" width="1.2" height="1.2"/><rect x="84.5" y="567.4" width="1.2" height="1.2"/><rect x="85.3" y="567.9" width="1.2" height="1.2"/><rect x="80.6" y="567.1" width="1.2" height="1.2"/><rect x="80.5" y="567.0" width="1.2" height="1.2"/><rect x="81.4" y="566.8" width="1.2" height="1.2"/><rect x="81.0" y="566.9" width="1.2" height="1.2"/><rect x="68.5" y="579.6" width="1.2" height="1.2"/><rect x="69.2" y="579.8" width="1.2" height="1.2"/><rect x="68.7" y="580.2" width="1.2" height="1.2"/><rect x="68.5" y="579.6" width="1.2" height="1.2"/><rect x="69.0" y="580.3" width="1.2" height="1.2"/><rect x="69.0" y="579.6" width="1.2" height="1.2"/><rect x="69.0" y="579.5" width="1.2" height="1.2"/><rect x="86.8" y="571.6" width="1.2" height="1.2"/><rect x="86.7" y="572.4" width="1.2" height="1.2"/><rect x="86.7" y="572.3" width="1.2" height="1.2"/><rect x="86.8" y="571.5" width="1.2" height="1.2"/><rect x="86.9" y="572.3" width="1.2" height="1.2"/><rect x="86.9" y="571.8" width="1.2" height="1.2"/><rect x="86.9" y="571.6" width="1.2" height="1.2"/><rect x="86.9" y="571.5" width="1.2" height="1.2"/><rect x="86.7" y="571.7" width="1.2" height="1.2"/><rect x="86.5" y="571.8" width="1.2" height="1.2"/><rect x="86.8" y="572.4" width="1.2" height="1.2"/><rect x="80.3" y="566.5" width="1.2" height="1.2"/><rect x="74.1" y="566.5" width="1.2" height="1.2"/><rect x="73.7" y="566.8" width="1.2" height="1.2"/><rect x="73.5" y="567.3" width="1.2" height="1.2"/><rect x="74.2" y="566.7" width="1.2" height="1.2"/><rect x="68.2" y="571.3" width="1.2" height="1.2"/><rect x="68.2" y="570.9" width="1.2" height="1.2"/><rect x="68.0" y="571.3" width="1.2" height="1.2"/><rect x="68.3" y="570.7" width="1.2" height="1.2"/><rect x="67.7" y="570.9" width="1.2" height="1.2"/><rect x="67.8" y="570.7" width="1.2" height="1.2"/><rect x="67.9" y="570.6" width="1.2" height="1.2"/><rect x="66.7" y="577.3" width="1.2" height="1.2"/><rect x="66.9" y="577.0" width="1.2" height="1.2"/><rect x="66.8" y="577.2" width="1.2" height="1.2"/><rect x="67.1" y="577.1" width="1.2" height="1.2"/><rect x="68.4" y="578.5" width="1.2" height="1.2"/><rect x="68.3" y="579.1" width="1.2" height="1.2"/><rect x="67.5" y="578.5" width="1.2" height="1.2"/><rect x="67.9" y="578.6" width="1.2" height="1.2"/><rect x="73.3" y="580.8" width="1.2" height="1.2"/><rect x="73.0" y="580.5" width="1.2" height="1.2"/><rect x="72.7" y="581.1" width="1.2" height="1.2"/><rect x="73.2" y="581.1" width="1.2" height="1.2"/><rect x="72.7" y="581.1" width="1.2" height="1.2"/><rect x="79.1" y="566.5" width="1.2" height="1.2"/><rect x="79.0" y="566.4" width="1.2" height="1.2"/><rect x="79.0" y="566.5" width="1.2" height="1.2"/><rect x="85.9" y="568.6" width="1.2" height="1.2"/><rect x="85.4" y="568.5" width="1.2" height="1.2"/><rect x="85.7" y="569.2" width="1.2" height="1.2"/><rect x="85.6" y="568.5" width="1.2" height="1.2"/><rect x="85.4" y="568.5" width="1.2" height="1.2"/><rect x="66.5" y="574.0" width="1.2" height="1.2"/><rect x="67.0" y="574.4" width="1.2" height="1.2"/><rect x="67.3" y="574.3" width="1.2" height="1.2"/><rect x="67.3" y="574.0" width="1.2" height="1.2"/><rect x="67.0" y="573.5" width="1.2" height="1.2"/><rect x="67.3" y="573.7" width="1.2" height="1.2"/><rect x="74.6" y="566.6" width="1.2" height="1.2"/><rect x="74.8" y="567.0" width="1.2" height="1.2"/><rect x="75.0" y="567.4" width="1.2" height="1.2"/><rect x="75.0" y="567.2" width="1.2" height="1.2"/><rect x="74.4" y="566.9" width="1.2" height="1.2"/><rect x="75.4" y="566.5" width="1.2" height="1.2"/><rect x="75.2" y="567.0" width="1.2" height="1.2"/><rect x="75.3" y="566.7" width="1.2" height="1.2"/><rect x="86.4" y="571.2" width="1.2" height="1.2"/><rect x="87.2" y="571.4" width="1.2" height="1.2"/><rect x="86.7" y="570.9" width="1.2" height="1.2"/><rect x="86.8" y="571.1" width="1.2" height="1.2"/><rect x="86.5" y="571.1" width="1.2" height="1.2"/><rect x="86.4" y="571.3" width="1.2" height="1.2"/><rect x="77.9" y="567.2" width="1.2" height="1.2"/><rect x="78.3" y="567.1" width="1.2" height="1.2"/><rect x="78.1" y="567.2" width="1.2" height="1.2"/><rect x="77.6" y="566.8" width="1.2" height="1.2"/><rect x="78.0" y="567.2" width="1.2" height="1.2"/><rect x="77.7" y="567.1" width="1.2" height="1.2"/><rect x="77.6" y="566.7" width="1.2" height="1.2"/><rect x="78.4" y="567.2" width="1.2" height="1.2"/><rect x="78.0" y="566.6" width="1.2" height="1.2"/><rect x="76.7" y="581.0" width="1.2" height="1.2"/><rect x="76.9" y="580.8" width="1.2" height="1.2"/><rect x="76.4" y="580.9" width="1.2" height="1.2"/><rect x="77.2" y="580.4" width="1.2" height="1.2"/><rect x="76.6" y="580.9" width="1.2" height="1.2"/><rect x="77.4" y="581.4" width="1.2" height="1.2"/><rect x="76.7" y="580.9" width="1.2" height="1.2"/><rect x="76.8" y="581.0" width="1.2" height="1.2"/><rect x="76.6" y="580.5" width="1.2" height="1.2"/><rect x="71.1" y="568.0" width="1.2" height="1.2"/><rect x="70.5" y="568.0" width="1.2" height="1.2"/><rect x="71.1" y="567.7" width="1.2" height="1.2"/><rect x="70.9" y="568.3" width="1.2" height="1.2"/><rect x="70.4" y="568.4" width="1.2" height="1.2"/><rect x="70.9" y="568.0" width="1.2" height="1.2"/><rect x="75.7" y="566.7" width="1.2" height="1.2"/><rect x="76.0" y="566.5" width="1.2" height="1.2"/><rect x="76.0" y="566.9" width="1.2" height="1.2"/><rect x="75.4" y="566.9" width="1.2" height="1.2"/><rect x="75.4" y="566.6" width="1.2" height="1.2"/><rect x="75.7" y="566.4" width="1.2" height="1.2"/><rect x="77.0" y="567.1" width="1.2" height="1.2"/><rect x="76.5" y="566.8" width="1.2" height="1.2"/><rect x="76.9" y="567.0" width="1.2" height="1.2"/><rect x="81.2" y="580.2" width="1.2" height="1.2"/><rect x="81.0" y="579.7" width="1.2" height="1.2"/><rect x="80.6" y="579.6" width="1.2" height="1.2"/><rect x="80.9" y="580.3" width="1.2" height="1.2"/><rect x="81.0" y="580.0" width="1.2" height="1.2"/><rect x="80.8" y="579.7" width="1.2" height="1.2"/><rect x="80.7" y="579.8" width="1.2" height="1.2"/><rect x="66.5" y="576.2" width="1.2" height="1.2"/><rect x="67.3" y="576.1" width="1.2" height="1.2"/><rect x="67.0" y="576.3" width="1.2" height="1.2"/><rect x="66.4" y="575.8" width="1.2" height="1.2"/><rect x="73.7" y="580.6" width="1.2" height="1.2"/><rect x="73.7" y="581.3" width="1.2" height="1.2"/><rect x="73.8" y="580.5" width="1.2" height="1.2"/><rect x="73.8" y="580.4" width="1.2" height="1.2"/><rect x="73.7" y="581.4" width="1.2" height="1.2"/><rect x="74.2" y="581.2" width="1.2" height="1.2"/><rect x="69.7" y="579.8" width="1.2" height="1.2"/><rect x="70.3" y="579.8" width="1.2" height="1.2"/><rect x="69.9" y="579.7" width="1.2" height="1.2"/><rect x="67.3" y="574.9" width="1.2" height="1.2"/><rect x="67.0" y="574.5" width="1.2" height="1.2"/><rect x="66.8" y="575.3" width="1.2" height="1.2"/><rect x="67.3" y="574.7" width="1.2" height="1.2"/><rect x="66.6" y="574.4" width="1.2" height="1.2"/><rect x="67.1" y="575.3" width="1.2" height="1.2"/><rect x="66.7" y="575.3" width="1.2" height="1.2"/><rect x="75.7" y="580.7" width="1.2" height="1.2"/><rect x="75.4" y="581.1" width="1.2" height="1.2"/><rect x="76.1" y="581.3" width="1.2" height="1.2"/><rect x="76.3" y="581.0" width="1.2" height="1.2"/><rect x="76.0" y="581.3" width="1.2" height="1.2"/><rect x="76.1" y="580.4" width="1.2" height="1.2"/><rect x="75.5" y="581.2" width="1.2" height="1.2"/><rect x="74.7" y="580.9" width="1.2" height="1.2"/><rect x="74.9" y="581.1" width="1.2" height="1.2"/><rect x="74.4" y="581.2" width="1.2" height="1.2"/><rect x="75.2" y="581.0" width="1.2" height="1.2"/><rect x="85.7" y="573.2" width="1.2" height="1.2"/><rect x="86.4" y="573.3" width="1.2" height="1.2"/><rect x="86.3" y="572.8" width="1.2" height="1.2"/><rect x="83.8" y="575.9" width="1.2" height="1.2"/><rect x="83.4" y="575.8" width="1.2" height="1.2"/><rect x="84.0" y="576.2" width="1.2" height="1.2"/><rect x="83.6" y="575.5" width="1.2" height="1.2"/><rect x="83.5" y="575.5" width="1.2" height="1.2"/><rect x="84.4" y="576.1" width="1.2" height="1.2"/><rect x="83.5" y="575.4" width="1.2" height="1.2"/><rect x="83.8" y="576.1" width="1.2" height="1.2"/></g>
<g fill="#86ee4a"><rect x="80.5" y="527.0" width="1.4" height="1.4"/><rect x="78.1" y="528.9" width="1.4" height="1.4"/><rect x="65.6" y="533.3" width="1.4" height="1.4"/><rect x="65.6" y="536.3" width="1.4" height="1.4"/><rect x="73.7" y="535.3" width="1.4" height="1.4"/><rect x="84.7" y="535.1" width="1.4" height="1.4"/><rect x="38.1" y="554.5" width="1.4" height="1.4"/><rect x="71.4" y="540.1" width="1.4" height="1.4"/><rect x="63.1" y="543.3" width="1.4" height="1.4"/><rect x="65.1" y="543.3" width="1.4" height="1.4"/><rect x="91.8" y="544.8" width="1.4" height="1.4"/><rect x="92.8" y="542.8" width="1.4" height="1.4"/><rect x="87.3" y="546.3" width="1.4" height="1.4"/><rect x="100.3" y="549.3" width="1.4" height="1.4"/><rect x="102.3" y="550.8" width="1.4" height="1.4"/><rect x="117.3" y="552.3" width="1.4" height="1.4"/><rect x="120.3" y="551.8" width="1.4" height="1.4"/></g>
<ellipse cx="78.2" cy="572.4" rx="11.6" ry="7.6" transform="rotate(-9 78.2 572.4)" fill="url(#bluegrad)"/>
<line x1="35" y1="557.1" x2="127.4" y2="557.1" stroke="#b4b4b4" stroke-width="1.2"/>
<line x1="34.5" y1="581.8" x2="134.7" y2="563.0" stroke="#f0101a" stroke-width="1.5"/>
<g stroke="#222" stroke-width="1" fill="none">
<line x1="34.5" y1="483.8" x2="34.5" y2="616.8"/>
<line x1="34" y1="616.7" x2="134.7" y2="616.7" stroke-width="1.15"/>
<line x1="31.5" y1="488.5" x2="34.5" y2="488.5"/>
<line x1="31.5" y1="502.2" x2="34.5" y2="502.2"/>
<line x1="31.5" y1="515.8" x2="34.5" y2="515.8"/>
<line x1="31.5" y1="529.5" x2="34.5" y2="529.5"/>
<line x1="31.5" y1="543.1" x2="34.5" y2="543.1"/>
<line x1="31.5" y1="556.8" x2="34.5" y2="556.8"/>
<line x1="31.5" y1="570.4" x2="34.5" y2="570.4"/>
<line x1="31.5" y1="584.1" x2="34.5" y2="584.1"/>
<line x1="31.5" y1="597.8" x2="34.5" y2="597.8"/>
<line x1="31.5" y1="611.4" x2="34.5" y2="611.4"/>
<line x1="38.2" y1="616.5" x2="38.2" y2="619.5"/>
<line x1="51.6" y1="616.5" x2="51.6" y2="619.5"/>
<line x1="65.0" y1="616.5" x2="65.0" y2="619.5"/>
<line x1="78.5" y1="616.5" x2="78.5" y2="619.5"/>
<line x1="91.9" y1="616.5" x2="91.9" y2="619.5"/>
<line x1="105.3" y1="616.5" x2="105.3" y2="619.5"/>
<line x1="118.7" y1="616.5" x2="118.7" y2="619.5"/>
</g>
<text x="29" y="490.7" font-size="6.2" text-anchor="end" fill="#222" font-weight="normal" class="tk">10</text>
<text x="29" y="504.4" font-size="6.2" text-anchor="end" fill="#222" font-weight="normal" class="tk">8</text>
<text x="29" y="518" font-size="6.2" text-anchor="end" fill="#222" font-weight="normal" class="tk">6</text>
<text x="29" y="531.7" font-size="6.2" text-anchor="end" fill="#222" font-weight="normal" class="tk">4</text>
<text x="29" y="545.3" font-size="6.2" text-anchor="end" fill="#222" font-weight="normal" class="tk">2</text>
<text x="29" y="559" font-size="6.2" text-anchor="end" fill="#222" font-weight="normal" class="tk">0</text>
<text x="29" y="572.6" font-size="6.2" text-anchor="end" fill="#222" font-weight="normal" class="tk">-2</text>
<text x="29" y="586.3" font-size="6.2" text-anchor="end" fill="#222" font-weight="normal" class="tk">-4</text>
<text x="29" y="600" font-size="6.2" text-anchor="end" fill="#222" font-weight="normal" class="tk">-6</text>
<text x="29" y="613.6" font-size="6.2" text-anchor="end" fill="#222" font-weight="normal" class="tk">-8</text>
<text x="38.2" y="628.7" font-size="6.2" text-anchor="middle" fill="#222" font-weight="normal" class="tk">0</text>
<text x="51.6" y="628.7" font-size="6.2" text-anchor="middle" fill="#222" font-weight="normal" class="tk">2</text>
<text x="65" y="628.7" font-size="6.2" text-anchor="middle" fill="#222" font-weight="normal" class="tk">4</text>
<text x="78.5" y="628.7" font-size="6.2" text-anchor="middle" fill="#222" font-weight="normal" class="tk">6</text>
<text x="91.9" y="628.7" font-size="6.2" text-anchor="middle" fill="#222" font-weight="normal" class="tk">8</text>
<text x="105.3" y="628.7" font-size="6.2" text-anchor="middle" fill="#222" font-weight="normal" class="tk">10</text>
<text x="118.7" y="628.7" font-size="6.2" text-anchor="middle" fill="#222" font-weight="normal" class="tk">12</text>
<text x="51.1" y="498.9" font-size="4.6" text-anchor="start" fill="#222" font-weight="normal" textLength="49.9" lengthAdjust="spacingAndGlyphs" class="tk">y = 0.1706x − 0.3364</text>
<text x="51.1" y="505.1" font-size="4.6" fill="#222" textLength="31.9" lengthAdjust="spacingAndGlyphs"><tspan font-style="italic">P</tspan> &lt; 1.84E-32</text>
<text class="ti" x="52.2" y="640.0" font-size="7.8" fill="#222" textLength="64.5" lengthAdjust="spacingAndGlyphs">Log<tspan font-size="5" dy="1.6">2</tspan><tspan dy="-1.6">(protein half life (h))</tspan></text>
<text class="ti" transform="translate(16.0 550.6) rotate(-90)" x="0" y="0" font-size="7.8" fill="#222" text-anchor="middle" textLength="88.4" lengthAdjust="spacingAndGlyphs">Log<tspan font-size="5" dy="1.6">2</tspan><tspan dy="-1.6">(protein copy number 72h/0h)</tspan></text>
<g stroke="#222" stroke-width="1" fill="none">
<line x1="177.4" y1="481.5" x2="177.4" y2="617.2"/>
<line x1="176.9" y1="616.9" x2="276.8" y2="616.9" stroke="#111" stroke-width="1.3"/>
<line x1="174.20" y1="616.70" x2="177.4" y2="616.70"/>
<line x1="175.40" y1="600.04" x2="177.4" y2="600.04"/>
<line x1="174.20" y1="583.38" x2="177.4" y2="583.38"/>
<line x1="175.40" y1="566.72" x2="177.4" y2="566.72"/>
<line x1="174.20" y1="550.06" x2="177.4" y2="550.06"/>
<line x1="175.40" y1="533.40" x2="177.4" y2="533.40"/>
<line x1="174.20" y1="516.74" x2="177.4" y2="516.74"/>
<line x1="175.40" y1="500.08" x2="177.4" y2="500.08"/>
<line x1="174.20" y1="483.42" x2="177.4" y2="483.42"/>
<line x1="177.40" y1="617" x2="177.40" y2="620.00"/>
<line x1="192.33" y1="617" x2="192.33" y2="619.00"/>
<line x1="207.27" y1="617" x2="207.27" y2="620.00"/>
<line x1="222.20" y1="617" x2="222.20" y2="619.00"/>
<line x1="237.13" y1="617" x2="237.13" y2="620.00"/>
<line x1="252.06" y1="617" x2="252.06" y2="619.00"/>
<line x1="267.00" y1="617" x2="267.00" y2="620.00"/>
</g>
<text x="171.7" y="485.62" font-size="6.2" text-anchor="end" fill="#222" font-weight="normal" class="tk">0.8</text>
<text x="171.7" y="518.94" font-size="6.2" text-anchor="end" fill="#222" font-weight="normal" class="tk">0.6</text>
<text x="171.7" y="552.26" font-size="6.2" text-anchor="end" fill="#222" font-weight="normal" class="tk">0.4</text>
<text x="171.7" y="585.58" font-size="6.2" text-anchor="end" fill="#222" font-weight="normal" class="tk">0.2</text>
<text x="171.7" y="618.9" font-size="6.2" text-anchor="end" fill="#222" font-weight="normal" class="tk">0</text>
<text x="177.4" y="628.3" font-size="6.2" text-anchor="middle" fill="#222" font-weight="normal" class="tk">0</text>
<text x="207.27" y="628.3" font-size="6.2" text-anchor="middle" fill="#222" font-weight="normal" class="tk">24</text>
<text x="237.13" y="628.3" font-size="6.2" text-anchor="middle" fill="#222" font-weight="normal" class="tk">48</text>
<text x="267" y="628.3" font-size="6.2" text-anchor="middle" fill="#222" font-weight="normal" class="tk">72</text>
<text x="198.1" y="639.8" font-size="8" text-anchor="start" fill="#222" font-weight="normal" textLength="58.7" lengthAdjust="spacingAndGlyphs" class="ti">Differentiation time (h)</text>
<text transform="translate(156.6 550.4) rotate(-90)" x="0" y="0" font-size="7.6" text-anchor="middle" fill="#222" textLength="49.5" lengthAdjust="spacingAndGlyphs" class="ti">Pearson correlation</text>
<polyline points="177.40,517.24 192.33,519.57 207.27,522.74 222.20,539.06 237.13,550.23 267.00,555.22" fill="none" stroke="#c0143c" stroke-width="1.35"/>
<circle cx="177.40" cy="517.24" r="2.4" fill="#c0143c"/>
<circle cx="192.33" cy="519.57" r="2.4" fill="#c0143c"/>
<circle cx="207.27" cy="522.74" r="2.4" fill="#c0143c"/>
<circle cx="222.20" cy="539.06" r="2.4" fill="#c0143c"/>
<circle cx="237.13" cy="550.23" r="2.4" fill="#c0143c"/>
<circle cx="267.00" cy="555.22" r="2.4" fill="#c0143c"/>
<polyline points="177.40,502.25 192.33,505.24 207.27,510.08 222.20,529.07 237.13,538.23 267.00,543.23" fill="none" stroke="#e8921e" stroke-width="1.35"/>
<circle cx="177.40" cy="502.25" r="2.4" fill="#e8921e"/>
<circle cx="192.33" cy="505.24" r="2.4" fill="#e8921e"/>
<circle cx="207.27" cy="510.08" r="2.4" fill="#e8921e"/>
<circle cx="222.20" cy="529.07" r="2.4" fill="#e8921e"/>
<circle cx="237.13" cy="538.23" r="2.4" fill="#e8921e"/>
<circle cx="267.00" cy="543.23" r="2.4" fill="#e8921e"/>
<polyline points="177.40,502.08 192.33,503.25 207.27,504.74 222.20,520.24 237.13,532.07 267.00,539.56" fill="none" stroke="#6db33f" stroke-width="1.35"/>
<circle cx="177.40" cy="502.08" r="2.4" fill="#6db33f"/>
<circle cx="192.33" cy="503.25" r="2.4" fill="#6db33f"/>
<circle cx="207.27" cy="504.74" r="2.4" fill="#6db33f"/>
<circle cx="222.20" cy="520.24" r="2.4" fill="#6db33f"/>
<circle cx="237.13" cy="532.07" r="2.4" fill="#6db33f"/>
<circle cx="267.00" cy="539.56" r="2.4" fill="#6db33f"/>
<polyline points="177.40,503.91 192.33,504.08 207.27,506.08 222.20,515.74 237.13,523.40 267.00,529.24" fill="none" stroke="#2b4c8c" stroke-width="1.35"/>
<circle cx="177.40" cy="503.91" r="2.4" fill="#2b4c8c"/>
<circle cx="192.33" cy="504.08" r="2.4" fill="#2b4c8c"/>
<circle cx="207.27" cy="506.08" r="2.4" fill="#2b4c8c"/>
<circle cx="222.20" cy="515.74" r="2.4" fill="#2b4c8c"/>
<circle cx="237.13" cy="523.40" r="2.4" fill="#2b4c8c"/>
<circle cx="267.00" cy="529.24" r="2.4" fill="#2b4c8c"/>
<line x1="287" y1="530.6" x2="296.6" y2="530.6" stroke="#c0143c" stroke-width="1.4"/>
<circle cx="291.6" cy="530.6" r="2.3" fill="#c0143c"/>
<text x="299.8" y="532.4" font-size="5" text-anchor="start" fill="#222" font-weight="normal" class="tk">mRNA/Protein</text>
<line x1="287" y1="540.8" x2="296.6" y2="540.8" stroke="#e8921e" stroke-width="1.4"/>
<circle cx="291.6" cy="540.8" r="2.3" fill="#e8921e"/>
<text x="299.8" y="542.6" font-size="5" text-anchor="start" fill="#222" font-weight="normal" class="tk">TE-corrected mRNA/Protein</text>
<line x1="287" y1="550.5" x2="296.6" y2="550.5" stroke="#6db33f" stroke-width="1.4"/>
<circle cx="291.6" cy="550.5" r="2.3" fill="#6db33f"/>
<text x="299.8" y="552.3" font-size="5" text-anchor="start" fill="#222" font-weight="normal" class="tk">mRNA/Half-life corrected protein</text>
<line x1="287" y1="560.6" x2="296.6" y2="560.6" stroke="#2b4c8c" stroke-width="1.4"/>
<circle cx="291.6" cy="560.6" r="2.3" fill="#2b4c8c"/>
<text x="299.8" y="562.4" font-size="5" text-anchor="start" fill="#222" font-weight="normal" class="tk">TE-corrected mRNA/Half-</text>
<text x="299.8" y="569.1" font-size="5" text-anchor="start" fill="#222" font-weight="normal" class="tk">life corrected protein</text>
<rect x="0.5" y="0.5" width="519" height="650" fill="none" stroke="#000" stroke-width="1.2"/>
</svg></body></html>
